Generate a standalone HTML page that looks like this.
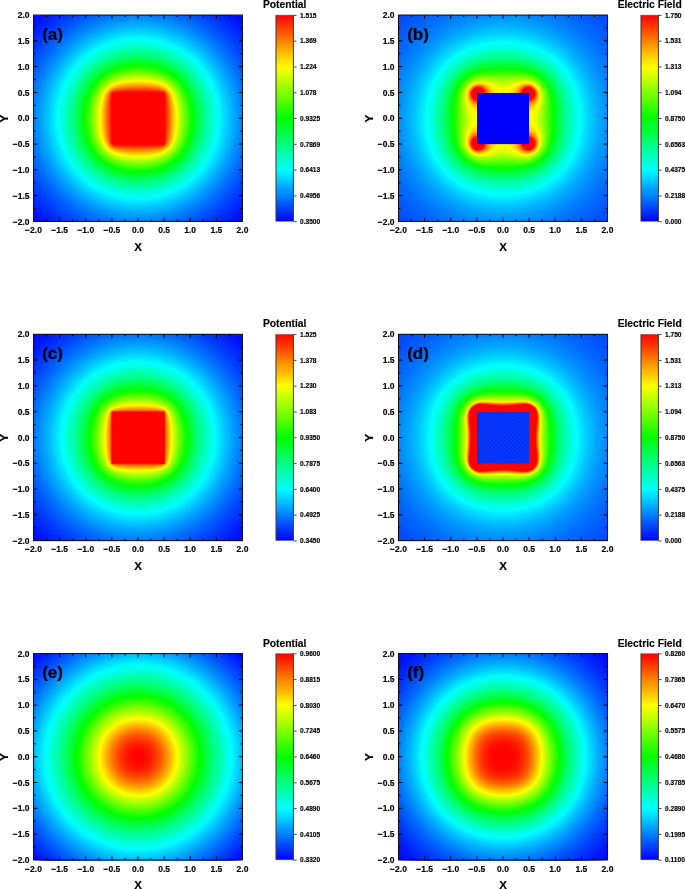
<!DOCTYPE html>
<html><head><meta charset="utf-8"><title>Potential and electric field of a charged cube</title>
<style>
html,body{margin:0;padding:0;background:#fff}
svg{display:block}
text{font-family:"Liberation Sans",sans-serif;font-weight:bold;fill:#000}
.tk text{font-size:8.5px;stroke:#000;stroke-width:.15px}
.cl text{font-size:6.6px;stroke:#000;stroke-width:.15px}
.ax{font-size:10.3px;stroke:#000;stroke-width:.15px}
.tag{font-size:17px;stroke:#000;stroke-width:.2px}
</style></head><body>
<svg width="685" height="889" viewBox="0 0 685 889">
<defs>
<linearGradient id="cb" x1="0" y1="1" x2="0" y2="0"><stop offset=".00" stop-color="#0005ff"/><stop offset=".01" stop-color="#0005ff"/><stop offset=".01" stop-color="#000fff"/><stop offset=".02" stop-color="#000fff"/><stop offset=".02" stop-color="#001aff"/><stop offset=".03" stop-color="#001aff"/><stop offset=".03" stop-color="#0024ff"/><stop offset=".04" stop-color="#0024ff"/><stop offset=".04" stop-color="#002eff"/><stop offset=".05" stop-color="#002eff"/><stop offset=".05" stop-color="#0038ff"/><stop offset=".06" stop-color="#0038ff"/><stop offset=".06" stop-color="#0042ff"/><stop offset=".07" stop-color="#0042ff"/><stop offset=".07" stop-color="#004cff"/><stop offset=".08" stop-color="#004cff"/><stop offset=".08" stop-color="#0057ff"/><stop offset=".09" stop-color="#0057ff"/><stop offset=".09" stop-color="#0061ff"/><stop offset=".10" stop-color="#0061ff"/><stop offset=".10" stop-color="#006bff"/><stop offset=".11" stop-color="#006bff"/><stop offset=".11" stop-color="#0075ff"/><stop offset=".12" stop-color="#0075ff"/><stop offset=".12" stop-color="#0080ff"/><stop offset=".13" stop-color="#0080ff"/><stop offset=".13" stop-color="#008aff"/><stop offset=".14" stop-color="#008aff"/><stop offset=".14" stop-color="#0094ff"/><stop offset=".15" stop-color="#0094ff"/><stop offset=".15" stop-color="#009eff"/><stop offset=".16" stop-color="#009eff"/><stop offset=".16" stop-color="#00a8ff"/><stop offset=".17" stop-color="#00a8ff"/><stop offset=".17" stop-color="#00b2ff"/><stop offset=".18" stop-color="#00b2ff"/><stop offset=".18" stop-color="#00bdff"/><stop offset=".19" stop-color="#00bdff"/><stop offset=".19" stop-color="#00c7ff"/><stop offset=".20" stop-color="#00c7ff"/><stop offset=".20" stop-color="#00d1ff"/><stop offset=".21" stop-color="#00d1ff"/><stop offset=".21" stop-color="#00dbff"/><stop offset=".22" stop-color="#00dbff"/><stop offset=".22" stop-color="#00e6ff"/><stop offset=".23" stop-color="#00e6ff"/><stop offset=".23" stop-color="#00f0ff"/><stop offset=".24" stop-color="#00f0ff"/><stop offset=".24" stop-color="#00faff"/><stop offset=".25" stop-color="#00faff"/><stop offset=".25" stop-color="#00fffa"/><stop offset=".26" stop-color="#00fffa"/><stop offset=".26" stop-color="#00fff0"/><stop offset=".27" stop-color="#00fff0"/><stop offset=".27" stop-color="#00ffe5"/><stop offset=".28" stop-color="#00ffe5"/><stop offset=".28" stop-color="#00ffdb"/><stop offset=".29" stop-color="#00ffdb"/><stop offset=".29" stop-color="#00ffd1"/><stop offset=".30" stop-color="#00ffd1"/><stop offset=".30" stop-color="#00ffc7"/><stop offset=".31" stop-color="#00ffc7"/><stop offset=".31" stop-color="#00ffbd"/><stop offset=".32" stop-color="#00ffbd"/><stop offset=".32" stop-color="#00ffb2"/><stop offset=".33" stop-color="#00ffb2"/><stop offset=".33" stop-color="#00ffa8"/><stop offset=".34" stop-color="#00ffa8"/><stop offset=".34" stop-color="#00ff9e"/><stop offset=".35" stop-color="#00ff9e"/><stop offset=".35" stop-color="#00ff94"/><stop offset=".36" stop-color="#00ff94"/><stop offset=".36" stop-color="#00ff8a"/><stop offset=".37" stop-color="#00ff8a"/><stop offset=".37" stop-color="#00ff80"/><stop offset=".38" stop-color="#00ff80"/><stop offset=".38" stop-color="#00ff75"/><stop offset=".39" stop-color="#00ff75"/><stop offset=".39" stop-color="#00ff6b"/><stop offset=".40" stop-color="#00ff6b"/><stop offset=".40" stop-color="#00ff61"/><stop offset=".41" stop-color="#00ff61"/><stop offset=".41" stop-color="#00ff57"/><stop offset=".42" stop-color="#00ff57"/><stop offset=".42" stop-color="#00ff4c"/><stop offset=".43" stop-color="#00ff4c"/><stop offset=".43" stop-color="#00ff42"/><stop offset=".44" stop-color="#00ff42"/><stop offset=".44" stop-color="#00ff38"/><stop offset=".45" stop-color="#00ff38"/><stop offset=".45" stop-color="#00ff2e"/><stop offset=".46" stop-color="#00ff2e"/><stop offset=".46" stop-color="#00ff24"/><stop offset=".47" stop-color="#00ff24"/><stop offset=".47" stop-color="#00ff1a"/><stop offset=".48" stop-color="#00ff1a"/><stop offset=".48" stop-color="#00ff0f"/><stop offset=".49" stop-color="#00ff0f"/><stop offset=".49" stop-color="#00ff05"/><stop offset=".50" stop-color="#00ff05"/><stop offset=".50" stop-color="#05ff00"/><stop offset=".51" stop-color="#05ff00"/><stop offset=".51" stop-color="#0fff00"/><stop offset=".52" stop-color="#0fff00"/><stop offset=".52" stop-color="#1aff00"/><stop offset=".53" stop-color="#1aff00"/><stop offset=".53" stop-color="#24ff00"/><stop offset=".54" stop-color="#24ff00"/><stop offset=".54" stop-color="#2eff00"/><stop offset=".55" stop-color="#2eff00"/><stop offset=".55" stop-color="#38ff00"/><stop offset=".56" stop-color="#38ff00"/><stop offset=".56" stop-color="#42ff00"/><stop offset=".57" stop-color="#42ff00"/><stop offset=".57" stop-color="#4cff00"/><stop offset=".58" stop-color="#4cff00"/><stop offset=".58" stop-color="#57ff00"/><stop offset=".59" stop-color="#57ff00"/><stop offset=".59" stop-color="#61ff00"/><stop offset=".60" stop-color="#61ff00"/><stop offset=".60" stop-color="#6bff00"/><stop offset=".61" stop-color="#6bff00"/><stop offset=".61" stop-color="#75ff00"/><stop offset=".62" stop-color="#75ff00"/><stop offset=".62" stop-color="#80ff00"/><stop offset=".63" stop-color="#80ff00"/><stop offset=".63" stop-color="#8aff00"/><stop offset=".64" stop-color="#8aff00"/><stop offset=".64" stop-color="#94ff00"/><stop offset=".65" stop-color="#94ff00"/><stop offset=".65" stop-color="#9eff00"/><stop offset=".66" stop-color="#9eff00"/><stop offset=".66" stop-color="#a8ff00"/><stop offset=".67" stop-color="#a8ff00"/><stop offset=".67" stop-color="#b3ff00"/><stop offset=".68" stop-color="#b3ff00"/><stop offset=".68" stop-color="#bdff00"/><stop offset=".69" stop-color="#bdff00"/><stop offset=".69" stop-color="#c7ff00"/><stop offset=".70" stop-color="#c7ff00"/><stop offset=".70" stop-color="#d1ff00"/><stop offset=".71" stop-color="#d1ff00"/><stop offset=".71" stop-color="#dbff00"/><stop offset=".72" stop-color="#dbff00"/><stop offset=".72" stop-color="#e5ff00"/><stop offset=".73" stop-color="#e5ff00"/><stop offset=".73" stop-color="#f0ff00"/><stop offset=".74" stop-color="#f0ff00"/><stop offset=".74" stop-color="#faff00"/><stop offset=".75" stop-color="#faff00"/><stop offset=".75" stop-color="#fffa00"/><stop offset=".76" stop-color="#fffa00"/><stop offset=".76" stop-color="#fff000"/><stop offset=".77" stop-color="#fff000"/><stop offset=".77" stop-color="#ffe500"/><stop offset=".78" stop-color="#ffe500"/><stop offset=".78" stop-color="#ffdb00"/><stop offset=".79" stop-color="#ffdb00"/><stop offset=".79" stop-color="#ffd100"/><stop offset=".80" stop-color="#ffd100"/><stop offset=".80" stop-color="#ffc700"/><stop offset=".81" stop-color="#ffc700"/><stop offset=".81" stop-color="#ffbd00"/><stop offset=".82" stop-color="#ffbd00"/><stop offset=".82" stop-color="#ffb300"/><stop offset=".83" stop-color="#ffb300"/><stop offset=".83" stop-color="#ffa800"/><stop offset=".84" stop-color="#ffa800"/><stop offset=".84" stop-color="#ff9e00"/><stop offset=".85" stop-color="#ff9e00"/><stop offset=".85" stop-color="#ff9400"/><stop offset=".86" stop-color="#ff9400"/><stop offset=".86" stop-color="#ff8a00"/><stop offset=".87" stop-color="#ff8a00"/><stop offset=".87" stop-color="#ff8000"/><stop offset=".88" stop-color="#ff8000"/><stop offset=".88" stop-color="#ff7500"/><stop offset=".89" stop-color="#ff7500"/><stop offset=".89" stop-color="#ff6b00"/><stop offset=".90" stop-color="#ff6b00"/><stop offset=".90" stop-color="#ff6100"/><stop offset=".91" stop-color="#ff6100"/><stop offset=".91" stop-color="#ff5700"/><stop offset=".92" stop-color="#ff5700"/><stop offset=".92" stop-color="#ff4c00"/><stop offset=".93" stop-color="#ff4c00"/><stop offset=".93" stop-color="#ff4200"/><stop offset=".94" stop-color="#ff4200"/><stop offset=".94" stop-color="#ff3800"/><stop offset=".95" stop-color="#ff3800"/><stop offset=".95" stop-color="#ff2e00"/><stop offset=".96" stop-color="#ff2e00"/><stop offset=".96" stop-color="#ff2400"/><stop offset=".97" stop-color="#ff2400"/><stop offset=".97" stop-color="#ff1a00"/><stop offset=".98" stop-color="#ff1a00"/><stop offset=".98" stop-color="#ff0f00"/><stop offset=".99" stop-color="#ff0f00"/><stop offset=".99" stop-color="#ff0500"/><stop offset="1.00" stop-color="#ff0500"/></linearGradient>
<pattern id="chk" width="4.2" height="4.2" patternUnits="userSpaceOnUse" x="476.25" y="412.58">
<rect width="4.2" height="4.2" fill="#053ef8"/>
<circle cx="1.05" cy="1.05" r="1" fill="#0022f7"/><circle cx="3.15" cy="3.15" r="1" fill="#0022f7"/>
</pattern>
</defs>
<rect width="685" height="889" fill="#fff"/>

<g id="pa">
<g transform="translate(0.15 0.3)">
<rect x="33.5" y="15.1" width="209" height="206.3" fill="#0002ff"/>
<path fill="#000aff" d="M34.7 220.4l1.1 1 204.4 0 0.3-0.2 2-2 0-201.9 -2.3-2.2 -204.4 0 -0.3 0.2 -2 2 0 201.9z"/>
<path fill="#0012ff" d="M39.6 220.4l1.1 1 194.6 0 5.2-5 2-2.1 0-192.2 -3-3.1 -4.2-3.9 -194.6 0 -5.2 4.9 -2 2.1 0 192.2z"/>
<path fill="#0018ff" d="M44.6 220.4l1.2 1 184.4 0 4.4-4 5-4.9 2.9-3.2 0-182.1 -3.9-4.2 -4.1-4.1 -4.3-3.8 -184.4 0 -4.4 3.9 -5 5 -2.9 3.2 0 182.1 5 5.3z"/>
<path fill="#001cff" d="M47.2 220.4l1.2 1 179.2 0 3.4-3 3.2-3 5.8-5.9 2.5-2.8 0-177 -5.3-5.7 -5.8-5.6 -3.8-3.3 -179.2 0 -3.4 2.9 -3.2 3 -5.8 6 -2.5 2.7 0 177 3 3.4 3.3 3.4 3.7 3.6z"/>
<path fill="#0020ff" d="M49.8 220.4l1.2 1 174 0 3.5-3 4-3.5 3.4-3.4 3.7-4 2.9-3.3 0-171.9 -2.9-3.4 -3.1-3.3 -3.6-3.6 -3.5-3.2 -4.4-3.7 -174 0 -3.5 2.9 -4 3.6 -3.4 3.4 -3.7 3.9 -2.9 3.4 0 171.9 3.8 4.3 3.8 4 4.1 3.9z"/>
<path fill="#0024ff" d="M52.4 220.4l1.3 1 168.6 0 4.8-4 4.3-3.9 4.1-4 4.5-5 2.5-3 0-166.6 -4-4.7 -4-4.2 -4.1-4 -4-3.6 -4.1-3.3 -168.6 0 -4.8 3.9 -4.3 4 -4.1 4 -4.5 4.9 -2.5 3 0 166.6 4.3 5 4.7 5 5.1 4.8z"/>
<path fill="#0029ff" d="M55.1 220.4l1.3 1 163.2 0 5.8-4.7 5-4.6 5.1-5.1 4.8-5.4 2.2-2.8 0-161.1 -4-4.9 -5-5.4 -5.1-4.9 -5-4.4 -3.8-3 -163.2 0 -5.8 4.7 -5 4.6 -5.1 5.1 -4.8 5.4 -2.2 2.8 0 161.1 4.8 5.7 5.2 5.6 5.7 5.3z"/>
<path fill="#002dff" d="M57.9 220.4l1.3 1 157.6 0 6.3-5 5.5-4.9 5.9-5.9 5.2-6 2.8-3.6 0-155.6 -4.5-5.5 -5.4-6 -5.2-5 -6-5.3 -4.6-3.5 -157.6 0 -6.3 4.9 -5.5 5 -5.9 5.9 -5.2 6 -2.8 3.5 0 155.6 5.3 6.6 5.8 6.1 6 5.8 3.5 2.9z"/>
<path fill="#0032ff" d="M60.7 220.4l1.4 1 151.8 0 6.5-5 3.6-2.9 3.4-3.2 3-3 3.6-3.8 2.7-2.9 3.2-4 2.6-3.4 0-150 -5-6.4 -3-3.4 -3.2-3.5 -3-2.9 -3.2-3 -3.5-3 -3.2-2.6 -4.5-3.3 -151.8 0 -6.5 4.9 -3.6 3 -3.4 3.2 -3 2.9 -3.6 3.8 -2.7 3 -3.2 4 -2.6 3.3 0 150 2.6 3.4 3.2 4 3.2 3.6 3.2 3.3 3.9 3.7 3.6 3.3 3.6 2.9z"/>
<path fill="#0037ff" d="M63.5 220.4l1.5 1 146 0 4.4-3.1 4-3.2 4-3.4 3.5-3.2 3.5-3.6 3.2-3.3 3.4-4 3.1-4 2.4-3.3 0-144.2 -3-4.1 -3-3.8 -3-3.4 -3.6-3.9 -3.5-3.4 -3.9-3.5 -3.5-3 -3.6-2.8 -4.4-3.1 -146 0 -4.4 3.1 -4 3.1 -4 3.4 -3.5 3.2 -3.5 3.6 -3.2 3.4 -3.4 4 -3.1 3.9 -2.4 3.3 0 144.2 3.2 4.3 3.1 4 3.5 4 3.8 3.9 3.5 3.4 4 3.6 4 3.2z"/>
<path fill="#003cff" d="M66.5 220.4l1.5 1 140 0 4.4-3 5-3.8 4-3.4 4.1-3.7 3.9-4 3.7-3.9 3.4-4.1 3.7-4.9 2.3-3.3 0-138.2 -3.1-4.3 -3.8-4.9 -3.4-4 -3.7-4 -4.1-3.9 -4-3.6 -4-3.3 -4-3 -4.4-3 -140 0 -4.4 3 -5 3.8 -4 3.3 -4.1 3.7 -3.9 4 -3.7 4 -3.4 4 -3.7 4.9 -2.3 3.3 0 138.2 3.1 4.3 3.8 5 4.2 4.8 3.9 4.1 4.2 4 4.6 4 4.3 3.4z"/>
<path fill="#0041ff" d="M69.6 220.4l1.5 1 133.8 0 5.4-3.7 5.1-3.7 5-4.2 4-3.6 4-4.1 4.1-4.5 4.1-5 3.6-4.9 2.3-3.5 0-132 -3.7-5.4 -3.3-4.4 -3.8-4.5 -4.3-4.6 -4.4-4.4 -4.5-3.9 -4.1-3.3 -5.1-3.7 -4.4-2.9 -133.8 0 -5.4 3.6 -5.1 3.7 -5 4.2 -4 3.7 -4 4 -4.1 4.6 -4.1 4.9 -3.6 5 -2.3 3.4 0 132 3.7 5.5 3.8 4.9 4.2 5 4.4 4.6 5 4.8 5 4.2 5 3.8z"/>
<path fill="#0046ff" d="M72.7 220.4l1.7 1 127.2 0 5.7-3.6 5.1-3.6 5-4 5.2-4.7 4.8-4.8 4.6-5.1 4-5 4.2-5.9 2.3-3.6 0-125.7 -3.7-5.6 -3.6-5 -4-4.9 -4.8-5.2 -4.8-4.8 -4.5-3.9 -5.1-4 -5.7-4 -4.7-2.9 -127.2 0 -5.7 3.6 -5.1 3.5 -5 4 -5.2 4.7 -4.8 4.8 -4.6 5.1 -4 5 -4.2 6 -2.3 3.6 0 125.7 3.7 5.6 4.3 5.9 4.2 5 4.9 5.2 5 4.8 5.8 4.9 5.3 3.9z"/>
<path fill="#004bff" d="M76 220.4l1.7 1 120.6 0 6-3.7 6-4.1 6.1-4.8 5-4.4 5-5.1 5.1-5.7 4.6-5.9 4-6 2.4-4 0-119 -3.7-6 -4.2-5.9 -4.2-5.2 -5-5.5 -5-5 -5-4.3 -6.1-4.7 -6-4 -5-3 -120.6 0 -6 3.6 -6 4.2 -6.1 4.7 -5 4.5 -5 5 -5.1 5.7 -4.6 6 -4 5.9 -2.4 4 0 119 2.4 4 2 3 4.3 5.9 4.9 6 4.6 5 5.9 5.5 6 5 6.1 4.3z"/>
<path fill="#0051ff" d="M79.4 220.4l1.8 1 113.6 0 6.5-3.7 3.5-2.3 3.5-2.4 6.1-4.7 3.2-2.8 3.3-2.9 5.5-5.7 2.9-3.3 2.4-3 4.4-5.9 2-3 2.4-4 2-3.4 0-112.1 -3.8-6.5 -2.2-3.4 -2.5-3.5 -4.7-6 -5.4-5.9 -5.5-5.3 -6-5.1 -6.2-4.5 -3.9-2.6 -3-1.8 -4.5-2.5 -113.6 0 -6.5 3.7 -3.5 2.2 -3.5 2.5 -6.1 4.6 -3.2 2.8 -3.3 3 -5.5 5.7 -2.9 3.2 -2.4 3 -4.4 6 -2 2.9 -2.4 4 -2 3.5 0 112.1 3.8 6.4 2.2 3.4 2.5 3.6 2.6 3.2 3 3.7 2.7 3 2.8 3 3.1 2.9 3.3 3 6.2 5 3 2.2 4 2.7z"/>
<path fill="#0057ff" d="M83 220.4l1.9 1 106.2 0 4.2-2.2 4-2.3 3-1.9 3.8-2.5 3.2-2.4 3.4-2.6 3.5-3 3.2-2.9 3.1-3 2.9-3.2 3-3.4 2.7-3.3 2.4-3.2 2.5-3.8 1.9-3 2.4-3.9 2.2-4.2 0-104.8 -1.7-3.1 -2.3-4 -2.5-4 -2-2.9 -2.6-3.5 -2.7-3.5 -5.3-5.9 -3-3.1 -3.1-2.9 -3.4-3 -3.6-2.8 -3-2.3 -4-2.7 -3.3-2.1 -3.7-2.2 -5.2-2.7 -106.2 0 -4.2 2.1 -4 2.4 -3 1.8 -3.8 2.6 -3.2 2.3 -3.4 2.6 -3.5 3 -3.2 2.9 -3.1 3.1 -2.9 3.1 -3 3.5 -2.7 3.3 -2.4 3.2 -2.5 3.7 -1.9 3 -2.4 4 -2.2 4.1 0 104.8 2.2 4.2 2.4 3.9 2.4 3.9 2.2 3.1 2.9 3.8 2.5 3.1 3.5 3.9 2.9 3.1 3.1 3 3.3 2.9 3.7 3 3.1 2.4 3 2.1 4 2.7 4 2.4z"/>
<path fill="#005cff" d="M86.7 220.4l2.1 1 98.4 0 4.1-2 4-2.1 4-2.4 4-2.5 4-2.9 3.9-3 3.6-3 3.3-2.9 3.3-3.3 3.4-3.7 2.6-3.1 3.1-3.8 2.8-4 2.7-4 2.3-3.9 2.2-4 2-4 0-97.1 -2-4.1 -2.2-3.9 -2.3-4 -2.7-4 -2.8-3.9 -2.3-3 -2.8-3.3 -3.4-3.6 -2.9-3 -3.7-3.5 -3-2.6 -4.1-3.1 -4-2.9 -4-2.7 -4-2.4 -4-2.2 -5.1-2.4 -98.4 0 -4.1 1.9 -4 2.2 -4 2.3 -4 2.6 -4 2.8 -3.9 3 -3.6 3 -3.3 3 -3.3 3.3 -3.4 3.6 -2.6 3.1 -3.1 3.9 -2.8 3.9 -2.7 4 -2.3 4 -2.2 3.9 -2 4.1 0 97.1 2.5 5 2.2 4 2.5 3.9 2.7 4 2.9 4 3.2 3.9 3.1 3.5 3 3.2 3.4 3.3 3.6 3.2 4.1 3.2 3.3 2.5 3.7 2.5 4 2.5 4 2.3z"/>
<path fill="#0062ff" d="M90.7 220.4l2.3 1 90 0 4.2-1.9 5.1-2.5 5-2.8 4-2.5 4-2.8 4-3 4.1-3.3 3.2-3 3.8-3.7 3-3.3 3.4-3.9 3-4 2.8-4 3.2-4.9 2.2-4 2.6-5 1.9-4.2 0-88.8 -1.9-4.2 -2.6-4.9 -2.2-4 -2.5-4 -2.7-4 -3.2-4.1 -3.1-3.8 -3.6-4 -3.3-3.2 -4-3.7 -4.1-3.3 -4-3.1 -4-2.7 -4-2.5 -5-2.9 -4.1-2 -5.2-2.3 -90 0 -4.2 1.8 -5.1 2.5 -5 2.9 -4 2.5 -4 2.7 -4 3.1 -4.1 3.3 -3.2 3 -3.8 3.7 -3 3.2 -3.4 4 -3 4 -2.8 3.9 -3.2 5 -2.2 4 -2.6 4.9 -1.9 4.2 0 88.8 1.9 4.2 2.6 5 2.8 5 2.6 3.9 2.8 4 3.4 4.4 3 3.5 4 4.3 4 3.9 4 3.5 4.1 3.1 4 2.9 4 2.7 5 2.9 4.1 2.1z"/>
<path fill="#0069ff" d="M95.1 220.4l2.5 1 80.8 0 1.8-0.7 5-2.1 5.1-2.5 4-2.1 5-3.1 5-3.4 4-3 4.1-3.3 3.9-3.6 3.9-4 3.2-3.6 3.6-4.3 2.9-4 2.7-4 2.9-4.9 2.7-5 2.3-4.9 2-4.8 0-79.7 -0.3-0.8 -2.1-5 -2.4-5 -2.7-4.9 -2.4-4 -3.2-4.6 -3.2-4.3 -3.3-4 -3.6-4 -3.9-3.8 -4-3.6 -4.1-3.2 -4-3 -4-2.7 -5-3 -5.1-2.7 -5-2.4 -5.8-2.3 -80.8 0 -0.8 0.3 -5 2 -5 2.4 -5.1 2.7 -4 2.4 -4.7 3 -4.3 3.3 -4.1 3.2 -4 3.6 -3.9 3.8 -3.6 4 -3.5 4.3 -3.5 4.6 -2.7 4 -2.9 5 -2.7 4.9 -2.3 5 -2 4.8 0 79.7 0.7 1.8 2.2 5 2.4 4.9 2.8 5 3.1 4.9 3.6 5 3.1 4 3.5 3.9 3.7 3.9 4 3.8 4.1 3.4 4 3.1 5 3.5 4 2.5 5 2.8 5.1 2.5z"/>
<path fill="#006fff" d="M99.9 220.4l2.9 1 70.4 0 6-2.1 5-2.1 5-2.5 4.1-2.1 5-3 4-2.7 4-3 4.2-3.3 3.9-3.5 4-4 3.1-3.4 3.3-4 3-4 3.4-4.9 2.4-4 2.7-5 2.4-4.9 2-5 1.8-4.9 0-69.5 -1.8-5 -1.6-3.9 -2.3-5 -2.7-4.9 -2.9-5 -2.7-4 -2.9-3.9 -3.2-4 -3.6-4 -3.9-3.9 -3.5-3.2 -4.6-3.8 -4.5-3.3 -4-2.7 -4-2.5 -5.1-2.7 -5-2.4 -5-2.1 -6-2.1 -70.4 0 -5 1.7 -4 1.6 -5 2.3 -5.1 2.6 -5 2.9 -4 2.7 -5 3.6 -4 3.3 -4.1 3.6 -3.4 3.4 -3.7 4 -3.3 4 -3 3.9 -3.4 5 -2.4 4 -2.7 4.9 -2.4 5 -2 4.9 -1.8 5 0 69.5 2.2 5.9 2.1 5 2.4 4.9 2.8 5 3.1 4.9 2.8 4 3.1 4 3.6 4.2 3.5 3.7 4.2 4 4.4 3.7 4 3.1 4.4 3.1 4.6 2.9 4 2.3 5.1 2.5 5 2.3z"/>
<path fill="#0076ff" d="M105.2 220.4l3.4 1 58.8 0 5.8-1.7 5-1.8 5-2.1 5-2.4 5.1-2.7 4-2.5 5-3.4 4-3 4-3.3 4.1-3.8 3-3.1 3.6-3.9 3.2-4 3-4 2.6-3.9 3-5 2.1-4 2.3-4.9 2.1-5 1.8-4.9 1.4-4.8 0-58 -1.4-4.7 -1.8-5 -2.1-4.9 -2.3-5 -2.7-4.9 -2.4-4 -3.4-5 -3-3.9 -3.3-4 -3.6-4 -3.1-3.1 -4.1-3.6 -4-3.2 -4-3 -4-2.7 -5-3 -5.1-2.6 -4-1.9 -5-2.1 -5-1.8 -5.8-1.7 -58.8 0 -4.8 1.4 -5 1.7 -5 2 -5 2.4 -5.1 2.6 -4 2.4 -5 3.3 -4 3 -4 3.2 -4.1 3.6 -4 4.1 -3 3.3 -3.8 4.6 -3 4 -2.6 4 -3 4.9 -2.1 4 -2.3 5 -2.1 4.9 -1.8 5 -1.4 4.7 0 58 1.8 5.7 1.8 5 2.1 5 2.4 4.9 2.8 5 2.4 4 3.5 4.9 3 4 3.4 4 3.8 3.9 3.1 3 4.1 3.6 4.2 3.3 4.8 3.4 5 3.2 4.1 2.2 5 2.6 5 2.2 5 1.9z"/>
<path fill="#007cff" d="M111.6 220.4l4.4 1 44 0 4.1-0.9 4-1.1 4.1-1.2 4-1.4 4-1.6 4-1.8 4-1.9 4.1-2.2 4-2.4 4-2.7 4-3 4.5-3.6 3.6-3.3 3.6-3.7 3.6-3.9 3.2-4 3-4 3.2-4.9 2.9-5 2.1-3.9 1.8-4 2-5 1.8-4.9 1.5-5 1.4-6.1 0-43.4 -0.9-4.1 -1.1-3.9 -1.2-4 -1.5-4 -1.6-3.9 -1.8-4 -1.4-3 -2.2-4 -3-4.9 -2.7-4 -3-4 -3.4-3.9 -3.3-3.7 -3.4-3.3 -3.7-3.3 -4-3.3 -4-2.9 -4-2.7 -4-2.4 -5.1-2.7 -5-2.4 -5-2.1 -5-1.7 -5.1-1.6 -7.1-1.6 -44 0 -4.1 0.9 -4 1 -4.1 1.3 -4 1.4 -4 1.5 -4 1.8 -3 1.5 -4.1 2.1 -5 3 -4 2.7 -4 2.9 -4 3.3 -4.1 3.6 -3.6 3.7 -3.6 4 -3.2 3.9 -3 4 -3.2 5 -2.9 4.9 -2.1 4 -1.8 4 -2 4.9 -1.8 5 -1.5 4.9 -1.4 6.1 0 43.4 0.9 4.1 1.1 4 1.2 4 1.5 3.9 1.6 4 1.8 4 2 3.9 2.2 4 3.1 5 2.8 3.9 3 4 3.4 4 3.8 3.9 3.8 3.6 4 3.4 4 3.1 4 2.9 5 3.1 4.1 2.2 5 2.5 5 2.2 5 1.9 5.1 1.6z"/>
<path fill="#0083ff" d="M120 220.4l7.6 1 20.8 0 6.7-0.8 6-1.2 5-1.2 5.1-1.5 5-1.7 4-1.6 5-2.3 4-2.1 5.1-2.9 4-2.6 4-2.9 4-3.2 4-3.5 3.4-3.3 3.7-3.9 3-3.6 3.3-4.4 2.7-3.9 2.4-4 2.8-5 2.3-4.9 1.7-4 1.5-4 1.6-4.9 1.3-5 1.1-4.9 0.9-5 0.5-4.6 0-20.6 -0.7-5.5 -0.9-5 -1.1-5 -1.4-4.9 -1.7-5 -1.9-4.9 -1.8-4 -2.5-5 -2.9-4.9 -2.5-4 -2.9-4 -3.1-3.9 -3.5-4 -3.2-3.3 -4.1-3.8 -4-3.3 -4-3.1 -4-2.7 -4-2.5 -5.1-2.7 -4-2 -5-2.2 -5-1.8 -5.1-1.6 -5-1.3 -5-1.1 -5-0.8 -4.7-0.5 -20.8 0 -5.7 0.6 -5 0.9 -5 1.1 -5 1.4 -5.1 1.6 -5 2 -4 1.7 -5 2.5 -5.1 2.8 -4 2.6 -4 2.8 -4 3.1 -4 3.4 -3.4 3.2 -3.8 4 -3.4 3.9 -3.1 4 -2.7 4 -2.5 4 -2.8 4.9 -2 4 -2.2 4.9 -1.9 5 -1.6 5 -1.3 4.9 -1.1 5 -0.9 4.9 -0.5 4.6 0 20.6 0.7 5.6 1.1 6 1.2 4.9 1.4 5 1.7 4.9 2 5 2.3 5 2.1 3.9 3 5 2.6 3.9 2.9 4 3.3 4 3.6 4 4 3.9 4.3 3.8 3.9 3.2 4.1 2.9 4 2.6 5.1 2.9 4 2.1 4 1.8 5 2.1 5 1.7 5.1 1.5 5 1.2z"/>
<path fill="#008aff" d="M124.8 219.4l5.2 0.5 5 0.3 5 0 5-0.2 5.1-0.5 5-0.6 5-1 5-1.1 5.1-1.5 5-1.7 4-1.6 5-2.3 5-2.6 4.1-2.3 4-2.6 3.6-2.6 3.8-3 3.6-3.1 4-3.8 3.1-3.3 3.1-3.7 3.1-4 2.8-3.9 2.5-4 2.2-4 2.5-4.9 2.2-5 1.5-4 1.6-4.9 1.4-5 1.1-4.9 0.8-5 0.6-5 0.4-4.9 0.1-6 -0.2-4.9 -0.4-5 -0.6-4.9 -0.9-5 -1.1-5 -1.5-4.9 -1.6-5 -2-4.9 -1.8-4 -2.6-5 -2.3-3.9 -2.6-4 -2.8-4 -3.2-4 -3.3-3.8 -3.1-3.1 -4-3.7 -4-3.4 -4-3 -4-2.8 -4-2.4 -4.1-2.3 -5-2.4 -5-2.2 -4-1.5 -5.1-1.6 -5-1.3 -5-1.1 -5-0.8 -5.1-0.6 -5-0.4 -6-0.1 -5 0.2 -5.1 0.4 -5 0.6 -5 0.9 -5 1.1 -5 1.4 -5.1 1.7 -5 2 -4 1.7 -5 2.6 -4.1 2.3 -4 2.5 -4 2.8 -4 3.1 -3.9 3.3 -3.2 3 -3.7 4 -3.4 3.9 -3.1 4 -2.8 4 -2.5 3.9 -2.2 4 -2.5 5 -2.2 4.9 -1.5 4 -1.6 5 -1.4 4.9 -1.1 5 -0.8 4.9 -0.6 5 -0.4 5 -0.1 5.9 0.2 5 0.4 4.9 0.6 5 0.9 5 1.1 4.9 1.5 5 1.6 4.9 2 5 1.8 4 2.6 4.9 2.3 4 2.6 4 3.3 4.6 3.5 4.3 3.5 3.9 3.1 3 4 3.6 4 3.3 4 3 4 2.7 4.1 2.4 4 2.1 5 2.4 5 2.1 5 1.8 5.1 1.5 5 1.2 5 1z"/>
<path fill="#0091ff" d="M127.7 218.4l4.3 0.4 5 0.1 5 0 5-0.4 5.1-0.5 5-0.8 5-1 5-1.3 5.1-1.6 4-1.5 5-2.1 4-1.9 5-2.7 4.1-2.5 4-2.7 4-3 3.9-3.3 3.3-3 2.9-2.9 3.6-4 3.2-4 2.9-3.9 2.7-4 2.3-4 2.1-3.9 2.4-5 1.6-4 1.8-4.9 1.4-5 1.2-4.9 1-5 0.7-5 0.5-4.9 0.2-5 0-5 -0.3-4.9 -0.5-5 -0.8-4.9 -1-5 -1.2-5 -1.6-4.9 -1.8-5 -2.1-4.9 -2-4 -2.2-4 -2.4-3.9 -2.6-4 -3.1-4.1 -3.2-3.8 -3.7-4 -3.2-3.1 -4-3.5 -4-3.2 -4-2.9 -4-2.5 -4.1-2.4 -4-2 -5-2.3 -4-1.7 -5-1.7 -5.1-1.5 -5-1.2 -5-0.9 -5-0.7 -5.1-0.4 -5-0.3 -5 0.1 -5 0.2 -5.1 0.5 -5 0.8 -5 1 -5 1.2 -5.1 1.5 -5 1.8 -5 2.1 -4 2 -4 2.1 -4.1 2.4 -4 2.6 -4.1 3.1 -3.9 3.1 -4 3.7 -3.1 3.1 -3.6 3.9 -3.2 4 -2.9 4 -2.7 4 -2.3 3.9 -2.1 4 -2.4 5 -1.6 3.9 -1.8 5 -1.4 4.9 -1.2 5 -1 5 -0.7 4.9 -0.5 5 -0.2 4.9 0 5 0.3 5 0.5 4.9 0.8 5 1 4.9 1.2 5 1.6 5 1.8 4.9 2.1 5 2 4 2.7 4.9 2.5 4 2.8 3.9 3 4 3.3 3.9 3 3.2 4.1 3.8 3.4 3 3.8 3 4.2 3 4.6 2.9 4.1 2.3 4 2 5 2.2 5 1.9 5.1 1.7 5 1.3 5 1.1 5 0.9z"/>
<path fill="#09f" d="M129.3 216.4l4.7 0.3 5 0.1 5-0.2 5.1-0.4 5-0.6 5-0.9 4-1 5-1.3 4.1-1.4 5-1.9 5-2.2 4-2 4-2.3 4.1-2.5 4-2.8 4-3.1 4-3.5 3-2.9 3.1-3.1 3.4-4 3-3.9 2.8-4 2.5-4 2.2-3.9 2.5-5 1.7-4 1.5-3.9 1.6-5 1.4-5 0.9-3.9 0.8-5 0.7-5 0.3-4.9 0.1-5 -0.1-4.9 -0.3-5 -0.7-5 -0.8-4.9 -0.9-4 -1.4-4.9 -1.6-5 -1.5-4 -1.7-3.9 -2.5-5 -2.8-5 -2.6-3.9 -2.8-4 -2.7-3.4 -3.1-3.5 -3.8-4 -3.2-3 -4-3.3 -4-3.1 -4-2.7 -4.1-2.5 -4-2.2 -5-2.4 -4-1.7 -4-1.5 -5.1-1.6 -5-1.3 -4-0.9 -5-0.9 -5.1-0.6 -5-0.3 -5-0.2 -5 0.2 -5 0.3 -5.1 0.6 -5 0.9 -4 0.9 -5 1.3 -5.1 1.6 -4 1.5 -4 1.7 -5 2.4 -5 2.8 -4.1 2.5 -4 2.8 -3.5 2.7 -3.5 3 -4 3.8 -3.1 3.2 -3.4 3.9 -3 4 -2.8 4 -2.5 3.9 -2.2 4 -2.5 5 -1.7 3.9 -1.5 4 -1.6 5 -1.4 4.9 -0.9 4 -0.8 4.9 -0.7 5 -0.3 5 -0.1 4.9 0.1 5 0.3 4.9 0.7 5 0.8 5 0.9 3.9 1.4 5 1.6 5 1.9 4.9 2.3 5 2 3.9 2.3 4 2.6 4 2.8 3.9 3.2 4 3.5 4 2.9 3 3.2 2.9 4 3.4 4 3 4 2.8 4.1 2.4 5 2.7 4 1.9 5 2.1 5 1.8 4.1 1.2 5 1.3 5 1 5 0.8z"/>
<path fill="#00a1ff" d="M133 215.4l4 0.2 5-0.1 5-0.3 5.1-0.6 5-0.8 5-1.1 4-1 5.1-1.6 5-1.9 4-1.7 5-2.5 4-2.2 4.1-2.5 4-2.8 3.8-2.9 3.2-2.7 3.4-3.2 3.7-3.8 3-3.4 2.9-3.7 2.8-4 2.5-4 2.3-3.9 2-4 1.8-4 2-4.9 1.3-4 1.5-5 1.1-4.9 0.7-4 0.7-5 0.4-4.9 0.2-5 0-4 -0.3-4.9 -0.5-5 -0.8-4.9 -1.1-5 -1-4 -1.5-4.9 -1.5-4 -2-4.9 -1.9-4 -2.8-5 -2.4-3.9 -2.8-4 -2.6-3.5 -3-3.6 -3.1-3.2 -3.6-3.6 -3.4-3 -4-3.1 -4-2.9 -4.1-2.6 -5-2.8 -4-2 -4-1.8 -5-1.9 -4.1-1.3 -5-1.4 -5-1.1 -4-0.8 -5-0.6 -5.1-0.4 -5-0.2 -4 0 -5 0.3 -5.1 0.5 -5 0.8 -5 1 -4 1 -5.1 1.5 -4 1.4 -5 2.1 -4 1.9 -5 2.7 -4.1 2.4 -4 2.7 -3.5 2.6 -3.6 3 -3.3 3 -3.6 3.6 -3.1 3.4 -3.2 3.9 -2.8 4 -2.6 3.9 -2.9 5 -2 4 -1.8 3.9 -2 5 -1.3 4 -1.5 4.9 -1.1 5 -0.7 4 -0.7 4.9 -0.4 5 -0.2 4.9 0.1 5 0.3 5 0.6 4.9 0.8 5 1.1 4.9 1.1 4 1.6 5 1.8 4.9 1.8 4 2.5 5 2.3 3.9 2.5 4 2.8 4 2.9 3.7 2.8 3.2 3.3 3.4 3.7 3.5 3.5 3 3.8 2.9 4 2.8 4.1 2.5 4 2.2 4 2 4 1.8 5 1.9 5.1 1.7 5 1.3 5 1.1 5 0.8 4.1 0.5z"/>
<path fill="#00a9ff" d="M124.2 212.5l4.8 0.5 5 0.3 5 0.1 4-0.1 5-0.4 4.1-0.5 4-0.6 5-1.1 4-1 5.1-1.5 5-1.9 4-1.7 4-1.9 4-2.2 4.1-2.4 4-2.8 3.6-2.7 3.5-2.9 3.3-3 3.6-3.7 3.1-3.5 3-3.7 2.1-3 2.6-4 2.4-3.9 2-4 2.3-5 1.6-3.9 1.4-4 1.4-5 1-3.9 0.9-5 0.7-5 0.4-3.9 0.2-5 0-5 -0.3-4.9 -0.4-4 -0.8-4.9 -1-5 -1-4 -1.5-4.9 -1.4-4 -2.1-5 -1.9-3.9 -2.1-4 -2.4-4 -2.7-3.9 -3-4 -2.5-3 -3.6-3.9 -3.4-3.3 -3-2.7 -4-3.2 -4-2.9 -4.1-2.6 -4-2.3 -4-2 -5-2.3 -4-1.5 -4.1-1.4 -5-1.4 -4-0.9 -5-1 -5-0.7 -4.1-0.3 -5-0.2 -5 0 -5 0.3 -4.1 0.4 -5 0.7 -5 1 -4 1 -5 1.5 -4.1 1.4 -5 2 -4 1.9 -4 2.1 -4 2.4 -4.1 2.6 -4 3 -3 2.4 -4 3.6 -3.3 3.3 -2.8 3 -3.2 4 -2.9 4 -2.6 3.9 -2.4 4 -2 4 -2.3 4.9 -1.6 4 -1.4 4 -1.4 4.9 -1 4 -0.9 5 -0.7 4.9 -0.4 4 -0.2 4.9 0 5 0.3 5 0.4 3.9 0.8 5 1 5 1 3.9 1.5 5 1.4 3.9 2.1 5 2.4 5 2.2 3.9 2.4 4 2.8 4 2.7 3.5 3.1 3.6 3.6 3.8 3.4 3.2 3.2 2.7 3.8 3 4 2.8 4.1 2.5 4 2.2 4 2 4 1.8 5 1.9 5.1 1.6 5 1.3 5 1.1z"/>
<path fill="#00b2ff" d="M125.8 211.5l4.2 0.4 5 0.3 5 0 5-0.2 4.1-0.4 5-0.7 5-0.9 4-1 4-1.1 5.1-1.7 4-1.6 4-1.8 4-2 4-2.3 4.1-2.5 4-2.9 4-3.2 3-2.6 3-2.9 3-3.2 3-3.5 2.3-2.9 2.8-4 2.5-4 2.3-3.9 2-4 1.7-4 1.9-4.9 1.3-4 1.4-5 0.8-3.9 0.9-5 0.6-4.9 0.3-4 0.1-5 -0.1-4.9 -0.4-5 -0.7-5 -0.9-4.9 -0.9-4 -1.4-4.9 -1.3-4 -1.6-4 -1.7-3.9 -2-4 -2.3-4 -2.5-4 -2.8-3.9 -3.1-4 -2.6-3 -3.6-3.6 -3-2.8 -3-2.6 -4-3.1 -4-2.8 -4.1-2.5 -4-2.2 -4-1.9 -4-1.8 -5-1.9 -4.1-1.2 -5-1.4 -4-0.8 -5-0.9 -5.1-0.6 -4-0.2 -5-0.2 -5 0.2 -5 0.3 -5.1 0.7 -5 0.9 -4 0.9 -5 1.4 -4.1 1.3 -4 1.5 -4 1.8 -4 1.9 -4 2.2 -4.1 2.5 -4 2.8 -4 3.1 -3 2.6 -3 2.8 -3.6 3.6 -2.6 3 -3.1 4 -2.8 3.9 -2.5 4 -2.3 4 -2 4 -1.7 3.9 -1.9 5 -1.3 3.9 -1.4 5 -0.8 4 -0.9 4.9 -0.6 5 -0.3 4 -0.1 4.9 0.1 5 0.4 4.9 0.7 5 0.9 5 0.9 3.9 1.4 5 1.3 4 1.6 3.9 2.2 5 2.1 4 2.3 3.9 2.5 4 2.9 4 3.3 3.9 2.7 3 2.9 3 3.7 3.4 3.1 2.5 3.9 3 4.1 2.7 4 2.4 4 2.1 4 1.9 5 2.1 4.1 1.4 5 1.6 4 1 5 1z"/>
<path fill="#00baff" d="M128 209.5l4 0.3 5 0.2 5-0.1 4-0.2 5.1-0.6 4-0.6 4-0.8 5-1.2 5-1.6 4.1-1.4 4-1.7 4-1.9 4-2.2 4-2.4 4.1-2.7 3-2.2 3.3-2.7 3.7-3.4 3-3.1 3-3.3 2.6-3.1 2.9-4 1.9-3 2.4-3.9 2.1-4 1.9-4 1.6-3.9 1.4-4 1.6-5 0.9-3.9 1-5 0.6-4 0.5-4.9 0.2-4 0-5 -0.2-4.9 -0.5-5 -0.6-3.9 -0.7-4 -1.2-5 -1.6-4.9 -1.4-4 -1.6-4 -1.9-3.9 -2.1-4 -2.4-4 -2.3-3.5 -2.5-3.4 -3.3-4 -2.7-3 -3-2.9 -3.6-3.3 -3.4-2.7 -3.6-2.7 -4.1-2.6 -4-2.4 -4-2 -4-1.9 -4-1.6 -4.1-1.4 -5-1.5 -4-1 -5-0.9 -4-0.6 -5.1-0.5 -4-0.2 -5 0 -5 0.2 -5.1 0.5 -4 0.6 -4 0.7 -5 1.2 -5 1.5 -4.1 1.4 -4 1.6 -4 1.9 -4 2 -4 2.4 -3.6 2.3 -3.5 2.5 -4 3.2 -3 2.7 -3 3 -3.3 3.5 -2.8 3.3 -2.7 3.7 -2.6 3.9 -2.4 4 -2.1 4 -1.9 3.9 -1.6 4 -1.4 4 -1.6 4.9 -0.9 4 -1 5 -0.6 3.9 -0.5 5 -0.2 3.9 0 5 0.2 5 0.5 4.9 0.6 4 0.7 4 1.2 4.9 1.6 5 1.4 4 1.6 3.9 1.9 4 2.1 4 2.4 3.9 2.6 4 3 4 2.8 3.2 3.4 3.7 3.1 3 3.5 3.1 3 2.3 4 2.9 4.1 2.6 4 2.2 4 2.1 4 1.8 4 1.5 5.1 1.7 4 1.1 5 1.1 5 0.9z"/>
<path fill="#00c4ff" d="M129.8 208.5l4.2 0.3 5 0 4-0.1 5-0.4 4.1-0.5 5-0.8 4-0.9 4-1.1 5.1-1.6 4-1.6 4-1.7 4-2 4-2.3 3-1.8 4.1-2.8 3.3-2.5 3.5-3 3.2-3 2.9-3 2.6-2.9 2.6-3.3 2.7-3.7 2.5-4 2.3-3.9 2-4 1.8-4 1.5-3.9 1.7-5 1.1-4 0.9-3.9 0.9-5 0.5-4 0.4-4.9 0.1-4 -0.1-4.9 -0.2-4 -0.6-5 -0.6-3.9 -1.1-5 -1-4 -1.3-3.9 -1.8-5 -1.7-4 -2-3.9 -2.2-4 -2.5-4 -2.3-3.4 -2.8-3.5 -3.3-3.8 -3-3.1 -3-2.9 -3-2.6 -3.3-2.5 -3.8-2.7 -4-2.5 -4-2.2 -4-2 -4-1.8 -4-1.5 -5.1-1.6 -4-1.1 -4-0.9 -5-0.9 -4.1-0.5 -5-0.4 -4-0.1 -5 0.1 -4 0.2 -5.1 0.6 -4 0.6 -5 1 -4 1.1 -4 1.2 -5.1 1.8 -4 1.7 -4 1.9 -4 2.2 -4 2.5 -3.5 2.3 -3.6 2.7 -3.8 3.3 -3.2 2.9 -2.9 3 -2.6 3 -2.6 3.2 -2.7 3.7 -2.5 4 -2.3 4 -2 3.9 -1.8 4 -1.5 4 -1.7 4.9 -1.1 4 -0.9 4 -0.9 4.9 -0.5 4 -0.4 5 -0.1 4.9 0.1 4 0.3 5 0.5 3.9 0.8 5 1.1 4.9 1.1 4 1.7 5 1.5 3.9 1.8 4 2 4 2.3 3.9 1.9 3 2.8 4 2.6 3.3 3 3.4 3 3.2 3.2 3 3.8 3.2 3.6 2.7 3.5 2.4 4 2.4 4 2.2 4 1.9 4 1.7 5.1 1.8 4 1.3 4 1 5 1 4 0.7z"/>
<path fill="#00cdff" d="M134.5 206.5l4.5 0.1 4-0.1 5-0.4 4.1-0.6 4-0.6 5-1.2 4-1.1 4-1.3 4.1-1.5 4-1.7 4-2 4-2.3 3.5-2.2 3.6-2.4 4-3.2 3-2.6 3-2.9 3-3.2 3-3.5 2.3-3 2.1-3 2.5-3.9 2.2-4 1.9-4 1.7-3.9 1.5-4 1.3-4 1.3-4.9 0.8-4 0.8-5 0.5-3.9 0.2-4 0.1-4 -0.1-4.9 -0.4-5 -0.6-4 -0.7-3.9 -1.1-5 -1.1-4 -1.3-3.9 -1.6-4 -1.7-4 -2-3.9 -2.3-4 -2.2-3.5 -2.5-3.4 -2.6-3.2 -3-3.5 -3-3.1 -3-2.8 -3-2.5 -4-3.1 -3.1-2 -4-2.5 -4-2.1 -4-2 -4-1.7 -4.1-1.4 -4-1.3 -5-1.3 -4-0.8 -5-0.8 -4.1-0.4 -4-0.3 -4 0 -5 0.1 -5 0.4 -4.1 0.5 -4 0.7 -5 1.1 -4 1.1 -4 1.3 -4.1 1.5 -4 1.8 -4 2 -4 2.2 -3.5 2.2 -3.6 2.5 -3.2 2.5 -3.5 2.9 -3.1 3 -2.8 3 -2.6 3 -3.1 3.9 -2.1 3 -2.5 4 -2.2 4 -1.9 3.9 -1.7 4 -1.5 4 -1.3 3.9 -1.3 5 -0.8 4 -0.8 4.9 -0.5 4 -0.2 4 -0.1 3.9 0.1 5 0.4 4.9 0.6 4 0.7 4 1.1 4.9 1.1 4 1.3 4 1.6 3.9 1.7 4 2 4 2.3 4 2.2 3.4 2.5 3.5 3.2 4 2.7 2.9 2.9 3 3.2 3 3.6 3 3 2.2 3.1 2.1 4 2.4 4 2.2 4 1.9 4 1.7 4.1 1.5 4 1.2 5 1.3 4 0.8 5 0.8 4.1 0.4z"/>
<path fill="#00d7ff" d="M124.5 204.5l4.5 0.6 4 0.3 4 0.1 5-0.1 4-0.2 4.1-0.5 5-0.7 4-0.9 4-1 4-1.2 4.1-1.4 4-1.7 4-1.9 4-2.1 3.6-2.2 3.4-2.3 3.1-2.2 3-2.5 3.3-2.9 3-3 2.7-2.9 2.4-3 2.6-3.5 2.4-3.5 1.8-2.9 2.2-4 1.9-4 1.7-3.9 1.4-4 1.3-4 1-3.9 1-5 0.8-5 0.3-3.9 0.3-4 0-5 -0.3-4.9 -0.3-4 -0.6-4 -0.8-3.9 -1.2-5 -1.2-4 -1.3-3.9 -1.7-4 -1.8-4 -2.1-3.9 -2.4-4 -2-3 -3-3.9 -2.4-3 -2.7-3 -3-3 -3.3-2.9 -3-2.4 -3.5-2.6 -3.6-2.3 -3-1.8 -4-2.2 -4-1.9 -4-1.6 -4.1-1.4 -4-1.2 -4-1.1 -5-1 -5-0.7 -4.1-0.4 -4-0.2 -5 0 -5 0.2 -4.1 0.4 -4 0.5 -4 0.8 -5 1.2 -4 1.1 -4.1 1.4 -4 1.6 -4 1.8 -4 2.1 -4 2.4 -3 1.9 -4.1 3 -2.9 2.4 -3.1 2.7 -3 3 -3 3.2 -2.4 3 -2.6 3.4 -2.4 3.5 -1.8 3 -2.2 4 -1.9 3.9 -1.7 4 -1.4 4 -1.3 3.9 -1 4 -1 5 -0.8 4.9 -0.3 4 -0.3 3.9 0 5 0.3 5 0.3 3.9 0.8 5 0.8 4 1.2 4.9 1.3 4 1.4 4 1.7 3.9 1.9 4 2.2 4 2.1 3.5 2.4 3.4 2.7 3.5 2.9 3.5 3.1 3.2 3 2.9 3.3 2.8 3.7 2.9 3.1 2.1 4 2.5 3 1.7 4 2 4 1.8 4.1 1.5 5 1.6 4 1.1 4 0.9z"/>
<path fill="#00e1ff" d="M127.2 202.6l4.8 0.4 4 0.2 4 0 4-0.2 4-0.4 5.1-0.7 4-0.7 4-1 4-1.1 4-1.4 4.1-1.5 3-1.4 4-2 3-1.7 3.9-2.4 3.1-2.2 3.1-2.3 3-2.6 3-2.9 2.9-2.9 2.6-3 2.3-3 2.2-3.1 2.5-3.8 1.7-3 2.1-4 1.7-3.9 1.6-4 1.3-4 1.1-3.9 0.9-4 0.9-5 0.5-3.9 0.3-4 0.1-4 0-4.9 -0.3-4 -0.6-5 -0.7-3.9 -0.8-4 -1.1-4 -1.3-3.9 -1.4-4 -1.8-4 -1.9-3.9 -2.3-4 -1.9-3 -2.6-3.7 -2.5-3.2 -2.6-3 -2.9-3 -3-2.9 -3-2.5 -3.1-2.3 -3.1-2.2 -3.9-2.5 -3-1.7 -4-2 -4-1.7 -4.1-1.5 -4-1.3 -4-1.1 -4-0.9 -5-0.9 -4.1-0.5 -4-0.3 -4-0.1 -5 0.1 -4 0.2 -5.1 0.6 -4 0.7 -4 0.8 -4 1.1 -4 1.2 -4.1 1.5 -4 1.7 -4 1.9 -4 2.2 -3 1.9 -3.8 2.6 -3.3 2.5 -3 2.5 -3 2.9 -2.9 3 -2.6 3 -2.3 2.9 -2.2 3.1 -2.5 3.9 -1.7 3 -2.1 3.9 -1.7 4 -1.6 4 -1.3 3.9 -1.1 4 -0.9 4 -0.9 4.9 -0.5 4 -0.3 4 -0.1 3.9 0 5 0.3 4 0.6 4.9 0.7 4 0.8 4 1.1 3.9 1.3 4 1.4 4 1.8 3.9 1.9 4 2.3 4 2.5 3.8 2.2 3.1 2.8 3.5 3 3.4 3 3 3 2.8 3 2.5 4.1 2.9 3 2 4 2.4 4 2 4 1.9 4.1 1.5 4 1.4 4 1.1 4 1 4 0.7z"/>
<path fill="#00e6ff" d="M127.6 201.6l4.4 0.4 4 0.1 4 0 4-0.1 5.1-0.5 4-0.6 4-0.8 4-0.9 4-1.2 4-1.4 4.1-1.6 3-1.3 3-1.5 4-2.3 3.6-2.2 3.4-2.5 3.1-2.3 3-2.7 3-2.9 3-3.2 2.8-3.3 2.2-3 2.7-3.9 1.8-3 2.1-4 1.5-3 1.6-3.9 1.5-4 1.2-4 1-3.9 0.9-4 0.6-4 0.4-3.9 0.3-4 0.1-5 -0.1-3.9 -0.3-4 -0.5-4 -0.7-3.9 -0.9-4 -1.1-4 -1.3-3.9 -1.5-4 -1.7-4 -2-3.9 -1.7-3 -2.5-4 -2.1-3 -2.3-2.9 -3-3.5 -2.4-2.5 -3.2-3 -3.4-2.9 -3.1-2.3 -3-2.1 -4-2.5 -3-1.6 -4-2 -4-1.7 -4.1-1.5 -4-1.3 -4-1 -4-0.9 -4-0.7 -4.1-0.5 -4-0.3 -4-0.1 -5 0.1 -4 0.3 -5.1 0.5 -4 0.7 -4 0.9 -4 1 -4 1.3 -4.1 1.5 -4 1.7 -4 2 -3 1.6 -4 2.5 -3 2.1 -3.1 2.3 -3.4 2.9 -2.6 2.4 -3 3.1 -3 3.5 -2.3 2.9 -2.1 3 -2.5 4 -1.7 3 -2 3.9 -1.7 4 -1.5 4 -1.3 3.9 -1.1 4 -1.1 5 -0.6 3.9 -0.4 4 -0.3 4 -0.1 4.9 0.1 4 0.3 4 0.7 4.9 0.7 4 0.9 4 1.2 3.9 1.3 4 1.6 4 1.8 3.9 1.5 3 2.3 4 2.3 3.5 2.4 3.4 2.4 3 2.7 3 2.9 2.9 3.3 3 3.3 2.8 3.1 2.2 4 2.6 3 1.8 4 2.1 4 1.8 4.1 1.6 4 1.4 4 1.2 4 0.9 4 0.8z"/>
<path fill="#0ef" d="M125.4 200.6l4.6 0.5 4 0.3 4 0 4 0 5-0.4 4.1-0.5 4-0.7 4-0.8 4-1.1 3-0.9 4.1-1.5 4-1.7 4-1.9 3-1.6 4-2.4 3-2.1 3.1-2.2 3.4-2.9 2.6-2.3 3-3.1 2.2-2.5 2.8-3.4 2.6-3.6 1.9-2.9 1.8-3 2.1-4 1.3-3 1.7-3.9 1.4-4 1.2-4 0.9-3.9 0.8-4 0.6-4 0.4-3.9 0.2-4 0.1-5 -0.3-4.9 -0.4-4 -0.6-4 -0.8-3.9 -0.9-4 -1.2-4 -1.4-3.9 -1.7-4 -1.8-4 -1.6-2.9 -2.3-3.8 -2.1-3.2 -2.2-3 -2.7-3.2 -2.4-2.7 -3-3 -2.6-2.3 -3.2-2.7 -3.9-2.8 -3-2 -3-1.7 -4-2.2 -4-1.8 -4.1-1.7 -4-1.3 -4-1.2 -4-1 -4-0.7 -4-0.6 -4.1-0.4 -4-0.2 -5-0.1 -5 0.3 -4.1 0.4 -4 0.6 -4 0.7 -4 1 -4 1.2 -4 1.3 -4.1 1.7 -4 1.8 -3 1.6 -3.8 2.2 -3.2 2.1 -3 2.2 -3.3 2.6 -2.8 2.5 -3 2.9 -2.4 2.6 -2.6 3.1 -2.9 3.8 -2 3 -1.8 3 -2.2 3.9 -1.8 4 -1.7 4 -1.4 3.9 -1.2 4 -0.9 4 -0.8 3.9 -0.6 4 -0.4 4 -0.2 3.9 -0.1 5 0.3 5 0.4 3.9 0.6 4 0.8 4 0.9 3.9 1.2 4 1.4 4 1.7 3.9 1.8 4 2.2 4 2.5 4 2 2.9 2.3 3 2.9 3.4 3 3.2 3 2.8 3 2.6 3.1 2.3 3 2.1 4 2.5 3 1.7 4 2 4 1.7 4.1 1.5 4 1.3 4 1.1 4 0.8z"/>
<path fill="#00f7ff" d="M132.7 199.6l4.3 0.1 4 0 4-0.2 4.1-0.4 4-0.6 4-0.8 4-1 4-1.2 4-1.4 3.1-1.2 4-1.9 3-1.5 4-2.4 3-1.9 3-2.2 3.1-2.4 3-2.7 3-2.9 2.9-3.2 2.1-2.6 2.5-3.4 2-2.9 1.8-3 2.1-4 1.5-3 1.6-3.9 1.5-4 1.2-4 1-3.9 0.8-4 0.6-4 0.4-3.9 0.2-4 0.1-4 -0.3-4.9 -0.3-4 -0.6-4 -0.7-3.9 -1-4 -1.1-4 -1.4-3.9 -1.6-4 -1.9-4 -1.5-2.9 -2.4-4 -2-3 -2.2-3 -2.3-2.8 -2.8-3.1 -3-3 -3.2-2.8 -2.7-2.2 -3.4-2.4 -3-2 -3-1.8 -4-2.1 -3-1.4 -4.1-1.6 -4-1.4 -4-1.2 -4-1 -4-0.8 -4-0.6 -4.1-0.4 -4-0.2 -4-0.1 -5 0.2 -4 0.4 -4.1 0.5 -4 0.8 -4 0.9 -4 1.1 -4 1.4 -4.1 1.6 -4 1.8 -3 1.6 -4 2.3 -3 2 -3 2.1 -2.9 2.3 -3.2 2.8 -3 3 -2.9 3.2 -2.1 2.6 -2.5 3.3 -2 3 -1.8 3 -2.1 3.9 -1.5 3 -1.6 4 -1.5 3.9 -1.2 4 -1 4 -0.8 3.9 -0.6 4 -0.4 4 -0.2 3.9 -0.1 4 0.3 5 0.3 3.9 0.6 4 0.7 4 1 4 1.1 3.9 1.4 4 1.6 4 1.9 3.9 1.5 3 2.4 4 2 2.9 2.2 3 2.4 3 2.7 3 3 2.9 3.2 2.9 3.1 2.4 3 2.2 4 2.6 3 1.7 4 2 3 1.4 4.1 1.6 4 1.3 4 1.2 4 0.9 4 0.7 4.1 0.6z"/>
<path fill="#00fcff" d="M131.9 198.6l4.1 0.2 4 0 4-0.2 4-0.4 4.1-0.5 4-0.8 4-0.9 4-1.2 4-1.3 3.1-1.2 3-1.3 4-2 3-1.7 4-2.6 3-2.1 3.1-2.4 3-2.6 2.9-2.8 2.8-3 2.3-2.8 2.4-3.2 2-2.9 1.8-3 2.2-4 1.4-3 1.7-3.9 1.1-3 1.3-4 1.1-3.9 0.8-4 0.7-4 0.4-3.9 0.3-4 0.1-4 -0.1-3.9 -0.4-5 -0.5-4 -0.7-3.9 -0.9-4 -1.1-4 -1.3-3.9 -1.6-4 -1.3-3 -2-4 -1.8-2.9 -1.9-3 -2-3 -2.7-3.4 -2.2-2.5 -2.9-3 -2.9-2.8 -3.1-2.5 -3-2.3 -3-2.1 -3-1.8 -4-2.2 -3-1.5 -4-1.7 -4.1-1.5 -4-1.3 -4-1 -4-0.9 -4-0.6 -4.1-0.5 -4-0.3 -4 0 -4 0 -5 0.4 -4.1 0.5 -4 0.7 -4 0.9 -4 1.1 -4 1.3 -4.1 1.6 -3 1.3 -4 2 -3 1.7 -3 1.8 -3 2.1 -3.5 2.6 -2.6 2.2 -3 2.9 -2.8 2.9 -2.5 2.9 -2.4 3 -2 3 -1.9 3 -2.3 3.9 -1.5 3 -1.7 4 -1.5 3.9 -1.3 4 -1.1 4 -0.8 4 -0.7 3.9 -0.4 4 -0.3 4 -0.1 3.9 0.1 4 0.4 5 0.5 3.9 0.7 4 0.9 4 1.1 3.9 1.3 4 1.6 4 1.3 2.9 2 4 1.8 3 2.5 4 2.2 2.9 2.4 3 2.7 3 2.8 2.9 3 2.7 2.9 2.3 3.2 2.4 3 2 3 1.8 4 2.1 4 1.9 4.1 1.6 4 1.3 4 1.2 4 0.9 4 0.8 4.1 0.5z"/>
<path fill="#00fff9" d="M129.4 197.6l3.6 0.3 4 0.1 4 0 4-0.3 4.1-0.4 4-0.6 4-0.8 4-1 4-1.2 4-1.4 3.1-1.3 4-1.9 4-2.1 3-1.9 3-2 3-2.2 3.1-2.5 2.8-2.6 2.9-3 2.3-2.6 2.7-3.4 2.1-2.9 1.9-3 1.8-3 2-4 1.4-2.9 1.5-4 1.1-3 1.1-3.9 0.8-3 0.8-4 0.6-4 0.4-3.9 0.3-4 0-5 -0.2-3.9 -0.4-4 -0.5-4 -0.8-3.9 -1-4 -1.1-4 -1.4-3.9 -1.7-4 -1.4-3 -1.5-3 -2.4-3.9 -2-3 -2.1-2.9 -2.5-3.1 -2.5-2.7 -3-3 -2.5-2.2 -2.6-2.1 -3-2.3 -3-2 -4-2.4 -3-1.6 -4-1.9 -4.1-1.6 -4-1.4 -4-1.1 -3-0.8 -4-0.8 -4-0.6 -4.1-0.4 -4-0.2 -5 0 -4 0.1 -4 0.4 -4.1 0.6 -4 0.7 -4 1 -4 1.1 -4 1.4 -4.1 1.6 -3 1.4 -3 1.6 -4 2.3 -3 1.9 -2.9 2.1 -3.2 2.5 -2.8 2.5 -3 3 -2.2 2.4 -2.1 2.5 -2.3 3 -2.1 3 -2.4 4 -1.6 2.9 -1.9 4 -1.7 4 -1.4 3.9 -1.1 4 -0.8 3 -0.8 3.9 -0.6 4 -0.4 4 -0.3 3.9 0 5 0.2 4 0.4 3.9 0.5 4 0.8 4 1 4 1.1 3.9 1.4 4 1.7 4 1.9 3.9 2.2 4 1.8 3 2.1 2.9 2.3 3 2.5 3 2.8 3 2.8 2.7 3.1 2.6 3 2.3 3 2.1 3 1.9 4 2.2 3 1.5 4 1.8 4.1 1.5 4 1.2 4 1.1 4 0.8 4 0.7z"/>
<path fill="#00fff0" d="M127.1 195.6l3.9 0.4 4 0.2 4 0.1 4-0.2 4-0.3 4.1-0.5 3-0.5 4-0.9 4-1 4-1.3 4.1-1.6 3-1.3 3-1.5 4-2.2 3-1.9 3-2.1 3-2.3 2.4-1.9 2.7-2.6 2.3-2.4 2.7-3 2.3-3 2.1-2.9 2-3 2.2-4 1.5-3 1.3-2.9 1.6-4 1.3-4 1.1-3.9 0.8-4 0.6-3 0.5-3.9 0.3-4 0.2-4 -0.1-4 -0.2-3.9 -0.3-3 -0.6-4 -0.8-3.9 -0.9-4 -1.2-4 -1.1-2.9 -1.6-4 -1.4-3 -2.1-4 -1.8-2.9 -1.9-3 -2.2-3 -2.5-3 -2.7-2.9 -2.4-2.4 -3.1-2.7 -3-2.4 -3-2.2 -3-2 -3-1.7 -4-2.1 -4-1.8 -3.1-1.2 -3-1 -4-1.2 -4-0.9 -4-0.8 -4.1-0.6 -4-0.3 -4-0.2 -4 0 -4 0.2 -4 0.3 -4.1 0.6 -4 0.8 -4 0.9 -4 1.2 -3 1 -4.1 1.6 -3 1.4 -4 2.1 -3 1.7 -3 2 -3 2.2 -3 2.4 -3.1 2.7 -2.4 2.4 -2.7 2.9 -2.5 3 -2.2 3 -1.9 3 -1.8 2.9 -2.1 4 -1.8 4 -1.2 3 -1.4 3.9 -1.1 4 -0.9 4 -0.8 3.9 -0.5 4 -0.3 4 -0.2 3.9 0.1 4 0.2 4 0.4 3.9 0.7 4 0.8 4 1 3.9 1.3 4 1.5 4 1.2 3 2 3.9 1.7 3 2.5 4 2.1 2.9 2.3 3 2.7 3 2.3 2.4 3 2.8 3.1 2.5 3 2.3 3 2 3.1 1.9 2.9 1.5 4 2 4.1 1.6 4 1.4 3 0.9 4 1.1 4 0.8z"/>
<path fill="#00ffea" d="M126.1 194.6l3.9 0.5 4 0.2 4 0.1 4-0.1 4-0.2 3.1-0.4 4-0.6 4-0.8 4-1 3-1 4-1.4 3.1-1.2 3-1.4 4-2.1 3-1.8 3-2 3-2.2 3-2.4 2.3-2 2.8-2.8 2-2.2 2.5-3 2.2-2.9 2-3 1.8-3 1.7-3 1.4-2.9 1.7-4 1.1-3 1.3-4 1-3.9 0.9-4 0.6-4 0.4-3.9 0.3-4 0-4 -0.1-3.9 -0.4-4 -0.5-4 -0.7-3.9 -0.7-3 -1.1-4 -1.3-4 -1.6-3.9 -1.8-4 -1.6-3 -1.7-2.9 -2-3 -2.1-3 -2.4-3 -2.7-2.9 -2.2-2.3 -3.1-2.7 -3-2.5 -3-2.2 -3-2 -3-1.8 -3-1.6 -3-1.4 -4.1-1.7 -3-1.1 -4-1.2 -4-1 -4-0.9 -4-0.6 -4.1-0.4 -4-0.2 -4-0.1 -4 0.2 -4 0.3 -4.1 0.5 -4 0.7 -3 0.7 -4 1.1 -4 1.3 -4.1 1.5 -4 1.8 -3 1.6 -3 1.7 -3 1.9 -3 2.1 -3 2.4 -3.1 2.7 -2.2 2.2 -2.8 2.9 -2.5 3 -2.2 3 -2 3 -1.8 2.9 -1.7 3 -1.4 3 -1.7 4 -1.1 2.9 -1.3 4 -1 4 -0.9 3.9 -0.6 4 -0.4 4 -0.3 3.9 0 4 0.1 4 0.4 4 0.5 3.9 0.7 4 0.7 3 1.1 3.9 1.3 4 1.6 4 1.8 3.9 1.6 3 2.4 4 2 3 2.2 2.9 2.5 3 2.8 3 2.2 2.2 3.1 2.6 3 2.4 3 2.1 3 1.9 4 2.3 3 1.5 4.1 1.7 4 1.5 3 1 4 1.1 4 0.8z"/>
<path fill="#00ffe0" d="M125.4 193.6l3.6 0.5 4 0.3 4 0.2 4-0.1 4-0.2 4.1-0.5 4-0.6 3-0.6 3-0.7 4-1.1 4-1.4 3.1-1.2 4-1.9 3-1.5 3-1.8 3-1.9 3-2.2 2.8-2.1 2.3-2.1 3-2.9 2-2.1 2.4-2.9 2.3-2.9 2-3 1.8-3 1.7-3 1.5-2.9 1.7-4 1.1-3 1.3-4 0.8-2.9 0.9-4 0.5-3 0.5-3.9 0.4-4 0.1-4 0-4 -0.3-3.9 -0.4-4 -0.6-4 -0.9-3.9 -1-4 -1.3-4 -1.1-2.9 -1.7-4 -1.5-3 -1.7-3 -1.8-2.9 -2-3 -2.3-3 -2.5-3 -2.9-2.9 -2.1-2 -3-2.6 -3-2.3 -3-2.1 -3-1.9 -3-1.7 -4-1.9 -3.1-1.3 -4-1.5 -3-1 -4-1.1 -4-0.9 -3-0.5 -4.1-0.5 -4-0.4 -4-0.1 -4 0 -4 0.3 -4.1 0.4 -4 0.6 -4 0.9 -4 1 -4 1.3 -3 1.1 -4.1 1.7 -3 1.4 -3 1.6 -3 1.8 -3 2.1 -3 2.2 -3 2.5 -3.1 2.8 -2 2.1 -2.6 2.9 -2.3 3 -2.2 3 -1.9 3 -1.7 2.9 -2 4 -1.3 3 -1.5 3.9 -1 3 -1.1 4 -0.9 4 -0.7 3.9 -0.4 4 -0.3 4 -0.1 3.9 0.1 4 0.3 4 0.4 3.9 0.7 4 0.9 4 1.1 3.9 1 3 1.5 4 1.3 3 2 3.9 2.4 4 1.9 3 2.2 2.9 2.2 2.7 2.1 2.3 2.9 3 3.1 2.7 3 2.4 3 2.2 3 1.9 4 2.3 3 1.5 3 1.4 4.1 1.5 4 1.4 4 1.1 4 0.8z"/>
<path fill="#00ffd7" d="M132.2 192.6l3.8 0.2 4 0 3-0.1 4-0.4 4.1-0.5 4-0.7 4-1 3-0.8 4-1.4 3-1.1 3.1-1.4 3-1.5 3-1.6 3-1.9 3-2.1 3-2.3 2.6-2.2 2.5-2.3 2.5-2.7 2.5-3 2.3-2.9 2-3 1.8-3 1.7-3 1.4-2.9 1.7-4 1.4-4 1-2.9 1-4 0.6-3 0.6-4 0.4-2.9 0.3-4 0.1-4 -0.1-3 -0.2-3.9 -0.5-4 -0.6-4 -0.6-2.9 -1-4 -1-3 -1.4-3.9 -1.7-4 -1.4-3 -1.7-3 -1.8-2.9 -2-3 -2.3-3 -2.5-3 -2.5-2.6 -2.5-2.3 -2.6-2.2 -3-2.4 -3-2.1 -3-1.8 -3-1.7 -3-1.5 -4.1-1.7 -3-1.1 -4-1.3 -3-0.8 -4-0.9 -4-0.7 -4.1-0.5 -4-0.3 -4-0.1 -3 0.1 -4 0.2 -4.1 0.4 -4 0.7 -3 0.6 -4 1 -3 0.9 -4 1.4 -4.1 1.7 -3 1.4 -3 1.6 -3 1.8 -3 2 -3.1 2.3 -2.9 2.5 -2.7 2.5 -2.4 2.4 -2.2 2.5 -2.4 3 -2.1 3 -1.9 2.9 -1.7 3 -1.5 3 -1.7 4 -1.2 2.9 -1.3 4 -0.8 3 -0.9 4 -0.7 3.9 -0.5 4 -0.3 4 -0.1 3.9 0.1 4 0.3 4 0.5 3.9 0.7 4 0.9 4 0.8 2.9 1.3 4 1.2 3 1.7 4 1.5 2.9 1.7 3 1.9 3 2.1 3 2.4 2.9 2.2 2.6 2.4 2.4 2.7 2.5 3 2.5 3 2.2 3 2 3 1.8 4 2.1 3 1.4 4.1 1.6 3 1.1 4 1.1 4 1 4 0.7 4.1 0.5z"/>
<path fill="#00ffd0" d="M129.5 191.6l3.5 0.3 4 0.2 4-0.1 3-0.1 4-0.4 4.1-0.6 4-0.8 3-0.7 4-1.2 3-1.1 4.1-1.6 3-1.4 3-1.5 3-1.8 3-2 2.9-2 2.4-2 2.7-2.4 2.6-2.6 2.5-2.7 2-2.4 2.1-2.8 2-3 1.8-3 1.5-3 1.5-2.9 1.6-4 1-3 1-2.9 1-4 0.8-4 0.5-3 0.4-3.9 0.2-3 0.1-4 -0.1-3.9 -0.3-4 -0.5-4 -0.7-3.9 -0.7-3 -0.7-3 -1.3-4 -1.5-3.9 -1.3-3 -1.5-3 -1.9-3.4 -2-3.2 -2-2.8 -2-2.6 -2.5-2.9 -2.5-2.6 -2.6-2.3 -2.5-2.1 -3-2.3 -3-2 -3-1.8 -3-1.7 -3-1.4 -3.1-1.3 -4-1.5 -4-1.2 -3-0.8 -4-0.8 -4-0.7 -4.1-0.4 -3-0.2 -4-0.1 -4 0.1 -4 0.3 -4.1 0.5 -4 0.6 -3 0.7 -3 0.8 -4 1.2 -4 1.5 -3.1 1.3 -3 1.4 -3.5 1.9 -3.2 2 -2.8 2 -2.6 2 -2.9 2.5 -2.7 2.4 -2.4 2.6 -2.1 2.4 -2.3 3 -2 3 -1.9 2.9 -1.6 3 -1.5 3 -1.3 3 -1.5 3.9 -1.3 4 -0.7 3 -0.9 3.9 -0.7 4 -0.4 4 -0.2 3.9 -0.1 4 0.2 4 0.3 4 0.5 3.9 0.8 4 0.7 3 1.1 3.9 1 3 1.6 4 1.4 3 2 3.9 1.8 3 2 3 2.1 2.8 2.6 3.1 2.4 2.6 2.5 2.4 2.6 2.2 3 2.4 3 2.1 3 1.9 3 1.7 4 2 3.1 1.3 3 1.1 4 1.3 4 1.1 3 0.6 4 0.7z"/>
<path fill="#00ffc5" d="M129.4 190.6l3.6 0.3 4 0.2 4-0.1 3-0.1 4-0.4 4.1-0.6 4-0.8 3-0.7 4-1.2 3-1.1 3-1.2 3.1-1.4 3-1.5 3-1.7 3-1.9 3-2.2 3-2.4 2.3-2 2.8-2.7 2-2.2 2-2.5 1.9-2.5 2-3 1.8-3 1.7-3 1.4-2.9 1.7-4 1-3 0.9-2.9 1.1-4 0.8-4 0.5-3 0.4-3.9 0.2-3 0.1-4 -0.1-3.9 -0.3-4 -0.5-4 -0.7-3.9 -0.7-3 -0.8-3 -1.2-4 -1.5-3.9 -1.4-3 -1.5-3 -1.6-3 -1.9-2.9 -2.1-3 -2.2-2.8 -2-2.3 -2.8-2.9 -2.3-2.1 -3-2.5 -3-2.2 -3-2 -3-1.8 -3-1.6 -3-1.4 -4.1-1.7 -3-1 -3-0.9 -4-1 -4-0.8 -3-0.5 -4.1-0.4 -3-0.2 -4-0.1 -4 0.1 -4 0.2 -4.1 0.5 -4 0.7 -3 0.7 -3 0.8 -4 1.2 -4 1.5 -3.1 1.3 -3 1.5 -3 1.7 -3 1.8 -3 2.1 -2.9 2.2 -2.3 2 -2.9 2.7 -2.1 2.2 -2.6 3 -2.2 3 -2 3 -1.8 2.9 -1.7 3 -1.4 3 -1.7 3.9 -1 3 -0.9 3 -1.1 4 -0.8 3.9 -0.5 3 -0.4 4 -0.2 3 -0.1 3.9 0.1 4 0.3 4 0.5 3.9 0.7 4 0.7 3 0.8 3 1.2 3.9 1.5 4 1.4 3 2 3.9 1.7 3 2 3 2.2 3 2.4 2.9 2 2.3 2.8 2.7 2.3 2 3 2.4 3 2.2 3 1.9 3 1.7 3 1.5 4.1 1.8 3 1.2 4 1.3 4 1.1 3 0.6 4 0.7z"/>
<path fill="#0fb" d="M127.5 188.7l3.5 0.3 4 0.3 4 0 3-0.1 4-0.3 3.1-0.3 3-0.5 4-0.8 4-1 3-1 3-1 3-1.3 3.1-1.4 3-1.5 3-1.8 3-2 3-2.2 2-1.7 2.9-2.6 2.2-2.2 2-2.2 2-2.5 2.2-3 1.8-2.7 1.9-3.3 1.5-2.9 1.4-3 1.2-3 1.9-5.9 0.8-3 0.8-4 0.5-3 0.4-3.9 0.3-4 0-4 -0.1-3.9 -0.4-4 -0.5-4 -0.6-2.9 -0.7-3 -1.1-4 -1-3 -1.5-3.9 -1.4-3 -1.5-3 -1.7-3 -2-2.9 -2.2-3 -1.6-2 -2.4-2.8 -2.2-2.2 -2.1-1.9 -2.8-2.3 -3-2.3 -3-1.9 -3-1.8 -3-1.6 -3.1-1.4 -3-1.2 -3-1.1 -4-1.2 -3-0.8 -4-0.8 -3-0.4 -4.1-0.5 -4-0.2 -4-0.1 -4 0.2 -4 0.3 -4.1 0.6 -3 0.5 -3 0.7 -4 1.1 -3 1 -4 1.5 -3.1 1.3 -3 1.5 -3 1.7 -3 2 -3 2.1 -2 1.6 -2.9 2.4 -2.1 2.2 -2.1 2.1 -2.3 2.7 -2.2 3 -2 2.9 -1.8 3 -1.6 3 -1.4 3 -1.3 2.9 -1.1 3 -1.2 4 -0.8 3 -0.8 3.9 -0.5 3 -0.4 4 -0.3 3.9 0 4 0.1 4 0.4 4 0.5 3.9 0.6 3 0.7 3 1.1 3.9 1 3 1.5 4 1.4 3 2.1 3.9 1.8 3 2 3 2.2 3 2.3 2.7 2.2 2.2 2.9 2.7 2.6 2.3 2.4 1.8 3 2.1 3 1.8 3 1.6 3 1.5 4.1 1.7 3 1 3 1 4 1 4 0.8z"/>
<path fill="#00ffb3" d="M135.1 188.7l3.9 0 4-0.1 4-0.4 3.1-0.4 4-0.7 3-0.7 4-1.1 3-1 3-1.1 3.1-1.3 3-1.4 3-1.7 3-1.9 3-2.1 2.6-2 2.4-2 2.1-2 2.8-3 2.2-2.5 1.8-2.4 2-3 1.8-3 1.6-2.9 1.5-3 1.6-4 1.1-3 1.6-5.9 0.7-3 0.6-4 0.4-2.9 0.3-4 0.1-4 -0.1-3 -0.2-3.9 -0.3-3 -0.6-4 -0.6-2.9 -0.8-3 -1.1-4 -1.1-3 -1.6-3.9 -1.5-3 -1.6-3 -1.8-3 -2-2.9 -1.8-2.4 -2.2-2.6 -2.8-3 -2.1-1.9 -2.4-2 -2.6-2.1 -3-2.1 -3-1.8 -3-1.7 -3-1.5 -3.1-1.3 -3-1.1 -3-1 -4-1.1 -3-0.7 -4-0.7 -4.1-0.5 -4-0.3 -4-0.1 -3 0.1 -4 0.2 -3 0.4 -4.1 0.6 -3 0.6 -3 0.7 -4 1.1 -3 1.1 -4 1.6 -3.1 1.4 -3 1.6 -3 1.8 -3 2 -2.4 1.8 -2.6 2.1 -3 2.8 -2 2 -2.1 2.4 -2 2.6 -2.2 3 -1.8 2.9 -1.7 3 -1.5 3 -1.3 3 -1.2 2.9 -1 3 -1.1 4 -0.7 3 -0.7 3.9 -0.5 4 -0.3 4 -0.1 3.9 0.1 4 0.3 4 0.4 2.9 0.6 4 0.7 3 0.7 3 1.3 3.9 1.5 4 1.3 3 1.5 2.9 1.7 3 1.8 3 2.2 3 2 2.6 2 2.3 2.1 2 3 2.8 2.6 2.2 2.4 1.8 3 2 3 1.8 3 1.6 3.1 1.4 4 1.6 3 1 4 1.2 3 0.7 3 0.6 4.1 0.6 4 0.4z"/>
<path fill="#00ffa7" d="M125.9 186.7l3.1 0.4 4 0.3 3 0.2 4 0 4-0.2 3-0.3 6.1-0.9 4-0.9 3-0.8 6-2.1 3-1.2 3.1-1.5 3-1.6 3-1.8 3-2.1 2-1.5 2.3-1.9 2.7-2.5 2-2.1 2.2-2.3 1.9-2.4 2-2.8 1.8-2.8 1.7-3 1.5-2.9 1.3-3 1.2-3 1-3 0.9-2.9 0.9-4 0.6-3 0.6-3.9 0.2-3 0.2-4 0-4 -0.2-3.9 -0.2-3 -0.6-4 -0.6-2.9 -0.9-4 -0.9-3 -1.4-4 -1.2-2.9 -1.4-3 -1.6-3 -1.7-3 -3.5-4.9 -2.5-3 -2.3-2.4 -2.6-2.6 -2.2-1.9 -2.6-2 -2.6-1.9 -3-1.9 -3-1.7 -3-1.5 -3.1-1.3 -3-1.1 -3-1 -3-0.9 -4-0.9 -3-0.6 -4.1-0.5 -3-0.3 -4-0.2 -4 0 -4 0.2 -3 0.3 -4.1 0.5 -3 0.6 -4 0.9 -3 0.9 -4 1.3 -3 1.2 -3.1 1.4 -3 1.6 -3 1.7 -5 3.5 -3 2.4 -2.5 2.2 -2.5 2.6 -2.1 2.3 -2 2.5 -1.8 2.6 -2 2.9 -1.7 3 -1.5 3 -1.3 3 -1.2 2.9 -1 3 -0.9 3 -0.9 4 -0.6 2.9 -0.6 4 -0.3 4 -0.2 3.9 0.1 4 0.2 4 0.4 2.9 0.6 4 0.8 4 0.8 3 1.3 3.9 1.1 3 1.2 3 1.5 3 1.6 2.9 1.9 3 2.1 3 1.5 2 2.6 2.9 2.4 2.5 2.7 2.5 2.4 2 2.9 2.1 3 2 3 1.8 3 1.5 4.1 1.8 3 1.2 3 1 4 1.1 4 0.9z"/>
<path fill="#00ff9c" d="M133 185.7l3 0.1 4 0 4-0.2 3-0.3 3.1-0.4 4-0.7 6-1.5 3-1 3-1.1 3-1.3 3.1-1.5 3-1.6 3-1.9 3-2.2 2-1.6 4.1-3.7 1.9-2 2.6-2.9 1.6-2 2-3 1.9-3 1.6-2.9 1.4-3 1.3-3 1-3 1.3-3.9 1.3-6 0.5-3 0.5-3.9 0.2-4 0.1-3 -0.1-3 -0.2-3.9 -0.5-4 -0.5-3 -0.6-2.9 -1-4 -1-3 -1.4-4 -1.3-2.9 -1.5-3 -1.7-3 -1.9-3 -3.5-4.6 -2.1-2.3 -2-2.1 -2-1.9 -3-2.5 -2-1.5 -3-2.1 -3-1.8 -3-1.6 -3.1-1.4 -3-1.2 -3-1.1 -4-1.2 -6-1.3 -3-0.5 -4.1-0.5 -4-0.2 -3-0.1 -3 0.1 -4 0.2 -4.1 0.5 -3 0.5 -3 0.6 -4 1 -3 0.9 -4 1.5 -3 1.3 -3.1 1.4 -3 1.7 -3 1.9 -4.7 3.4 -2.3 2 -2.1 2 -1.9 2 -2.6 3 -1.6 2 -2 2.9 -1.9 3 -1.6 3 -1.4 3 -1.3 2.9 -1 3 -1.3 4 -1.3 5.9 -0.5 3 -0.5 4 -0.2 3.9 -0.1 3 0.1 3 0.2 4 0.5 3.9 0.5 3 0.6 3 1 4 1 2.9 1.4 4 1.3 3 1.5 3 1.7 2.9 1.9 3 2.2 3 1.6 2 2.7 2.9 2 2 2.2 2 2.9 2.3 2.3 1.7 2.7 1.8 3 1.7 3 1.5 3.1 1.4 3 1.1 3 1.1 4 1.1 3 0.7 4 0.7 3.1 0.4z"/>
<path fill="#00ff94" d="M127.8 184.7l3.2 0.3 4 0.3 4 0.1 3-0.1 3-0.3 4.1-0.4 6-1.1 6-1.6 3-1.1 3-1.1 3.1-1.4 3-1.5 5-3.1 2.7-1.9 2.3-1.9 2.4-2.1 2.1-2 1.8-1.9 2.5-3 1.5-2 2-3 2.8-4.9 1.5-3 1.2-3 1.1-3 1-2.9 0.8-3 0.8-4 0.5-3 0.5-3.9 0.2-3 0.1-4 -0.1-3.9 -0.2-3 -0.5-4 -0.5-3 -0.8-3.9 -0.8-3 -1-3 -1.1-3 -1.2-2.9 -1.5-3 -1.6-3 -1.8-3 -2.1-2.9 -1.6-2 -2-2.3 -2-2.1 -2.7-2.6 -2.3-1.9 -2-1.5 -3-2.1 -3-1.8 -3-1.7 -3.1-1.4 -3-1.2 -3-1.1 -3-0.9 -3-0.8 -4-0.9 -3-0.4 -4.1-0.5 -3-0.2 -4-0.1 -4 0.1 -3 0.2 -4.1 0.5 -3 0.4 -4 0.9 -3 0.8 -3 0.9 -3 1.1 -3 1.2 -3.1 1.4 -3 1.7 -3 1.8 -3 2.1 -2 1.5 -2.3 1.9 -2.7 2.6 -2 2.1 -2 2.3 -1.6 2 -2.1 2.9 -1.8 3 -1.6 3 -1.5 3 -1.2 2.9 -1.1 3 -1 3 -0.8 3 -0.8 3.9 -0.5 3 -0.5 4 -0.2 3.9 -0.1 4 0.2 4 0.2 3 0.5 3.9 0.6 3 0.6 3 1.1 4 1 2.9 1.2 3 1.3 3 1.5 3 1.7 2.9 1.9 3 1.9 2.7 2.1 2.4 2 2.2 2.6 2.6 2.4 2.1 3 2.4 5 3.3 3 1.7 3.1 1.5 3 1.3 4 1.4 3 1 4 1 3 0.6z"/>
<path fill="#00ff85" d="M130.3 183.7l3.7 0.3 3 0.1 4-0.1 3-0.1 4-0.5 3.1-0.4 6-1.3 3-0.8 3-1 3-1.2 3-1.3 3.1-1.5 3-1.7 3-2 2-1.4 2.5-2 2.2-2 3.9-3.9 1.6-2 2.3-3 3.2-5 2.5-4.9 1.3-3 1.1-3 0.9-2.9 0.9-3 0.6-3 0.7-4 0.5-3.9 0.2-3 0.1-3 -0.1-4 -0.1-2.9 -0.4-4 -1.1-5.9 -1-4 -0.9-3 -1-3 -1.2-2.9 -1.4-3 -1.6-3 -3.2-5 -2.3-2.9 -1.6-2 -2.6-2.7 -2-1.9 -2-1.7 -3-2.4 -2-1.4 -3-1.8 -3-1.7 -3.1-1.4 -3-1.3 -3-1.1 -6-1.7 -3-0.7 -4-0.7 -4.1-0.4 -3-0.2 -3-0.1 -4 0 -3 0.2 -4 0.4 -6.1 1 -4 1 -3 0.9 -3 1 -3 1.2 -3.1 1.4 -3 1.6 -5 3.1 -3 2.3 -2 1.6 -2.7 2.5 -2 2 -1.7 2 -2.4 3 -1.4 1.9 -1.9 3 -1.6 3 -1.5 3 -1.3 2.9 -1.1 3 -0.9 3 -0.9 3 -0.6 2.9 -0.7 4 -0.5 4 -0.2 3 -0.1 2.9 0.1 4 0.1 3 0.4 3.9 0.5 3 0.8 4 1.1 4 0.9 2.9 1.1 3 1.3 3 1.5 3 1.6 2.9 1.9 3 2.1 3 2.1 2.4 2 2.2 2.3 2.3 2.2 2 2.5 2 2.8 2 2.2 1.4 3 1.7 3.1 1.5 3 1.3 4 1.5 3 1 4 1 3 0.6z"/>
<path fill="#00ff74" d="M128.4 181.7l3.6 0.4 3 0.2 4 0 3-0.1 3-0.2 4.1-0.5 6-1.1 6-1.7 3-1 3-1.3 5.1-2.4 3-1.8 2-1.3 4-3.1 2.3-2 2-1.9 1.9-2 1.8-2.2 2.1-2.7 1.3-2.1 2.9-4.9 1.5-3 1.2-3 1.1-3 0.9-2.9 1.4-6 0.9-5.9 0.2-3 0.2-4 0-4 -0.2-2.9 -0.5-4 -0.4-3 -0.8-3.9 -0.8-3 -0.9-3 -1.1-3 -1.2-2.9 -1.5-3 -2.9-5 -2-3 -1.5-1.9 -1.9-2.2 -2-2.1 -2-1.9 -3-2.6 -4.4-3.1 -2.6-1.6 -3-1.7 -5.1-2.2 -3-1.1 -3-1 -3-0.8 -4-0.9 -6.1-0.8 -3-0.3 -4-0.2 -4 0.1 -3 0.2 -4 0.4 -3.1 0.4 -4 0.9 -3 0.7 -3 0.9 -3 1.1 -3 1.2 -3.1 1.4 -5 2.9 -3 2 -2 1.5 -2.2 1.8 -2.1 2 -2 2 -2.6 3 -3.2 4.3 -1.6 2.6 -1.6 3 -2.3 4.9 -1.1 3 -1 3 -0.8 3 -0.9 3.9 -0.5 3 -0.5 4 -0.2 3 -0.1 3.9 0.1 4 0.2 3 0.5 3.9 0.5 3 0.9 4 0.8 3 1 2.9 1.1 3 1.3 3 1.5 3 1.7 2.9 2 3 2.1 2.8 1.8 2.2 2.2 2.3 2 1.9 2 1.7 3 2.3 2.4 1.7 2.6 1.6 3 1.6 3.1 1.4 3 1.3 3 1 3 0.9 4 1 3 0.6z"/>
<path fill="#00ff61" d="M126.9 179.7l6.1 0.7 3 0.1 4 0 6-0.4 6.1-0.9 6-1.4 3-0.9 3-1.1 5-2.2 5.1-2.8 2-1.3 3-2.2 3.9-3.4 3.8-4 1.6-2 1.7-2.4 1.7-2.6 1.7-2.9 2.3-5 1.9-4.9 0.8-3 0.8-3 1-6 0.4-2.9 0.3-4 0-4 -0.1-2.9 -0.6-6 -0.6-4 -0.7-2.9 -0.7-3 -1-3 -1.1-3 -1.3-2.9 -2.5-5 -1.9-3 -1.4-1.9 -3.2-4 -1.9-2 -2-2 -2.4-2 -2.5-1.9 -2-1.4 -3-1.9 -5.1-2.5 -3-1.3 -3-1 -3-1 -3-0.7 -3-0.7 -4.1-0.6 -6-0.6 -3-0.1 -4 0.1 -4 0.2 -3 0.4 -4.1 0.6 -3 0.7 -3 0.7 -3 1 -3 1 -3 1.3 -5.1 2.5 -3 1.9 -2 1.4 -2.5 1.9 -2.4 2 -2.1 2.1 -2 2.1 -2 2.5 -1.7 2.2 -2 3 -1.1 2 -2.5 4.9 -1.2 3 -1.1 3 -0.8 3 -0.8 3 -0.6 2.9 -0.6 4 -0.3 3 -0.2 3.9 0 4 0.2 3 0.2 3 0.6 3.9 0.5 3 1 4 0.8 3 1.1 2.9 1.2 3 1.4 3 2.8 4.9 1.4 2 2.2 3 2.5 2.8 2 2.1 2.3 2 2.7 2.3 2.5 1.7 2.5 1.6 5.1 2.7 3 1.3 3 1.2 3 0.9 3 0.9 4 0.8z"/>
<path fill="#00ff4d" d="M137.1 178.7l3.9 0 3-0.2 6.1-0.7 6-1.3 3-0.8 3-1 3-1.2 3-1.3 5.1-2.8 4-2.7 2.3-1.8 2.2-2 2-2 1.8-2 1.7-2.2 2-2.8 1.3-1.9 1.6-3 2.3-5 1.2-3 0.9-2.9 1.5-6 0.9-5.9 0.4-6 0-4 -0.2-2.9 -0.6-6 -1.2-5.9 -0.8-3 -0.9-3 -1.2-3 -1.3-2.9 -2.6-5 -2-3 -1.3-1.8 -1.7-2.1 -1.8-2 -2-2 -2.2-2 -4.3-3.3 -2-1.3 -3-1.7 -5.1-2.4 -3-1.2 -3-1 -3-0.8 -3-0.7 -6.1-1 -3-0.3 -4-0.2 -4 0 -3 0.2 -6.1 0.6 -6 1.2 -3 0.7 -3 1 -3 1.1 -3 1.3 -5.1 2.6 -3 1.9 -1.8 1.3 -2.2 1.7 -2 1.8 -2 2 -2 2.2 -3.3 4.2 -1.4 2 -1.7 3 -2.4 4.9 -1.2 3 -1 3 -0.9 3 -0.7 2.9 -1 6 -0.3 3 -0.2 3.9 0 4 0.2 3 0.6 5.9 1.2 6 0.8 3 0.9 2.9 1.2 3 1.3 3 2.6 5 2 2.9 1.4 2 1.9 2.3 2 2.2 2 1.9 2 1.8 2.2 1.7 2.8 2 2 1.2 3.1 1.7 5 2.3 3 1.1 3 0.9 6 1.4 6.1 0.9 4 0.3z"/>
<path fill="#00ff39" d="M132.6 176.8l6.4 0.1 6-0.3 5.1-0.6 6-1.3 3-0.8 3-1 5-2.1 3.1-1.6 2-1.1 4-2.8 2-1.6 2.1-1.8 2-2 1.8-2 3.1-4 2.5-3.9 2.4-5 1.9-4.9 1-3 0.7-3 1.1-6 0.4-2.9 0.2-4 0-6 -0.2-3.9 -0.4-3 -1.1-5.9 -0.7-3 -1-3 -1.9-5 -2.4-4.9 -1.9-3 -1.3-2 -3.3-4 -2-2.1 -2-1.8 -4-3.2 -2-1.4 -3-1.8 -5.1-2.4 -5-1.9 -3-0.9 -3-0.8 -6.1-1 -3-0.4 -4-0.2 -6 0 -4 0.2 -3 0.4 -6.1 1 -3 0.8 -3 0.9 -5 1.9 -5.1 2.4 -3 1.8 -2 1.4 -4 3.2 -2.1 2 -1.9 2 -3.3 3.9 -1.3 2 -1.9 3 -2.4 4.9 -1.9 5 -1 3 -0.7 3 -1.1 5.9 -0.4 3 -0.2 3.9 0 6 0.2 4 0.4 2.9 1.1 6 0.7 3 1 3 1 2.9 1.3 3 2.6 5 1.9 2.8 1.5 2.1 1.6 2 1.9 2.1 2 2 2.1 1.9 2.6 1.9 2.3 1.6 2 1.3 3.1 1.6 3 1.4 3 1.2 3 1 3 0.8 6 1.3 3.1 0.4z"/>
<path fill="#00ff23" d="M129.2 174.8l5.8 0.4 6 0 6-0.5 5.1-0.7 3-0.7 3-0.8 5-1.7 5-2.3 4.1-2.3 4-2.8 2-1.7 1.9-1.8 3.1-3.4 2.7-3.6 2.5-3.9 2.4-5 1.8-4.9 1.4-5 1.1-6 0.6-5.9 0.1-3 -0.1-4 -0.5-5.9 -1-6 -0.7-2.9 -0.9-3 -1.8-5 -2.4-4.9 -1.8-3 -1.4-2 -1.5-2 -1.7-2 -1.8-1.9 -2-1.9 -4-3.1 -4-2.6 -2.1-1.1 -3-1.4 -5-1.9 -3-0.9 -3-0.8 -6.1-1.1 -6-0.5 -3-0.1 -4 0 -6 0.5 -6.1 1 -3 0.7 -3 0.9 -5 1.8 -5 2.4 -3.1 1.7 -2 1.4 -2 1.5 -2 1.6 -1.9 1.9 -1.9 1.9 -3.2 4 -2.6 4 -1.1 2 -1.5 2.9 -1.9 5 -0.9 3 -0.8 3 -1.1 5.9 -0.5 4 -0.1 2.9 -0.1 4 0.1 3 0.2 3 0.5 3.9 1.2 6 0.8 3 1 2.9 1.2 3 1.4 3 1.6 3 1.2 2 1.4 2 2 2.5 2 2.3 2 2 2 1.8 2 1.5 2.5 1.7 2.5 1.6 2.1 1.1 3 1.4 3 1.3 3 1 3 0.8 3 0.7 3 0.6z"/>
<path fill="#00ff0e" d="M129.2 172.8l5.8 0.4 6 0 6-0.4 5.1-0.8 5-1.2 5-1.7 5-2.2 4.1-2.2 4-2.9 3.3-2.9 2.8-3 1.6-2 1.5-1.9 2.4-4 1.9-4 1.9-4.9 1.4-5 0.6-3 0.5-3 0.6-5.9 0.1-6 -0.4-5.9 -1-6 -0.6-2.9 -0.9-3 -1.7-5 -1.4-3 -1-1.9 -2.4-4 -1.5-2 -1.7-2.1 -1.7-1.9 -2-1.9 -3.7-3 -2.6-1.8 -2.1-1.2 -3-1.6 -2-0.9 -5-1.8 -5-1.4 -6.1-1.1 -6-0.5 -6-0.1 -6 0.4 -6.1 0.9 -3 0.6 -3 0.9 -5 1.7 -3 1.3 -2 1.1 -4.1 2.3 -2 1.5 -2.1 1.7 -1.9 1.6 -2 2.1 -3 3.6 -1.8 2.6 -1.2 2 -1.6 2.9 -0.9 2 -1.9 5 -1.4 5 -0.6 2.9 -0.5 3 -0.4 4 -0.2 2.9 -0.1 4 0.1 3 0.6 5.9 0.5 3 0.6 3 0.8 3 0.9 3 1.1 2.9 1.4 3 1 2 1.8 3 2.8 3.9 2 2.3 2 2 2 1.8 2 1.6 2 1.4 3.1 1.8 3 1.6 2 0.9 5 1.9 3 0.8 3 0.8 3 0.5z"/>
<path fill="#00ff01" d="M133.5 171.8l5.5 0.1 6-0.3 5.1-0.6 5-1.1 5-1.4 5-2 4-2.1 4.1-2.6 3.5-2.9 3-3 1.6-2 1.5-1.9 2.5-4 2-4 1.9-4.9 1.4-5 1.1-6 0.6-5.9 0.1-6 -0.4-5.9 -1-6 -0.6-2.9 -0.9-3 -1.8-5 -1.3-3 -1.1-1.9 -2.5-4 -1.5-2 -1.6-2 -3.5-3.4 -2-1.7 -2-1.4 -4.1-2.5 -4-2 -5-1.8 -5-1.4 -6.1-1.1 -6-0.6 -6-0.1 -6 0.4 -6.1 1 -3 0.6 -3 0.8 -5 1.8 -3 1.4 -2 1 -4.1 2.5 -2 1.4 -2 1.7 -3.5 3.4 -1.6 2 -1.5 2 -2.5 4 -2 3.9 -1.9 5 -1.4 5 -1.1 5.9 -0.4 3 -0.2 3.9 0 6 0.2 4 0.4 2.9 1.1 6 0.8 3 0.9 3 2 4.9 1.6 3 1.2 2 2.8 3.9 1.6 2 1.9 2 3.6 3.1 4 2.8 2.1 1.1 3 1.6 5 2 3 0.9 3 0.8 6.1 1.1z"/>
<path fill="#0fff00" d="M128.2 170.8l5.8 0.5 5 0.1 6-0.3 5.1-0.6 5-1.1 4-1.1 5-1.9 4-2 4.1-2.5 3-2.3 3-2.8 1.8-1.9 1.6-2 2.6-3.9 2.1-4 1.7-4 1.6-4.9 0.7-3 0.6-3 0.8-5.9 0.2-6 -0.2-5.9 -0.8-6 -0.6-3 -0.7-2.9 -1.6-5 -1.2-3 -0.9-2 -2.3-3.9 -2.8-4 -1.7-2 -1.9-1.9 -3-2.6 -4-2.8 -4.1-2.2 -2-1 -3-1.2 -5-1.5 -3-0.8 -3-0.5 -6.1-0.8 -6-0.2 -6 0.2 -6.1 0.8 -3 0.5 -3 0.8 -5 1.5 -3 1.2 -2 1 -4.1 2.2 -4 2.8 -2 1.7 -1.9 1.8 -2.7 3 -2.8 4 -2.3 3.9 -0.9 2 -1.2 3 -1.6 5 -0.7 2.9 -0.6 3 -0.6 4 -0.2 3 -0.2 2.9 0 4 0.4 6 0.9 5.9 0.7 3 0.9 3 1 2.9 1.2 3 1.5 3 1.1 2 2.6 3.9 1.6 2 1.9 2 1.9 1.9 2 1.7 4 2.8 2.1 1.1 3 1.6 5 2 3 0.9 3 0.8 3 0.6z"/>
<path fill="#23ff00" d="M127.3 168.8l5.7 0.6 5 0.2 5-0.2 5-0.5 5.1-0.9 5-1.3 4-1.4 4-1.7 4.1-2.3 3-2.2 3-2.6 2.4-2.6 2.3-2.9 2.5-4 1.9-4 1.5-3.9 1.4-5 0.7-3 0.4-3 0.6-5.9 0.1-6 -0.4-5.9 -0.9-6 -1.3-4.9 -1.7-5 -1.8-4 -1.1-1.9 -1.6-2.6 -2.6-3.4 -1.9-2 -1.5-1.5 -3.1-2.4 -4-2.6 -4-2.1 -5-1.9 -5-1.4 -3-0.6 -3.1-0.5 -6-0.5 -6-0.1 -6 0.4 -6.1 0.9 -5 1.2 -5 1.7 -4 1.8 -2 1.1 -2.6 1.6 -3.5 2.6 -2 1.8 -1.5 1.5 -2.5 3 -2.6 4 -2.1 3.9 -1.9 5 -0.9 3 -0.8 2.9 -1 6 -0.5 5.9 0 4 0.1 3 0.3 4 0.4 2.9 0.5 3 0.7 3 0.9 3 1 2.9 1.2 3 1 2 1.1 2 1.6 2.5 1.8 2.4 1.2 1.5 2 2.1 2 1.8 2 1.6 2 1.4 2.1 1.2 3 1.5 3 1.3 2 0.8 5 1.5 3 0.7z"/>
<path fill="#31ff00" d="M127.4 167.8l4.6 0.5 5 0.3 5-0.1 5-0.5 5.1-0.8 5-1.2 4-1.3 4-1.7 4-2.2 3.1-2.1 3.2-2.8 2.8-2.9 2.3-3 1.8-3 2-4 1.5-3.9 1.4-5 0.6-3 0.5-3 0.5-4.9 0.2-6 -0.3-5.9 -0.9-6 -1.1-4.9 -1.6-5 -1.7-4 -2.3-3.9 -1.3-2 -1.6-2 -3-3.2 -3.3-2.7 -3.8-2.6 -4-2 -2-0.9 -3-1.1 -5-1.4 -3-0.6 -3.1-0.5 -5-0.5 -6-0.1 -6 0.3 -6.1 0.8 -5 1.1 -5 1.6 -4 1.7 -4 2.2 -2.1 1.4 -2 1.5 -3.2 3 -2.8 3.2 -2.5 3.8 -2.1 3.9 -0.9 2 -1.1 3 -0.9 3 -0.7 2.9 -1.1 6 -0.3 3 -0.2 3.9 0 4 0.2 3 0.6 5.9 0.5 3 0.7 3 0.9 3 1 2.9 1.3 3 0.9 2 2.4 4 1.5 2 1.8 2.1 2 2.1 2 1.7 2 1.6 2.1 1.3 4 2.2 3 1.3 2 0.8 5 1.5 3 0.6z"/>
<path fill="#3eff00" d="M126.6 166.8l4.4 0.6 5 0.3 5-0.1 5-0.3 5.1-0.7 5-1.2 4-1.2 4-1.6 4-2.1 3.1-2 3-2.5 2.1-2.1 2.5-2.9 2-3 2.1-4 1.7-3.9 1.5-5 1-5 0.8-5.9 0.2-6 -0.2-5.9 -0.8-6 -1-4.9 -1.5-5 -1.7-4 -2.1-3.9 -1.3-2 -1.5-2 -2.8-3.1 -3.3-2.9 -1.7-1.3 -2.1-1.2 -4-2.1 -4-1.7 -5-1.5 -5-1 -6.1-0.7 -6-0.2 -6 0.2 -6.1 0.7 -5 1 -5 1.5 -4 1.7 -4 2.1 -2.1 1.2 -1.7 1.3 -3.3 2.9 -2.8 3.1 -1.5 2 -1.3 2 -2.1 3.9 -1.7 4 -0.9 3 -0.8 3 -0.7 2.9 -0.4 3 -0.6 6 -0.1 2.9 0.1 4 0.2 4 0.4 2.9 0.4 3 0.7 3 0.8 3 0.9 3 1.2 2.9 1 2 2.2 4 1.4 2 1.6 1.9 3 3.1 2 1.7 2 1.5 4.1 2.4 2 1 3 1.2 3 1.1 3 0.8z"/>
<path fill="#4dff00" d="M126.4 165.8l4.6 0.6 5 0.3 5 0 5-0.4 5.1-0.7 5-1.1 4-1.3 4-1.6 3-1.5 3.4-2.2 2.7-2.1 2.8-2.9 2.4-2.9 2-3 1.5-3 1.7-3.9 1.5-5 1.1-5 0.7-5.9 0.2-6 -0.2-5.9 -0.7-6 -1.1-4.9 -1.5-5 -1.7-4 -2.1-3.9 -2.1-3 -2.6-3 -3.3-3 -3.7-2.5 -4-2.2 -4-1.6 -5-1.5 -5-1 -6.1-0.7 -6-0.3 -6 0.3 -6.1 0.7 -5 1 -5 1.5 -4 1.6 -4 2.2 -3.1 2 -3 2.6 -3 3.2 -2.6 3.7 -2.1 3.9 -1.7 4 -1 3 -0.8 3 -0.6 2.9 -0.5 3 -0.5 6 -0.1 2.9 0 4 0.5 6 1 5.9 0.7 3 1 3 1.1 2.9 0.9 2 2.1 4 1.4 2 1.5 2 2.8 2.9 1.9 1.7 2 1.6 2.1 1.3 2 1.1 2 1 3 1.3 5 1.6 3 0.7z"/>
<path fill="#59ff00" d="M126.1 164.9l4.9 0.6 5 0.3 5-0.1 5-0.3 5.1-0.7 4-0.9 4-1.2 4-1.5 3-1.5 3-1.8 3.1-2.2 2.7-2.7 1.7-1.9 2.2-3 1.7-3 1.8-4 1.3-3.9 1.2-5 0.8-4.9 0.5-6 0-6 -0.4-4.9 -0.9-6 -1.2-4.9 -1.3-4 -1.8-4 -1.1-1.9 -1.3-2 -2.3-3 -2.6-2.7 -3-2.5 -2.1-1.3 -2-1.2 -4-1.9 -5-1.7 -5-1.2 -5.1-0.8 -6-0.5 -6 0 -5 0.4 -6.1 0.9 -5 1.2 -5 1.7 -4 1.9 -2 1.2 -2.1 1.3 -2.7 2.2 -2.9 3 -2.3 3 -1.3 2 -1.1 1.9 -1.8 4 -1 3 -0.9 3 -0.6 2.9 -0.6 3 -0.6 6 -0.1 2.9 0 4 0.2 4 0.3 3 1 5.9 0.7 3 0.9 3 1.1 2.9 0.9 2 2.2 4 1.4 2 1.6 2 2.9 2.9 1.7 1.5 2.1 1.4 2 1.3 2 1.1 2 0.9 3 1.2 5 1.5z"/>
<path fill="#68ff00" d="M130.4 164.9l4.6 0.3 5 0 4-0.2 5.1-0.6 5-0.9 4-1.1 4-1.4 3-1.4 3-1.7 3.1-2.1 3-2.8 1.8-2 2.2-3 1.7-3 1.4-3 1.5-3.9 1.3-5 0.8-5 0.6-5.9 0.1-6 -0.4-5.9 -0.7-5 -1.2-4.9 -1.6-5 -1.8-4 -1.7-2.9 -2.2-3 -2.8-3.1 -3-2.5 -2.1-1.3 -2-1.2 -4-1.9 -4-1.5 -5-1.3 -5.1-0.8 -6-0.6 -6 0 -6 0.3 -5.1 0.7 -5 1.2 -5 1.6 -4 1.7 -3 1.8 -3.1 2.1 -3.1 2.8 -2.5 3 -1.4 2 -1.2 1.9 -1.9 4 -1.5 4 -0.8 3 -0.7 2.9 -0.5 3 -0.4 3 -0.4 5.9 0 4 0.2 3 0.6 5.9 0.5 3 0.7 3 0.8 3 1.1 2.9 1.3 3 1 2 1.2 2 1.4 2 2.6 3 2 1.9 2 1.6 2.1 1.4 2 1.2 4 1.9 2 0.8 3 0.9 3 0.8 3 0.6z"/>
<path fill="#7cff00" d="M125.9 162.9l4.1 0.5 5 0.3 5 0.1 5-0.3 4.1-0.5 4-0.7 4-1 4-1.3 3-1.3 3-1.6 3.1-2.1 2.3-2.1 1.9-1.9 2.3-3 1.8-3 1.4-3 1.5-3.9 1.3-5 0.8-5 0.6-5.9 0-6 -0.2-4.9 -0.8-6 -1.2-4.9 -1.2-4 -1.7-4 -1.1-2 -1.2-1.9 -2.3-3 -2.2-2.3 -3.1-2.5 -3-1.9 -4-1.9 -4-1.5 -5-1.3 -5.1-0.8 -6-0.6 -6 0 -5 0.2 -6.1 0.8 -5 1.1 -4 1.3 -4 1.7 -2 1 -2 1.2 -3.1 2.3 -2.3 2.2 -2.5 3 -1.9 2.9 -2 4 -0.8 2 -1 3 -0.7 3 -0.7 2.9 -0.8 6 -0.2 3 -0.1 3.9 0.1 4 0.2 3 0.8 5.9 0.7 3 0.7 3 1 3 0.8 1.9 2 4 1.2 2 1.5 2 2.7 2.9 1.3 1.3 2.1 1.5 2 1.4 2 1.1 4 1.8 5 1.6 3 0.7z"/>
<path fill="#8cff00" d="M125.7 161.9l4.3 0.5 5 0.4 5 0 4-0.2 5.1-0.5 4-0.7 4-1 3-1 3-1.2 3-1.5 2.7-1.8 2.4-1.8 2.1-2.1 1.9-2.3 1.7-2.7 1.6-3 1.6-3.9 1.4-5 0.9-5 0.6-4.9 0.2-5 -0.2-5.9 -0.6-6 -0.9-4.9 -1.1-4 -1.5-4 -2-4 -1.9-2.9 -2.6-3 -2.3-2 -3-2.1 -2-1.2 -2-1 -4-1.5 -5-1.4 -5-0.9 -5.1-0.6 -5-0.2 -6 0.2 -6.1 0.6 -5 0.9 -4 1.1 -4 1.4 -4 2 -3 1.9 -3.1 2.6 -2 2.2 -2.1 3 -1.2 1.9 -1 2 -1.2 3 -0.7 2 -0.8 3 -0.7 2.9 -0.9 6 -0.2 3 -0.2 3.9 0.1 4 0.1 3 0.5 3.9 0.4 3 0.6 3 0.8 3 1 3 0.8 1.9 2 4 1.2 2 1.5 2 1 1.1 1.9 1.8 3.2 2.5 2 1.3 2 1 4 1.7 5 1.5z"/>
<path fill="#9eff00" d="M125.4 160.9l4.6 0.6 4 0.3 5 0.1 5-0.2 5.1-0.6 4-0.7 4-0.9 3-1 3-1.2 2-1 3-1.9 2.1-1.5 2-1.9 2-2.3 1.8-2.7 1.6-3 1.5-3.9 1.4-5 1-5 0.5-4.9 0.2-5 -0.1-5.9 -0.6-6 -1-4.9 -1-4 -1.5-4 -0.9-2 -1.1-2 -1.8-2.6 -2-2.4 -3.1-2.7 -3-2 -3-1.5 -4-1.6 -5-1.4 -5-0.9 -5.1-0.5 -5-0.2 -6 0.1 -6.1 0.6 -5 0.9 -4 1.1 -4 1.4 -2 0.9 -2 1.1 -2.7 1.8 -2.4 2 -2.7 3 -2.1 2.9 -1.6 3 -0.8 2 -1.1 3 -0.8 3 -0.7 2.9 -0.8 6 -0.3 3 -0.1 3.9 0.1 4 0.1 3 0.7 5.9 0.5 3 0.8 3 0.5 2 1.1 2.9 1.8 4 1.2 2 1.5 2 2.7 3 3.1 2.4 2 1.3 2 1.1 4 1.7 4 1.2z"/>
<path fill="#b1ff00" d="M125.8 159.9l4.2 0.5 4 0.3 5 0.1 4-0.2 5-0.4 4.1-0.6 4-0.9 3-0.9 3-1.1 3-1.5 3-1.9 1.8-1.3 2-2 1.7-2 1.3-2 1.6-3 1.6-3.9 1.1-4 1-5 0.6-4.9 0.3-5 -0.1-5.9 -0.5-6 -0.8-5 -1-3.9 -1.3-4 -0.9-2 -1-2 -1.9-2.9 -2.4-2.8 -2.1-1.8 -3-2.1 -3-1.6 -4-1.6 -4-1.1 -5-1 -5.1-0.5 -5-0.3 -6 0.1 -6 0.5 -5.1 0.8 -4 0.9 -4 1.4 -2 0.8 -2 1 -3 1.9 -2.9 2.4 -1.8 2 -2.1 2.9 -1.6 3 -0.9 2 -1 3 -1.3 4.9 -0.9 6 -0.3 3 -0.2 3.9 0 4 0.1 3 0.4 4 0.4 2.9 0.5 3 0.7 3 0.9 3 0.7 1.9 0.9 2 1 2 1.9 3 1.4 1.7 1.2 1.3 2.9 2.3 2 1.4 2 1.1 4 1.7 3 0.9 2 0.5z"/>
<path fill="#c6ff00" d="M126.1 158.9l3.9 0.5 5 0.3 5 0 4-0.2 4-0.4 4.1-0.5 4-0.9 3-0.9 3-1.1 3-1.5 2-1.2 2-1.5 1.6-1.5 1.8-2 1.4-2 1.6-3 1.6-3.9 1.1-4 1-5 0.6-4.9 0.2-5 -0.1-5.9 -0.5-6 -0.7-5 -1-3.9 -1.3-4 -1.4-3 -1.8-2.9 -2-2.6 -2.1-1.9 -3-2.2 -3-1.6 -4-1.6 -4-1.1 -5-0.9 -5.1-0.6 -5-0.3 -6 0.1 -6 0.5 -5.1 0.8 -4 0.9 -4 1.4 -3 1.3 -3 1.8 -2.6 2 -2 2 -2.2 2.9 -1.6 3 -0.9 2 -1 3 -1.3 4.9 -0.9 6 -0.2 3 -0.2 3.9 0.1 7 0.3 4 0.4 2.9 0.5 3 0.7 3 0.9 3 0.7 1.9 0.9 2 1 2 2 3 2.3 2.5 1.7 1.5 1.4 1 3 1.8 4 1.7 3 0.9 2 0.5z"/>
<path fill="#daff00" d="M127.6 157.9l4.4 0.4 4 0.2 4 0 4-0.2 4-0.3 4.1-0.6 4-0.9 3-0.8 3-1.1 2-1 2-1.1 2.1-1.5 2.2-2 1.6-2 1.3-2 1.1-2 1.2-2.9 1.2-4 1-5 0.6-4.9 0.4-5 0-6 -0.5-5.9 -0.6-5 -0.9-3.9 -1.2-4 -1.2-3 -1.7-3 -1.5-1.9 -0.8-1 -2.2-2 -2.1-1.5 -3-1.7 -3-1.2 -4-1.2 -5-1 -5.1-0.6 -5-0.3 -6 0 -6 0.4 -5.1 0.7 -4 0.8 -4 1.2 -3 1.2 -3 1.7 -2 1.4 -1 0.9 -2.1 2.1 -1.5 2 -1.7 3 -1.2 3 -0.7 2 -1.2 4.9 -0.8 6 -0.3 3 -0.2 3.9 0.1 7 0.4 4 0.3 2.9 0.5 3 0.7 3 0.9 3 0.7 1.9 0.8 2 1.1 2 2.1 3 2.1 2.2 1 0.8 2 1.5 2 1.1 2 1 4 1.4 5 1.2z"/>
<path fill="#edff00" d="M126.9 156.9l4.1 0.4 4 0.2 4 0.1 4-0.2 4-0.3 4.1-0.4 4-0.8 3-0.8 3-1 2-0.8 2-1.1 2-1.3 2-1.7 2-2.2 1.3-2 1.1-2 1.2-2.9 1.2-4 1-5 0.6-4.9 0.3-5 0-6 -0.3-4.9 -0.6-5 -0.7-3.9 -1.1-4 -1.1-3 -1.6-3 -1.3-1.9 -2-2.2 -2.1-1.8 -2.9-1.8 -3-1.4 -4-1.3 -5-1 -5.1-0.7 -5-0.3 -6-0.1 -6 0.3 -5.1 0.6 -4 0.7 -4 1.1 -3 1.1 -3 1.5 -1.9 1.3 -1.1 0.9 -2.1 1.9 -1.6 2.1 -1.7 3 -0.9 2 -1 3 -1.2 4.9 -0.8 6 -0.4 6.9 0.1 7 0.3 4 0.3 2.9 0.5 3 0.7 3 0.8 3 0.7 1.9 1.4 3 1.9 3 2 2.2 1 0.9 2 1.5 3 1.7 2 0.8 2 0.7 2 0.6 3 0.7z"/>
<path fill="#fffa00" d="M128 155.9l4 0.3 4 0.2 4 0 4-0.2 4-0.3 4.1-0.5 3-0.6 3-0.7 3-1 2-0.9 2-1 2-1.4 1-0.9 1.9-1.9 1.4-2 1.1-2 1.2-2.9 1.2-4 0.9-5 0.6-4.9 0.2-5 0-6 -0.3-5.9 -0.7-5 -0.7-3.9 -0.9-3 -1.1-3 -1.5-3 -1.4-1.9 -1.9-2 -2-1.6 -3-1.7 -3-1.2 -4-1.2 -5-0.9 -5.1-0.6 -5-0.2 -6 0 -6 0.3 -5.1 0.7 -4 0.7 -3 0.9 -3 1.1 -3 1.5 -2 1.4 -2 1.8 -1.6 1.9 -1.8 3 -0.8 2 -1 3 -1.2 4.9 -0.8 6 -0.4 6.9 0.1 7 0.7 6.9 0.4 3 0.6 3 0.9 3 0.7 1.9 1.4 3 1.2 2 0.7 1 1.9 2 1.2 1 1.8 1.2 3 1.5 4 1.4 5 1.1z"/>
<path fill="#ffe300" d="M129.1 154.9l3.9 0.3 4 0.1 4 0 4-0.2 4.1-0.4 3-0.4 3-0.5 3-0.7 2-0.6 2-0.8 2-0.9 2-1.3 1.8-1.5 1.2-1.3 1.3-1.7 1.1-2 1.2-2.9 1.1-4 0.8-4 0.6-4.9 0.3-5 0-6 -0.3-5.9 -0.5-5 -0.7-3.9 -0.7-3 -1-3 -1.3-3 -1.3-2 -1.8-1.9 -1.8-1.6 -1-0.6 -2-1.1 -3-1.2 -4-1.1 -4-0.8 -5.1-0.6 -5-0.3 -6 0 -6 0.3 -5.1 0.5 -4 0.7 -3 0.7 -3 0.9 -3 1.4 -2 1.2 -2 1.8 -1.6 1.7 -0.7 1 -1.1 2 -0.8 2 -0.7 2 -0.8 3 -0.6 2.9 -0.8 6 -0.3 6.9 0.1 7 0.6 6.9 0.4 3 0.6 3 0.8 3 0.7 1.9 1.3 3 1.3 2 0.8 1 2.1 2 2.7 1.8 3 1.3 4 1.2 5 1z"/>
<path fill="#ffca00" d="M132.9 153.9l8.1 0.1 7-0.4 4.1-0.4 3-0.5 2-0.5 3-0.8 2-0.7 2-1 1-0.6 1.5-1.1 1.5-1.5 1-1.3 0.8-1.2 1-2 1-2.9 1-4 0.7-5 0.5-4.9 0.2-5 -0.1-5.9 -0.4-6 -0.6-5 -0.8-3.9 -0.8-3 -1.2-3 -1.1-2 -1.6-1.9 -1.6-1.4 -2-1.4 -2-0.9 -3-1.1 -4-0.9 -5-0.8 -5.1-0.4 -5-0.2 -6 0.1 -6 0.3 -5.1 0.6 -4 0.8 -3 0.8 -3 1.2 -2 1.1 -2 1.6 -1.5 1.5 -1.3 2 -1 2 -0.7 2 -0.8 3 -1 4.9 -0.3 3 -0.4 4 -0.2 7.9 0.3 7 0.4 3.9 0.4 3 0.5 3 0.8 3 0.6 1.9 0.9 2 1.3 2.2 1 1.3 1 1 2 1.6 1 0.6 2 1 2 0.7 2 0.6 4 0.8 5 0.7z"/>
<path fill="#ffb300" d="M123.5 152l3.4 0.3 4.1 0.3 8 0.2 8-0.3 4.1-0.4 3-0.4 5-1 2-0.7 2-0.8 2-1.1 1-0.8 1.4-1.3 0.8-1 1.1-2 1.2-2.9 1-4 0.6-4 0.5-4.9 0.3-5 0-6 -0.1-4.9 -0.4-5 -0.6-3.9 -0.5-3 -0.8-3 -1.2-3 -1.1-2 -0.8-1 -1-0.9 -1.4-1.1 -2-1.2 -3-1.1 -4-1 -4-0.7 -5.1-0.5 -5-0.2 -6-0.1 -5 0.2 -5.1 0.4 -4 0.5 -3 0.6 -3 0.8 -3 1.1 -2 1.2 -1.4 1.1 -1 0.9 -0.8 1 -0.6 1 -1 2 -0.7 2 -0.5 2 -1 4.9 -0.7 7 -0.2 6.9 0.1 8 0.7 6.9 0.4 3 0.7 3 0.9 2.9 1.3 3 1.4 2 1 1 1.2 1 2.2 1.2 3 1.2 4 1z"/>
<path fill="#ff9e00" d="M123.1 151l6.9 0.6 8 0.2 8-0.2 7.1-0.7 5-0.8 2-0.5 2-0.7 2-1 1-0.6 1.5-1.3 0.8-1 1.2-2 1.1-2.9 0.8-3 0.6-4 0.5-5 0.3-4.9 0.1-6 -0.1-4.9 -0.3-5 -0.5-4 -0.6-3.9 -0.8-3 -0.7-2 -0.9-2 -0.7-1 -0.8-1 -1.5-1.2 -2-1.2 -3-1.1 -3-0.7 -4-0.7 -5.1-0.5 -5-0.3 -6 0 -5 0.1 -5.1 0.3 -4 0.4 -4 0.7 -3 0.7 -2 0.7 -2 0.9 -1 0.7 -1 0.8 -1.3 1.4 -0.7 1 -0.9 2 -0.7 2 -0.6 2 -0.8 4.9 -0.7 7 -0.2 7.9 0.2 8 0.7 6.9 0.8 5 0.9 2.9 0.8 2 0.5 1 0.7 1 0.8 1 1.5 1.3 2 1.1 3 1.2 3 0.7z"/>
<path fill="#ff8c00" d="M121.7 150l6.3 0.6 8 0.3 8-0.1 8.1-0.6 3-0.3 3-0.6 2-0.4 2-0.7 2-0.9 1-0.7 1.6-1.6 1.2-2 0.8-2 0.8-2.9 0.7-4 0.5-5 0.3-4.9 0.1-5 -0.1-5.9 -0.2-5 -0.4-4 -0.5-3.9 -0.6-3 -0.9-3 -1-2 -1.3-1.6 -1-0.9 -2-1.2 -2-0.8 -3-0.8 -4-0.7 -5-0.5 -5.1-0.2 -5-0.2 -6 0.1 -5 0.3 -4.1 0.3 -4 0.5 -3 0.6 -3 0.9 -2 1 -1.7 1.2 -0.9 1 -0.7 1 -1 2 -0.6 2 -0.5 2 -0.8 4.9 -0.5 6 -0.3 7.9 0.2 8 0.5 6.9 0.4 3 0.5 3 0.8 2.9 0.8 2 1.2 2 1.6 1.6 2 1.2 2 0.8 3 0.7z"/>
<path fill="#ff7a00" d="M133.4 150l7.6 0 7-0.3 6.1-0.5 5-0.8 3-0.8 2-0.9 1-0.8 1-0.9 0.7-1 0.5-1 0.8-2 0.7-2.9 0.6-4 0.5-5 0.2-5.9 0.1-6 -0.1-5.9 -0.3-5 -0.4-3.9 -0.4-3 -0.7-3 -0.6-2 -0.9-2 -0.7-1 -1.1-1 -0.9-0.6 -1-0.5 -2-0.8 -3-0.7 -4-0.6 -5-0.4 -6.1-0.3 -6-0.1 -6 0.2 -5.1 0.2 -4 0.4 -3 0.4 -3 0.7 -2 0.6 -2 0.9 -1 0.7 -1 1 -0.7 0.9 -0.5 1 -0.8 2 -0.5 2 -0.8 5 -0.6 6.9 -0.2 8.9 0.2 9 0.6 6.9 0.8 5 0.5 1.9 0.8 2 0.5 1 0.7 0.9 1 1 1 0.8 1 0.5 2 0.7 3 0.7 5 0.7 5.1 0.4z"/>
<path fill="#ff6800" d="M127.9 149l7.1 0.2 8 0 7.1-0.3 6-0.6 4-0.7 3-1 1-0.5 1-0.7 1.1-1.4 1-2 0.5-1.9 0.8-4 0.4-4 0.3-4.9 0.2-6 0-6 -0.2-4.9 -0.5-7.9 -0.4-3 -0.6-3 -0.5-2 -1-2 -0.7-1 -1.4-1.1 -2-0.9 -2-0.5 -4-0.7 -4-0.5 -5.1-0.3 -6-0.2 -6 0 -5 0.2 -8.1 0.5 -3 0.4 -3 0.6 -2 0.5 -2 0.9 -1 0.8 -1.1 1.3 -0.6 1 -0.7 2 -0.8 4 -0.7 5.9 -0.3 8 -0.1 8.9 0.4 7.9 0.5 6 0.5 3 0.5 1.9 0.7 2 0.6 1 0.7 1 1.4 1.1 1 0.5 3 1 3 0.6 4 0.4z"/>
<path fill="#f50" d="M123.8 148l7.2 0.3 8 0.1 8-0.1 7.1-0.5 5-0.6 3-0.7 2-0.9 1-0.8 0.7-0.8 0.9-2 0.5-1.9 0.5-3 0.4-4 0.3-5 0.1-4.9 0.1-6 -0.1-5.9 -0.5-8.9 -0.3-3 -0.5-3 -0.5-2 -0.9-2 -0.9-1 -0.8-0.6 -2-0.9 -2-0.5 -3-0.5 -4-0.4 -5.1-0.3 -5-0.1 -6-0.1 -6 0.1 -9.1 0.5 -3 0.3 -3 0.5 -2 0.5 -2 0.9 -1 0.9 -0.7 0.7 -0.5 1 -0.6 2 -0.8 4 -0.5 5.9 -0.3 7 -0.1 8.9 0.3 7.9 0.5 7 0.4 3 0.5 1.9 0.6 2 0.5 1 0.9 1 0.8 0.6 1 0.5 2 0.7 2 0.4 3 0.4z"/>
<path fill="#ff4000" d="M121.9 147l7.1 0.3 9 0.2 9-0.2 7.1-0.3 5-0.5 3-0.6 1-0.3 1-0.5 1.1-1.1 0.5-1 0.6-2 0.5-2.9 0.3-4 0.5-9.9 0-11.9 -0.4-9 -0.3-3.9 -0.4-3 -0.5-2 -0.3-1 -0.5-1 -1.1-1 -1-0.5 -2-0.6 -3-0.5 -4-0.3 -10.1-0.5 -12 0 -9.1 0.4 -4 0.3 -3 0.4 -2 0.4 -1 0.4 -1 0.5 -1.1 1 -0.5 1 -0.3 1 -0.5 2 -0.3 2 -0.5 5.9 -0.2 7 -0.1 8.9 0.2 8.9 0.4 7 0.7 4.9 0.6 2 0.5 1 1.1 1.1 1 0.5 1 0.3 2 0.4z"/>
<path fill="#ff2b00" d="M119.2 146l6.7 0.3 8.1 0.2 10 0 8.1-0.2 5-0.3 4-0.4 1-0.2 2-0.7 0.8-0.7 0.6-2 0.2-1 0.3-2.9 0.3-4 0.3-9.9 0-11.9 -0.2-9 -0.6-6.9 -0.3-2 -0.6-2 -0.8-0.7 -2-0.6 -1-0.2 -3-0.4 -4-0.2 -10.1-0.3 -12 0 -9.1 0.2 -7 0.6 -2 0.3 -2 0.6 -0.8 0.7 -0.6 2 -0.5 4 -0.4 5.9 -0.2 7 -0.1 8.9 0.2 8.9 0.3 7 0.5 4.9 0.2 1 0.6 2 0.8 0.7 2 0.7 1 0.2z"/>
<path fill="#ff1b00" d="M115.3 145l5.6 0.3 8.1 0.2 11 0.1 10.1-0.1 6-0.2 5-0.3 3-0.5 0.5-0.5 0.5-3 0.4-6.9 0.2-9.9 0-11.9 -0.2-9 -0.3-6.9 -0.2-2 -0.4-2 -0.5-0.4 -3-0.5 -7-0.4 -10.1-0.2 -12 0 -9.1 0.2 -7 0.3 -2 0.2 -2 0.4 -0.5 0.4 -0.5 3 -0.2 2 -0.2 5.9 -0.1 7 0 17.8 0.2 7 0.2 5 0.2 1.9 0.4 2 0.5 0.5z"/>
<path fill="#ff0e00" d="M126.2 145l15.8 0.1 13.1-0.2 7-0.3 2-0.3 0.3-0.3 0.4-3 0.2-6.9 0.2-9.9 0-11.9 -0.1-9 -0.3-6.9 -0.4-4 -0.3-0.3 -3-0.3 -7-0.3 -10.1-0.1 -12 0 -9.1 0.1 -7 0.2 -4 0.4 -0.3 0.3 -0.4 3 -0.2 5 -0.2 17.8 0.2 17.9 0.2 4.9 0.4 3 0.3 0.3 3 0.4z"/>
<path fill="#ff0300" d="M111.8 144l4.1 0.2 16.1 0.1 22.1-0.1 10-0.1 0.2-4 0.1-15.9 -0.1-21.8 -0.1-10 -4.1-0.1 -16.1-0.1 -22.1 0 -10 0.2 -0.2 4 -0.1 15.9 0.1 21.8z"/>
</g>
<path d="M46.56 221.40v-2.0M46.56 15.05v2.0M33.50 208.50h2.0M242.50 208.50h-2.0M59.62 221.40v-3.8M59.62 15.05v3.8M33.50 195.61h3.8M242.50 195.61h-3.8M72.69 221.40v-2.0M72.69 15.05v2.0M33.50 182.71h2.0M242.50 182.71h-2.0M85.75 221.40v-3.8M85.75 15.05v3.8M33.50 169.81h3.8M242.50 169.81h-3.8M98.81 221.40v-2.0M98.81 15.05v2.0M33.50 156.92h2.0M242.50 156.92h-2.0M111.88 221.40v-3.8M111.88 15.05v3.8M33.50 144.02h3.8M242.50 144.02h-3.8M124.94 221.40v-2.0M124.94 15.05v2.0M33.50 131.12h2.0M242.50 131.12h-2.0M138.00 221.40v-3.8M138.00 15.05v3.8M33.50 118.23h3.8M242.50 118.23h-3.8M151.06 221.40v-2.0M151.06 15.05v2.0M33.50 105.33h2.0M242.50 105.33h-2.0M164.12 221.40v-3.8M164.12 15.05v3.8M33.50 92.43h3.8M242.50 92.43h-3.8M177.19 221.40v-2.0M177.19 15.05v2.0M33.50 79.53h2.0M242.50 79.53h-2.0M190.25 221.40v-3.8M190.25 15.05v3.8M33.50 66.64h3.8M242.50 66.64h-3.8M203.31 221.40v-2.0M203.31 15.05v2.0M33.50 53.74h2.0M242.50 53.74h-2.0M216.38 221.40v-3.8M216.38 15.05v3.8M33.50 40.84h3.8M242.50 40.84h-3.8M229.44 221.40v-2.0M229.44 15.05v2.0M33.50 27.95h2.0M242.50 27.95h-2.0" stroke="#000" stroke-width="1" fill="none"/><rect x="33.50" y="15.05" width="209.00" height="206.35" fill="none" stroke="#111" stroke-width="1.05"/>
<g class="tk" text-anchor="middle">
<text x="33.5" y="233.2">−2.0</text>
<text x="59.6" y="233.2">−1.5</text>
<text x="85.8" y="233.2">−1.0</text>
<text x="111.9" y="233.2">−0.5</text>
<text x="138.0" y="233.2">0.0</text>
<text x="164.1" y="233.2">0.5</text>
<text x="190.2" y="233.2">1.0</text>
<text x="216.4" y="233.2">1.5</text>
<text x="242.5" y="233.2">2.0</text>
</g><g class="tk" text-anchor="end">
<text x="29.6" y="224.5">−2.0</text>
<text x="29.6" y="198.7">−1.5</text>
<text x="29.6" y="172.9">−1.0</text>
<text x="29.6" y="147.1">−0.5</text>
<text x="29.6" y="121.3">0.0</text>
<text x="29.6" y="95.5">0.5</text>
<text x="29.6" y="69.7">1.0</text>
<text x="29.6" y="43.9">1.5</text>
<text x="29.6" y="18.2">2.0</text>
</g>
<text class="ax" text-anchor="middle" transform="translate(138.0 250.7) scale(1.12 1)">X</text>
<text class="ax" text-anchor="middle" transform="translate(7.6 118.6) rotate(-90) scale(1.15 1)">Y</text>
<text class="tag" x="42.2" y="39.5">(a)</text>
<rect x="276.00" y="15.05" width="17.40" height="206.35" fill="url(#cb)" stroke="#777" stroke-width="0.4"/>
<path d="M276.00 15.05v206.35M293.40 15.05v206.35" stroke="#2b2622" stroke-width="0.8" fill="none"/>
<path d="M293.40 15.35h3.2M293.40 41.14h3.2M293.40 66.94h3.2M293.40 92.73h3.2M293.40 118.52h3.2M293.40 144.32h3.2M293.40 170.11h3.2M293.40 195.91h3.2M293.40 221.70h3.2" stroke="#333" stroke-width="0.9" fill="none"/>
<g class="cl">
<text x="300.0" y="17.5">1.515</text>
<text x="300.0" y="43.3">1.369</text>
<text x="300.0" y="69.1">1.224</text>
<text x="300.0" y="94.9">1.078</text>
<text x="300.0" y="120.7">0.9325</text>
<text x="300.0" y="146.5">0.7869</text>
<text x="300.0" y="172.3">0.6413</text>
<text x="300.0" y="198.1">0.4956</text>
<text x="300.0" y="223.8">0.3500</text>
</g>
<text class="ax" text-anchor="middle" x="284.7" y="8.2">Potential</text>
</g>
<g id="pb">
<g transform="translate(0.15 0.3)">
<rect x="398.5" y="15.1" width="209" height="206.3" fill="#000cff"/>
<path fill="#0025ff" d="M398.5 221.4l209 0 0-206.3 -209 0z"/>
<path fill="#003eff" d="M398.5 221.4l209 0 0-206.3 -209 0z"/>
<path fill="#004dff" d="M399.8 220.4l1 1 204.4 0 1-1 1.3-1.3 0-201.8 -2.3-2.2 -204.4 0 -1 0.9 -1.3 1.3 0 201.8z"/>
<path fill="#0052ff" d="M407.1 220.4l1 1 189.8 0 3.6-3.4 3.6-3.5 2.4-2.6 0-187.3 -6-6.2 -3.6-3.3 -189.8 0 -3.6 3.3 -3.6 3.6 -2.4 2.6 0 187.3 4 4.2z"/>
<path fill="#0056ff" d="M412.2 220.4l1.2 1 179.2 0 3.4-3 3.2-3 5.8-5.9 2.5-2.8 0-176.9 -5.3-5.8 -5.8-5.6 -3.8-3.3 -179.2 0 -3.4 2.9 -3.2 3 -5.8 6 -2.5 2.8 0 176.9 3 3.4 3.3 3.4 3.7 3.6z"/>
<path fill="#005bff" d="M417.4 220.4l1.3 1 168.6 0 4.8-4 4.3-3.9 4.1-4.1 4.4-4.9 2.6-3 0-166.5 -4-4.7 -4-4.3 -4.1-4 -4-3.6 -4.1-3.3 -168.6 0 -4.8 3.9 -4.3 4 -4.1 4 -4.4 4.9 -2.6 3.1 0 166.5 4.3 5 4.7 5 5.1 4.7z"/>
<path fill="#0060ff" d="M423 220.4l1.3 1 157.4 0 6.3-5 5.6-4.9 5.9-6 5.2-5.9 2.8-3.7 0-155.4 -4.5-5.6 -5.4-6 -5.2-5 -6-5.2 -4.7-3.6 -157.4 0 -6.3 4.9 -5.6 5 -5.9 5.9 -5.2 6 -2.8 3.6 0 155.4 2.8 3.7 2.6 3 5.7 6.1 3 2.9 3.1 2.9 3.5 2.9z"/>
<path fill="#0065ff" d="M428.6 220.4l1.5 1 145.8 0 4.2-3 3.9-3 3.5-2.9 3.9-3.6 3.5-3.4 3.7-3.9 3.3-4 3.1-4 2.5-3.4 0-144 -3-4.1 -3-3.8 -3-3.5 -3.6-3.9 -3.5-3.4 -3.9-3.5 -3.5-3 -3.6-2.8 -4.5-3.1 -145.8 0 -4.2 2.9 -3.9 3 -3.5 3 -3.9 3.5 -3.5 3.4 -3.7 4 -3.3 4 -3.1 3.9 -2.5 3.4 0 144 3.2 4.4 3.2 4 3.4 4 3.8 3.9 3.5 3.4 4 3.6 4 3.2z"/>
<path fill="#006aff" d="M434.7 220.4l1.6 1 133.4 0 5.6-3.7 4.4-3.2 4.7-3.8 4.6-4.2 4.4-4.4 4.1-4.5 3.2-4 3.8-5 3-4.5 0-131.7 -3.1-4.6 -3.7-5 -4.1-4.9 -3.6-4 -4-4 -4.6-4.1 -4-3.3 -5.1-3.7 -5.6-3.7 -133.4 0 -5.6 3.7 -4.4 3.2 -4.7 3.8 -4.6 4.1 -4.4 4.5 -4.1 4.4 -3.2 4 -3.8 5.1 -3 4.5 0 131.7 3.8 5.6 3.7 4.9 4.2 5 4.4 4.6 5 4.7 5 4.3 5 3.8z"/>
<path fill="#0071ff" d="M441.2 220.4l1.8 1 120 0 6.3-3.7 6-4.2 6.1-4.7 5-4.5 5-5 5-5.7 4.6-5.9 4-6 2.5-4.2 0-118.5 -3.8-6.3 -3.4-4.9 -4.7-6 -4.4-4.9 -5-5 -5.7-4.9 -5.2-4.1 -6-4.1 -6.3-3.7 -120 0 -6.3 3.7 -6 4.1 -6.1 4.7 -5 4.5 -5 5 -5 5.7 -4.6 6 -4 5.9 -2.5 4.3 0 118.5 1.9 3.2 2.6 4 4.2 5.9 4.9 6 4.6 5 2.9 2.7 3 2.8 6 4.9 6.1 4.3z"/>
<path fill="#07f" d="M448.3 220.4l2 1 105.4 0 3.6-1.8 4-2.2 4-2.5 3-1.9 3.5-2.5 3.6-2.7 3-2.5 3-2.7 3.1-3 2.9-3.1 3-3.4 2.9-3.4 2.2-3 2.8-4 1.9-3 2.4-3.9 2.9-5.5 0-104.1 -1.8-3.5 -2.3-4 -2.4-4 -2-2.9 -2.6-3.5 -2.7-3.5 -2.6-3 -2.7-2.9 -2.9-3 -3.1-2.9 -3-2.7 -3-2.4 -3.1-2.3 -4-2.8 -3-1.9 -4-2.4 -6.6-3.4 -105.4 0 -3.6 1.7 -4 2.3 -4 2.4 -3 2 -3.5 2.5 -3.6 2.7 -3 2.5 -3 2.7 -3.1 3 -2.9 3 -3 3.4 -2.9 3.5 -2.2 3 -2.8 3.9 -1.9 3 -2.4 4 -2.9 5.5 0 104.1 2.4 4.5 2.3 3.9 1.8 3 2.7 4 2.9 3.7 2.5 3.2 3.5 3.9 2.9 3.1 3.1 3 3 2.7 3 2.5 4.1 3 4 2.8 4 2.6 4 2.3z"/>
<path fill="#007fff" d="M456.2 220.4l2.4 1 88.8 0 4.8-2.1 4.1-1.9 5-2.8 4-2.4 4-2.6 4.2-3.1 3.9-3.1 4-3.6 3.3-3.2 3.7-4 3.3-3.9 3.1-4 2.8-4 2.5-3.9 2.8-5 2-4 2.6-5.8 0-87.6 -2.1-4.8 -2-4 -2.7-4.9 -2.5-4 -2.7-4 -3-3.9 -3.1-3.8 -3-3.4 -3.7-3.7 -3.3-3.1 -4.1-3.4 -4-3.1 -4-2.8 -4-2.5 -4-2.3 -5.1-2.6 -6.8-3 -88.8 0 -4.8 2 -4.1 2 -5 2.7 -4 2.4 -4 2.7 -4.2 3 -3.9 3.2 -4 3.5 -3.3 3.3 -3.7 3.9 -3.3 4 -3.1 4 -2.8 3.9 -2.5 4 -2.8 5 -2 3.9 -2.6 5.8 0 87.6 2.1 4.8 2.5 5 2.8 5 2.5 3.9 2.8 4 3.4 4.4 3 3.5 4 4.3 4 3.8 4 3.5 4.1 3.2 4 2.8 4 2.7 5 2.9 5.1 2.6z"/>
<path fill="#0085ff" d="M465.8 220.4l3 1 68.4 0 6-2 6-2.5 4-1.8 5.1-2.7 4-2.3 5-3.3 4-2.9 4-3.3 4.1-3.6 3.4-3.4 3.7-3.9 3.3-4 2.9-4 2.7-4 2.5-3.9 2.7-5 2.4-4.9 2.1-5 2.4-6.9 0-67.5 -1.7-5 -2-4.9 -1.7-4 -2.6-5 -2.8-4.9 -2.6-4 -3.6-4.9 -3.1-3.9 -3.6-4.1 -3.4-3.4 -4-3.7 -4.1-3.4 -4-3 -4-2.7 -4-2.5 -5.1-2.7 -5-2.4 -5-2.1 -4-1.5 -4-1.3 -68.4 0 -5 1.6 -5 2 -5 2.2 -5.1 2.6 -5 2.9 -4 2.5 -4 2.9 -4 3.2 -4.1 3.5 -4 3.9 -3.2 3.4 -3.8 4.5 -3.3 4.4 -2.7 4 -2.5 4 -2.7 4.9 -2.4 5 -2.1 5 -2.4 6.9 0 67.5 2.1 5.9 2.4 6 2.4 4.9 2.7 5 3.1 4.9 2.8 4 3 4 3.6 4.2 3.5 3.7 4.2 4 4.4 3.7 4 3.1 4 2.8 5 3.1 5.1 2.8 5 2.4 5 2.1z"/>
<path fill="#0089ff" d="M471.4 220.4l3.7 1 55.8 0 5.3-1.4 6-2.1 5-1.9 6-2.8 4.1-2.1 5-3 4-2.6 4-2.9 4-3.3 4.1-3.6 4-4 3-3.4 3-3.6 3-4 2.7-3.9 3-5 2.1-4 2.4-4.9 2-5 1.8-5 2.1-7.1 0-55.1 -1.5-5.2 -1.6-5 -2-4.9 -2.2-5 -2.6-5 -2.3-3.9 -3.2-5 -2.9-4 -3.2-3.9 -3.6-4 -3-3.1 -4.1-3.7 -4-3.3 -4-3 -5-3.4 -4-2.4 -4.1-2.1 -5-2.4 -5-2.1 -5-1.8 -4-1.3 -4.3-1.1 -55.8 0 -5.3 1.4 -5 1.6 -5 2 -5 2.2 -5.1 2.5 -4 2.3 -5 3.2 -4 2.8 -4 3.2 -4.1 3.5 -4 3.9 -3 3.3 -3.2 3.8 -3.8 4.9 -2.7 4 -3 5 -2.1 3.9 -2.4 5 -2 4.9 -1.8 5 -2.1 7.2 0 55.1 1.5 5.2 2 5.9 2 5 2.8 5.9 2.1 4 3 5 3.4 4.9 3.1 4 3.4 4 3.8 4 4 3.9 4.1 3.4 4 3.1 5 3.4 4 2.5 5.1 2.7 5 2.4 5 2.1 5 1.8z"/>
<path fill="#008dff" d="M478.5 220.4l5 1 39 0 4.6-0.9 5-1.2 5.1-1.5 5-1.7 5-2 4-1.8 4-2.1 4.1-2.2 4-2.5 4.2-2.9 3.8-3 4-3.4 3.8-3.6 3.3-3.4 3-3.5 3.1-4 2.8-4 2.6-3.9 2.3-4 2.5-4.9 2.3-5 1.9-5 1.3-3.9 1.4-5 1-4 0.9-4.5 0-38.5 -0.9-4.6 -1-4 -1.4-4.9 -1.3-4 -1.9-4.9 -1.8-4 -2-4 -2.1-3.9 -2.4-4 -2.7-4 -3-4 -3.6-4.3 -3.4-3.6 -3.6-3.6 -4.1-3.5 -4-3.2 -4-2.8 -4-2.6 -4-2.3 -5.1-2.6 -4-1.8 -5-2.1 -5-1.7 -5.1-1.4 -5-1.3 -4.6-0.8 -39 0 -4.6 0.8 -4 1 -5.1 1.4 -4 1.3 -5 1.9 -4 1.7 -4 2 -4.1 2.1 -4 2.4 -4 2.7 -4 2.9 -4.4 3.6 -3.7 3.3 -3.6 3.6 -3.6 4 -3.2 3.9 -2.9 4 -3.2 5 -2.3 3.9 -2.5 5 -2.3 5 -1.9 4.9 -1.3 4 -1.4 4.9 -1 4 -0.9 4.6 0 38.5 0.9 4.5 1.2 5 1.5 5 1.8 4.9 2 5 1.8 3.9 2.1 4 2.3 4 3.2 4.9 2.9 4 3.2 4 3.2 3.6 3.3 3.3 3.8 3.4 4 3.4 4.2 3.1 3.8 2.6 5 3 4.1 2.2 5 2.4 5 2 5 1.8 5.1 1.5z"/>
<path fill="#0092ff" d="M488.3 220.4l5.7 0.6 5 0.3 5 0.1 5-0.2 5.1-0.4 5-0.6 5-0.8 5-1.1 5-1.3 5.1-1.6 4-1.5 5-2.1 4-1.9 5.1-2.7 4-2.4 4-2.7 4-3 3-2.5 4.1-3.7 3.2-3.2 3.6-4 3.2-3.9 2.9-4.1 2.6-3.9 2.4-4 2.6-4.9 2.2-5 1.6-4 1.7-4.9 1.5-5 1.2-5 0.9-4.9 0.7-5 0.5-4.9 0.2-5 0-6 -0.2-4.9 -0.5-5 -0.7-4.9 -1.2-6 -1.2-4.9 -1.5-5 -1.4-4 -2-4.9 -1.8-4 -2.6-5 -2.4-3.9 -3.3-5 -2.9-4 -3.3-3.9 -3.7-4 -3.4-3.2 -4-3.6 -4-3.1 -4-2.9 -4-2.6 -4.1-2.3 -5-2.5 -5-2.3 -4-1.5 -5-1.7 -5.1-1.5 -5-1.1 -5-1 -5-0.7 -5.1-0.4 -5-0.3 -6 0 -5 0.3 -5.1 0.4 -5 0.7 -6 1.2 -5 1.2 -5.1 1.5 -4 1.4 -5 2 -4 1.8 -5 2.5 -4.1 2.3 -5 3.3 -4 2.9 -4 3.3 -4.1 3.6 -3.2 3.3 -3.6 4 -3.2 3.9 -2.9 4 -2.6 4 -2.4 3.9 -2.6 5 -2.2 5 -1.6 3.9 -1.7 5 -1.5 4.9 -1.2 5 -0.9 5 -0.7 4.9 -0.5 5 -0.2 4.9 0 6 0.2 5 0.5 4.9 0.7 5 1.2 5.9 1.2 5 1.5 5 1.8 4.9 2.1 5 2.3 4.9 2.2 4 3 5 2.8 3.9 3 4 3.4 4 3.8 3.9 3.4 3.2 4 3.5 4 3 4 2.8 5 3.1 5.1 2.7 4 1.9 5 2.1 5 1.8 5.1 1.6 5 1.2 5 1.1z"/>
<path fill="#0097ff" d="M496 219.4l5 0.2 5 0 5-0.3 5.1-0.4 5-0.7 5-1 5-1.2 5.1-1.4 5-1.7 4-1.6 5-2.3 4-2.1 5.1-2.9 3.7-2.4 4.2-3 3.7-3 3.4-3.1 3.9-3.8 3.2-3.5 2.9-3.5 2.9-4 2.7-3.9 3-5 2-3.9 1.9-4 2-5 1.5-3.9 1.5-5 1.3-5 1-4.9 0.7-5 0.5-4.9 0.3-5 0.1-5 -0.2-4.9 -0.4-6 -0.7-4.9 -0.9-5 -1.2-5 -1.4-4.9 -1.7-5 -2-4.9 -2.3-5 -2-4 -2.4-3.9 -2.6-4 -2.9-4 -3.2-3.9 -3.4-3.9 -3.1-3.1 -4-3.6 -4-3.2 -4-2.9 -4-2.7 -4.1-2.3 -4-2.2 -5-2.3 -5-2 -4-1.4 -5.1-1.5 -5-1.3 -5-0.9 -5-0.8 -5.1-0.5 -5-0.3 -5-0.1 -5 0.2 -6.1 0.5 -5 0.6 -5 0.9 -5 1.2 -5.1 1.4 -5 1.6 -5 2 -5 2.3 -4 2 -4.1 2.3 -4 2.6 -4 2.8 -4 3.2 -3.9 3.4 -3.2 3.1 -3.6 3.9 -3.3 3.9 -2.9 4 -2.7 4 -2.4 3.9 -2.1 4 -2.4 5 -2 4.9 -1.5 4 -1.5 5 -1.3 4.9 -1 5 -0.7 4.9 -0.5 5 -0.3 5 -0.1 4.9 0.2 5 0.4 5.9 0.7 5 0.9 5 1.2 4.9 1.4 5 1.7 4.9 2 5 2.3 5 2 3.9 3 5 2.5 3.7 3 4.1 3 3.6 3.2 3.5 3.9 3.8 3.4 3.1 3.6 2.9 4 2.9 4 2.6 5.1 2.9 4 2.1 4 1.8 5 2.1 5 1.7 5.1 1.4 5 1.2 5 1 6 0.8z"/>
<path fill="#009cff" d="M492.7 217.4l4.3 0.4 5 0.1 5-0.1 5-0.3 5.1-0.5 5-0.7 5-1 5-1.3 4.1-1.2 5-1.8 5-2 4-1.9 4-2.1 5.1-3 4-2.7 3.7-2.7 3.3-2.8 3.6-3.2 3.5-3.5 3.1-3.4 3.2-4 2.9-3.9 2.5-4 2.4-4 2.5-4.9 1.8-4 2-5 1.3-3.9 1.4-5 1.2-4.9 0.9-5 0.6-4 0.5-4.9 0.2-5 0-6 -0.2-4.9 -0.5-5 -0.7-4.9 -1-5 -1.2-5 -1.5-4.9 -1.8-5 -2.1-4.9 -1.9-4 -2.1-4 -2.4-3.9 -2.6-4 -3-4 -3.3-3.9 -2.7-3 -3-3 -3.6-3.2 -4-3.3 -4-2.9 -4-2.6 -4.1-2.4 -4-2.1 -5-2.3 -4-1.6 -5-1.7 -5.1-1.5 -5-1.2 -5-1 -5-0.7 -5.1-0.5 -5-0.2 -6 0 -5 0.2 -5.1 0.5 -5 0.7 -5 1 -5 1.2 -5.1 1.5 -5 1.7 -5 2.1 -4 1.8 -4 2.1 -4.1 2.4 -4 2.6 -4 2.9 -4 3.3 -3 2.7 -3.1 3 -3.2 3.5 -3.3 3.9 -3 4 -2.6 4 -2.4 3.9 -2.1 4 -2.4 5 -1.6 3.9 -1.8 5 -1.5 4.9 -1.2 5 -1 5 -0.7 4.9 -0.5 5 -0.2 4.9 0 6 0.2 5 0.5 4.9 0.7 5 1 4.9 1.2 5 1.5 5 1.8 4.9 2.1 5 1.9 4 2.1 3.9 3 5 2.7 3.9 2.8 3.7 3 3.6 3.5 3.7 3.6 3.4 4 3.4 4 3.1 4 2.8 4 2.5 4.1 2.2 4 2 5 2.2 5 1.8 5.1 1.6 5 1.3 5 1.1 5 0.8z"/>
<path fill="#00a1ff" d="M490.4 215.4l4.6 0.5 5 0.2 5 0.1 5-0.2 5.1-0.5 5-0.7 5-0.9 4-0.9 4-1.1 5.1-1.6 4-1.5 5-2.1 4-2 4.1-2.2 4-2.5 4-2.8 3.4-2.6 3.6-3 4-3.8 3-3.1 3.1-3.5 2.6-3.5 2.8-3.9 2.5-4 2.3-4 2-3.9 2.2-5 1.5-4 1.6-4.9 1.1-4 1.1-4.9 0.9-5 0.6-5 0.4-4.9 0.2-5 -0.1-4.9 -0.3-5 -0.5-5 -0.8-4.9 -1-5 -1.3-4.9 -1.6-5 -1.8-5 -1.8-3.9 -1.9-4 -2.2-4 -2.4-3.9 -2.7-4 -3.1-4 -2.5-3 -3.7-3.9 -3.2-3 -3.3-3 -3.7-2.9 -4-2.8 -4-2.5 -4.1-2.3 -5-2.5 -5-2.2 -4-1.5 -5.1-1.6 -4-1.1 -5-1.1 -5-0.8 -5-0.7 -5.1-0.4 -5-0.1 -5 0 -5 0.3 -5.1 0.6 -5 0.8 -5 1 -5 1.2 -5.1 1.6 -5 1.8 -4 1.7 -4 1.9 -4 2.2 -4.1 2.4 -4 2.7 -4 3 -3 2.5 -4 3.7 -3.1 3.1 -3 3.3 -2.9 3.6 -2.9 4 -2.5 3.9 -2.3 4 -2.6 5 -2.2 4.9 -1.5 4 -1.6 5 -1.1 3.9 -1.1 5 -0.9 5 -0.6 4.9 -0.4 5 -0.2 4.9 0.1 6 0.4 4.9 0.5 5 0.9 5 1.1 4.9 1.3 5 1.3 4 1.8 4.9 1.8 4 2.4 4.9 2.3 4 2.5 4 2.8 3.9 2.6 3.5 3.1 3.5 3.8 4 3.2 2.9 4 3.4 4 3 4 2.6 4.1 2.5 4 2.1 5 2.4 4 1.6 5 1.8 5.1 1.5 5 1.2 5 1z"/>
<path fill="#00a7ff" d="M488.4 213.5l4.6 0.5 5 0.3 5 0.2 5-0.2 5-0.3 5.1-0.6 4-0.6 5-1.1 4-1 5.1-1.5 4-1.4 5-2.1 4-1.9 4-2.1 4.1-2.4 4-2.7 3-2.2 4-3.3 3.8-3.4 2.9-3 2.7-3 3.2-4 2.5-3.3 2.3-3.6 2.4-4 2.1-3.9 1.9-4 2-5 1.7-4.9 1.1-4 1-4 1-4.9 0.8-5 0.5-4.9 0.2-5 0-5 -0.2-4.9 -0.4-5 -0.7-4.9 -0.7-4 -1.2-5 -1.1-3.9 -1.3-4 -1.9-5 -2.2-4.9 -2.1-4 -2.2-4 -2.6-3.9 -2.9-4 -2.5-3.2 -3.1-3.4 -3.2-3.3 -3.2-3 -3.6-3 -4-3 -4-2.6 -4.1-2.4 -4-2.2 -5-2.3 -4-1.6 -4-1.4 -5.1-1.6 -5-1.2 -5-1 -5-0.7 -5.1-0.5 -5-0.3 -5 0 -5 0.2 -5.1 0.5 -5 0.6 -4 0.8 -5 1.1 -4 1.1 -4.1 1.3 -5 1.9 -5 2.2 -4 2 -4 2.2 -4.1 2.6 -4 2.8 -3.2 2.5 -3.5 3 -3.3 3.2 -3.1 3.2 -3 3.5 -3 4 -2.7 4 -2.4 3.9 -2.2 4 -2.4 5 -1.6 3.9 -1.4 4 -1.6 4.9 -1.2 5 -1 5 -0.8 4.9 -0.5 5 -0.2 4.9 0 5 0.2 5 0.4 4.9 0.7 5 0.9 5 1.3 4.9 1.1 4 1.7 4.9 2 5 2.4 5 2.2 3.9 2.4 4 2.7 4 2.2 2.9 3.4 4 3.5 3.7 3.3 3.3 3.7 3.1 4 3.1 4 2.8 4.1 2.4 4 2.2 4 2 4 1.7 5 1.9 5.1 1.5 5 1.3 5 1.1z"/>
<path fill="#00adff" d="M495.6 212.5l4.4 0.2 5 0 5-0.2 5.1-0.4 5-0.7 4-0.8 4-0.9 5-1.3 4.1-1.3 5-1.9 4-1.8 4-2 4-2.2 4.1-2.6 4-2.8 3-2.3 3.3-2.8 3.1-3 2.9-3 3.4-4 3-3.9 2.1-3 2.5-4 2.2-3.9 1.9-4 2.2-5 1.4-3.9 1.3-4 1.3-5 0.9-3.9 0.8-5 0.6-5 0.4-4.9 0.1-5 -0.1-3.9 -0.3-5 -0.5-5 -0.8-4.9 -1.1-5 -1-4 -1.2-3.9 -1.8-5 -2.2-4.9 -1.9-4 -2.2-4 -2.5-3.9 -2.1-3 -3-4 -3.4-4 -2.9-2.9 -3.4-3.2 -3.2-2.8 -3.8-2.9 -4-2.7 -4.1-2.5 -4-2.2 -4-1.9 -5-2.1 -4-1.4 -4.1-1.3 -5-1.3 -4-0.9 -5-0.8 -5.1-0.6 -5-0.4 -5-0.1 -4 0.1 -5 0.3 -5.1 0.5 -5 0.8 -5 1.1 -4 1 -4.1 1.2 -5 1.8 -5 2.1 -4 1.9 -4 2.2 -4.1 2.5 -3 2 -4 3 -4 3.4 -3 2.8 -3.3 3.3 -2.8 3.2 -2.9 3.8 -2.8 4 -2.5 3.9 -2.2 4 -1.9 4 -2.2 4.9 -1.4 4 -1.3 4 -1.3 4.9 -0.9 4 -0.8 4.9 -0.6 5 -0.4 5 -0.1 4.9 0.1 5 0.4 4.9 0.6 5 0.8 5 0.9 3.9 1.3 5 1.3 4 1.4 3.9 2.2 5 1.9 4 2.2 3.9 2.5 4 2.8 4 3.1 3.9 2.9 3.3 3 3.1 3 2.8 4 3.4 4 3 4 2.6 4.1 2.4 4 2.1 4 1.9 5 2 5.1 1.8 4 1.1 5 1.2 5 1 5 0.7z"/>
<path fill="#00b3ff" d="M492.6 210.5l4.4 0.3 5 0.2 5-0.1 4-0.2 5.1-0.5 5-0.8 4-0.7 5-1.3 4-1.1 4.1-1.4 5-2 4-1.9 4-2.1 4-2.3 4.1-2.7 3-2.2 3.7-3 3.3-3 3-3 2.7-3 2.4-2.9 3-4 2.6-4 1.8-3 2.1-3.9 1.9-4 1.6-4 1.4-3.9 1.3-4 1.3-5 0.8-3.9 0.8-5 0.6-4.9 0.2-4 0.2-5 -0.2-4.9 -0.3-5 -0.6-5 -0.9-4.9 -0.9-4 -1.3-4.9 -1.3-4 -1.5-4 -2.2-4.9 -2-4 -2.2-4 -2.5-3.9 -2.2-3 -2.5-3.3 -3.1-3.5 -3-3.1 -3.1-3 -3.6-3 -3.3-2.6 -4-2.7 -4.1-2.4 -4-2.2 -4-1.9 -4-1.7 -5-1.8 -4.1-1.2 -5-1.3 -4-0.8 -5-0.8 -5.1-0.6 -4-0.2 -5-0.2 -5 0.2 -5 0.3 -5.1 0.6 -5 0.9 -4 0.8 -5 1.4 -4.1 1.3 -4 1.4 -5 2.2 -4 1.9 -4 2.3 -4.1 2.5 -3 2 -3.3 2.6 -3.6 3 -3.1 3 -3 3.1 -3.1 3.5 -2.5 3.3 -2.8 3.9 -2.5 4 -2.2 4 -1.9 4 -1.7 3.9 -1.8 5 -1.3 3.9 -1.3 5 -0.8 4 -0.8 4.9 -0.6 5 -0.3 5 -0.1 4.9 0.2 5 0.4 4.9 0.7 5 0.9 5 0.9 3.9 1.1 4 1.7 5 1.9 4.9 1.8 4 2.1 4 2.3 3.9 2.6 4 3 4 3.1 3.6 3 3.3 3.1 3 3.9 3.4 3.2 2.5 3.8 2.7 4.1 2.5 4 2.2 4 2 4 1.7 4 1.6 5.1 1.6 4 1.1 5 1.1 5 0.8z"/>
<path fill="#00baff" d="M490.5 208.5l4.5 0.4 5 0.3 5 0 4-0.1 4-0.3 5.1-0.6 5-0.9 4-0.9 5-1.3 4.1-1.3 4-1.5 4-1.7 4-2 4-2.2 4.1-2.5 3-2.1 3-2.3 3.4-2.8 3.2-3 2.9-3 2.6-3 3.2-3.9 2.1-3 2.5-4 2.2-3.9 2-4 1.7-4 1.5-3.9 1.4-4 1.1-4 0.9-3.9 0.9-5 0.7-5 0.4-3.9 0.2-5 0-5 -0.3-4.9 -0.4-4 -0.6-3.9 -0.9-5 -1.2-5 -1.1-3.9 -1.4-4 -1.6-4 -1.8-3.9 -2-4 -2.3-4 -2.6-3.9 -2.6-3.6 -2.8-3.4 -3.3-3.5 -3-3 -3-2.7 -4-3.1 -3-2.2 -4.1-2.6 -4-2.2 -4-2.1 -4-1.7 -4-1.6 -5.1-1.6 -4-1.1 -4-0.9 -5-1 -5-0.6 -4.1-0.4 -5-0.2 -5 0 -5 0.3 -4.1 0.4 -4 0.5 -5 1 -5 1.1 -4 1.2 -4.1 1.3 -4 1.6 -4 1.7 -4 2.1 -4 2.2 -4.1 2.6 -3.6 2.6 -3.4 2.7 -3.6 3.3 -3 2.9 -2.7 3 -3.2 4 -2.2 3 -2.6 3.9 -2.3 4 -2 4 -1.8 3.9 -1.6 4 -1.7 5 -1.1 3.9 -0.9 4 -0.9 5 -0.7 4.9 -0.4 4 -0.2 4.9 0 5 0.3 5 0.5 4.9 0.6 4 1 5 1 3.9 1.5 5 1.4 3.9 2 5 2 4 2.1 3.9 2.5 4 2.7 4 3.2 3.9 2.6 3 2.9 3 3.2 3 3.4 2.8 3 2.3 4.1 2.8 4 2.4 4 2.1 4 1.9 5 2.1 4.1 1.3 5 1.5 4 1 5 0.9z"/>
<path fill="#00c1ff" d="M488.9 206.5l4.1 0.5 5 0.4 4 0.1 5-0.1 5-0.3 4.1-0.4 4-0.6 5-1 4-1 4-1.2 4.1-1.3 4-1.6 4-1.8 4-2.1 4-2.3 3.1-1.9 4-2.9 3-2.5 3-2.7 3-2.9 2.9-3.2 2.4-2.9 2.3-3 2.7-4 2.3-3.9 1.6-3 1.9-4 1.6-4 1.5-3.9 1.2-4 1-4 1.1-4.9 0.8-5 0.4-3.9 0.3-4 0.1-5 -0.1-4.9 -0.3-4 -0.4-4 -0.8-4.9 -1.1-5 -1-4 -1.2-3.9 -1.5-4 -1.6-4 -1.9-3.9 -2.1-4 -2.5-4 -2.5-3.7 -2.6-3.2 -2.5-3 -3-3.1 -3-2.9 -3-2.6 -3-2.4 -4.1-2.8 -4-2.5 -4-2.2 -4-1.9 -4-1.7 -4-1.4 -5.1-1.6 -4-1 -4-0.9 -4-0.6 -5.1-0.7 -4-0.3 -5-0.1 -5 0 -5 0.4 -4.1 0.4 -5 0.8 -5 1 -4 1 -4 1.2 -4.1 1.4 -4 1.7 -4 1.8 -4 2.2 -4 2.4 -3.8 2.5 -3.3 2.5 -3 2.5 -3.2 2.9 -2.9 3 -3.4 4 -2.6 3.2 -2.5 3.7 -2.5 4 -2.1 4 -1.9 3.9 -1.6 4 -1.5 4 -1.2 3.9 -1 4 -1.1 5 -0.8 4.9 -0.4 4 -0.3 5 -0.1 4.9 0.2 5 0.4 4.9 0.7 5 0.7 4 1.1 4.9 1.2 4 1.3 4 2 4.9 1.8 4 2.1 4 2.3 3.9 2 3 3 4 2.4 2.9 2.9 3.2 3 2.9 3.2 2.9 3.8 3 3 2.2 4.1 2.5 4 2.3 4 2 4 1.7 5 1.9 5.1 1.5 4 1.1 5 1z"/>
<path fill="#00c9ff" d="M496.5 205.5l4.5 0.2 4 0 4-0.1 5.1-0.5 5-0.6 4-0.8 4-0.9 4-1 4.1-1.3 4-1.5 4-1.7 4-2 4-2.3 3-1.8 3.7-2.5 3.4-2.7 3-2.6 3-2.9 3-3.2 3-3.5 2.2-3 2.7-4 1.8-2.9 2.1-4 1.9-4 1.6-3.9 1.4-4 1.2-4 1-3.9 0.8-4 0.8-5 0.4-3.9 0.4-5 0-4 0-3.9 -0.4-5 -0.4-4 -0.8-4.9 -1-5 -1.1-4 -1.3-3.9 -1.4-4 -1.7-4 -1.9-3.9 -1.6-3 -2.5-4 -2.7-3.9 -2.5-3.2 -3-3.5 -3-3.1 -3-2.7 -3-2.6 -3-2.2 -4.1-2.8 -4-2.4 -3-1.6 -4-1.9 -4-1.6 -4.1-1.5 -4-1.2 -4-1 -5-1.1 -5-0.8 -4.1-0.4 -5-0.3 -4-0.1 -4 0.1 -5 0.3 -4.1 0.4 -5 0.8 -5 1.1 -4 1 -4 1.2 -4.1 1.5 -4 1.6 -4 1.9 -3 1.6 -4 2.4 -4.1 2.8 -3.1 2.4 -3.6 2.9 -3.1 3 -2.8 3 -2.6 3 -2.3 3 -2.7 3.9 -2.5 4 -1.6 3 -1.9 3.9 -1.7 4 -1.4 4 -1.3 3.9 -1.1 4 -1 5 -0.8 4.9 -0.4 4 -0.4 5 0 3.9 0 4 0.4 5 0.4 3.9 0.8 5 1 4.9 1.1 4 1.3 4 1.8 4.9 1.8 4 1.9 4 2.3 3.9 1.9 3 2.6 3.6 2.6 3.4 2.7 2.9 2.9 3 3.3 3 3.5 2.9 3 2.2 4.1 2.6 4 2.4 4 2 4 1.8 4 1.5 5.1 1.7 4 1 5 1.1 4 0.7 4 0.5z"/>
<path fill="#00d1ff" d="M493.5 203.5l4.5 0.4 4 0.1 5-0.1 4-0.2 4.1-0.4 4-0.6 4-0.7 5-1.2 4-1.1 4.1-1.4 3-1.2 4-1.7 4-2 3-1.7 4-2.6 3.1-2.1 3-2.3 3-2.7 2.4-2.3 2.9-2.9 2.5-3 2.3-3 2.1-3 2.5-3.9 1.6-3 2-4 1.7-4 1.5-3.9 1.3-4 1-4 0.9-3.9 0.9-5 0.5-4 0.3-4.9 0.2-4 -0.1-4.9 -0.3-4 -0.5-5 -0.8-4.9 -0.8-4 -1-4 -1.2-3.9 -1.5-4 -1.6-4 -1.9-3.9 -2.2-4 -2.5-4 -2.1-3 -2.3-2.9 -2.8-3.3 -3-3.1 -2.8-2.6 -3.2-2.7 -3-2.3 -3.1-2.1 -4-2.4 -3-1.7 -4-1.9 -4-1.7 -4.1-1.5 -4-1.2 -4-1.1 -4-0.8 -5-0.9 -4.1-0.4 -5-0.4 -4-0.1 -5 0 -4 0.3 -5.1 0.5 -5 0.8 -4 0.8 -4 1 -4 1.2 -4.1 1.4 -4 1.7 -4 1.8 -4 2.2 -4 2.4 -3.1 2.1 -3 2.3 -3.2 2.7 -2.8 2.6 -3 3.1 -2.8 3.3 -2.3 2.9 -2.1 3 -2.5 4 -1.6 3 -2 3.9 -1.7 4 -1.5 4 -1.3 3.9 -1 4 -0.9 4 -0.9 4.9 -0.5 4 -0.3 5 -0.2 4.9 0.2 5 0.3 4.9 0.5 4 0.9 5 0.9 3.9 1 4 1.3 4 1.5 3.9 1.7 4 2 4 2.2 4 2.6 3.9 2.1 3 2.4 3 3 3.3 3 3 3 2.7 3 2.5 4.1 2.8 3 2 4 2.3 4 2 4 1.7 4 1.6 4.1 1.3 4 1.1 5 1.1 5 0.8z"/>
<path fill="#00d9ff" d="M491.5 201.6l4.5 0.4 4 0.2 5 0 4-0.2 4-0.3 5.1-0.6 4-0.7 4-0.9 4-1.1 4-1.2 3.1-1.1 4-1.7 3-1.4 4-2.1 4-2.5 3-2 3.1-2.3 3-2.5 3-2.9 2.9-2.9 2.5-3 2.3-3 2.1-3 1.9-2.9 1.7-3 2-4 1.3-3 1.6-3.9 1.3-4 1.2-4 0.9-3.9 0.8-4 0.5-4 0.5-4.9 0.2-4 0.1-5 -0.2-3.9 -0.3-4 -0.7-5 -0.7-3.9 -1.1-5 -1.2-4 -1.3-3.9 -1.6-4 -1.3-3 -2-3.9 -1.7-3 -2.6-4 -2.1-3 -2.4-2.9 -2.7-3 -2.9-3 -3-2.7 -3-2.4 -3.1-2.2 -4-2.6 -3-1.8 -4-2 -4-1.8 -4-1.6 -4.1-1.3 -4-1.1 -4-0.9 -4-0.8 -4-0.5 -5.1-0.5 -4-0.2 -5-0.1 -4 0.2 -4 0.3 -5.1 0.7 -4 0.7 -5 1.1 -4 1.1 -4.1 1.3 -4 1.6 -3 1.3 -4 2 -3 1.7 -4 2.5 -3.1 2.1 -3 2.4 -3 2.6 -3 2.9 -2.7 3 -2.5 3 -2.2 2.9 -2.7 4 -1.7 3 -2.1 3.9 -1.8 4 -1.6 4 -1.3 3.9 -1.2 4 -0.9 4 -0.8 4 -0.5 3.9 -0.5 5 -0.3 4.9 0.1 5 0.2 5 0.5 3.9 0.5 4 1 5 1 3.9 1.2 4 1.4 4 1.6 3.9 1.9 4 2.1 4 2.5 3.9 2.1 3 2.3 3 2.5 3 2.9 3 3.2 2.9 3.6 3 3.3 2.4 3 2 4 2.3 4 2.1 4 1.8 4 1.5 4.1 1.3 4 1.2 4 0.9 4 0.7z"/>
<path fill="#00e2ff" d="M489.8 199.6l4.2 0.4 4 0.3 4 0.1 5 0 4-0.3 4.1-0.4 4-0.6 4-0.7 4-0.9 4-1.2 4.1-1.3 3-1.2 4-1.7 3-1.5 4-2.3 3-1.9 3-2.1 3.1-2.4 2.5-2.2 2.5-2.3 2.5-2.6 2.5-3 2.3-3 2.1-3 1.9-2.9 2.2-4 1.9-4 1.3-2.9 1.5-4 1.2-4 1.1-3.9 0.6-3 0.7-4 0.6-4 0.3-3.9 0.3-5 -0.1-5 -0.2-3.9 -0.3-4 -0.6-4 -0.7-3.9 -0.9-4 -1.1-4 -1.3-3.9 -1.5-4 -1.8-4 -2.1-3.9 -1.7-3 -1.9-3 -2.8-3.7 -2.6-3.2 -2.4-2.6 -3-2.9 -2.8-2.5 -3.3-2.5 -3-2.2 -3-1.9 -4-2.2 -3-1.5 -4-1.8 -3-1.1 -4.1-1.4 -4-1.1 -4-0.9 -4-0.8 -5-0.7 -4.1-0.4 -4-0.2 -5 0 -4 0.2 -4 0.3 -5.1 0.6 -4 0.8 -4 0.8 -4 1.1 -4 1.3 -4.1 1.5 -4 1.8 -4 2 -3 1.7 -3 1.9 -3.8 2.7 -3.3 2.7 -2.6 2.3 -3 3 -2.4 2.7 -2.6 3.2 -2.2 3 -1.9 3 -2.3 4 -1.5 2.9 -1.8 4 -1.5 4 -1.3 3.9 -1.1 4 -0.9 4 -0.7 3.9 -0.7 5 -0.3 4 -0.2 4.9 0.1 5 0.2 4 0.5 3.9 0.7 5 1 5 1.1 3.9 1.2 4 1.5 4 1.7 3.9 2 4 2.3 4 1.9 2.9 2.8 3.8 2.6 3.2 2.8 3 2.6 2.5 3 2.6 3.1 2.4 3 2.1 4 2.5 4 2.2 3 1.4 4 1.7 4.1 1.5 4 1.2 4 1.1 5 1z"/>
<path fill="#00ebff" d="M496.7 198.6l4.3 0.2 4 0 4-0.2 4-0.3 4.1-0.5 4-0.7 4-0.8 4-1.1 4-1.2 3.1-1.1 4-1.7 3-1.4 3-1.6 4-2.4 3-2 3.1-2.3 3-2.5 3-2.9 2.2-2.3 2.6-3 2.3-3 2.1-2.9 1.8-3 1.7-3 1.9-4 1.3-2.9 1.5-4 1.3-4 1-3.9 0.9-4 0.7-4 0.5-4 0.4-4.9 0.1-4 -0.1-4 -0.2-3.9 -0.4-5 -0.6-3.9 -0.8-4 -1-4 -1.1-4 -1.4-3.9 -1.2-3 -1.8-4 -2.1-3.9 -1.8-3 -2-3 -2.2-3 -2.5-2.9 -2.7-3 -2.4-2.3 -3-2.7 -3.1-2.3 -3-2.1 -3-1.9 -4-2.2 -4-2 -3-1.2 -4.1-1.5 -4-1.3 -4-1 -4-0.9 -4-0.6 -4.1-0.5 -5-0.4 -4-0.1 -4 0 -4 0.2 -5.1 0.5 -4 0.6 -4 0.7 -4 1 -4 1.1 -4.1 1.4 -3 1.2 -4 1.8 -4 2 -3 1.8 -3 2 -3 2.1 -3.1 2.5 -3 2.7 -2.3 2.4 -2.7 3 -2.4 2.9 -2.1 3 -1.9 3 -2.3 4 -1.9 3.9 -1.3 3 -1.5 4 -1.3 3.9 -1 4 -0.9 4 -0.7 3.9 -0.5 4 -0.4 5 -0.1 3.9 0.1 4 0.2 4 0.4 4.9 0.6 4 0.8 4 1 3.9 1.1 4 1.4 4 1.2 2.9 1.8 4 2.1 4 1.8 3 2.7 3.9 2.3 3 2.6 3 2.8 3 2.4 2.2 3.3 2.7 3.8 2.8 3 2 3 1.7 4 2.1 4 1.8 4.1 1.5 4 1.3 4 1.1 4 0.9 4 0.7 4 0.6z"/>
<path fill="#00f4ff" d="M495.6 196.6l4.4 0.2 4 0.1 4-0.1 4-0.3 4.1-0.5 4-0.6 3-0.6 4-1 4-1.1 4.1-1.4 3-1.2 4-1.8 3-1.6 3-1.8 3-1.9 3-2.2 3.1-2.5 2.8-2.5 2.2-2.2 2.5-2.8 2.3-3 2.2-2.9 1.9-3 1.7-3 2-4 1.3-2.9 1.5-4 1-3 1.1-4 0.8-2.9 0.7-4 0.6-4 0.4-3.9 0.3-5 0.1-4 -0.2-3.9 -0.4-5 -0.5-4 -0.6-3.9 -0.9-4 -1.1-4 -1.3-3.9 -1.1-3 -1.7-4 -2-3.9 -1.7-3 -1.9-3 -2-2.8 -2.5-3.2 -2.5-2.7 -2.2-2.2 -2.8-2.6 -3.1-2.4 -3-2.2 -3-2 -3-1.7 -3-1.6 -4-1.8 -3-1.2 -4.1-1.4 -4-1.2 -4-0.9 -4-0.8 -4-0.6 -4.1-0.4 -5-0.3 -4 0 -4 0.1 -5 0.4 -4.1 0.5 -4 0.6 -4 0.9 -4 1.1 -4 1.2 -3.1 1.1 -4 1.7 -4 2 -3 1.7 -3 1.9 -2.8 1.9 -3.3 2.6 -2.7 2.4 -2.3 2.2 -2.6 2.8 -2.5 2.9 -2.2 3 -2 3 -1.7 3 -1.6 2.9 -1.9 4 -1.2 3 -1.4 3.9 -1.2 4 -1 4 -0.7 4 -0.6 3.9 -0.4 4 -0.3 4.9 -0.1 4 0.2 4 0.4 4.9 0.5 4 0.6 4 0.9 4 1.1 3.9 1.3 4 1.1 3 1.7 3.9 2 4 1.7 3 2.6 3.9 2.2 3 2.5 3 2.8 3 2.8 2.7 3.1 2.5 3 2.3 3 2 3 1.8 4 2.2 4 1.8 3 1.2 4.1 1.4 4 1.1 4 1 4 0.8 4 0.5z"/>
<path fill="#0ff" d="M490.4 194.6l3.6 0.4 4 0.3 4 0.1 4 0 4-0.2 4.1-0.4 7-1.1 3-0.6 4-1 3-0.9 4.1-1.4 4-1.7 3-1.4 3-1.6 3-1.8 3-2 3-2.2 2.8-2.3 2.2-2 2.1-2.2 2.5-2.8 3.8-4.9 2-3 1.7-3 1.6-3 1.8-3.9 1.2-3 1.3-4 0.9-3 1-3.9 0.8-4 0.7-5 0.3-3.9 0.2-4 0.1-5 -0.2-3.9 -0.3-4 -0.5-4 -0.7-3.9 -0.9-4 -0.8-3 -1.2-3.9 -1.5-4 -1.3-3 -2-4 -1.6-2.9 -1.9-3 -2.1-3 -2.4-3 -2.5-2.8 -2.1-2.1 -2.9-2.7 -3.1-2.4 -3-2.2 -3-1.9 -3-1.7 -3-1.6 -4-1.8 -3.1-1.1 -4-1.4 -3-0.8 -4-1 -4-0.8 -5-0.7 -4.1-0.3 -4-0.2 -5-0.1 -4 0.2 -4 0.3 -4.1 0.5 -4 0.7 -4 0.9 -3 0.8 -4 1.2 -4.1 1.4 -3 1.3 -4 1.9 -3 1.7 -3 1.9 -3 2.1 -3 2.3 -2.9 2.5 -2.2 2.1 -2.6 2.8 -2.5 3 -2.2 3 -2 3 -1.7 3 -1.6 2.9 -1.8 4 -1.2 3 -1.3 3.9 -0.9 3 -1 4 -0.8 4 -0.7 4.9 -0.3 4 -0.2 3.9 -0.1 5 0.2 4 0.3 3.9 0.7 5 0.7 4 0.9 3.9 1.2 4 1.3 4 1.2 3 1.8 3.9 2.2 4 1.8 3 2 2.9 2.3 3 2.5 3 2.8 2.9 3 2.7 2.9 2.3 3.2 2.3 3 1.9 4 2.3 3 1.5 4 1.7 4.1 1.5 4 1.2 4 1 4 0.8z"/>
<path fill="#00fff4" d="M491.7 192.6l3.3 0.4 4 0.2 4 0.1 4-0.1 4-0.2 4.1-0.5 3-0.4 4-0.7 4-0.9 3-0.9 4-1.3 3.1-1.1 3-1.3 3-1.5 3-1.6 3-1.9 5-3.6 3-2.5 2.1-2 2-2 2.5-3 1.6-2 2.1-2.9 1.9-3 1.7-3 1.4-3 1.4-2.9 1.1-3 1.3-4 0.9-3 0.9-3.9 0.7-4 0.6-4 0.4-3.9 0.2-4 0-5 -0.2-3.9 -0.3-4 -0.5-4 -0.7-3.9 -0.9-4 -0.8-3 -1.2-3.9 -1.5-4 -1.4-3 -1.4-3 -1.7-2.9 -1.9-3 -2.1-3 -2.1-2.6 -2.1-2.4 -2.9-2.9 -2.2-2 -2.9-2.3 -3-2.2 -3-1.9 -3-1.8 -3-1.5 -3-1.3 -3.1-1.2 -4-1.4 -3-0.9 -4-0.9 -4-0.8 -4-0.6 -4.1-0.4 -4-0.3 -5 0 -4 0.1 -4 0.3 -4.1 0.4 -4 0.7 -4 0.8 -3 0.7 -4 1.2 -3 1.1 -4.1 1.6 -4 1.9 -3 1.7 -3 1.8 -3 2.1 -2.7 2.1 -2.4 2 -3 2.9 -2 2.2 -2.3 2.8 -2.2 3 -2 3 -1.7 2.9 -1.6 3 -1.8 4 -1.1 3 -1.3 3.9 -0.9 3 -0.9 4 -0.7 3.9 -0.6 4 -0.4 4 -0.2 4.9 0 5 0.2 4 0.4 3.9 0.6 4 0.7 4 0.9 3.9 1.2 4 1.4 4 1.6 3.9 1.4 3 1.6 3 2.5 4 2.1 2.9 2.4 3 2.7 3 3 2.9 3.1 2.6 3 2.3 3 2 3 1.8 3 1.5 4 1.9 3.1 1.2 4 1.3 4 1.2 4 0.9 4 0.7z"/>
<path fill="#0fe" d="M493.8 191.6l7.2 0.5 4 0 4-0.2 4-0.3 4.1-0.5 4-0.7 3-0.7 3-0.7 4-1.2 6.1-2.3 3-1.3 3-1.6 3-1.7 3-2 2.9-2.1 2.4-2 2.2-2 2.6-2.6 2.1-2.4 2.3-2.9 3.3-5 1.8-3 1.5-3 1.3-2.9 1.2-3 1.9-6 1-3.9 0.6-3 0.6-4 0.5-3.9 0.3-4 0.1-4 -0.1-4 -0.2-3.9 -0.3-4 -0.6-4 -0.7-3.9 -1-4 -1.1-4 -1-2.9 -1.6-4 -1.4-3 -1.6-3 -1.8-2.9 -2-3 -2.2-3 -1.9-2.2 -2.6-2.7 -2.5-2.4 -3-2.5 -2-1.5 -3-2.1 -3-1.8 -3-1.6 -3-1.4 -3-1.3 -4.1-1.4 -4-1.2 -4-1 -3-0.6 -4-0.7 -4.1-0.4 -4-0.3 -4-0.1 -4 0 -4 0.2 -4.1 0.4 -4 0.5 -4 0.8 -4 0.9 -4 1.1 -3 1.1 -4.1 1.5 -3 1.4 -3 1.5 -3 1.8 -3 2 -3 2.2 -2.3 1.9 -2.8 2.5 -2.3 2.4 -2.6 3 -1.5 2 -2.1 3 -1.8 3 -1.7 2.9 -1.4 3 -1.3 3 -1.5 3.9 -1.2 4 -1 4 -0.6 3 -0.6 3.9 -0.5 4 -0.3 4 -0.1 4.9 0.1 5 0.3 4 0.5 3.9 0.6 4 0.9 4 1 3.9 1.3 4 1.5 4 1.8 3.9 1.6 3 1.8 3 2 3 2.2 2.9 2.6 3 2.3 2.4 2.8 2.6 3.3 2.6 3 2.2 3 1.9 3 1.6 4 2 3 1.2 3.1 1.1 4 1.3 4 1 4 0.9 4 0.6z"/>
<path fill="#00ffe6" d="M490.3 190.6l3.7 0.5 4 0.2 7 0.2 4-0.2 4-0.3 7.1-1 4-0.9 3-0.7 4-1.2 3-1.1 3.1-1.2 3-1.4 3-1.5 3-1.8 3-2 2-1.5 2.5-1.9 2.6-2.4 2-2 2.3-2.6 2.4-2.9 1.4-2 3.2-5 1.5-3 1.4-2.9 1.3-3 1-3 1-3 1-3.9 0.9-4 0.6-4 0.5-3.9 0.3-4 0.1-4 -0.1-4 -0.2-3.9 -0.3-4 -0.6-4 -0.7-3.9 -0.7-3 -1.1-4 -1.4-3.9 -1.1-3 -1.4-3 -1.5-3 -1.7-2.9 -2-3 -2.1-3 -2-2.4 -2.4-2.6 -2.7-2.5 -2-1.8 -3-2.3 -3-2.1 -3-1.8 -3-1.7 -3-1.4 -3-1.3 -3.1-1.1 -4-1.3 -3-0.8 -4-0.8 -4-0.7 -4.1-0.5 -4-0.3 -4-0.2 -4 0 -4 0.2 -4 0.3 -4.1 0.5 -4 0.7 -3 0.6 -4 1 -3 1 -4.1 1.4 -4 1.7 -3 1.5 -3 1.7 -3 2 -3 2.1 -2.5 2 -2.6 2.3 -2.6 2.6 -1.7 2 -2.4 3 -2.1 3 -1.9 3 -1.6 2.9 -1.5 3 -1.7 4 -1 2.9 -1 3 -1 4 -0.9 4 -0.6 3.9 -0.5 4 -0.3 5 -0.1 4.9 0.1 4 0.3 4 0.5 3.9 0.6 4 0.9 4 1 3.9 1.3 4 1.5 4 1.4 2.9 2 4 1.8 3 2.1 3 2.2 2.9 2.2 2.6 2.4 2.4 2.7 2.5 3 2.4 3 2.2 3 1.9 3 1.7 4 2 4.1 1.6 3 1.1 3 0.9 4 1 4 0.9z"/>
<path fill="#00ffdc" d="M489.1 188.7l6.9 0.7 4 0.2 4 0 7-0.3 7.1-0.8 3-0.5 4-0.9 6-1.8 3-1 3.1-1.3 3-1.4 3-1.6 3-1.8 2-1.4 2.8-2 2.2-1.9 2.3-2.1 2-2 1.8-2 2-2.5 1.8-2.4 1.9-3 2.7-5 1.4-2.9 1.2-3 1.9-6 0.8-2.9 0.8-4 0.7-4 0.4-3.9 0.3-4 0.1-4 0-4 -0.2-3.9 -0.4-4 -0.5-4 -0.6-2.9 -0.9-4 -1.1-4 -1-2.9 -1.5-4 -1.4-3 -1.6-3 -1.7-2.9 -1.3-2 -2.2-3 -2.5-3 -2.1-2.2 -2.1-2 -3-2.5 -2-1.6 -3-2 -3-1.9 -3-1.6 -3-1.4 -3.1-1.2 -3-1.1 -4-1.2 -3-0.8 -4-0.8 -4-0.6 -4.1-0.5 -4-0.3 -4-0.1 -4 0.1 -4 0.2 -4.1 0.3 -4 0.6 -3 0.5 -4 0.9 -4 1.1 -3 1 -4.1 1.5 -3 1.4 -3 1.5 -3 1.7 -2 1.3 -3 2.2 -3 2.4 -2.3 2.1 -2 2 -2.6 3 -1.5 2 -2.1 3 -1.9 2.9 -1.6 3 -1.4 3 -1.3 3 -1.1 2.9 -1.2 4 -1 4 -0.8 4 -0.6 3.9 -0.4 4 -0.3 4 0 4.9 0.1 5 0.4 3.9 0.5 4 0.7 4 0.9 4 1.1 3.9 1 3 1.5 4 1.4 2.9 2.1 4 1.9 3 2.1 3 2.3 2.9 2 2.2 2.8 2.8 2.3 2 3 2.3 3 2.1 3 1.8 4 2.1 3 1.3 4.1 1.6 3 1 4 1.1 4 0.9z"/>
<path fill="#00ffd6" d="M499.5 188.7l3.5 0 4-0.1 4-0.2 4.1-0.4 4-0.6 3-0.6 3-0.6 4-1.1 3-1 3.1-1.2 3-1.3 3-1.5 3-1.7 3-1.9 2.4-1.7 2.5-2 2.1-1.9 2.1-2.1 2-2.1 2.3-2.8 1.7-2.4 1.7-2.6 1.7-3 1.5-3 1.3-2.9 1.2-3 1-3 1.1-3.9 0.9-4 0.5-3 0.9-6.9 0.2-4 0.1-4 -0.1-3.9 -0.2-4 -0.4-4 -0.6-3.9 -0.6-3 -1-4 -1.8-5.9 -1.6-4 -1.4-3 -1.5-3 -1.8-2.9 -1.4-2 -2.2-3 -2.5-3 -2-2 -2.1-1.9 -3-2.6 -3-2.2 -2-1.3 -3-1.7 -3-1.6 -3-1.4 -4.1-1.5 -6-1.8 -4-1 -3-0.6 -4-0.5 -4.1-0.5 -4-0.2 -4-0.1 -4 0.1 -4 0.2 -4.1 0.5 -4 0.5 -3 0.6 -4 1 -6 1.8 -4.1 1.5 -3 1.4 -3 1.6 -3 1.7 -2 1.3 -3 2.2 -3 2.6 -2 1.9 -2.1 2 -2.5 3 -2.2 3 -1.4 2 -1.8 2.9 -1.5 3 -1.4 3 -1.6 4 -1.8 5.9 -1 4 -0.6 3 -0.6 3.9 -0.4 4 -0.2 4 -0.1 3.9 0.1 5 0.3 4 0.5 3.9 0.6 4 0.9 4 0.7 2.9 1.3 4 1.1 3 1.2 3 2 3.9 1.7 3 2 3 1.7 2.3 2 2.5 2 2.2 3.1 2.9 2.3 2 2.7 2 3 2 3 1.8 3 1.5 3 1.4 4.1 1.6 3 1 4 1.1 3 0.6 4 0.8 4 0.5 4.1 0.4z"/>
<path fill="#00ffcb" d="M498 187.7l7 0.1 7-0.4 7.1-0.9 3-0.6 4-0.9 6-1.9 3.1-1.1 3-1.3 3-1.5 3-1.8 2.6-1.6 2.4-1.8 2.7-2.2 2.2-2 3.8-4 1.6-1.9 2.2-3 3-5 1.5-3 1.4-2.9 1.1-3 1-3 1.2-3.9 0.7-3 0.5-3 0.6-4 0.4-3.9 0.3-4 0.1-4 -0.1-3.9 -0.3-4 -0.4-4 -0.6-3.9 -0.5-3 -0.7-3 -1.2-4 -1-2.9 -1.1-3 -1.4-3 -1.5-3 -1.7-2.9 -2-3 -2.3-3 -1.7-2 -1.9-2 -2.9-2.7 -2-1.7 -3-2.2 -3-2 -2-1.2 -3-1.5 -3-1.4 -4.1-1.6 -3-1 -4-1.1 -3-0.7 -3-0.5 -4-0.6 -4.1-0.4 -4-0.3 -4 0 -4 0 -4 0.3 -4.1 0.4 -4 0.6 -3 0.5 -3 0.7 -4 1.1 -3 1 -3.1 1.2 -3 1.3 -3 1.5 -3 1.7 -3 2 -3 2.2 -2 1.7 -2.9 2.7 -1.9 2 -1.7 2 -2.3 3 -2 3 -1.2 1.9 -1.6 3 -1.3 3 -1.6 4 -1 2.9 -1.2 4 -0.7 3 -0.5 3 -0.6 3.9 -0.4 4 -0.3 4.9 -0.1 4 0.2 4 0.2 4 0.5 3.9 0.6 4 0.9 4 1.1 3.9 0.9 3 1.1 3 1.3 3 1.5 2.9 1.6 3 1.9 3 2.4 3.2 2.3 2.7 2.8 2.9 2.3 2.1 2.7 2.2 3 2.2 3 1.8 3 1.7 3 1.4 3.1 1.3 3 1.1 3 0.9 4 1.1 4 0.8 4 0.6 4.1 0.5z"/>
<path fill="#00ffc1" d="M496 185.7l4 0.2 4 0 7-0.3 7.1-0.8 6-1.2 6-1.7 3-1 3.1-1.2 5-2.5 3-1.8 2-1.3 4.3-3.3 2.2-2 2-2 1.8-1.9 1.8-2.2 1.3-1.8 2-3 2.7-5 1.4-2.9 1.1-3 1.1-3 0.8-3 1.4-5.9 1-7 0.3-3.9 0.2-4 0-4 -0.2-3.9 -0.7-7 -0.6-3.9 -0.6-3 -0.8-3 -1.2-4 -1-2.9 -1.3-3 -1.4-3 -1.6-3 -1.3-1.9 -2-3 -2.4-3 -1.8-2 -2-2 -2.5-2.2 -2.2-1.7 -2.8-2 -3-1.9 -3-1.6 -3-1.4 -3.1-1.2 -3-1.1 -3-0.9 -3-0.8 -4-0.8 -7.1-1 -4-0.3 -4-0.2 -4 0 -4 0.2 -7.1 0.7 -4 0.6 -3 0.6 -3 0.7 -4 1.2 -3 1.1 -3.1 1.2 -3 1.4 -3 1.6 -2 1.2 -3 2.1 -3 2.3 -2 1.8 -2 2 -2.3 2.4 -1.8 2.2 -2 2.8 -1.9 2.9 -1.6 3 -1.4 3 -1.3 3 -1 2.9 -0.9 3 -0.8 3 -0.9 4 -0.6 3.9 -0.5 4 -0.2 4 -0.2 3.9 0.1 5 0.3 4 0.4 3.9 0.6 4 0.7 4 1.1 3.9 0.9 3 1.4 4 1.3 3 1.5 2.9 1.7 3 2 3 2.3 3 2.1 2.3 2.5 2.6 2.2 2 2.5 2 2.8 2 3 1.8 3 1.7 3 1.4 3.1 1.2 4 1.4 3 0.8 4 1 4 0.7 4 0.5z"/>
<path fill="#00ffba" d="M491.4 184.7l6.6 0.5 7 0.1 7-0.3 7.1-0.9 6-1.3 6-1.8 3-1.1 3.1-1.3 5-2.6 3-1.8 1.9-1.4 4.1-3.3 3.7-3.7 3.4-4 1.3-1.9 2-3 2.6-4.9 1.3-3 1.1-3 1.6-5 0.7-2.9 0.8-4 0.9-6.9 0.3-4 0.1-4 0-4 -0.2-3.9 -0.8-7 -0.5-2.9 -0.8-4 -1.1-4 -1-3 -1.1-2.9 -1.3-3 -1.5-3 -1.8-3 -1.9-2.9 -1.5-2 -2.3-2.6 -2-2.1 -4-3.6 -3-2.3 -2-1.4 -2-1.2 -3-1.6 -3-1.4 -3.1-1.3 -3-1 -3-0.9 -3-0.8 -4-0.8 -3-0.5 -4.1-0.5 -4-0.3 -4-0.2 -4 0 -4 0.2 -4 0.3 -4.1 0.5 -3 0.5 -4 0.8 -4 1.1 -3 0.9 -3 1.1 -3.1 1.3 -3 1.5 -3 1.7 -3 2 -2 1.5 -2.7 2.1 -2.1 2 -3.6 4 -2.4 3 -1.3 2 -1.8 2.9 -1.6 3 -1.4 3 -1.2 3 -1 2.9 -0.9 3 -0.9 4 -0.7 3.9 -0.6 4 -0.4 4 -0.2 3.9 0 5 0.2 4 0.3 3.9 0.5 4 0.7 4 0.6 3 1.1 3.9 1 3 1.5 4 1.4 2.9 2.1 4 2 3 2.1 3 2.3 2.6 2.2 2.3 2.1 2 2.7 2.2 3 2.2 3 1.8 3 1.7 3 1.4 3.1 1.2 3 1.1 3 0.9 4 1 4 0.8z"/>
<path fill="#00ffac" d="M494.4 183.7l6.6 0.3 7-0.1 7.1-0.5 6-1 6-1.4 3-0.9 3-1.1 5.1-2.2 3-1.6 2-1.1 3-2.1 2-1.5 4-3.6 2-2 1.7-2 3-4 1.9-3 1.1-2 2.3-4.9 1.8-5 1.6-5.9 0.6-3 0.6-4 0.5-3.9 0.3-4 0.1-4 -0.1-4 -0.4-6.9 -0.5-4 -0.5-2.9 -0.6-3 -1-4 -0.9-3 -1.1-2.9 -1.3-3 -1.4-3 -1.1-2 -1.9-2.9 -2.2-3 -1.6-2 -1.9-2.1 -2-1.9 -2.1-2 -2.9-2.2 -2-1.4 -3-1.8 -3-1.6 -3-1.4 -3.1-1.1 -3-1.1 -6-1.5 -3-0.6 -4-0.7 -4.1-0.4 -4-0.3 -4-0.1 -4 0 -7 0.5 -4.1 0.5 -3 0.5 -3 0.6 -4 1 -3 0.9 -3 1 -3.1 1.3 -3 1.4 -2 1.1 -3 1.8 -3 2.2 -2 1.6 -2.1 1.8 -2 2 -1.9 2.2 -2.3 2.8 -1.4 2 -1.9 2.9 -1.6 3 -1.4 3 -1.2 3 -1 2.9 -1.6 6 -0.8 4 -0.6 3.9 -0.4 5 -0.2 3.9 -0.1 5 0.2 4 0.3 3.9 0.5 4 0.7 4 0.9 4 1.1 3.9 1 3 1.2 3 1.4 2.9 1.6 3 1.9 3 2.2 3 1.6 2 2.8 2.9 2.1 2 2.4 2 2.6 1.9 3 2 3 1.6 3 1.5 3.1 1.2 3 1.1 4 1.2 4 0.9 3 0.6 4 0.6z"/>
<path fill="#00ff9a" d="M493.4 181.7l6.6 0.4 7 0 7.1-0.5 6-0.9 6-1.3 5-1.5 5.1-2 3-1.5 2-1.1 4-2.6 4-3.3 3.6-3.5 3.3-4 2.6-4 1.2-2 1.5-2.9 2-5 1.6-5 0.7-2.9 0.8-4 0.4-3 0.5-3.9 0.2-4 0.1-4 0-4 -0.2-3.9 -0.7-7 -0.7-3.9 -0.6-3 -0.8-3 -0.9-3 -1.1-2.9 -1.3-3 -1.5-3 -1.2-2 -1.9-2.9 -1.4-2 -2.2-2.6 -2-2.1 -2-1.9 -2-1.7 -2.2-1.7 -2.8-1.8 -3-1.7 -2-1 -5.1-2.2 -3-1 -3-0.9 -3-0.7 -4-0.7 -7.1-0.9 -4-0.3 -4-0.1 -4 0 -4 0.2 -7.1 0.7 -4 0.7 -3 0.7 -3 0.7 -3 0.9 -3 1.1 -3.1 1.3 -3 1.5 -2 1.1 -3 1.9 -2 1.4 -2.6 2.1 -2.1 2 -1.9 2 -1.8 2 -1.7 2.2 -1.8 2.7 -1.8 3 -1 2 -2.1 5 -1.1 2.9 -0.9 3 -0.9 4 -0.7 3.9 -0.6 4 -0.3 4 -0.2 3.9 0 5 0.1 4 0.3 3.9 0.5 4 0.7 4 0.9 4 0.8 2.9 1.4 4 1.2 3 1.4 2.9 1.7 3 1.9 3 1.6 2.1 2 2.4 2.3 2.4 2.1 2 2.6 2.1 3 2.1 3 1.8 3 1.6 3.1 1.3 4 1.5 3 0.9 4 1 3 0.6 4 0.6z"/>
<path fill="#00ff89" d="M492.7 179.7l6.3 0.4 7 0.1 7-0.4 6.1-0.8 5-1 3-0.8 3-0.9 5.1-1.9 4-2 4-2.4 4-3.1 3.3-3 1.8-2 1.7-2 2.7-4 2.2-3.9 2.2-5 1.7-5 1-3.9 0.6-3 0.5-3 0.4-4 0.5-6.9 0-4 -0.1-3.9 -0.6-7 -0.4-3 -0.7-3.9 -1.5-6 -1-3 -1.2-2.9 -1.4-3 -1-2 -1.8-3 -1.4-1.9 -1.5-2 -2-2.3 -2-2 -1.9-1.7 -2.1-1.7 -2-1.4 -2-1.3 -3-1.7 -5.1-2.3 -5-1.7 -6-1.5 -4-0.7 -3-0.4 -4.1-0.4 -4-0.2 -4-0.1 -4 0.1 -4 0.2 -4.1 0.4 -3 0.4 -4 0.7 -6 1.5 -3 1 -3 1.1 -3.1 1.4 -2 1 -3 1.8 -2 1.4 -2 1.5 -2.3 1.9 -2 2 -1.8 2 -3.1 3.9 -1.3 2 -1.7 3 -2.3 5 -1.1 2.9 -1 3 -1 4 -0.8 4 -0.5 3.9 -0.4 4 -0.2 4 -0.1 4.9 0.1 4 0.3 4 0.4 3.9 0.6 4 0.6 3 1 3.9 1.3 4 1.2 3 1.4 3 1.6 2.9 1.9 3 1.4 2 1.8 2.1 2 2.2 2 1.9 3 2.4 2 1.5 3 1.9 3 1.6 3.1 1.3 3 1.2 3 1 4 1 3 0.6 4 0.7z"/>
<path fill="#00ff80" d="M488.9 177.7l6.1 0.7 6 0.2 7-0.1 6.1-0.4 6-0.8 5-1 5-1.5 5.1-1.9 4-2.1 4-2.5 2-1.5 2-1.7 3-2.9 2.8-3.3 2.7-4 2.2-3.9 2.1-5 1-3 0.8-2.9 1.2-6 0.8-6.9 0.3-4 0.1-4 -0.2-6.9 -0.6-7 -0.6-3.9 -0.6-3 -0.7-3 -0.9-3 -1.8-4.9 -0.9-2 -1.6-3 -2.6-4 -1.5-1.9 -2-2.3 -2-2.1 -1.8-1.6 -2.2-1.7 -2-1.5 -2-1.2 -3-1.7 -5.1-2.1 -3-1.1 -3-0.9 -6-1.2 -7.1-1 -4-0.2 -4-0.2 -8 0.2 -7.1 0.6 -4 0.6 -3 0.5 -3 0.7 -3 0.9 -5 1.9 -2.1 0.9 -3 1.5 -3 1.8 -2 1.5 -2 1.5 -2 1.8 -2 2.1 -2 2.3 -2.9 3.9 -1.7 3 -1.1 2 -2.1 4.9 -1 3 -1 4 -0.8 4 -0.6 3.9 -0.4 4 -0.3 4 -0.1 3.9 0.1 5 0.2 4 0.4 3.9 0.5 4 0.8 4 0.7 2.9 1.2 4 1.1 3 1.3 3 1.1 1.9 1.7 3 2.1 3 1.8 2.2 2 2.1 2 1.9 2 1.7 3 2.2 2 1.3 3 1.6 3.1 1.4 3 1.2 3 0.9 4 1.1 3 0.6z"/>
<path fill="#00ff73" d="M492.2 177.7l5.8 0.5 7 0 6-0.2 6.1-0.6 6-1.1 5-1.2 5-1.8 4.1-1.8 4-2.2 4-2.9 3-2.6 3-3.2 2.8-3.7 2.5-4 1.9-3.9 1.9-5 0.8-3 0.8-2.9 1-6 0.7-6.9 0.2-4 0-4 -0.1-3.9 -0.3-4 -0.8-6.9 -1.2-6 -0.8-3 -1-3 -2.1-4.9 -1.6-3 -1.2-2 -2.9-3.9 -1.7-2 -1.9-1.9 -2-1.8 -2-1.6 -4-2.7 -2-1.2 -3-1.4 -5.1-2 -3-0.9 -3-0.8 -4-0.8 -3-0.4 -7.1-0.7 -8-0.2 -4 0.1 -4 0.2 -7.1 0.9 -6 1.2 -3 0.8 -3 1 -5.1 2 -3 1.6 -2 1.2 -4 2.9 -2 1.7 -2 1.9 -1.8 1.9 -1.6 2 -1.6 2.3 -1.7 2.6 -1.1 2 -1.4 3 -1.9 4.9 -0.8 3 -1 4 -0.7 3.9 -0.5 4 -0.3 4 -0.2 4.9 0 5 0.2 4 0.3 3.9 0.5 4 0.7 4 0.7 3 0.8 2.9 1.4 4 1.2 3 1.5 2.9 1.8 3 1.4 2 2.1 2.7 2.1 2.3 2.1 2 2.8 2.3 2.3 1.6 2.7 1.7 3 1.5 3.1 1.3 3 1.1 3 1 3 0.7 4 0.8z"/>
<path fill="#00ff63" d="M492 175.8l6 0.4 7 0 6-0.2 6.1-0.6 5-0.8 5-1.1 4-1.3 4.1-1.6 4-2.1 3.9-2.7 3.1-2.5 3-3 2.7-3.4 2.6-4 2-3.9 1.5-4 0.9-3 0.8-2.9 1.1-6 0.7-6.9 0.3-8 -0.3-7.9 -0.7-7 -1.1-5.9 -0.8-3 -0.9-3 -1.1-2.9 -0.9-2 -2.1-4 -2.7-4 -1.6-1.9 -1.9-2 -3.5-3.2 -2-1.5 -3-1.9 -4-2.1 -2.1-0.9 -3-1.1 -3-0.9 -3-0.8 -6-1 -7.1-0.8 -8-0.2 -8 0.2 -7.1 0.8 -6 1 -3 0.8 -3 0.9 -3 1.1 -2.1 0.9 -4 2.1 -4 2.6 -2 1.6 -2 1.9 -3.2 3.5 -1.5 1.9 -2 3 -2.1 4 -0.9 2 -1.1 2.9 -0.9 3 -1 4 -0.8 4 -0.5 3.9 -0.3 4 -0.2 4.9 -0.1 5 0.2 4 0.2 3.9 0.5 4 0.4 3 0.8 4 1 3.9 1 3 1.2 3 1.5 3 1.1 1.9 2 3 1.7 2.2 2 2.3 2 1.9 2 1.7 2 1.5 3 2 2 1.1 3.1 1.4 3 1.2 3 1 4 1 3 0.6 3 0.5z"/>
<path fill="#00ff58" d="M491.5 174.8l6.5 0.4 6 0.1 6-0.2 6.1-0.5 5-0.7 4-0.8 5-1.5 4-1.5 4.1-2 4-2.6 3-2.4 3-2.9 2.7-3.3 2-3 2.2-3.9 1.6-4 1-3 0.9-2.9 1.1-6 0.8-6.9 0.3-7 -0.1-7.9 -0.3-4 -0.4-4 -1-5.9 -0.7-3 -0.9-3 -0.7-2 -1.2-2.9 -2-4 -2.6-4 -1.5-1.9 -1.8-2 -3.4-3.1 -2-1.6 -2-1.4 -4-2.2 -2.1-0.9 -3-1.2 -3-1 -3-0.8 -6-1.2 -7.1-0.7 -7-0.3 -8 0.1 -4 0.2 -4.1 0.5 -6 0.9 -3 0.7 -3 0.9 -5 1.9 -4.1 1.9 -4 2.6 -2 1.6 -2 1.7 -3.2 3.4 -1.5 1.9 -1.4 2 -2.3 4 -0.9 2 -1.2 2.9 -1 3 -1.1 4 -0.8 4 -0.4 2.9 -0.4 4 -0.3 5 -0.1 4.9 0.1 5 0.3 4.9 0.4 4 0.4 3 0.8 4 0.8 2.9 0.9 3 1.1 3 1.4 3 1.7 2.9 1.3 2 1.4 2 2 2.3 2 2 2 1.8 2.4 1.8 2.6 1.7 2 1.1 3.1 1.5 3 1.2 3 1 3 0.8 3 0.6 4 0.7z"/>
<path fill="#00ff45" d="M492 173.8l6 0.3 6 0.1 6-0.1 6.1-0.5 5-0.7 5-1.1 4-1.1 4-1.6 4.1-2 3-1.9 3-2.3 3.1-3 2.5-3 2.1-3 2.2-3.9 1.6-4 1.6-5 0.7-2.9 0.5-3 0.5-3 0.3-4 0.4-6.9 -0.1-7.9 -0.2-4 -0.3-4 -0.9-5.9 -0.7-3 -0.8-3 -1.7-4.9 -2-4 -2.4-4 -1.6-2 -1.7-1.9 -3.1-3 -2-1.6 -2-1.4 -4-2.3 -2.1-0.9 -3-1.3 -5-1.5 -3-0.7 -3-0.5 -7.1-0.8 -7-0.3 -8 0 -4 0.2 -4.1 0.4 -6 0.8 -3 0.7 -3 0.8 -5 1.7 -4.1 1.9 -4 2.5 -2 1.5 -2 1.7 -3 3.1 -1.6 1.9 -1.4 2 -2.4 4 -0.9 2 -1.2 2.9 -1 3 -1.1 4 -0.7 4 -0.5 2.9 -0.3 4 -0.3 5 -0.1 4.9 0.1 5 0.3 4.9 0.3 4 0.5 3 0.7 4 0.8 2.9 0.9 3 1.1 3 1.4 3 1.7 2.9 1.3 2 1.6 2 1.8 2.1 2 2 2 1.7 2 1.5 3 1.9 2 1.1 3.1 1.3 3 1.2 3 0.9 3 0.7 3 0.6 3 0.4z"/>
<path fill="#00ff2b" d="M492.9 171.8l6.1 0.3 6 0 6-0.2 6.1-0.4 4-0.6 4-0.8 4-1 4-1.5 4.1-1.9 3-1.9 3-2.3 2.7-2.6 2.5-3 2.1-3 1.6-2.9 1.7-4 1.5-5 0.7-2.9 0.5-3 0.7-6 0.4-7.9 -0.1-7.9 -0.5-8 -0.5-3.9 -0.5-3 -1.2-5 -1-3 -0.8-1.9 -2-4 -1.2-2 -1.4-2 -2.5-2.9 -3.2-3 -3.5-2.6 -4-2.2 -4.1-1.7 -5-1.6 -3-0.6 -3-0.5 -6-0.7 -8.1-0.3 -8 0 -8.1 0.5 -4 0.5 -3 0.5 -5 1.2 -3 1 -2 0.7 -4.1 2 -2 1.2 -2 1.4 -3 2.5 -3 3.1 -2.6 3.5 -2.3 4 -1.7 3.9 -1 3 -1 4 -0.7 4 -0.4 2.9 -0.4 4 -0.2 5 -0.1 4.9 0.1 5 0.5 7.9 0.5 4 0.5 3 0.7 2.9 0.8 3 1.1 3 1.3 3 1.6 2.9 1.3 2 1.5 2 1.8 2 1.7 1.7 2 1.7 2.1 1.6 2.9 1.8 3.1 1.5 2 0.8 3 1.1 3 0.8 3 0.7 3 0.5z"/>
<path fill="#00ff14" d="M495.5 169.8l6.5 0.1 6 0 5-0.2 5.1-0.4 4-0.5 4-0.8 3-0.9 4-1.4 3.1-1.5 3-1.8 3-2.3 2.3-2.2 2.5-3 2-2.9 1.6-3 1.3-3 0.7-2 0.8-3 0.9-4.9 0.7-6 0.3-6.9 0-8.9 -0.3-8 -0.7-5.9 -0.5-3 -0.7-3 -1.2-4 -1.8-3.9 -1.1-2 -1.2-2 -2.6-3.2 -3-3 -3-2.3 -2-1.2 -2-1.1 -4.1-1.7 -2-0.7 -3-0.8 -5-1 -6-0.6 -7.1-0.3 -9-0.1 -8.1 0.4 -6 0.6 -3 0.5 -3 0.7 -4 1.3 -4.1 1.7 -2 1.1 -2 1.2 -3.2 2.6 -3 2.9 -2.4 3 -1.2 2 -1.1 2 -1.8 3.9 -1 3 -0.7 3 -0.7 4 -0.5 3.9 -0.3 4 -0.2 5 0 10.9 0.5 7.9 0.5 4 0.5 3 0.7 2.9 0.9 3 1.1 3 1 2 1.1 2 1.2 1.9 1.6 2.1 2 2.2 2 1.9 2 1.6 2 1.4 3 1.7 2.1 0.9 3 1.1 3 0.9 3 0.7 6 0.9z"/>
<path fill="#00ff05" d="M486 167.8l4.9 0.5 6.1 0.2 8 0.1 7-0.2 5.1-0.3 4-0.4 4-0.7 3-0.7 3-1 3-1.2 3.1-1.6 3-2.1 2.9-2.5 1.8-2 2.3-3 1.7-2.9 1.8-4 1.2-4 1.1-4.9 0.6-6 0.4-8.9 -0.1-10.9 -0.4-7 -0.7-5.9 -1.1-5 -1.4-3.9 -0.9-2 -1-2 -1.9-3 -2.5-3 -2.8-2.7 -3-2.2 -3-1.7 -4.1-1.8 -4-1.2 -5-1 -6-0.7 -9.1-0.3 -11 0.1 -7.1 0.3 -6 0.8 -5 1.1 -4 1.3 -2 0.9 -2.1 1 -3 1.9 -3 2.4 -2.7 2.8 -2.3 3 -1.7 3 -1 2 -1.1 2.9 -0.7 2 -0.7 3 -0.6 3 -0.4 3 -0.3 3.9 -0.2 4 -0.1 11.9 0.2 5 0.3 4.9 0.4 4 0.5 3 0.7 2.9 0.9 3 1.1 3 1 2 1.1 2 1.3 1.9 1.6 2 1.7 1.9 2 1.8 1.6 1.3 2.4 1.6 2 1.1 4.1 1.7 3 1 2 0.5 3 0.6z"/>
<path fill="#09ff00" d="M484.5 166.8l4.4 0.5 6.1 0.3 8 0.1 8-0.1 5.1-0.2 4-0.4 4-0.6 3-0.6 4-1.2 3-1.3 3.1-1.6 2-1.4 2.9-2.4 1.9-2 1.7-2 1.9-2.9 1-2 0.9-2 1.4-4 1.1-4.9 0.6-5 0.4-7.9 0.1-11.9 -0.3-8 -0.6-5.9 -0.8-4 -1.1-4 -1.7-3.9 -1.6-3 -2.1-3 -2.7-2.9 -3-2.5 -3-1.9 -2.1-1 -2-0.9 -4-1.4 -5-1.1 -5-0.6 -8.1-0.4 -12 0 -8.1 0.3 -6 0.6 -4 0.7 -4 1.2 -4 1.6 -3.1 1.6 -3 2.1 -2.9 2.6 -2.6 3 -1.9 3 -1 2 -1.3 2.9 -0.7 2 -0.8 3 -0.6 3 -0.4 3 -0.5 5.9 -0.2 6 0 6.9 0.1 6 0.2 4.9 0.4 4 0.4 3 0.6 2.9 0.8 3 1.1 3 0.9 2 1 2 1.2 1.9 1.5 2 1.7 1.9 3 2.8 2 1.4 2 1.3 2.1 1 2 0.9 3 1 2 0.6 3 0.6z"/>
<path fill="#1aff00" d="M485 165.8l4.9 0.5 5.1 0.1 10 0.1 8-0.1 4.1-0.2 4-0.4 3-0.4 3-0.6 3-0.9 3-1.1 3.1-1.6 2.1-1.3 2.5-2 2.1-2 1.7-2 2-2.9 1-2 0.9-2 1.4-4 0.9-3.9 0.6-5 0.3-4 0.1-3.9 0-13.9 -0.2-7 -0.5-5.9 -0.7-4 -1.1-4 -0.8-1.9 -0.9-2 -1.6-3 -1.8-2.4 -2.3-2.6 -2.7-2.3 -3-2 -2.1-1 -2-0.9 -4-1.4 -4-0.9 -5-0.6 -4-0.3 -4.1-0.1 -14 0 -7.1 0.2 -6 0.5 -4 0.7 -4 1.1 -2 0.8 -2 0.9 -3.1 1.6 -2.4 1.8 -2.6 2.2 -2.4 2.7 -2 3 -1 2 -0.9 2 -1.1 2.9 -0.5 2 -1 5 -0.5 5.9 -0.2 5 -0.1 7.9 0.1 8 0.2 4.9 0.3 4 0.3 3 0.6 2.9 0.8 3 1.1 3 0.9 2 1 2 1.3 1.9 1.5 2 1.6 1.7 3 2.7 2 1.3 2 1.2 2.1 1 2 0.8 2 0.6 3 0.8z"/>
<path fill="#2bff00" d="M485.2 164.9l3.7 0.2 5.1 0.2 20.1-0.1 4-0.1 3-0.3 3-0.4 3-0.6 3-0.8 3-1.2 3.1-1.5 2-1.3 2-1.6 2-2 2-2.4 1.4-2 1.5-3 0.9-2 0.6-2 1-3.9 0.7-5 0.3-7 0.1-17.8 -0.2-6 -0.4-4.9 -0.7-4 -0.8-3 -0.6-2 -0.9-1.9 -1.5-3 -2.1-3 -1.8-2 -2.5-2.3 -3-2 -3.1-1.6 -2-0.8 -2-0.6 -4-1 -5-0.7 -7.1-0.3 -18 0 -6.1 0.1 -5 0.4 -4 0.7 -3 0.8 -2 0.6 -2 0.8 -3.1 1.6 -3 2 -2 1.8 -2.3 2.5 -2.1 3 -1.1 2 -0.9 2 -1.3 3.9 -0.7 3 -0.3 2 -0.6 5.9 -0.2 9 0 12.9 0.2 5.9 0.3 4 0.4 3 0.4 1.9 0.8 3 0.6 2 0.9 2 0.9 2 1.2 2 1.5 1.9 1.3 1.5 1.5 1.5 1.5 1.3 2 1.4 2 1.2 2.1 1 2 0.8 2 0.7 3 0.8 3 0.5z"/>
<path fill="#3dff00" d="M486.4 163.9l5.5 0.1 24.2 0 6-0.4 3-0.4 2-0.4 3-0.8 3-1.2 3.1-1.6 1.9-1.3 2.1-1.7 2-2 1.7-2.2 1.2-2 1.5-3 1.3-4 0.8-3.9 0.5-4 0.2-6 0-21.8 -0.1-4.9 -0.4-4 -0.7-4 -0.9-3 -1.2-2.9 -1.6-3 -2.1-3 -1.9-2 -2.3-1.9 -3-2 -3.1-1.4 -4-1.3 -4-0.8 -4-0.5 -6-0.2 -22.2 0 -5 0.2 -4 0.3 -4 0.7 -3 0.9 -3 1.1 -3.1 1.6 -3 2.1 -2 1.9 -2 2.3 -1.9 3 -1 2 -0.9 1.9 -1.2 4 -0.4 2 -0.4 3 -0.3 4.9 -0.1 23.8 0.1 5 0.2 3 0.4 3 0.5 2.9 0.9 3 0.7 2 0.9 2 1.2 2 1.3 1.9 1 1.3 1.7 1.7 1.3 1.2 2 1.5 2 1.2 2.1 1 2 0.8 2 0.7 3 0.7 2 0.4z"/>
<path fill="#4cff00" d="M488.8 162.9l14.2-0.2 15.1 0.2 5-0.4 3-0.4 2-0.5 3-0.9 3-1.3 2.1-1.1 2-1.4 2-1.8 1.9-2.2 1.5-1.9 1.1-2 1.3-3 1-3 0.7-3.9 0.4-4 0.1-5 -0.2-12.9 0.2-12.9 -0.1-3.9 -0.4-3 -0.5-3 -0.8-3 -1.2-2.9 -1.6-3 -2.3-3 -2-2 -2.1-1.6 -3.1-1.9 -3-1.3 -3-0.9 -4-0.8 -4-0.3 -5-0.1 -13.1 0.1 -13.1-0.1 -4 0.1 -3 0.3 -3 0.6 -3 0.8 -3 1.2 -3.1 1.6 -3 2.2 -2 2 -1.7 2.1 -1.8 3 -1.3 2.9 -0.7 2 -0.5 2 -0.7 4 -0.3 4.9 0.2 13.9 -0.2 12.9 0.1 5 0.2 3 0.5 2.9 0.7 3 0.7 2 0.8 2 1 2 1.3 2 1.6 1.9 1.1 1.2 2 1.8 3 2 2.1 1 2 0.8 2 0.7 2 0.5 2 0.4 3 0.3z"/>
<path fill="#59ff00" d="M482.8 161.9l5.1 0.3 15.1-0.3 15.1 0.3 4-0.2 4-0.5 3-0.7 2-0.7 3-1.3 2.1-1.2 2-1.4 2-1.8 1.3-1.5 1.4-1.9 1.7-3 1.2-3 1-4 0.5-3.9 0.2-5 -0.3-12.9 0.3-13.9 -0.2-5.9 -0.3-3 -0.6-3 -1-3 -1.3-2.9 -1.9-3 -1.6-2 -2.1-2 -2.3-1.7 -3.1-1.6 -3-1.2 -4-1 -4-0.5 -5-0.2 -13.1 0.3 -14.1-0.3 -6 0.2 -3 0.3 -3 0.6 -3 0.9 -3 1.3 -3.1 1.9 -2 1.6 -2 2.1 -1.7 2.3 -1.7 3 -0.8 1.9 -0.7 2 -0.9 4 -0.4 4 -0.1 4.9 0.3 12.9 -0.3 11.9 0 4 0.4 5 0.7 3.9 0.6 2 0.8 2 1.5 3 1.3 2 1 1.3 1.6 1.6 1.4 1.3 3 2.1 2.1 1 2 0.8 2 0.7 2 0.5z"/>
<path fill="#68ff00" d="M480.7 160.9l3.2 0.3 3 0.1 16.1-0.5 16.1 0.5 4-0.2 3-0.3 2-0.5 3-0.9 2-0.8 2.1-1.1 2-1.3 2-1.7 1.5-1.6 1.5-1.9 1.7-3 1.2-3 0.8-3 0.6-3.9 0.1-3 0-3 -0.4-13.9 0.4-13.9 0-2.9 -0.1-3 -0.4-3 -0.7-3 -1.1-2.9 -0.9-2 -1.2-2 -2-2.5 -2-2 -2-1.5 -3.1-1.7 -3-1.1 -3-0.8 -4-0.6 -3-0.2 -3 0 -14.1 0.5 -14.1-0.5 -3 0 -3 0.2 -3 0.4 -3 0.7 -3 1 -2 0.9 -2.1 1.2 -2.5 2 -2 2 -1.5 2 -1.7 3 -1.2 2.9 -0.6 2 -0.4 2 -0.4 4 -0.1 4.9 0.4 13.9 -0.5 15.9 0.2 4 0.6 3.9 0.5 2 0.7 2 1.3 3 1.9 3 1.3 1.5 1.5 1.4 2.5 2 3.1 1.7 2 0.8 2 0.7z"/>
<path fill="#78ff00" d="M478.9 159.9l3 0.4 4 0.2 4-0.1 8.1-0.4 4-0.2 5 0.1 12.1 0.6 3 0 3-0.3 3-0.5 2-0.6 2-0.7 2-1 2.1-1.2 2-1.5 1.7-1.8 1.6-1.9 1.7-3 1.2-3 0.8-3 0.5-3.9 0.1-5 -0.5-9.9 -0.2-5 0.2-4.9 0.5-10 -0.1-4.9 -0.3-3 -0.7-3 -1-2.9 -1-2 -1.2-2 -1.6-2 -1.7-1.7 -1.6-1.3 -1.4-0.9 -2.1-1.1 -3-1.2 -3-0.7 -4-0.6 -5-0.1 -10.1 0.6 -5 0.1 -5-0.1 -10.1-0.6 -5 0.1 -3 0.4 -3 0.6 -3 1.1 -2 0.9 -2.1 1.2 -2 1.6 -1.7 1.7 -1.6 2 -1.7 3 -1.2 2.9 -0.8 3 -0.5 4 -0.1 4.9 0.5 10 0.2 4.9 -0.1 4 -0.5 8.9 -0.1 4 0.2 4 0.4 2.9 0.5 2 0.6 2 1.4 3 2 3 1.8 1.9 2.3 2 2.5 1.5 3 1.4 2 0.6z"/>
<path fill="#90ff00" d="M478.1 158.9l3.8 0.6 4 0.1 4-0.2 9.1-0.8 5-0.1 4 0.2 11.1 0.8 3 0.1 3-0.2 3-0.5 2-0.6 2-0.7 2-1 2.1-1.2 1.7-1.5 1.3-1.2 1.4-1.7 1.8-3 1.2-3 0.8-3 0.4-2.9 0.1-2 -0.1-3 -0.8-10.9 -0.2-5 0.2-4.9 0.8-10 0-4.9 -0.3-3 -0.3-2 -0.6-2 -1.2-2.9 -1.1-2 -1.5-2 -1.6-1.8 -2-1.6 -3.1-1.8 -3-1.2 -3-0.7 -3-0.4 -2-0.1 -3 0 -11.1 0.9 -5 0.1 -5-0.1 -10.1-0.8 -5-0.1 -3 0.3 -2 0.4 -2 0.5 -3 1.2 -2.1 1.1 -2 1.5 -1.7 1.6 -1.7 2 -1.8 3 -1.2 2.9 -0.8 3 -0.4 4 0 4.9 0.8 10 0.2 3.9 -0.1 5 -0.8 8.9 -0.2 4 0.1 4 0.4 2.9 0.8 3 1.2 3 1.8 3 1.7 1.9 2.2 2 2.6 1.7 3 1.4z"/>
<path fill="#a6ff00" d="M479.1 157.9l2.8 0.3 4 0 3-0.3 9.1-1.2 5-0.3 5 0.3 9.1 1.2 3 0.3 3 0 3-0.2 2-0.3 2-0.5 2-0.7 2-1.1 2.1-1.3 1-0.8 2.1-2.3 1.4-2 1.4-3 0.9-3 0.4-2.9 0.1-3 -0.1-3 -1.4-10.9 -0.3-5 0.3-4.9 1.4-10.9 0.1-3 0-2 -0.3-3 -0.4-2 -0.7-2 -0.9-1.9 -1.1-2 -0.9-1.2 -1.7-1.8 -1.3-1.2 -2.1-1.3 -3-1.4 -3-0.9 -3-0.4 -3-0.1 -3 0.2 -11.1 1.4 -5 0.2 -5-0.2 -11.1-1.4 -3-0.2 -2 0 -3 0.4 -2 0.4 -2 0.6 -2 0.9 -2.1 1.1 -1.2 0.9 -1.8 1.6 -1.1 1.4 -1.4 2 -0.5 1 -1.3 2.9 -0.7 3 -0.3 3 0 2 0.1 3 1.4 10.9 0.3 4.9 -0.3 5 -1.2 8.9 -0.2 3 -0.1 4 0.3 2.9 0.7 3 1.3 3 0.5 1 1.4 2 1.8 1.9 2.3 1.9 1.1 0.6 2 1.1 3 1z"/>
<path fill="#b7ff00" d="M477.2 156.9l1.7 0.3 2 0.3 4-0.1 4-0.4 9.1-1.5 3-0.3 2-0.1 2 0.1 3 0.3 8.7 1.4 3.4 0.5 3 0.1 3-0.1 2-0.3 2-0.5 3-1.2 2.1-1.2 1-0.8 1-0.9 1.4-1.5 1.4-2 0.6-1 0.9-2 0.8-3 0.4-2.9 0.1-2 -0.2-3 -0.4-3.4 -1.5-8.5 -0.2-3 -0.1-2 0.1-2 0.2-2.9 1.8-10.9 0.3-3 0-2 -0.1-2 -0.4-2 -0.5-2 -0.7-1.9 -1.1-2 -0.8-1.3 -1.4-1.7 -1.6-1.5 -2.1-1.3 -1-0.6 -2-0.9 -3-0.8 -3-0.4 -2-0.1 -3 0.2 -3.4 0.4 -8.7 1.5 -3 0.2 -2 0.1 -2-0.1 -3-0.2 -11.1-1.8 -3-0.2 -2-0.1 -2 0.2 -2 0.3 -2 0.5 -2 0.7 -2 1.1 -1.4 0.8 -1.7 1.4 -1.4 1.6 -1.4 2 -0.6 1 -0.9 1.9 -0.8 3 -0.4 3 -0.1 2 0.2 3 0.4 3.3 1.5 8.6 0.2 2.9 0.1 2 -0.1 2 -0.2 3 -1.5 8.5 -0.4 3.4 -0.2 4 0.3 2.9 0.7 3 1.2 3 1.2 2 1.6 2 2.3 1.9 2.4 1.5 2 0.8z"/>
<path fill="#caff00" d="M476 155.9l1.9 0.5 2 0.3 2 0 2 0 4-0.5 10.1-2.2 3-0.3 2-0.1 2 0.1 3 0.3 8.9 1.9 3.2 0.6 3 0.2 3 0 2-0.3 2-0.5 1-0.3 2-0.9 1-0.6 1.7-1.2 2.1-1.9 1.4-2 0.6-1 0.9-2 0.6-2 0.5-3 0.1-2.9 -0.3-3 -0.5-3.2 -1.9-8.7 -0.4-3 -0.1-2 0.1-2 0.4-2.9 1.9-8.8 0.5-3.1 0.3-3 0-2 -0.2-2 -0.4-2 -1-2.9 -1.1-2 -0.6-1 -1.5-1.8 -1-0.9 -2.1-1.4 -1-0.6 -2-0.9 -2-0.6 -3-0.5 -3-0.1 -3 0.3 -3.2 0.5 -8.9 1.9 -3 0.4 -2 0.1 -2-0.1 -3-0.4 -8.9-1.9 -3.2-0.5 -3-0.3 -2 0 -2 0.2 -2 0.4 -3 1 -2 1.1 -1.1 0.6 -1.7 1.5 -1 1 -1.4 2 -0.6 1 -0.9 1.9 -0.6 2 -0.5 3 -0.1 3 0.3 3 0.5 3.1 1.9 8.8 0.4 2.9 0.1 2 -0.1 2 -0.4 3 -1.9 8.7 -0.5 3.2 -0.3 3 0.1 2.9 0.5 3 0.6 2 0.9 2 0.6 1 1.1 1.6 2 2 2.1 1.5 2 1.1z"/>
<path fill="#e1ff00" d="M479.4 155.9l1.5 0.1 2 0 3-0.4 3.1-0.7 9-2.5 3-0.4 2-0.1 2 0.1 3 0.4 9 2.5 3.1 0.7 2 0.3 2 0.1 3-0.1 3-0.6 2-0.8 1-0.5 1.8-1.1 1.2-0.9 1.8-2 1.3-2 0.6-1 0.7-2 0.6-3 0.2-2.9 -0.3-3 -0.6-3 -2.2-7.9 -0.7-3 -0.4-3 0-2 0.2-2 0.4-1.9 2.2-8 0.8-2.9 0.4-3 0.2-3 -0.2-2 -0.3-2 -1-2.9 -1.1-2 -0.8-1 -1.7-1.9 -1-0.9 -2.1-1.3 -1-0.5 -2-0.7 -3-0.6 -3-0.2 -3 0.3 -3 0.6 -8.1 2.2 -3 0.7 -3 0.4 -2 0 -2-0.2 -2-0.4 -8.1-2.2 -3-0.8 -3-0.4 -3-0.2 -2 0.2 -2 0.3 -3 1 -2 1.1 -1.1 0.7 -1 0.9 -1.7 1.9 -1.3 2 -1 1.9 -0.6 2 -0.4 3 0 3 0.3 3 0.7 3 2.5 8.9 0.5 2.9 0.1 2 -0.1 2 -0.5 3 -2.5 8.8 -0.8 4.1 -0.2 2 -0.1 2 0.3 2.9 0.5 2 0.7 2 0.6 1 1.3 2 1.7 1.9 2.1 1.5 2 1.1 3 1z"/>
<path fill="#f4ff00" d="M478.7 154.9l2.2 0.1 2-0.1 2-0.3 2-0.5 3.3-1.2 7.8-3.3 2-0.7 2-0.4 2 0 1 0.2 2 0.5 8.8 3.7 3.3 1.2 3 0.7 3 0.2 2 0 2-0.4 1-0.2 2-0.8 1.3-0.7 1.5-0.9 1.1-1 0.9-1 1.4-2 0.6-1 0.7-2 0.6-3 0.1-1.9 -0.2-2 -0.5-3 -1-3 -4.2-9.9 -0.6-2 -0.1-1 0-2 0.4-2 0.7-1.9 3.4-7.7 1-2.8 0.8-3.4 0.2-2 0.1-2 -0.4-3 -0.3-1 -0.7-1.9 -0.7-1.3 -1-1.4 -1-1.2 -1-0.9 -2.1-1.4 -1-0.5 -2-0.7 -3-0.6 -2-0.1 -2 0.1 -3 0.6 -3 0.9 -10.1 4.2 -2 0.6 -1 0.2 -2 0 -2-0.5 -2-0.6 -7.8-3.4 -2.8-1 -3.5-0.8 -2-0.2 -2-0.1 -3 0.4 -1 0.3 -2 0.7 -1.3 0.7 -1.5 1 -1.1 1 -0.9 1 -1.4 2 -0.6 1 -0.7 1.9 -0.6 3 -0.1 2 0.2 2 0.5 3 1 2.9 4.2 10 0.6 1.9 0.1 1 0 2 -0.4 2 -0.7 2 -3.4 7.6 -0.8 2.3 -0.6 2 -0.4 2 -0.2 2 -0.1 1.9 0.2 2 0.5 2 0.7 2 1.2 2 1.7 2 1.9 1.5 2 1.1 2 0.8z"/>
<path fill="#fdff00" d="M475.7 153.9l2.2 0.5 3 0.2 3-0.3 3-0.8 3-1.2 2.7-1.3 3.4-2 5-3.2 1-0.5 1-0.2 1 0.2 1 0.5 6.7 4.2 3.7 2 3.7 1.5 2 0.5 2 0.4 2 0.2 2 0 2-0.3 2-0.6 2-1 1-0.6 1.1-0.8 1.3-1.3 0.8-1 1.2-2 0.4-1 0.6-2 0.4-3 -0.1-1.9 -0.3-2 -0.8-3 -1.5-3.6 -2-3.7 -4.2-6.6 -0.5-1 -0.3-1 0.3-1 0.5-1 4.2-6.5 2-3.7 1.5-3.6 0.6-2 0.4-2 0.2-2 -0.1-2 -0.3-2 -0.6-2 -1-1.9 -0.6-1 -0.8-1 -1.3-1.3 -1.1-0.8 -2-1.2 -1-0.4 -2-0.6 -3-0.4 -2 0.1 -2 0.3 -3 0.8 -3.7 1.5 -3.7 2 -6.7 4.1 -1 0.5 -1 0.3 -1-0.3 -1-0.5 -6.7-4.1 -3.7-2 -3.7-1.5 -2-0.6 -2-0.4 -2-0.2 -2 0.1 -2 0.3 -2 0.6 -2 0.9 -1 0.7 -1.1 0.8 -1.3 1.3 -0.8 1 -1.2 2 -0.4 0.9 -0.6 2 -0.4 3 0.1 2 0.3 2 0.8 3 1.5 3.6 2 3.7 4.2 6.5 0.5 1 0.3 1 -0.3 1 -0.5 1 -4.2 6.6 -2 3.7 -1 2.2 -0.8 2.4 -0.5 2 -0.4 3 0.1 1.9 0.3 2 0.6 2 1 2 1.4 2 1.3 1.3 2.1 1.4 1 0.5z"/>
<path fill="#fffa00" d="M476.3 153.9l2.6 0.5 3 0 3-0.6 2.7-0.9 2.3-0.9 1.9-1 3.2-2 2.6-2 1-1 0.8-1 0-22.8 -0.4-0.4 -23.1 0 -1 0.7 -1 1.1 -2 2.6 -2.1 3.1 -1 1.9 -1 2.2 -0.6 1.7 -0.5 2 -0.3 2 -0.1 1.9 0.2 2 0.4 2 0.8 2 1.1 1.9 0.9 1.1 1.1 1.1 2.1 1.5 2 0.9zM521.6 153.9l2.5 0.5 2 0.1 2-0.2 2-0.5 2-0.7 2-1.2 1.1-0.8 1-1 0.9-1.1 1.2-2 0.8-2 0.4-2 0.2-2 -0.1-1.9 -0.4-2.5 -0.8-2.5 -0.8-2 -1.4-2.8 -2.1-3.1 -2-2.6 -1-1.1 -1-0.7 -23.1 0 -0.4 0.4 0 22.8 0.8 1 1 1 1.2 1 2.9 2 1.7 1 2.9 1.4 2 0.8zM475.4 114.3l0.5 0.3 23.1 0 0.4-0.3 0-22.9 -0.8-1 -1-0.9 -1.2-1 -2.9-2 -3.6-2 -2.3-1 -1.7-0.6 -2-0.5 -2-0.3 -2-0.1 -2 0.2 -3 0.7 -2 1 -1 0.6 -1.1 0.8 -1.1 1.2 -0.9 1 -1.1 2 -0.4 0.9 -0.6 2 -0.2 1 -0.2 2 0.1 2 0.3 2 0.5 2 0.6 1.6 1 2.3 1 1.9 1 1.6 2.1 2.9 1 1.2 1 1zM506.6 114.3l0.4 0.3 23.1 0 1-0.7 1-1 2-2.6 1.1-1.5 1.4-2.5 1-2 0.8-1.9 0.7-2 0.4-2 0.2-2 -0.1-2 -0.1-1 -0.4-2 -0.4-1 -0.9-1.9 -1.6-2.2 -1-1 -1.1-0.8 -1-0.6 -2-1 -3-0.7 -2-0.2 -2 0.1 -2 0.3 -2 0.5 -1.7 0.6 -2.3 1 -3.6 2 -2.9 2 -1.2 1 -1 0.9 -0.8 1z"/>
<path fill="#fff300" d="M477.4 153.9l2.5 0.3 2-0.1 2-0.4 3-0.9 3-1.4 2.3-1.4 2.5-2 1-1 0.8-1 0.5-1 0-20.8 -21.1 0 -1 0.4 -1 0.8 -2 2.1 -1.1 1.4 -1 1.5 -1.4 2.7 -0.8 2 -0.6 2 -0.3 2 -0.1 1.9 0.1 2 0.5 2 0.3 1 1 2 1.3 1.8 1 1 1.5 1.2 1.6 0.8 2 0.8zM523.2 153.9l1.9 0.3 2-0.1 2-0.2 2-0.6 2-1 1.9-1.3 1.2-1.2 1.3-1.8 1-2 0.3-1 0.5-2 0.1-2 -0.1-1.9 -0.3-2 -0.8-2.6 -1-2.3 -1-1.8 -1-1.5 -2.1-2.5 -1-1 -1-0.8 -1-0.4 -21.1 0 0 20.8 0.5 1 0.8 1 1 1 2.5 2 1.6 1 1.8 1 2.3 0.9 1.6 0.6zM475.8 112.3l21.2 0 0-20.9 -0.5-1 -0.8-0.9 -2.1-2 -3-2 -1.8-1 -2.3-1 -2.6-0.8 -3-0.4 -3 0.1 -2 0.4 -1 0.4 -2 1 -1 0.6 -1.9 1.7 -1.5 2 -1 1.9 -0.3 1 -0.5 2 -0.1 3 0.4 3 0.8 2.5 1 2.3 1 1.8 2.1 2.9 2 2.1 1 0.8zM509 112.3l21.1 0 1-0.5 1-0.8 2-2.1 1.1-1.3 1.4-2.3 0.6-1.1 1-2.3 0.5-1.5 0.5-2 0.2-2 0-2 -0.6-3 -0.3-1 -1-1.9 -1.5-2 -1.9-1.7 -1-0.6 -2-1 -1-0.4 -2-0.4 -3-0.1 -3 0.4 -2 0.6 -2 0.8 -2.7 1.4 -1.6 1 -2.5 2 -1 1 -0.8 0.9 -0.5 1z"/>
<path fill="#ffec00" d="M478.7 153.9l2.2 0.1 2-0.3 2.8-0.8 2.4-0.9 1.8-1 1.6-1 1.2-1 2-2 0.7-1 0.4-1 0-18.8 -0.8-0.9 -19.1 0 -1 0.4 -1 0.7 -1 0.9 -2.1 2.3 -1.5 2.5 -1.5 3.2 -0.5 1.8 -0.4 2 -0.1 1.9 0.1 2 0.4 2 0.4 1 1 2 0.6 1 0.9 1 1.7 1.5 1 0.6 2 1 2 0.6zM524.9 153.9l2.2 0.1 2-0.3 1-0.3 2-0.7 2-1.2 1.1-0.9 1-1 1.1-1.6 0.6-1 0.8-2 0.4-2 0.1-2 -0.1-1.9 -0.4-2 -0.6-2 -0.9-2.2 -1-1.8 -1-1.5 -1.1-1.3 -2-1.9 -1-0.7 -1-0.4 -19.1 0 -0.8 0.9 0 18.8 0.4 1 0.7 1 2 2 1.2 1 2.6 1.5 2 1 2 0.7 2 0.5zM474.2 110.3l0.7 0.4 1 0.4 19.1 0 0.8-0.8 0-18.9 -0.4-1 -0.7-0.9 -2-2 -1.2-1 -1.6-1 -1.8-1 -3.2-1.3 -3-0.6 -3-0.1 -2 0.3 -1 0.2 -2 0.8 -1 0.5 -1.7 1.2 -1 1 -0.9 1 -1.2 2 -0.8 1.9 -0.2 1 -0.3 3 0.3 3 0.8 3 0.9 2.1 1 1.8 1 1.5 1.1 1.3 1 1.1zM510.2 110.3l0.8 0.8 19.1 0 1-0.4 1-0.6 1-0.9 2.1-2.4 1-1.5 1-1.8 1.2-3.1 0.7-3 0.1-3 -0.3-2 -0.2-1 -0.8-1.9 -0.6-1 -1.5-2 -1-1 -1.4-1 -2.3-1.1 -1-0.4 -2-0.4 -3-0.1 -2 0.2 -2 0.5 -3.2 1.3 -1.8 1 -1.6 1 -2.3 2 -0.9 1 -0.7 0.9 -0.4 1z"/>
<path fill="#ffe300" d="M475.1 152.9l1.8 0.6 1 0.1 2 0.2 2-0.2 3-0.7 3-1.3 2.7-1.6 1.2-1 1-1 0.9-1 0.6-1 0.3-1 0-17.8 -0.6-0.7 -18.1 0 -1 0.4 -1 0.6 -1 0.8 -1 1 -1.1 1.2 -1 1.5 -1 1.8 -0.6 1.3 -0.6 2 -0.4 2 -0.2 1.9 0.1 2 0.2 1 0.2 1 0.8 2 0.6 1 0.9 1.3 1 1.1 1.1 0.8 2 1.3zM521.2 152.9l1.9 0.5 2 0.3 2 0 2-0.2 1-0.3 2-0.7 2-1.3 1.5-1.2 0.8-1 1.3-2 0.8-2 0.2-1 0.3-2 0-1.9 -0.3-2 -0.6-2 -1.3-3 -1.6-2.6 -2.1-2.2 -1-0.8 -1-0.6 -1-0.4 -18.1 0 -0.6 0.7 0 17.8 0.3 1 0.6 1 0.9 1 2.2 2 1.5 1 1.8 1zM474.4 109.3l0.5 0.3 1 0.3 18.1 0 0.6-0.6 0-17.9 -0.3-1 -0.6-0.9 -0.9-1 -2.2-2 -1.5-1 -2.2-1.2 -3-1.1 -3-0.5 -3 0.1 -2 0.4 -1 0.4 -2 1 -1 0.6 -1.5 1.3 -1.5 2 -1 1.9 -0.4 1 -0.4 2 -0.1 3 0.6 3 0.6 2 0.6 1.3 1.6 2.6 1.5 1.9 1 1 1 0.8zM511.4 109.3l0.6 0.6 18.1 0 1-0.3 1-0.6 1-0.8 2.1-2.2 1-1.5 1-1.8 1-2.5 0.6-2.8 0.2-3 -0.3-2 -0.2-1 -0.8-1.9 -0.6-1 -1.5-2 -1.5-1.3 -1-0.6 -2-1 -1-0.4 -2-0.4 -3-0.1 -3 0.5 -3 1.1 -2.2 1.2 -1.5 1 -1.2 1 -1 1 -0.9 1 -0.6 0.9 -0.3 1z"/>
<path fill="#ffd900" d="M475.8 152.9l2.1 0.5 2 0.1 2-0.2 3-0.8 2-0.9 2.7-1.6 1.2-1 0.9-1 0.8-1 0.5-1 0.4-1 0-16.9 -0.4-0.4 -17.1 0 -1 0.4 -1 0.5 -1 0.7 -1 1 -1.1 1.2 -1 1.4 -1 1.9 -0.5 1.3 -0.8 3 -0.2 1.9 0 1 0.3 2 0.2 1 0.3 1 1.1 2 1.6 2 1.1 0.9 1 0.7 2 1zM522.5 152.9l1.6 0.4 2 0.2 2-0.1 1-0.2 2-0.6 1-0.4 2-1.3 1.1-0.9 1-1.1 1.2-1.9 0.5-1 0.5-2 0.3-2 0-1.9 -0.4-2 -0.6-2 -0.5-1.3 -1-1.9 -1-1.4 -1.1-1.2 -1-1 -1-0.7 -1-0.5 -1-0.4 -17.1 0 -0.4 0.4 0 16.9 0.4 1 0.5 1 0.8 1 0.9 1 1.2 1 1.5 1 1.8 1zM474.7 108.3l1.2 0.4 17.1 0 0.4-0.4 0-16.9 -0.4-1 -0.5-0.9 -0.8-1 -0.9-1 -1.2-1 -1.5-1 -2.2-1.2 -3-1 -3-0.3 -2 0.1 -1 0.1 -2 0.6 -2 1 -1 0.7 -1.1 1 -1.6 2 -1.1 1.9 -0.5 2 -0.2 1 -0.1 1 0 2 0.6 3 1.3 3 0.6 1.1 1 1.5 1.1 1.2 1 0.9 1 0.8zM512.6 108.3l0.4 0.4 17.1 0 1-0.3 1-0.5 1-0.8 1-0.9 1.1-1.2 1-1.5 1.1-2.1 1-3 0.4-2 0-1 -0.1-2 -0.2-1 -0.5-2 -1.1-1.9 -1.6-2 -1.1-1 -1-0.7 -2-1 -2-0.6 -1-0.1 -2-0.1 -3 0.3 -3 1 -2.2 1.2 -1.5 1 -1.2 1 -0.9 1 -0.8 1 -0.5 0.9 -0.4 1z"/>
<path fill="#ffcd00" d="M476.9 152.9l2 0.3 2-0.1 2-0.3 2-0.7 2.3-1.1 1.4-1 1.2-1 0.9-1 0.7-1 0.5-1 0.3-1 0-15.9 -0.3-0.2 -16 0 -1 0.3 -1 0.4 -1 0.8 -1.8 1.7 -1.3 1.8 -0.6 1.2 -0.9 2 -0.3 1 -0.3 2 -0.1 1.9 0.1 1 0.4 2 0.3 1 1 2 0.8 1 1.7 1.6 1 0.8 2 1zM524 152.9l1.1 0.2 2 0.1 1-0.1 2-0.4 1-0.3 2-1 1-0.8 1.7-1.6 0.8-1 1-2 0.3-1 0.4-2 0.1-1 -0.1-1.9 -0.3-2 -0.7-2 -1.1-2.2 -1-1.5 -1.1-1.1 -1-0.9 -1-0.8 -1-0.4 -1-0.3 -16 0 -0.3 0.2 0 15.9 0.3 1 0.5 1 0.7 1 0.9 1 1.2 1 1.4 1 1.3 0.6 2 0.9zM475 107.3l0.9 0.2 16 0 0.3-0.2 0-15.9 -0.3-1 -0.5-0.9 -0.7-1 -0.9-1 -1.9-1.5 -2-1.2 -2-0.8 -1-0.3 -2-0.4 -2 0 -1 0 -2 0.4 -2 0.8 -2 1.3 -1.7 1.7 -1.3 2 -0.8 1.9 -0.4 2 -0.1 1 0.1 2 0.3 2 0.3 1 0.9 2 0.6 1.2 1 1.4 1.1 1.2 1 0.9 1 0.7zM513.8 107.3l0.3 0.2 16 0 1-0.2 1-0.5 1-0.7 1-0.9 1.1-1.2 1-1.4 1-1.9 0.8-2.3 0.4-3 -0.1-2 -0.4-2 -0.3-1 -1-1.9 -1.4-1.8 -1.1-0.9 -1-0.7 -2-1 -1-0.4 -2-0.4 -2 0 -3 0.4 -2.3 0.8 -2 1 -1.4 1 -1.2 1 -0.9 1 -0.7 1 -0.5 0.9 -0.3 1z"/>
<path fill="#ffbc00" d="M474.8 152l1.1 0.4 1 0.2 2 0.2 2-0.1 2-0.4 2-0.8 2-1.2 1.7-1.3 0.9-1 0.7-1 0.5-1 0.3-1 -0.1-14.9 -15 0 -1 0.3 -1 0.5 -1 0.7 -1 0.8 -1.4 1.7 -1.2 2 -0.8 2 -0.3 1 -0.1 1 -0.1 1.9 0.2 2 0.2 1 0.8 2 1.6 2.3 1.1 0.9 1 0.7 1 0.7zM522.2 152l1.9 0.5 1 0.2 2 0.1 2-0.2 2-0.6 1-0.4 1-0.7 1-0.7 1.1-0.9 1.6-2.3 0.4-1 0.6-2 0.2-2 -0.1-1.9 -0.1-1 -0.7-2 -0.4-1 -1.2-2 -1.4-1.7 -1-0.8 -1-0.7 -1-0.5 -1-0.3 -15.1 0 0 14.9 0.3 1 0.5 1 0.7 1 1.6 1.6 2 1.4zM475.8 106.3l15.2 0 0-14.9 -0.3-1 -0.5-0.9 -0.7-1 -0.9-1 -1.2-1 -2.5-1.6 -2-0.7 -2-0.4 -2-0.1 -1 0 -2 0.4 -2 0.8 -2 1.3 -1.3 1.3 -1.4 2 -0.8 1.9 -0.4 2 0 1 0.1 2 0.4 2 0.8 2 1.2 2 1.4 1.6 1 0.9 1 0.7zM515 106.3l15.1 0.1 1-0.4 1-0.4 1-0.7 1-0.9 1.4-1.6 1.2-2 0.8-2 0.3-1 0.2-2 0-2 -0.4-2 -0.8-1.9 -1.6-2.3 -1.1-1 -1-0.7 -1-0.6 -1-0.4 -2-0.7 -1-0.1 -2 0 -2 0.2 -1 0.3 -2 0.7 -2 1.2 -1.7 1.4 -0.9 1 -0.7 1 -0.5 0.9 -0.3 1z"/>
<path fill="#ffa900" d="M475.8 152l1.1 0.2 2 0.2 2-0.1 2-0.5 1.9-0.8 1.6-1 1.1-1 0.9-1 0.7-1 0.4-1 0.3-1 0-12.9 -0.9-0.8 -13 0 -1 0.2 -1 0.5 -1 0.6 -1 0.9 -1.4 1.6 -1.1 2 -0.4 1 -0.5 2 -0.1 1.9 0 1 0.4 2 0.8 2 0.6 1 0.8 1 1.9 1.6 1 0.6zM523.7 152l1.4 0.3 2 0.1 2-0.2 2-0.6 2-1 1.9-1.6 0.8-1 1-2 0.6-2 0.2-2 -0.1-1.9 -0.5-2 -0.9-2 -0.9-1.4 -1.1-1.2 -1-0.9 -1-0.6 -1-0.5 -1-0.2 -13 0 -0.9 0.8 0 12.9 0.3 1 0.4 1 0.7 1 0.9 1 1.1 1 1.6 1zM473.7 104.3l1.2 0.6 1 0.3 13 0 0.9-0.9 0-12.9 -0.3-1 -0.4-0.9 -0.7-1 -0.9-1 -1.1-1 -1.5-0.9 -1-0.5 -2-0.7 -2-0.3 -2 0 -2 0.4 -2 0.8 -1 0.6 -1 0.8 -1.7 1.8 -1 1.9 -0.6 2 -0.2 2 0.1 2 0.5 2 0.4 1 1.1 2 1.4 1.5 1 0.9zM516.2 104.3l0.9 0.9 13 0 1-0.3 1-0.4 1-0.7 1-0.9 1.4-1.5 1.1-2 0.7-2 0.3-2 0-2 -0.4-2 -0.8-1.9 -0.6-1 -0.8-1 -1.9-1.6 -2-1.1 -2-0.6 -2-0.2 -2 0.2 -2 0.5 -1 0.4 -2 1.1 -1.6 1.3 -0.9 1 -0.7 1 -0.4 0.9 -0.3 1z"/>
<path fill="#ff9000" d="M474.4 151l1.5 0.5 2 0.4 2 0 1-0.2 2-0.6 2-1 1.4-1.1 0.9-1 0.7-1 0.4-1 0.3-1 0-11.9 -0.7-0.6 -12 0 -1 0.2 -1 0.5 -1 0.6 -1 0.9 -1.1 1.2 -1.1 2.2 -0.6 2 -0.3 1.9 0.2 2 0.6 2 0.5 1 0.6 1 0.9 1 1.1 1zM522.7 151l1.4 0.5 2 0.4 2 0 2-0.4 2-0.8 1.2-0.7 1.1-1 0.9-1 0.6-1 0.9-2 0.3-2 0-2 -0.4-1.9 -0.5-1.4 -1-1.8 -1.1-1.2 -1-0.9 -1-0.6 -1-0.5 -1-0.2 -12 0 -0.7 0.6 0 11.9 0.3 1 0.4 1 0.7 1 0.9 1 1.2 1zM474 103.3l0.9 0.4 1 0.3 12 0 0.7-0.7 0-11.9 -0.3-1 -0.4-0.9 -0.7-1 -0.9-1 -1.4-1.1 -2-1.1 -2-0.6 -2-0.2 -2 0.2 -2 0.6 -1 0.4 -1 0.7 -1.3 1.1 -0.9 1 -0.6 1 -0.9 1.9 -0.3 2 0 2 0.4 2 0.5 1.4 1 1.7 1.1 1.2 0.6 0.7zM517.4 103.3l0.7 0.7 12 0 1-0.3 1-0.4 1-0.7 1-0.9 1.2-1.3 1-2 0.6-2 0.3-2 -0.2-2 -0.6-2 -0.5-0.9 -0.6-1 -0.9-1 -1.3-1.1 -1-0.7 -1-0.4 -2-0.6 -2-0.2 -2 0.2 -2 0.6 -2 1.1 -1.4 1.1 -0.9 1 -0.7 1 -0.4 0.9 -0.3 1z"/>
<path fill="#ff7b00" d="M475.6 151l1.3 0.3 2 0.1 1-0.1 2-0.5 1.8-0.8 1.2-0.9 1.1-1.1 0.6-1 0.5-1 0.3-1 0-10.9 -0.5-0.4 -11 0 -1 0.2 -1 0.5 -1 0.6 -1 1 -1.1 1.3 -0.8 1.8 -0.5 1.9 -0.1 2 0.4 2 0.3 1 0.5 1 1.3 1.6 1 0.9 1 0.7zM524.5 151l1.6 0.3 2 0.1 1-0.1 2-0.6 1.4-0.7 1.3-1 0.9-1 0.7-1 0.5-1 0.6-2 0.1-1 -0.1-2 -0.5-1.9 -0.8-1.8 -1.1-1.3 -1-1 -1-0.6 -1-0.5 -1-0.2 -11 0 -0.5 0.4 0 10.9 0.3 1 0.5 1 0.6 1 1 1 1.3 1 0.8 0.4zM474.5 102.4l1.4 0.4 11 0 0.5-0.4 0-11 -0.3-1 -0.5-0.9 -0.6-1 -1.1-1.1 -1-0.8 -1-0.6 -1.4-0.5 -1.6-0.4 -2-0.1 -2 0.4 -1 0.4 -1 0.5 -1 0.6 -1 0.9 -1.3 1.7 -0.5 0.9 -0.6 2 -0.1 2 0.3 2 0.7 2 0.6 1 0.8 1 1.1 1 1 0.7zM518.6 102.4l0.5 0.4 11 0 1-0.3 1-0.4 1-0.7 1-0.9 1.1-1.3 0.8-1.8 0.5-2 0.1-1 -0.1-2 -0.6-2 -0.7-1.3 -1.1-1.3 -1-0.9 -1-0.6 -1-0.5 -2-0.6 -1-0.2 -2 0.1 -2 0.5 -1.8 0.9 -1.3 1 -1 1 -0.6 1 -0.5 0.9 -0.3 1z"/>
<path fill="#ff6b00" d="M476.7 151l1.2 0.1 1 0 2-0.3 1-0.3 1-0.5 1.5-1 0.9-1 0.7-1 0.5-1 0.2-1 0-9.9 -0.8-0.8 -10 0 -1 0.2 -1 0.5 -1 0.7 -1 0.9 -1.1 1.5 -0.8 2 -0.3 1.9 0.1 2 0.6 2 0.5 1 0.7 1 1.3 1.2 1 0.7 1 0.5zM525.8 151l1.3 0.1 1 0 2-0.3 1-0.4 1-0.5 1-0.7 1-1 1-1.2 0.5-1 0.6-2 0.1-2 -0.3-1.9 -0.8-2 -1.1-1.5 -1-0.9 -1-0.7 -1-0.5 -1-0.2 -10 0 -0.8 0.8 0 9.9 0.2 1 0.5 1 0.7 1 0.9 1 1.5 1 1 0.5zM473.7 101.4l1.2 0.5 1 0.3 10 0 0.8-0.8 0-10 -0.2-1 -0.5-0.9 -0.7-1 -1.4-1.4 -1-0.6 -2-0.9 -2-0.3 -1 0 -2 0.4 -1 0.3 -1 0.6 -1 0.6 -1.3 1.3 -0.7 1 -0.5 0.9 -0.4 1 -0.3 2 0.1 2 0.5 2 0.5 1 1.1 1.4 1 1zM519.3 101.4l0.8 0.8 10 0 1-0.3 1-0.4 1-0.7 1-1 1.1-1.4 0.8-2 0.3-2 0-1 -0.3-2 -0.4-1 -0.5-0.9 -0.7-1 -1.3-1.3 -1-0.6 -1-0.6 -1-0.3 -2-0.4 -1 0 -2 0.3 -2 0.9 -1.5 1 -0.9 1 -0.7 1 -0.5 0.9 -0.2 1z"/>
<path fill="#ff5900" d="M474.5 150l1.4 0.5 1 0.3 2 0 1-0.1 2-0.6 1-0.5 0.8-0.6 1.1-1 0.7-1 0.4-1 0.3-1 0-9.9 -0.3-0.3 -10 0 -1 0.3 -1 0.4 -1 0.7 -1 1.1 -1.1 1.5 -0.5 1.3 -0.3 1.9 0.1 2 0.2 1 0.4 1 0.5 1 0.7 0.9 1.1 1.1zM523.8 150l1.3 0.5 2 0.3 2 0 1-0.3 2-0.9 0.9-0.6 1.1-1 0.7-1 0.9-2 0.2-1 0.1-2 -0.1-1 -0.6-1.9 -0.6-1 -0.6-0.8 -1-1.1 -1-0.7 -1-0.4 -1-0.3 -10 0 -0.3 0.3 0 9.9 0.3 1 0.4 1 0.7 1 1.1 1zM474.9 101.4l1 0.2 10 0 0.3-0.2 0-10 -0.3-1 -0.4-0.9 -0.7-1 -1.1-1 -1.8-1.1 -1-0.4 -2-0.4 -2 0.1 -1 0.2 -2 0.9 -1 0.8 -1 1 -0.7 0.9 -0.5 0.9 -0.4 1 -0.4 2 0.2 2 0.2 1 0.5 1.3 1.2 1.7 0.9 0.8 1 0.7zM519.8 101.4l0.3 0.2 10 0 1-0.2 1-0.5 1-0.7 1-1 1.1-1.5 0.5-1.3 0.3-2 -0.1-2 -0.2-1 -0.9-1.9 -0.7-1 -1.1-1 -0.9-0.7 -1-0.5 -1-0.4 -2-0.3 -2 0.1 -1 0.3 -1.3 0.5 -1.7 1.1 -0.9 0.9 -0.7 1 -0.4 0.9 -0.3 1z"/>
<path fill="#f40" d="M475.3 150l1.6 0.4 1 0.1 2-0.2 1-0.2 1-0.5 1-0.6 1.1-1 0.8-1 0.5-1 0.2-1 0-8.9 -0.6-0.6 -9 0 -1 0.2 -1 0.5 -1 0.8 -1.1 1.1 -0.6 1 -0.7 1.9 -0.2 2 0.3 2 0.4 1 0.6 1 0.8 1 1.5 1.3zM524.9 150l1.2 0.3 2 0.2 1-0.1 2-0.6 1-0.5 1-0.8 1.3-1.5 0.6-1 0.6-2 0.1-1 -0.2-2 -0.3-0.9 -0.4-1 -0.6-1 -0.9-1 -1.2-0.9 -1-0.5 -1-0.2 -9 0 -0.6 0.6 0 8.9 0.2 1 0.5 1 0.9 1.1 1 0.9 1 0.6zM474.2 100.4l0.7 0.3 1 0.3 9 0 0.6-0.6 0-9 -0.2-1 -0.5-0.9 -0.8-1 -1.1-1 -1-0.7 -2-0.7 -1-0.1 -2 0 -2 0.6 -1 0.6 -1.5 1.3 -0.8 1 -0.6 0.9 -0.6 2 -0.1 2 0.2 1 0.7 2 0.7 1 1 1.1zM520.5 100.4l0.6 0.6 9 0 1-0.3 1-0.5 1-0.7 1-1.1 0.7-1 0.7-2 0.2-1 -0.1-2 -0.2-1 -0.4-1 -0.6-0.9 -0.8-1 -1.5-1.3 -1-0.6 -2-0.6 -1-0.1 -2 0.2 -1.2 0.4 -0.8 0.3 -1 0.7 -1 0.8 -0.9 1.2 -0.5 0.9 -0.2 1z"/>
<path fill="#ff3100" d="M476.4 150l1.5 0.2 1-0.1 2-0.5 1-0.5 1-0.7 0.5-0.4 0.7-1 0.6-1 0.3-1 -0.1-9 -9 0 -1 0.3 -1 0.5 -1 0.8 -1.2 1.5 -0.5 1 -0.5 1.9 -0.1 1 0.1 1 0.6 2 0.6 1 0.9 1 1.1 0.9 1 0.6zM526.2 150l1.9 0.2 2-0.3 1-0.4 1-0.6 1.1-0.9 0.9-1 0.6-1 0.6-2 0.1-1 -0.1-1 -0.5-1.9 -0.7-1.3 -1-1.2 -1-0.8 -1-0.5 -1-0.3 -9 0 -0.1 9 0.3 1 0.6 1 0.7 1 0.5 0.4 1 0.7 1 0.5zM475.7 100.4l9.3 0 0-9 -0.3-1 -0.6-0.9 -0.7-1 -1.2-1 -1.3-0.7 -2-0.5 -1 0 -2 0.3 -1 0.4 -1 0.5 -1.1 1 -0.9 1.1 -0.6 0.8 -0.3 1 -0.4 2 0.1 1 0.5 2 0.5 1 1.2 1.4 1 0.8 1 0.5zM521 100.4l9.1 0 1-0.3 1-0.5 1-0.8 1-1.1 0.7-1.3 0.5-2 0.1-1 -0.4-2 -0.3-1 -0.6-0.9 -0.9-1 -1.1-1 -1-0.5 -1-0.4 -2-0.3 -1 0 -2 0.5 -1.3 0.7 -1.2 1 -0.7 1 -0.6 0.9 -0.3 1z"/>
<path fill="#ff2100" d="M474.4 149l1.5 0.6 1 0.3 2 0 1-0.2 1-0.4 1-0.5 1-0.8 0.8-1 0.5-1 0.3-1 0-7.9 -0.6-0.6 -8 0 -1 0.3 -1 0.5 -1 0.8 -0.9 1 -0.5 1 -0.4 0.9 -0.2 1 0.1 2 0.2 1 0.4 1 0.6 1 0.9 1zM524.4 149l1.7 0.7 1 0.2 2 0 1-0.3 1-0.4 1-0.6 0.8-0.6 0.9-1 0.6-1 0.4-1 0.2-1 0.1-2 -0.2-1 -0.8-1.6 -1-1.3 -1-0.8 -1-0.5 -1-0.3 -8 0 -0.6 0.6 0 7.9 0.3 1 0.5 1 0.8 1zM474.3 99.4l0.6 0.3 1 0.3 8 0 0.6-0.6 0-8 -0.3-1 -0.5-0.9 -0.8-1 -1-0.8 -1-0.6 -1-0.4 -1-0.1 -2 0 -1 0.2 -1 0.4 -1 0.6 -1 0.9 -0.7 0.8 -0.6 0.9 -0.4 1 -0.2 1 -0.1 2 0.2 1 0.4 1 0.5 1 0.9 1 1 0.8zM521.5 99.4l0.6 0.6 8 0 1-0.3 1-0.5 1-0.8 0.9-1 0.5-1 0.4-1 0.2-1 0-1 -0.1-1 -0.2-1 -0.4-1 -0.6-0.9 -0.7-0.8 -1-0.9 -1-0.6 -1-0.4 -1-0.2 -1-0.1 -2 0.2 -1 0.4 -1 0.6 -1 0.8 -0.8 1 -0.5 0.9 -0.3 1z"/>
<path fill="#ff1200" d="M474.8 149l1.1 0.4 1 0.3 1 0 1 0 1-0.2 1-0.4 1-0.7 0.6-0.4 0.8-1 0.5-1 0.3-1 0-7.9 -0.2-0.2 -8 0 -1 0.2 -1 0.6 -1 0.8 -0.5 0.6 -0.6 1 -0.4 0.9 -0.3 1 0 1 0.1 1 0.2 1 0.4 1 1.1 1.5 1 0.9zM525 149l1.1 0.5 1 0.2 1 0 1 0 1-0.3 1-0.4 1-0.6 1.5-1.4 0.6-1 0.4-1 0.2-1 0.1-1 0-1 -0.3-1 -0.5-1.1 -1-1.4 -1-0.8 -1-0.6 -1-0.2 -8 0 -0.2 0.2 0 7.9 0.3 1 0.5 1 0.8 1zM475.2 99.4l0.7 0.2 8 0 0.2-0.2 0-8 -0.3-1 -0.5-0.9 -0.8-1 -1.6-1.1 -1-0.4 -1-0.2 -1-0.1 -1 0.1 -1 0.2 -1 0.4 -1.5 1.1 -1 1 -0.6 0.9 -0.4 1 -0.2 1 -0.1 1 0 1 0.3 1 0.5 1.1 1 1.5 1 0.8zM521.9 99.4l0.2 0.2 8 0 1-0.3 1-0.5 1-0.8 1-1.5 0.5-1.1 0.3-1 0-1 -0.1-1 -0.2-1 -0.4-1 -1.1-1.4 -1-1 -1-0.6 -1-0.4 -1-0.2 -1-0.1 -1 0.1 -1 0.2 -1.1 0.5 -1.5 1 -0.8 1 -0.5 0.9 -0.3 1z"/>
<path fill="#ff0700" d="M475.3 149l1.6 0.5 1 0 1 0 1-0.3 1-0.4 1-0.7 1-1.1 0.6-1 0.3-1 0-6.9 -0.9-0.9 -7 0 -1 0.3 -1 0.5 -1 0.9 -0.8 1.2 -0.5 0.9 -0.2 1 -0.1 1 0.1 1 0.2 1 0.4 1 0.9 1.2 1 1zM525.6 149l1.5 0.5 1 0 1 0 1-0.3 1-0.4 1.3-0.8 0.9-1 0.7-1 0.4-1 0.2-1 0.1-1 -0.1-1 -0.2-1 -0.5-0.9 -0.8-1.2 -1-0.9 -1-0.5 -1-0.3 -7 0 -0.9 0.9 0 6.9 0.3 1 0.6 1 0.9 1zM473.8 98.4l1.1 0.6 1 0.2 7 0 0.9-0.8 0-7 -0.3-1 -0.6-0.9 -0.9-1 -1.1-0.8 -1-0.5 -1-0.2 -1-0.1 -1 0.1 -1 0.2 -1 0.5 -1 0.6 -1.2 1.2 -0.7 0.9 -0.4 1 -0.2 1 -0.1 1 0.1 1 0.2 1 0.5 1 0.8 1.1zM522.2 98.4l0.9 0.8 7 0 1-0.2 1-0.6 1-0.9 0.8-1.1 0.5-1 0.2-1 0.1-1 -0.1-1 -0.2-1 -0.4-1 -0.7-0.9 -1.2-1.2 -1-0.6 -1-0.5 -1-0.2 -1-0.1 -1 0.1 -1 0.2 -1 0.5 -1 0.6 -1 1.2 -0.6 0.9 -0.3 1z"/>
<path fill="#ff0300" d="M475.5 149l1.4 0.4 1 0.1 1-0.1 1-0.3 1-0.4 1-0.7 0.9-1 0.6-1 0.3-1 0-6.9 -0.8-0.8 -7 0 -1 0.3 -1 0.5 -1 0.9 -0.8 1.1 -0.4 0.9 -0.3 1 0 1 0 1 0.3 1 0.4 1 0.8 1.1 1 1 1 0.6zM525.7 149l1.4 0.4 1 0.1 1-0.1 1-0.3 1-0.4 1.2-0.7 0.9-1 0.7-1 0.4-1 0.3-1 0-1 0-1 -0.3-1 -0.4-0.9 -0.8-1.1 -1-0.9 -1-0.5 -1-0.3 -7 0 -0.8 0.8 0 6.9 0.3 1 0.6 1 0.9 1 1 0.7zM474 98.4l0.9 0.5 1 0.2 7 0 0.8-0.7 0-7 -0.3-1 -0.6-0.9 -0.9-1.1 -1-0.6 -1-0.5 -1-0.2 -1-0.1 -1 0.1 -1 0.2 -1 0.4 -1 0.7 -1.1 1.1 -0.7 0.9 -0.4 1 -0.3 1 0 1 0 1 0.3 1 0.4 1 0.8 1zM522.3 98.4l0.8 0.7 7 0 1-0.2 1-0.6 1-0.9 0.8-1 0.4-1 0.3-1 0-1 0-1 -0.3-1 -0.4-1 -0.7-0.9 -1.1-1.1 -1-0.7 -1-0.4 -1-0.2 -1-0.1 -1 0.1 -1 0.2 -1 0.5 -1 0.7 -0.9 1 -0.6 0.9 -0.3 1z"/>
</g>
<rect x="477.02" y="92.93" width="52.05" height="51.19" fill="#00f"/>
<path d="M411.56 221.40v-2.0M411.56 15.05v2.0M398.50 208.50h2.0M607.50 208.50h-2.0M424.62 221.40v-3.8M424.62 15.05v3.8M398.50 195.61h3.8M607.50 195.61h-3.8M437.69 221.40v-2.0M437.69 15.05v2.0M398.50 182.71h2.0M607.50 182.71h-2.0M450.75 221.40v-3.8M450.75 15.05v3.8M398.50 169.81h3.8M607.50 169.81h-3.8M463.81 221.40v-2.0M463.81 15.05v2.0M398.50 156.92h2.0M607.50 156.92h-2.0M476.88 221.40v-3.8M476.88 15.05v3.8M398.50 144.02h3.8M607.50 144.02h-3.8M489.94 221.40v-2.0M489.94 15.05v2.0M398.50 131.12h2.0M607.50 131.12h-2.0M503.00 221.40v-3.8M503.00 15.05v3.8M398.50 118.23h3.8M607.50 118.23h-3.8M516.06 221.40v-2.0M516.06 15.05v2.0M398.50 105.33h2.0M607.50 105.33h-2.0M529.12 221.40v-3.8M529.12 15.05v3.8M398.50 92.43h3.8M607.50 92.43h-3.8M542.19 221.40v-2.0M542.19 15.05v2.0M398.50 79.53h2.0M607.50 79.53h-2.0M555.25 221.40v-3.8M555.25 15.05v3.8M398.50 66.64h3.8M607.50 66.64h-3.8M568.31 221.40v-2.0M568.31 15.05v2.0M398.50 53.74h2.0M607.50 53.74h-2.0M581.38 221.40v-3.8M581.38 15.05v3.8M398.50 40.84h3.8M607.50 40.84h-3.8M594.44 221.40v-2.0M594.44 15.05v2.0M398.50 27.95h2.0M607.50 27.95h-2.0" stroke="#000" stroke-width="1" fill="none"/><rect x="398.50" y="15.05" width="209.00" height="206.35" fill="none" stroke="#111" stroke-width="1.05"/>
<g class="tk" text-anchor="middle">
<text x="398.5" y="233.2">−2.0</text>
<text x="424.6" y="233.2">−1.5</text>
<text x="450.8" y="233.2">−1.0</text>
<text x="476.9" y="233.2">−0.5</text>
<text x="503.0" y="233.2">0.0</text>
<text x="529.1" y="233.2">0.5</text>
<text x="555.2" y="233.2">1.0</text>
<text x="581.4" y="233.2">1.5</text>
<text x="607.5" y="233.2">2.0</text>
</g><g class="tk" text-anchor="end">
<text x="394.6" y="224.5">−2.0</text>
<text x="394.6" y="198.7">−1.5</text>
<text x="394.6" y="172.9">−1.0</text>
<text x="394.6" y="147.1">−0.5</text>
<text x="394.6" y="121.3">0.0</text>
<text x="394.6" y="95.5">0.5</text>
<text x="394.6" y="69.7">1.0</text>
<text x="394.6" y="43.9">1.5</text>
<text x="394.6" y="18.2">2.0</text>
</g>
<text class="ax" text-anchor="middle" transform="translate(503.0 250.7) scale(1.12 1)">X</text>
<text class="ax" text-anchor="middle" transform="translate(372.6 118.6) rotate(-90) scale(1.15 1)">Y</text>
<text class="tag" x="407.2" y="39.5">(b)</text>
<rect x="641.00" y="15.05" width="17.40" height="206.35" fill="url(#cb)" stroke="#777" stroke-width="0.4"/>
<path d="M641.00 15.05v206.35M658.40 15.05v206.35" stroke="#2b2622" stroke-width="0.8" fill="none"/>
<path d="M658.40 15.35h3.2M658.40 41.14h3.2M658.40 66.94h3.2M658.40 92.73h3.2M658.40 118.52h3.2M658.40 144.32h3.2M658.40 170.11h3.2M658.40 195.91h3.2M658.40 221.70h3.2" stroke="#333" stroke-width="0.9" fill="none"/>
<g class="cl">
<text x="665.0" y="17.5">1.750</text>
<text x="665.0" y="43.3">1.531</text>
<text x="665.0" y="69.1">1.313</text>
<text x="665.0" y="94.9">1.094</text>
<text x="665.0" y="120.7">0.8750</text>
<text x="665.0" y="146.5">0.6563</text>
<text x="665.0" y="172.3">0.4375</text>
<text x="665.0" y="198.1">0.2188</text>
<text x="665.0" y="223.8">0.000</text>
</g>
<text class="ax" text-anchor="middle" x="649.7" y="8.2">Electric Field</text>
</g>
<g id="pc">
<g transform="translate(0.15 0.3)">
<rect x="33.5" y="334.3" width="209" height="206.3" fill="#0001ff"/>
<path fill="#0009ff" d="M34.7 539.7l1 0.9 204.6 0 0.2-0.2 2-1.9 0-202 -2.2-2.2 -204.6 0 -0.2 0.2 -2 2 0 202z"/>
<path fill="#01f" d="M39.6 539.7l1.1 0.9 194.6 0 5.2-4.9 2-2.1 0-192.2 -3-3.1 -4.2-4 -194.6 0 -5.2 5 -2 2.1 0 192.2z"/>
<path fill="#0018ff" d="M44.6 539.7l1.1 0.9 184.6 0 4.3-3.9 5-5 2.9-3.1 0-182.2 -3.8-4.2 -4.2-4.1 -4.2-3.8 -184.6 0 -4.3 4 -5 4.9 -2.9 3.2 0 182.2 5 5.3z"/>
<path fill="#001eff" d="M49.8 539.7l1.2 0.9 174 0 4.4-3.7 3.4-3.2 4-4 3.6-3.9 2.1-2.4 0-171.8 -3-3.5 -3.7-3.9 -3.3-3.3 -4-3.6 -3.5-3 -174 0 -4.4 3.8 -3.4 3.1 -4 4 -3.6 4 -2.1 2.4 0 171.8 3.8 4.4 3.8 3.9 4.5 4.2z"/>
<path fill="#02f" d="M52.4 539.7l1.3 0.9 168.6 0 4.8-3.9 4.3-4 4.1-4 4.4-4.9 2.6-3.1 0-166.5 -4-4.7 -4-4.3 -4.1-3.9 -4-3.6 -4.1-3.4 -168.6 0 -4.8 4 -4.3 4 -4.1 4 -4.4 4.9 -2.6 3 0 166.5 4.3 5.1 4.7 4.9 5.1 4.8z"/>
<path fill="#0026ff" d="M55.1 539.7l1.3 0.9 163.2 0 5.8-4.7 5-4.6 5.1-5.1 4.8-5.4 2.2-2.8 0-161.1 -4-4.8 -5-5.5 -5.1-4.9 -5-4.4 -3.8-3 -163.2 0 -5.8 4.7 -5 4.6 -5.1 5.1 -4.8 5.4 -2.2 2.8 0 161.1 4.8 5.8 5.2 5.6 5.7 5.3z"/>
<path fill="#002aff" d="M57.9 539.7l1.3 0.9 157.6 0 6.6-5.2 6-5.5 3.1-3 2.9-3.1 5.1-6 2-2.5 0-155.6 -5-6.2 -5-5.5 -6-5.8 -5.8-4.9 -3.9-3 -157.6 0 -6.6 5.2 -6 5.5 -3.1 3 -2.9 3.2 -5.1 5.9 -2 2.6 0 155.6 5.3 6.5 5.8 6.2 6 5.7 3.5 3z"/>
<path fill="#002fff" d="M60.7 539.7l1.4 0.9 151.8 0 6.5-4.9 3.5-3 3.5-3.2 3-2.9 3.6-3.8 2.7-3 3.2-4 2.6-3.4 0-149.9 -5-6.4 -3-3.5 -3.3-3.4 -2.9-3 -3.2-3 -3.5-2.9 -3.2-2.7 -4.5-3.3 -151.8 0 -6.5 5 -3.5 2.9 -3.5 3.2 -3 3 -3.6 3.8 -2.7 2.9 -3.2 4 -2.6 3.4 0 149.9 2.6 3.4 3.2 4 3.2 3.6 3.2 3.4 3.9 3.7 3.6 3.2 3.6 3z"/>
<path fill="#03f" d="M63.6 539.7l1.4 0.9 146 0 4.4-3.1 4-3.1 4-3.5 3.5-3.1 3.5-3.6 3.2-3.4 3.4-4 3.1-3.9 2.4-3.3 0-144.2 -3-4.1 -3-3.8 -3-3.5 -3.6-3.8 -3.5-3.4 -3.9-3.6 -3.5-2.9 -3.6-2.9 -4.4-3.1 -146 0 -4.4 3.1 -4 3.2 -4 3.4 -3.5 3.2 -3.5 3.6 -3.2 3.3 -3.4 4 -3.1 4 -2.4 3.3 0 144.2 3.2 4.3 3.2 3.9 3.4 4 3.8 4 3.5 3.3 4 3.6 4 3.3z"/>
<path fill="#0038ff" d="M66.5 539.7l1.5 0.9 140 0.1 4.4-3.1 5-3.8 4-3.3 4.1-3.7 3.9-4 3.7-4 3.4-4 3.7-4.9 2.3-3.3 0-138.2 -3-4.3 -3.9-5 -3.4-4 -3.7-3.9 -4.1-4 -4-3.6 -4-3.3 -4-3 -4.4-3 -140 0 -4.4 3 -5 3.8 -4 3.4 -4.1 3.7 -3.9 4 -3.7 3.9 -3.4 4.1 -3.7 4.9 -2.3 3.3 0 138.2 3 4.3 3.9 4.9 4.2 4.8 3.9 4.2 4.2 3.9 4.5 4 4.4 3.5z"/>
<path fill="#003cff" d="M69.6 539.7l1.6 0.9 133.6 0 5.5-3.6 5.1-3.8 5-4.1 4-3.7 4-4 4.1-4.6 4.1-4.9 3.6-5 2.3-3.4 0-132 -3.7-5.5 -3.3-4.3 -3.8-4.6 -4.3-4.6 -4.4-4.3 -4.5-4 -4.1-3.3 -5.1-3.6 -4.5-3 -133.6 0 -5.5 3.7 -5.1 3.7 -5 4.2 -4 3.7 -4 4 -4.1 4.5 -4.1 5 -3.6 4.9 -2.3 3.5 0 132 3.7 5.4 3.8 5 4.2 4.9 4.4 4.6 5 4.8 5 4.2 5 3.9z"/>
<path fill="#0041ff" d="M72.7 539.7l1.7 0.9 127.2 0 5.7-3.6 5.1-3.5 5-4 5.2-4.7 4.8-4.8 4.6-5.1 4-5 4.2-6 2.3-3.6 0-125.7 -3.7-5.6 -3.6-4.9 -4-5 -4.8-5.2 -4.8-4.7 -4.6-4 -5-4 -5.7-4 -4.7-2.9 -127.2 0 -5.7 3.6 -5.1 3.6 -5 4 -5.2 4.7 -4.8 4.8 -4.6 5.1 -4 5 -4.2 5.9 -2.3 3.6 0 125.7 3.7 5.6 4.3 5.9 4.2 5 4.9 5.3 5 4.7 5.8 4.9 5.3 4z"/>
<path fill="#0046ff" d="M76 539.7l1.7 1 120.6-0.1 6-3.6 6.2-4.3 5.9-4.6 5.9-5.3 5.1-5.3 4.9-5.6 4.5-6 3.9-5.9 1.8-3 0-119 -3.7-6 -4.2-6 -4.8-5.9 -4.6-5 -5.1-4.9 -5.7-5 -6.1-4.5 -6-4 -4-2.4 -120.6 0 -6 3.7 -6.2 4.2 -5.9 4.7 -5.9 5.3 -5.1 5.3 -4.9 5.6 -4.5 5.9 -3.9 6 -1.8 3 0 119 2.4 4 2 2.9 4.3 6 4.9 5.9 4.6 5 5.9 5.6 6 4.9 6.1 4.4z"/>
<path fill="#004bff" d="M79.4 539.7l1.8 1 113.6-0.1 6.5-3.7 3.4-2.2 3.6-2.5 6.1-4.6 3.2-2.8 3.3-3 5.5-5.7 2.8-3.2 2.5-3 4.4-6 2-2.9 2.4-4 2-3.5 0-112.1 -3.8-6.4 -2.2-3.4 -2.5-3.6 -4.8-5.9 -5.3-6 -5.5-5.2 -6-5.1 -6.2-4.6 -3.9-2.5 -3-1.9 -4.5-2.5 -113.6 0 -6.5 3.7 -3.4 2.3 -3.6 2.4 -6.1 4.7 -3.2 2.8 -3.3 2.9 -5.5 5.8 -2.8 3.2 -2.5 3 -4.4 5.9 -2 3 -2.4 4 -2 3.4 0 112.1 2 3.5 2.4 4 4.6 6.6 2.6 3.3 2.5 3 2.7 2.9 2.8 3 3.1 3 3.3 3 6.2 4.9 3 2.2 4 2.7z"/>
<path fill="#0050ff" d="M82.9 539.7l2 0.9 106.2 0 4.2-2.1 4-2.3 3-1.9 3.8-2.6 3.2-2.3 3.4-2.6 3.5-3 3.2-2.9 3.1-3.1 2.9-3.1 3-3.5 2.7-3.3 2.4-3.2 2.6-3.7 1.9-3 2.3-4 2.2-4.1 0-104.9 -1.7-3.1 -2.2-3.9 -2.5-4 -2.1-3 -2.6-3.5 -2.7-3.4 -2.5-3 -2.8-3 -3-3.1 -3.1-2.8 -3.4-3 -3.6-2.9 -3-2.2 -4-2.8 -3.2-2 -3.8-2.3 -5.2-2.7 -106.2 0 -4.2 2.2 -4 2.3 -3 1.9 -3.8 2.5 -3.2 2.4 -3.4 2.6 -3.5 3 -3.2 2.9 -3.1 3 -2.9 3.1 -3 3.5 -2.7 3.3 -2.4 3.2 -2.6 3.8 -1.9 3 -2.3 3.9 -2.2 4.1 0 104.9 2.2 4.1 2.3 4 2.5 3.9 2.2 3 2.9 3.9 2.5 3.1 3.5 3.9 2.9 3 3.1 3 3.3 3 3.6 3 3.2 2.3 3.6 2.6 3.4 2.2 4 2.4z"/>
<path fill="#0056ff" d="M86.7 539.7l2.1 0.9 98.4 0 4.1-1.9 4-2.2 4-2.3 4-2.6 4-2.8 3.9-3 3.6-3 3.2-3 3.4-3.3 3.4-3.6 2.6-3.1 3.1-3.9 2.8-3.9 2.7-4 2.3-4 2.2-3.9 2-4.1 0-97.1 -2-4 -2.2-4 -2.3-3.9 -2.7-4 -2.8-4 -2.4-3 -2.7-3.2 -3.4-3.7 -2.9-3 -3.7-3.4 -3-2.6 -4.1-3.2 -4-2.9 -4-2.6 -4-2.4 -4-2.2 -5.1-2.5 -98.4 0 -4.1 2 -4 2.1 -4 2.4 -4 2.5 -4 2.9 -3.9 3 -3.6 3 -3.2 2.9 -3.4 3.3 -3.4 3.7 -2.6 3.1 -3.1 3.8 -2.8 4 -2.7 4 -2.3 3.9 -2.2 4 -2 4 0 97.1 2.5 5 2.2 4 2.5 4 2.7 4 2.9 3.9 3.2 4 3.1 3.5 3 3.1 3.4 3.3 3.6 3.2 4.1 3.3 3.3 2.4 3.7 2.6 4 2.5 4 2.3z"/>
<path fill="#005bff" d="M90.7 539.7l2.3 0.9 90 0 4.2-1.8 5.1-2.5 5-2.9 4-2.5 4-2.7 4-3.1 4.1-3.3 3.2-3 3.8-3.7 3-3.2 3.4-4 3.1-4 2.7-3.9 3.2-5 2.3-4 2.5-4.9 1.9-4.2 0-88.9 -1.9-4.1 -2.5-5 -2.3-4 -2.5-3.9 -2.7-4 -3.2-4.2 -3.1-3.7 -3.6-4 -3.3-3.3 -4-3.6 -4.1-3.4 -4-3 -4-2.8 -4-2.5 -5-2.8 -4.1-2 -5.2-2.4 -90 0 -4.2 1.9 -5.1 2.5 -5 2.8 -4 2.5 -4 2.8 -4 3 -4.1 3.3 -3.2 3 -3.8 3.7 -3 3.3 -3.4 3.9 -3.1 4 -2.7 4 -3.2 4.9 -2.3 4 -2.5 5 -1.9 4.1 0 88.9 1.9 4.2 2.5 4.9 2.9 5 2.6 4 2.7 3.9 3.5 4.5 3 3.5 4 4.3 4 3.8 4 3.5 4.1 3.2 4 2.9 4 2.6 5 3 4.1 2.1z"/>
<path fill="#0061ff" d="M95 539.7l2.6 0.9 80.8 0 1.8-0.6 5-2.2 5-2.4 4.1-2.2 5-3 5-3.4 4-3 4.1-3.4 3.9-3.6 3.9-3.9 3.2-3.6 3.6-4.4 2.9-3.9 2.7-4 3-5 2.6-4.9 2.3-5 2-4.7 0-79.8 -2-4.8 -2.3-4.9 -2.6-5 -3-4.9 -3.2-4.7 -3.2-4.3 -3.3-3.9 -3.5-3.9 -4-3.9 -3.5-3.2 -4.6-3.7 -4-3 -4-2.7 -5-3 -5.1-2.7 -5-2.3 -5.8-2.4 -80.8 0 -4.8 1.9 -5 2.3 -5.1 2.7 -5 2.9 -4.7 3.1 -4.3 3.2 -4.1 3.3 -4 3.6 -3.9 3.8 -3.6 4 -3.5 4.2 -3.5 4.7 -2.7 4 -3 4.9 -2.6 5 -2.3 4.9 -2 4.8 0 79.8 0.7 1.7 2.2 5 2.4 5 2.8 4.9 3.1 5 3.6 4.9 3.1 4 3.5 4 3.7 3.9 4 3.7 4.1 3.5 4 3.1 5 3.5 4 2.5 5 2.8 5.1 2.5z"/>
<path fill="#0067ff" d="M99.8 539.7l2.8 0.9 70.8 0 5.8-2 5-2.2 5-2.4 4.1-2.1 5-3 4-2.7 4-3 4.2-3.4 3.9-3.5 4-4 4-4.4 3-3.7 3.1-4.2 2.7-4 2.4-4 2.7-4.9 2.4-5 2.1-4.9 1.7-4.8 0-69.8 -1.7-4.8 -1.7-4 -2.3-4.9 -2.6-5 -2.8-4.6 -2.9-4.3 -2.9-4 -3.2-4 -3.6-3.9 -3.9-4 -3.5-3.2 -4.5-3.7 -4.6-3.4 -4-2.7 -4-2.4 -5.1-2.8 -5-2.4 -5-2.1 -5.8-2.1 -70.8 0 -4.8 1.7 -4 1.6 -5 2.3 -5.1 2.6 -4.6 2.7 -4.4 2.9 -5 3.6 -4 3.3 -4.1 3.6 -3.5 3.5 -3.6 3.9 -3.3 4 -3 4 -3.4 4.9 -2.4 4 -2.7 5 -2.4 4.9 -2.1 5 -1.7 4.8 0 69.8 2.1 5.7 2.2 5 2.4 5 2.8 4.9 2.6 4.2 3 4.3 3.4 4.4 3.4 4 3.7 4 3.5 3.4 4.1 3.5 4 3.2 4 2.9 5 3.2 5 2.9 5.1 2.5 5 2.2z"/>
<path fill="#006dff" d="M105.1 539.7l3.4 0.9 59 0 5.7-1.7 5-1.8 5-2.1 5-2.4 5.1-2.7 4-2.4 5-3.4 4-3 4-3.4 4.1-3.7 3-3.1 3.6-4 3.2-3.9 3-4 2.6-4 3-4.9 2.1-4 2.4-5 2-4.9 1.8-5 1.4-4.6 0-58.2 -1.4-4.7 -1.8-4.9 -2-5 -2.4-4.9 -2.7-5 -2.4-4 -3.3-4.9 -3-4 -3.4-4 -3.6-3.9 -3.1-3.1 -4.1-3.6 -4-3.3 -4-3 -4.4-2.9 -4.6-2.7 -5.1-2.7 -4-1.9 -5-2.1 -5-1.8 -5.7-1.7 -59 0 -4.7 1.4 -5 1.7 -5 2.1 -5 2.3 -5.1 2.7 -4 2.3 -5 3.3 -4 3 -4 3.3 -4.1 3.6 -4 4 -3 3.3 -3.8 4.7 -3 4 -2.6 3.9 -3 5 -2.1 4 -2.4 4.9 -2 5 -1.8 4.9 -1.4 4.7 0 58.2 1.7 5.6 1.9 5 2.1 4.9 2.4 5 2.8 4.9 2.4 4 3.5 5 3 3.9 3.4 4 3.8 4 3.1 3 4.1 3.5 4.2 3.4 4.8 3.4 5 3.1 4.1 2.3 5 2.5 4 1.8 5 2z"/>
<path fill="#0073ff" d="M111.5 539.7l4.3 0.9 44.4 0 3.9-0.8 4-1.1 4.1-1.2 4-1.4 4-1.6 4-1.8 4-2 4.1-2.2 4-2.4 4-2.7 4-2.9 4.5-3.7 3.6-3.2 3.6-3.7 3.6-4 3.2-3.9 3-4 3.2-5 2.9-4.9 2.1-4 1.8-4 2.1-4.9 1.7-5 1.5-4.9 1.4-6 0-43.7 -0.9-3.9 -1.1-4 -1.2-4 -1.4-3.9 -1.6-4 -1.8-4 -1.5-2.9 -2.2-4 -3-5 -2.7-3.9 -3-4 -3.4-4 -3.3-3.6 -3.4-3.3 -3.7-3.4 -4-3.2 -4-3 -4-2.7 -4-2.4 -5.1-2.7 -5-2.4 -5-2 -5-1.8 -5.1-1.5 -6.9-1.7 -44.4 0 -3.9 0.9 -4 1.1 -4.1 1.2 -4 1.4 -4 1.6 -4 1.7 -3 1.5 -4.1 2.1 -5 3 -4 2.7 -4 3 -4 3.2 -4.1 3.7 -3.6 3.7 -3.6 3.9 -3.2 4 -3 4 -3.2 4.9 -2.9 5 -2.1 3.9 -1.8 4 -2.1 5 -1.7 4.9 -1.5 5 -1.4 5.9 0 43.7 0.9 4 1.1 3.9 1.2 4 1.4 4 1.6 3.9 1.8 4 2 4 2.3 3.9 2.8 4.6 3.1 4.4 3 3.9 3.4 4 3.8 4 3.8 3.5 4 3.5 4 3.1 4 2.8 5 3.2 4.1 2.2 5 2.5 5 2.2 5 1.9 5.1 1.6z"/>
<path fill="#0079ff" d="M119.7 539.7l7.3 0.9 22 0 6.1-0.7 6-1.2 5-1.2 5.1-1.5 5-1.7 4-1.6 5-2.3 4-2.1 5.1-2.9 4-2.6 4-2.9 4-3.2 4-3.5 3.4-3.3 3.7-4 3-3.5 3.3-4.4 2.7-4 2.5-3.9 2.7-5 2.4-5 1.7-3.9 1.4-4 1.7-5 1.3-4.9 1.1-5 0.8-4.9 0.5-4 0-21.8 -0.6-5 -0.9-5 -1.2-4.9 -1.3-5 -1.7-4.9 -2-5 -1.7-4 -2.6-4.9 -2.8-5 -2.6-4 -2.9-3.9 -3.1-4 -3.5-4 -3.2-3.3 -4.1-3.7 -4-3.4 -4-3 -4-2.8 -4.3-2.6 -4.8-2.6 -4-2 -5-2.1 -5-1.9 -5.1-1.6 -5-1.3 -5-1.1 -5-0.8 -4.1-0.5 -22 0 -5.1 0.6 -5 0.9 -5 1.1 -5 1.4 -5.1 1.6 -5 2 -4 1.7 -5 2.5 -5.1 2.8 -4 2.6 -4 2.8 -4 3.1 -4 3.5 -3.4 3.2 -3.8 3.9 -3.4 4 -3.1 4 -2.8 3.9 -2.6 4.3 -2.7 4.7 -2 3.9 -2.2 5 -1.8 5 -1.7 4.9 -1.3 5 -1.1 4.9 -0.8 5 -0.5 4 0 21.8 0.6 4.9 1.1 6 1.2 5 1.5 4.9 1.7 5 2 4.9 2.3 5 2.1 4 2.9 4.9 2.7 4 2.9 4 3.3 3.9 3.5 4 3.3 3.3 4.1 3.6 3.6 3 4.4 3.3 4 2.7 4 2.4 5.1 2.7 5 2.3 5 2.1 5 1.7 5.1 1.5 5 1.2z"/>
<path fill="#007fff" d="M124.5 538.7l5.5 0.5 5 0.3 5 0 5-0.2 5.1-0.5 5-0.6 5-1 5-1.2 5.1-1.4 5-1.7 4-1.6 5-2.3 5-2.6 4.1-2.4 4-2.6 3.6-2.6 3.8-3 3.6-3.1 4-3.8 3.1-3.2 3.1-3.7 3.1-4 2.8-4 2.5-3.9 2.3-4 2.5-5 2.1-4.9 1.5-4 1.7-5 1.3-4.9 1.1-5 0.9-4.9 0.6-5 0.3-5 0.2-5.9 -0.2-5 -0.4-4.9 -0.7-5 -0.9-5 -1.1-4.9 -1.4-5 -1.7-4.9 -2-5 -1.8-4 -2.6-4.9 -2.3-4 -2.6-4 -2.8-3.9 -3.2-4 -3.3-3.8 -3.1-3.1 -4-3.8 -4-3.3 -4-3.1 -4-2.7 -4-2.5 -4.1-2.2 -5-2.5 -5-2.1 -4-1.5 -5.1-1.7 -5-1.3 -5-1.1 -5-0.8 -5.1-0.6 -5-0.4 -6-0.1 -5 0.2 -5.1 0.4 -5 0.6 -5 0.9 -5 1.2 -5 1.4 -5.1 1.6 -5 2 -4 1.8 -5 2.5 -4.1 2.3 -4 2.5 -4 2.8 -4 3.2 -3.9 3.3 -3.2 3 -3.7 3.9 -3.4 4 -3.1 4 -2.8 3.9 -2.5 4 -2.3 4 -2.5 4.9 -2.1 5 -1.5 4 -1.7 4.9 -1.3 5 -1.1 4.9 -0.9 5 -0.6 5 -0.3 4.9 -0.2 6 0.2 4.9 0.4 5 0.7 4.9 0.9 5 1.1 5 1.4 4.9 1.7 5 2 4.9 1.8 4 2.6 5 2.3 3.9 2.6 4 3.3 4.6 3.5 4.3 3.5 3.9 3.1 3.1 4 3.6 4 3.3 4 2.9 4 2.7 4.1 2.4 4 2.2 5 2.4 5 2.1 5 1.8 5.1 1.5 5 1.2 5 1z"/>
<path fill="#0086ff" d="M127.8 537.7l5.2 0.4 5 0.1 5-0.1 5-0.4 5.1-0.6 5-0.8 5-1.1 4-1.1 5.1-1.6 5-1.9 5-2.1 4-2 4-2.2 4.1-2.5 4-2.7 4.3-3.3 3.7-3.1 4-3.7 3.1-3.1 3.4-3.9 3.1-4 2.9-4 2.5-3.9 2.3-4 2.1-4 2.2-4.9 2-5 1.3-4 1.5-4.9 1.1-5 0.9-5 0.7-4.9 0.4-5 0.2-4.9 -0.1-5 -0.3-5 -0.6-4.9 -0.8-5 -1-4.9 -1.3-5 -1.7-5 -1.4-3.9 -2.2-5 -1.9-4 -2.8-4.9 -2.5-4 -2.7-3.9 -3.1-4 -3.2-3.8 -3-3.2 -4.1-3.9 -3.5-3 -3.8-3 -4.2-3 -4.5-2.8 -4.1-2.3 -4-2 -5-2.3 -5-1.9 -4.1-1.3 -5-1.5 -4-0.9 -5-0.9 -5-0.7 -5.1-0.5 -5-0.2 -5 0 -5 0.3 -5.1 0.5 -5 0.7 -5 1 -5 1.3 -5.1 1.5 -5 1.8 -5 2.1 -4 2 -5 2.7 -4.1 2.4 -4 2.8 -4 3 -3.8 3.2 -3.3 3 -3.9 3.9 -3.1 3.5 -3 3.7 -3 4.2 -2.9 4.5 -2.3 4 -2.1 3.9 -2.2 5 -2 5 -1.3 3.9 -1.5 5 -1.1 4.9 -0.9 5 -0.7 5 -0.4 4.9 -0.2 5 0.1 4.9 0.3 5 0.6 5 0.8 4.9 1 5 1.3 4.9 1.7 5 1.8 5 2.2 4.9 2.1 4 2.2 4 2.5 4 2.7 3.9 3.3 4.2 3.2 3.7 3.8 4 3.1 3 4 3.4 4 3.1 4 2.8 4.2 2.6 4.9 2.7 4 2 5 2.1 4 1.6 5.1 1.6 5 1.4 5 1.1 5 0.8z"/>
<path fill="#008dff" d="M128.5 535.7l4.5 0.3 5 0.1 5-0.1 5-0.4 5.1-0.6 5-0.8 5-1.2 4-1 5.1-1.7 4-1.5 4-1.7 5-2.4 4-2.2 4.1-2.5 4-2.7 4-3 4-3.4 3.2-3 2.9-3 3.6-3.9 3.1-4 2.9-4 2.5-3.9 2.3-4 2.1-4 2.2-4.9 2-5 1.3-4 1.4-4.9 0.9-4 1-5 0.6-4.9 0.4-5 0.2-4.9 -0.1-5 -0.3-5 -0.6-4.9 -0.8-5 -1.1-4.9 -1-4 -1.3-4 -1.8-4.9 -2.1-5 -1.9-4 -2.8-4.9 -2.5-4 -2.7-4 -3.1-3.9 -3.4-4 -3.1-3.1 -3-2.9 -4-3.5 -4-3.1 -4-2.8 -4.1-2.6 -4-2.2 -4-2.1 -5-2.2 -5-1.9 -4.1-1.3 -5-1.4 -4-0.9 -5-0.9 -5-0.7 -5.1-0.4 -5-0.2 -5 0.1 -5 0.3 -5.1 0.6 -5 0.8 -5 1.1 -4 1 -4.1 1.2 -5 1.8 -5 2.1 -4 1.9 -5 2.8 -4.1 2.4 -4 2.7 -4 3.1 -4 3.4 -3.2 2.9 -2.9 3 -3.6 4 -3.1 4 -2.9 3.9 -2.5 4 -2.3 4 -2.1 3.9 -2.2 5 -2 4.9 -1.3 4 -1.4 5 -0.9 3.9 -1 5 -0.6 5 -0.4 4.9 -0.2 5 0.1 4.9 0.3 5 0.6 5 0.8 4.9 1.1 5 1 4 1.3 3.9 1.8 5 2.1 4.9 1.9 4 2.8 5 2.5 3.9 2.7 4 3.1 4 3.4 3.9 3.1 3.2 4 3.8 3.5 3 3.5 2.7 4 2.8 4.1 2.5 5 2.8 5 2.4 4 1.7 4 1.5 5.1 1.7 5 1.3 5 1.1 5 0.8z"/>
<path fill="#0094ff" d="M133 534.7l4 0.1 5-0.1 5-0.3 5.1-0.5 5-0.9 5-1 5-1.4 4.1-1.3 5-1.9 4-1.7 5-2.5 4-2.2 4.1-2.5 4-2.8 3.7-2.8 3.3-2.9 3.4-3.1 3.7-3.8 3-3.5 2.8-3.6 2.9-4 2.5-3.9 2.3-4 2-4 1.8-3.9 2-5 1.3-4 1.4-4.9 1-4 0.9-5 0.7-4.9 0.4-5 0.2-4.9 0-4 -0.3-5 -0.5-4.9 -0.8-5 -1.1-4.9 -1-4 -1.5-5 -1.5-3.9 -2.1-5 -1.9-4 -2.1-3.9 -2.4-4 -2.7-4 -3-3.9 -3.3-4 -3.1-3.3 -3.7-3.7 -3.4-2.9 -3.9-3.1 -4-2.9 -4.1-2.6 -5-2.8 -4-2 -4-1.8 -5-1.9 -4.1-1.4 -5-1.4 -4-0.9 -5-0.9 -5-0.7 -5.1-0.4 -5-0.2 -4 0.1 -5 0.2 -5.1 0.6 -5 0.7 -5 1.1 -4 1 -5.1 1.5 -4 1.4 -5 2.1 -4 1.9 -4 2.1 -4.1 2.4 -4 2.6 -4 2.9 -4 3.4 -3.3 2.9 -3.7 3.8 -3.1 3.3 -3.1 3.9 -2.9 3.9 -2.6 4 -2.9 4.9 -2 4 -1.8 4 -2 4.9 -1.3 4 -1.4 5 -1 3.9 -0.9 5 -0.7 5 -0.4 4.9 -0.2 5 0.1 4.9 0.3 5 0.6 5 0.8 4.9 1.1 5 1.4 4.9 1.3 4 1.9 5 1.7 3.9 2.5 5 2.3 4 2.5 3.9 2.9 4 2.8 3.6 2.9 3.4 3.2 3.3 3.8 3.6 3.5 3 3.7 2.8 4 2.8 4.1 2.5 4 2.2 4 2 4 1.8 5 2 5.1 1.6 5 1.4 5 1 5 0.9 4.1 0.4z"/>
<path fill="#009bff" d="M136.4 532.7l4.6 0 5-0.3 5.1-0.5 5-0.8 5-1.1 4-1 5.1-1.5 4-1.5 4-1.7 5-2.4 4-2.1 4.1-2.5 3.6-2.4 3.4-2.6 4-3.3 3-2.7 3.3-3.3 3.6-4 2.4-3 2.9-4 2.6-3.9 2.4-4 2.1-4 1.8-3.9 1.6-4 1.8-5 1.2-3.9 1.2-5 0.8-4 0.7-4.9 0.5-5 0.3-4.9 -0.1-5 -0.2-5 -0.5-3.9 -0.7-5 -1-5 -1-3.9 -1.2-4 -1.8-4.9 -2-5 -1.9-4 -2.2-3.9 -2.4-4 -2.7-4 -3-3.9 -3.3-4 -2.8-3 -3.4-3.3 -4-3.5 -3-2.4 -4-2.8 -4.1-2.6 -4-2.3 -4-2.1 -4-1.8 -4-1.6 -5.1-1.8 -4-1.1 -5-1.3 -4-0.7 -5-0.8 -5.1-0.4 -5-0.3 -5 0.1 -5 0.2 -4.1 0.4 -5 0.8 -5 1 -4 1 -4 1.1 -5.1 1.8 -5 2 -4 1.9 -4 2.1 -4 2.4 -4.1 2.6 -4 3 -4 3.3 -3 2.8 -3.3 3.3 -3.6 4 -2.4 2.9 -2.9 4 -2.6 4 -2.4 3.9 -2.1 4 -1.8 4 -1.6 4 -1.8 4.9 -1.2 4 -1.2 4.9 -0.8 4 -0.7 5 -0.5 4.9 -0.3 5 0.1 5 0.2 4.9 0.5 4 0.7 4.9 1 5 1 4 1.2 3.9 1.8 5 2 5 1.9 3.9 2.2 4 2.4 4 2.7 3.9 3 4 3.3 4 2.8 2.9 3.4 3.3 4 3.5 3 2.4 4 2.9 4.1 2.6 4 2.3 4 2 4 1.9 4 1.6 5.1 1.7 4 1.2 5 1.2 5 0.9 5 0.7 5.1 0.4z"/>
<path fill="#00a3ff" d="M125.9 530.7l4.1 0.4 5 0.3 5 0 5-0.2 4.1-0.4 5-0.6 5-1 4-1 4-1.1 5.1-1.7 4-1.6 4-1.8 4-2 4-2.3 4.1-2.5 4-2.9 4-3.2 3-2.7 3-2.9 3-3.2 3.1-3.5 2.9-3.8 2.7-3.9 1.9-3 2.2-4 2-4 1.8-3.9 1.9-5 1.3-3.9 1.3-5 0.9-4 0.9-4.9 0.6-5 0.3-4 0.1-4.9 -0.1-5 -0.4-4.9 -0.7-5 -0.9-5 -0.9-3.9 -1.4-5 -1.4-4 -1.5-3.9 -1.8-4 -2-4 -2.2-3.9 -2.5-4 -2.9-4 -3.1-3.9 -2.6-3 -3.5-3.6 -3-2.8 -3-2.6 -4-3.1 -4-2.8 -4.1-2.5 -4-2.2 -4-1.9 -4-1.8 -5-1.9 -4.1-1.3 -5-1.3 -4-0.9 -5-0.8 -5.1-0.6 -4-0.3 -5-0.1 -5 0.1 -5 0.4 -5.1 0.6 -5 0.9 -4 0.9 -5 1.4 -4.1 1.4 -4 1.5 -4 1.8 -4 1.9 -4 2.2 -4.1 2.5 -4 2.8 -4 3.1 -3 2.6 -3.6 3.4 -2.9 3 -2.6 3 -3.1 3.9 -2.9 4 -2.5 4 -2.2 3.9 -2 4 -1.8 4 -1.9 4.9 -1.3 4 -1.3 5 -0.9 3.9 -0.9 5 -0.6 4.9 -0.3 4 -0.1 5 0.1 4.9 0.4 5 0.7 5 0.9 4.9 0.9 4 1.4 4.9 1.4 4 1.5 4 2.3 4.9 2 4 2.3 4 2.6 3.9 2.9 4 3.3 4 2.6 3 3 2.9 3.6 3.3 3.2 2.7 3.8 2.9 4.1 2.7 4 2.4 4 2.1 4 1.9 4 1.7 5.1 1.9 5 1.5 4 1 5 1z"/>
<path fill="#00abff" d="M127.4 528.7l4.6 0.4 5 0.2 5-0.1 4-0.2 5.1-0.6 4-0.6 4-0.8 5-1.2 5-1.6 4.1-1.5 4-1.6 4-1.9 4-2.2 3.6-2.1 3.5-2.3 3.6-2.7 3.4-2.7 3-2.7 3-3 3.3-3.5 2.8-3.3 2.7-3.7 2.6-3.9 2.4-4 2.1-4 1.9-3.9 1.7-4 1.4-4 1.5-4.9 1-4 1-5 0.6-3.9 0.5-5 0.2-3.9 0-5 -0.2-5 -0.5-4.9 -0.6-4 -0.8-4 -1.2-4.9 -1.5-5 -1.4-4 -1.7-3.9 -1.9-4 -2.1-4 -2.4-3.9 -2.3-3.6 -2.5-3.4 -3.3-3.9 -2.7-3 -3-3 -3.6-3.2 -3.4-2.7 -3.6-2.7 -4.1-2.7 -4-2.3 -4-2.1 -4-1.9 -4-1.6 -4.1-1.4 -5-1.5 -4-1 -5-0.9 -4-0.6 -5.1-0.5 -4-0.2 -5 0 -5 0.2 -5.1 0.5 -4 0.6 -4 0.7 -5 1.2 -5 1.5 -4.1 1.4 -4 1.6 -4 1.9 -4 2.1 -4 2.3 -3.6 2.4 -3.5 2.5 -4 3.2 -3 2.7 -3 2.9 -3.3 3.6 -2.8 3.3 -2.7 3.6 -2.6 4 -2.4 3.9 -2.1 4 -1.9 4 -1.7 3.9 -1.4 4 -1.5 5 -1 3.9 -1 5 -0.6 4 -0.5 4.9 -0.2 4 0 5 0.2 4.9 0.5 5 0.6 3.9 0.8 4 1.2 5 1.5 4.9 1.4 4 1.7 4 1.9 3.9 2.1 4 2.4 4 2.6 3.9 2.7 3.7 2.8 3.3 3.3 3.5 3.5 3.4 3.4 3 3.1 2.5 4 2.9 4.1 2.5 4 2.3 4 2 4 1.8 4 1.6 5.1 1.7 4 1.1 5 1.1 4 0.8z"/>
<path fill="#00b3ff" d="M129.8 527.8l4.2 0.2 5 0.1 4-0.1 5-0.4 4.1-0.5 5-0.9 4-0.9 4-1.1 5.1-1.6 4-1.6 4-1.7 4-2 4-2.3 3-1.8 4.1-2.8 3.2-2.5 3.5-3 3.2-2.9 2.9-3 2.6-3 2.7-3.3 2.6-3.6 2.6-4 2.2-4 2.1-3.9 1.7-4 1.6-4 1.7-4.9 1.1-4 0.9-4 0.9-4.9 0.5-4 0.4-5 0.1-3.9 -0.1-5 -0.2-4 -0.6-4.9 -0.6-4 -1.1-5 -1.1-3.9 -1.2-4 -1.8-4.9 -1.8-4 -1.9-4 -2.3-4 -2.4-3.9 -2.8-4 -2.4-3 -3.2-3.7 -3-3.1 -3-2.8 -3-2.6 -3.4-2.6 -3.7-2.6 -4-2.6 -4-2.2 -4-2 -4-1.8 -4-1.5 -5.1-1.7 -4-1.1 -4-0.9 -5-0.8 -4.1-0.5 -5-0.4 -4-0.2 -5 0.1 -4 0.3 -5.1 0.5 -4 0.7 -5 1 -4 1 -4 1.3 -5.1 1.8 -4 1.7 -4 1.9 -4 2.2 -4 2.5 -4.1 2.8 -3 2.3 -3.7 3.1 -3.2 3 -2.9 3 -2.6 2.9 -2.7 3.4 -2.6 3.6 -2.6 4 -2.2 3.9 -2.1 4 -1.7 4 -1.6 3.9 -1.7 5 -1.1 4 -0.9 3.9 -0.9 5 -0.5 4 -0.4 4.9 -0.1 4 0.1 4.9 0.2 4 0.6 5 0.6 3.9 1.1 5 1.1 4 1.2 3.9 1.8 5 1.8 4 1.9 3.9 2.3 4 2.4 4 2.8 3.9 2.6 3.2 3 3.5 3.1 3.3 3.2 2.9 3.7 3.2 3 2.3 4.1 2.8 4 2.4 4 2.2 4 1.9 4 1.7 5.1 1.9 4 1.2 4 1 5 1.1 4 0.6z"/>
<path fill="#0bf" d="M132.5 525.8l4.5 0.1 4 0 5-0.3 4.1-0.4 5-0.8 4-0.8 4-1.1 4-1.2 4.1-1.4 4-1.6 4-1.9 4-2.1 4-2.4 4.1-2.7 3-2.3 3.6-3 3.2-2.9 2.9-3 2.7-3 2.6-3.2 2.7-3.7 2-3 2.4-4 2-3.9 1.9-4 1.6-4 1.3-3.9 1.5-5 0.9-4 0.8-3.9 0.5-4 0.5-5 0.2-4.9 -0.1-4 -0.3-5 -0.4-3.9 -0.8-5 -0.8-4 -1-3.9 -1.3-4 -1.4-4 -1.7-3.9 -1.9-4 -2.1-4 -1.8-2.9 -2.7-4 -3-4 -2.5-3 -2.7-2.9 -3-3 -3.4-3 -3.4-2.8 -3.1-2.1 -4-2.7 -4-2.3 -4-2 -4-1.8 -4-1.6 -4.1-1.4 -5-1.4 -4-0.9 -4-0.8 -4-0.5 -5.1-0.5 -5-0.2 -4 0.1 -5 0.3 -4.1 0.4 -5 0.8 -4 0.8 -4 1 -4 1.2 -4.1 1.4 -4 1.7 -4 1.8 -4 2.2 -3 1.7 -4 2.7 -4.1 2.9 -3 2.5 -3 2.7 -3 3 -3 3.3 -2.8 3.4 -2.3 3 -2.6 4 -2.4 3.9 -2 4 -1.9 4 -1.6 3.9 -1.3 4 -1.5 5 -0.9 3.9 -0.8 4 -0.5 4 -0.5 4.9 -0.2 5 0.1 4 0.3 4.9 0.4 4 0.8 4.9 0.8 4 1 4 1.3 3.9 1.4 4 1.7 4 1.9 3.9 2.1 4 2.4 4 2.8 4 2.3 2.9 3 3.6 3 3.2 3 2.9 3 2.6 4 3.2 3.5 2.4 3.6 2.2 4 2.3 4 2 4 1.7 4.1 1.5 4 1.4 4 1.1 5 1.1 4 0.7 4.1 0.5z"/>
<path fill="#00c4ff" d="M124.6 523.8l4.4 0.5 4 0.3 4 0.1 5 0 4-0.3 4.1-0.4 5-0.8 4-0.9 4-1 4-1.2 4.1-1.4 4-1.7 4-1.9 4-2.2 4-2.4 3-2 3.5-2.6 3.5-2.9 3.1-2.9 3-3 2.7-3.1 2.4-3 2.2-2.9 2.6-4 1.8-3 2.1-3.9 1.9-4 1.6-4 1.4-3.9 1.2-4 1-4 1-4.9 0.7-5 0.3-4 0.2-3.9 0-5 -0.3-5 -0.5-3.9 -0.6-4 -0.8-4 -1-3.9 -1.2-4 -1.4-4 -1.6-3.9 -1.9-4 -2.1-4 -2.4-3.9 -2-3 -2.3-3.1 -3-3.7 -2.9-3.1 -3-3 -3.1-2.8 -3-2.5 -3.1-2.2 -4-2.7 -4-2.4 -3-1.5 -4-1.9 -4-1.7 -4.1-1.4 -4-1.3 -4-1 -5-1 -5-0.8 -4.1-0.3 -4-0.3 -5 0 -5 0.3 -4.1 0.3 -4 0.6 -4 0.8 -5 1.2 -4 1.1 -4.1 1.4 -4 1.6 -4 1.9 -4 2 -4 2.4 -3 2 -3.2 2.2 -3.7 3 -3.2 2.9 -3 2.9 -2.9 3.1 -2.4 3 -2.3 3 -2.7 4 -2.4 3.9 -2.1 4 -1.9 4 -1.6 3.9 -1.4 4 -1.2 4 -1 3.9 -1 5 -0.7 5 -0.3 3.9 -0.2 4 0 5 0.3 4.9 0.5 4 0.6 3.9 0.8 4 1.3 5 1.2 3.9 1.5 4 1.7 4 1.9 3.9 2.2 4 2.4 4 2.1 3 2.6 3.3 3 3.6 2.8 3 3.2 3 3.4 2.9 3.6 2.8 3.1 2.2 4 2.5 4 2.2 4 1.9 4 1.8 4.1 1.5 4 1.2 4 1.1 4 0.9z"/>
<path fill="#00cdff" d="M126.7 521.8l4.3 0.4 4 0.3 4 0 4-0.1 4-0.3 5.1-0.7 4-0.7 4-0.9 4-1.1 4-1.3 4.1-1.6 4-1.7 4-2 3-1.7 3.9-2.5 3.1-2.2 3.1-2.3 3-2.6 3-2.8 2.9-3 2.6-3 2.3-2.9 2.2-3.1 2.5-3.9 1.7-3 2.1-3.9 1.8-4 1.5-4 1.4-3.9 1.1-4 0.9-4 0.9-4.9 0.5-4 0.3-4 0.1-3.9 -0.1-5 -0.2-4 -0.6-4.9 -0.7-4 -0.9-4 -1-3.9 -1.3-4 -1.5-4 -1.7-3.9 -2-4 -2.3-4 -1.9-2.9 -2.6-3.7 -2.5-3.3 -2.6-3 -2.9-2.9 -3-2.9 -3-2.5 -3.1-2.4 -3.1-2.2 -3.9-2.4 -3-1.7 -4-2 -4-1.8 -4.1-1.5 -4-1.3 -4-1.1 -4-1 -5-0.8 -4.1-0.5 -4-0.3 -4-0.1 -5 0 -4 0.3 -5.1 0.6 -4 0.7 -4 0.8 -4 1.1 -4 1.2 -4.1 1.5 -4 1.7 -4 2 -4 2.2 -3 1.9 -3.8 2.5 -3.3 2.6 -3 2.5 -3 2.9 -2.9 2.9 -2.6 3 -2.3 3 -2.2 3.1 -2.5 3.8 -1.7 3 -2.1 4 -1.8 3.9 -1.5 4 -1.4 4 -1.1 3.9 -0.9 4 -0.9 5 -0.5 3.9 -0.3 4 -0.1 4 0.1 4.9 0.2 4 0.6 5 0.7 3.9 0.9 4 1 4 1.3 3.9 1.5 4 1.7 4 2 3.9 2.3 4 2.5 3.9 2.2 3.1 2.3 2.9 2.6 3 2.9 3 3.2 3 3.5 2.9 3.4 2.5 3 2.1 4 2.4 4 2.2 4 1.9 4 1.6 4.1 1.5 4 1.2 4 1 4 0.8z"/>
<path fill="#00d6ff" d="M127.8 520.8l4.2 0.4 4 0.2 5-0.1 4-0.2 4.1-0.4 4-0.6 4-0.7 4-1 4-1.2 4-1.4 4.1-1.6 3-1.3 3-1.6 4-2.2 4-2.6 3-2.2 3.1-2.3 3.4-3 3-3 2.6-2.8 2.7-3.1 2.2-3 2.1-3.1 2.4-3.9 2.2-3.9 1.4-3 1.7-4 1.4-3.9 1.3-4 1-4 0.8-4 0.7-3.9 0.4-4 0.3-4 0.1-4.9 -0.1-4 -0.4-4 -0.6-4.9 -0.8-4 -0.9-4 -1.1-3.9 -1.4-4 -1.5-4 -1.9-3.9 -1.5-3 -2.3-4 -2.6-3.9 -2.2-3 -2.4-3 -3-3.4 -3-3 -2.8-2.5 -3.2-2.6 -3.1-2.3 -3.1-2.1 -3.9-2.3 -4-2.1 -3-1.4 -4-1.7 -4.1-1.4 -4-1.3 -4-1 -4-0.8 -4-0.6 -4.1-0.5 -4-0.3 -5 0 -4 0.1 -4 0.3 -5.1 0.7 -4 0.7 -4 0.9 -4 1.1 -4 1.3 -4.1 1.6 -4 1.8 -3 1.5 -4 2.3 -4 2.5 -3 2.2 -3.1 2.4 -3.4 3 -3 2.9 -2.6 2.8 -2.7 3.2 -2.2 3 -2.1 3.1 -2.4 3.8 -2.2 4 -1.4 3 -1.7 3.9 -1.4 4 -1.3 4 -1 3.9 -0.8 4 -0.7 4 -0.4 3.9 -0.3 4 -0.1 5 0.1 3.9 0.4 4 0.6 5 0.8 3.9 0.9 4 1.1 4 1.4 3.9 1.5 4 1.9 4 1.5 2.9 2.3 4 2.6 4 2.2 3 2.4 3 3 3.3 3 3 3 2.7 3.5 2.8 3.6 2.6 3 2 4 2.3 3 1.6 4 1.8 4.1 1.6 4 1.4 4 1.2 4 1 4 0.7z"/>
<path fill="#00e0ff" d="M131.2 518.8l3.8 0.2 4 0.1 4-0.2 4-0.3 4.1-0.5 4-0.7 4-0.9 4-1.1 4-1.3 4.1-1.5 3-1.3 4-2 4-2.3 3-1.9 3-2.1 3.1-2.3 3-2.6 3-2.9 2.1-2.2 2.9-3.3 2.8-3.6 2.1-3 1.9-3 2.2-3.9 1.5-3 1.7-4 1.5-3.9 1.3-4 1-4 0.9-4 0.6-3.9 0.5-4 0.3-4 0.1-3.9 -0.1-4 -0.4-5 -0.5-3.9 -0.7-4 -0.9-4 -1.1-3.9 -1.4-4 -1.5-4 -1.3-2.9 -2.1-4 -2.3-4 -1.9-3 -2.1-2.9 -2.4-3 -2.6-3 -2.9-3 -2.2-2.1 -3.4-2.8 -3.7-2.8 -3-2 -3-1.9 -4-2.2 -3-1.4 -4-1.8 -4.1-1.4 -4-1.3 -4-1 -4-0.9 -4-0.6 -4.1-0.5 -4-0.2 -4-0.1 -4 0.1 -5 0.3 -4.1 0.5 -4 0.7 -4 0.9 -4 1.1 -4 1.3 -4.1 1.6 -3 1.3 -4 1.9 -4 2.3 -3 1.9 -3 2.1 -3.1 2.4 -3 2.5 -3 2.9 -2.1 2.2 -2.9 3.3 -2.8 3.7 -2.1 2.9 -1.9 3 -2.2 4 -1.5 3 -1.7 3.9 -1.5 4 -1.3 4 -1 3.9 -0.9 4 -0.6 4 -0.5 3.9 -0.3 4 -0.1 4 0.1 3.9 0.4 5 0.5 4 0.7 3.9 0.9 4 1.1 4 1.4 3.9 1.5 4 1.3 3 2.1 4 2.3 3.9 1.9 3 2.1 3 2.4 3 2.6 2.9 2.9 3 3.2 3 3.1 2.5 3.3 2.4 3.7 2.5 3 1.8 4 2.1 4 1.9 3.1 1.2 4 1.4 4 1.2 4 1 4 0.8 4 0.6z"/>
<path fill="#00e5ff" d="M131.9 517.8l4.1 0.2 4 0 4-0.2 4-0.3 4.1-0.6 4-0.7 4-1 4-1.1 4-1.4 4.1-1.7 4-1.8 3-1.6 3-1.8 3-1.9 3-2.2 3.5-2.7 2.6-2.3 3-2.9 2.5-2.8 2.5-2.9 2.3-3 2-3 1.8-3 2.2-3.9 1.5-3 1.7-4 1.4-3.9 1.3-4 1-4 0.8-3.9 0.6-4 0.4-4 0.3-3.9 0-4 -0.1-4 -0.4-4 -0.5-3.9 -0.7-4 -0.9-4 -1.1-3.9 -1.4-4 -1.5-4 -1.9-3.9 -1.5-3 -2.3-3.8 -2-3.2 -2.2-2.9 -2.4-3 -2.7-3 -2.7-2.7 -3-2.8 -3.1-2.4 -3-2.2 -3-2.1 -3-1.8 -4-2.1 -3-1.5 -4.1-1.6 -4-1.5 -4-1.2 -4-1 -4-0.8 -4-0.6 -4.1-0.4 -4-0.2 -4-0.1 -4 0.1 -4 0.4 -4.1 0.5 -4 0.7 -4 0.9 -4 1.1 -4 1.3 -4.1 1.6 -4 1.8 -3 1.5 -3.8 2.2 -3.2 2.1 -3 2.1 -3.1 2.4 -3 2.6 -2.7 2.7 -2.8 3 -2.5 3 -2.3 3 -2 2.9 -1.8 3 -2.2 4 -1.5 3 -1.7 3.9 -1.4 4 -1.3 4 -1 3.9 -0.8 4 -0.6 4 -0.4 3.9 -0.3 4 0 4 0.1 3.9 0.4 4 0.5 4 0.7 3.9 0.9 4 1.1 4 1.4 3.9 1.5 4 1.9 4 1.5 3 2.3 3.8 2 3.1 2.2 3 2.8 3.4 2.3 2.5 3 3 2.7 2.5 3.1 2.5 3 2.2 4 2.6 3 1.8 4 2.1 4 1.8 3.1 1.2 4 1.4 4 1.1 4 1 4 0.7 4.1 0.6z"/>
<path fill="#00ecff" d="M128.4 516.8l3.6 0.4 4 0.1 4 0 4-0.1 4-0.4 4.1-0.6 4-0.7 4-1 4-1.2 4-1.3 4.1-1.7 3-1.4 3-1.5 4-2.4 3-1.9 2.9-2.1 3.2-2.5 2.8-2.5 3-3 2.2-2.4 2.2-2.5 2.2-3 2.1-3 2.4-4 1.7-2.9 1.9-4 1.2-3 1.5-3.9 1.3-4 0.7-3 0.9-4 0.7-3.9 0.4-4 0.3-4 0.1-3.9 -0.1-4 -0.3-4 -0.4-3.9 -0.7-4 -0.9-4 -1-3.9 -1.3-4 -1.6-4 -1.3-2.9 -1.4-3 -2.2-4 -2.4-3.7 -2.3-3.2 -2.4-3 -2.3-2.7 -2.2-2.3 -3.1-2.9 -2.8-2.4 -3.4-2.6 -3.6-2.5 -3-1.8 -4-2.2 -3-1.4 -3-1.3 -4.1-1.5 -4-1.3 -4-1.1 -4-0.8 -4-0.7 -4.1-0.4 -4-0.3 -4-0.1 -4 0.1 -4 0.3 -4.1 0.4 -4 0.7 -4 0.8 -4 1.1 -4 1.3 -4.1 1.5 -3 1.3 -3 1.4 -4 2.2 -3.7 2.3 -3.3 2.3 -3 2.3 -2.8 2.4 -3.1 2.9 -2.2 2.3 -2.3 2.7 -2.7 3.4 -2.5 3.5 -1.9 3 -2.2 4 -1.4 3 -1.3 2.9 -1.6 4 -1.3 4 -1 3.9 -0.9 4 -0.7 4 -0.4 3.9 -0.3 4 -0.1 5 0.1 3.9 0.4 4 0.5 4 0.7 3.9 0.9 4 1.1 4 1.4 3.9 1.2 3 1.7 4 2.1 4 1.7 2.9 2.7 4 2.1 2.9 2.5 3.1 2.7 2.9 2.8 2.8 3 2.7 3.1 2.4 3 2.2 3 1.9 4 2.4 4 2 3 1.4 4.1 1.5 4 1.4 4 1.1 4 0.9 4 0.7z"/>
<path fill="#00f4ff" d="M126.3 514.9l3.7 0.4 4 0.3 4 0.1 4-0.1 4-0.3 4.1-0.5 3-0.5 4-0.8 4-1 4-1.3 4-1.5 3.1-1.2 4-2 3-1.6 3-1.8 3-2.1 3-2.2 3.1-2.5 3-2.8 2.3-2.5 2.7-2.9 2.3-3 2.2-3 1.9-3 1.7-2.9 1.6-3 1.8-4 1.2-3 1-2.9 1.2-4 1-4 0.8-3.9 0.6-4 0.4-4 0.2-3.9 0-4 -0.2-4 -0.4-3.9 -0.6-4 -0.8-4 -1-4 -1.2-3.9 -1.4-4 -1.2-3 -1.4-2.9 -2.1-4 -1.8-3 -2-3 -2.2-2.9 -2.5-3 -2.7-3 -2.4-2.4 -3.1-2.7 -3-2.4 -3-2.2 -3-1.9 -3-1.8 -4-2.1 -4-1.8 -3.1-1.2 -3-1 -4-1.2 -4-1 -4-0.8 -4.1-0.5 -4-0.4 -4-0.2 -4 0 -4 0.2 -4 0.4 -4.1 0.5 -4 0.8 -4 1 -4 1.2 -4 1.4 -3.1 1.2 -3 1.4 -4 2.1 -3 1.8 -3 1.9 -3 2.2 -3 2.4 -3.1 2.7 -2.4 2.4 -2.7 3 -2.5 3 -2.2 2.9 -2 3 -1.8 3 -2.1 4 -1.8 3.9 -1.2 3 -1 3 -1.2 3.9 -1 4 -0.8 4 -0.6 4 -0.4 3.9 -0.2 4 0 4 0.2 3.9 0.4 4 0.6 4 0.8 3.9 1 4 1.2 4 1.4 3.9 1.2 3 1.4 3 2.1 4 2.5 3.9 2 3 2.3 3 2.5 3 2.9 2.9 2.4 2.4 3.1 2.6 3 2.3 3 2.1 4 2.5 3 1.6 4 2 3.1 1.2 4 1.5 4 1.3 4 1 4 0.8z"/>
<path fill="#00f9ff" d="M126.2 513.9l3.8 0.4 4 0.3 4 0.1 4-0.1 4-0.3 4.1-0.5 3-0.5 4-0.8 4-1 3-0.9 4-1.5 3.1-1.2 3-1.4 4-2.1 3-1.8 3-2 3-2.2 2.9-2.4 2.2-2 3-3 2.7-2.9 2.3-2.8 2.3-3.2 2-3 1.7-2.9 1.6-3 1.8-4 1.2-3 1.1-2.9 1.2-4 1-4 0.8-3.9 0.6-4 0.4-4 0.2-3.9 0-4 -0.2-4 -0.4-3.9 -0.6-4 -0.5-3 -1-4 -1.2-3.9 -1.4-4 -1.2-3 -1.8-3.9 -1.6-3 -1.7-3 -2.3-3.4 -2.6-3.5 -2.4-2.9 -2-2.2 -3-2.9 -3.1-2.7 -2.8-2.2 -3.2-2.3 -2.6-1.7 -3.4-2 -3-1.5 -4-1.9 -3.1-1.1 -3-1.1 -4-1.2 -4-1 -4-0.8 -4.1-0.5 -4-0.4 -4-0.2 -4 0 -4 0.2 -4 0.4 -4.1 0.5 -3 0.6 -4 0.9 -4 1.2 -4 1.4 -3.1 1.1 -4 1.9 -3 1.5 -3 1.8 -3.4 2.2 -3.6 2.6 -2.9 2.3 -2.2 2 -3 2.9 -2.7 3.1 -2.3 2.8 -2.3 3.1 -1.7 2.6 -2 3.4 -1.6 3 -1.8 3.9 -1.2 3 -1.1 3 -1.2 3.9 -1 4 -0.8 4 -0.6 4 -0.4 3.9 -0.2 4 0 4 0.2 3.9 0.4 4 0.6 4 0.8 3.9 1 4 1.2 4 1.4 3.9 1.3 3 1.4 3 2.2 4 1.8 2.9 2 3 2.2 3 2.5 3 2.9 3 3 2.9 3.1 2.6 3 2.3 3 2 3 1.9 3 1.7 4 1.9 3.1 1.3 4 1.5 4 1.3 4 1 4 0.8z"/>
<path fill="#00fffd" d="M134.6 513.9l3.4 0 4-0.1 4-0.2 4.1-0.5 4-0.7 4-0.9 4-1.1 3-1 3-1.1 4.1-1.7 4-2 3-1.7 3-1.9 3-2.1 3-2.3 3-2.6 3.1-2.9 2-2.2 2.4-2.8 2.3-3 2-3 1.9-2.9 1.6-3 2-4 1.2-3 1.5-3.9 1-3 1-4 0.7-3 0.7-3.9 0.5-4 0.2-4 0.1-3.9 -0.1-4 -0.2-4 -0.4-2.9 -0.6-4 -0.9-4 -1-3.9 -1-3 -1.5-4 -1.2-3 -2-3.9 -1.6-3 -1.9-3 -2-3 -2.3-2.9 -2.5-3 -2.9-3 -2.1-2 -3-2.6 -3-2.3 -3-2.1 -3-1.9 -3-1.7 -4-2 -4.1-1.7 -3-1.1 -3-0.9 -4-1.2 -4-0.8 -4-0.7 -4.1-0.5 -4-0.3 -4-0.1 -4 0.1 -4 0.3 -3.1 0.3 -4 0.7 -4 0.8 -4 1.1 -3 0.9 -4 1.4 -3.1 1.3 -4 1.9 -3 1.6 -3 1.9 -3 2 -3 2.2 -3 2.5 -3.1 2.9 -2 2 -2.6 3 -2.4 2.9 -2.1 3 -1.9 3 -1.7 3 -2 3.9 -1.7 4 -1.2 3 -1 3 -1.1 3.9 -0.9 4 -0.7 4 -0.5 3.9 -0.2 4 -0.1 4 0.1 3.9 0.2 4 0.5 4 0.7 3.9 0.9 4 1.1 4 1 3 1.2 2.9 1.7 4 2 4 1.7 2.9 1.9 3 2.1 3 2.4 3 2.6 2.9 3 3 2.2 2 2.9 2.4 3 2.3 3 2 3 1.8 3 1.6 4 2 3.1 1.2 4 1.5 3 0.9 4 1 4 0.9 4 0.6 4.1 0.4z"/>
<path fill="#00fff4" d="M130.7 511.9l3.3 0.2 4 0.1 4-0.1 4-0.3 4.1-0.5 3-0.5 3-0.6 4-1 3-0.9 4-1.4 4.1-1.7 3-1.5 3-1.6 3-1.8 3-2 3-2.3 3-2.5 2.7-2.5 2.4-2.4 2.2-2.5 2.4-3 2.1-3 1.9-2.9 1.7-3 1.5-3 1.4-3 1.2-2.9 1.3-4 0.9-3 1-4 0.7-3.9 0.6-4 0.3-4 0.2-3.9 -0.1-4 -0.2-4 -0.5-3.9 -0.6-4 -0.6-3 -1.1-4 -0.9-2.9 -1.4-4 -1.7-4 -1.5-2.9 -1.6-3 -1.9-3 -2-3 -2.3-2.9 -2.5-3 -2.5-2.7 -2.5-2.3 -2.6-2.2 -3-2.3 -3-2.1 -3-1.9 -3-1.7 -3-1.5 -3.1-1.3 -3-1.2 -4-1.4 -3-0.8 -4-1 -4-0.7 -4.1-0.6 -4-0.3 -4-0.2 -4 0.1 -4 0.2 -4.1 0.5 -4 0.6 -3 0.6 -4 1.1 -3 0.9 -4 1.4 -4.1 1.7 -3 1.4 -3 1.6 -3 1.8 -3 2 -3 2.3 -3 2.5 -2.7 2.5 -2.4 2.4 -2.2 2.6 -2.4 2.9 -2.1 3 -1.9 3 -1.7 3 -1.5 2.9 -1.4 3 -1.2 3 -1.3 4 -0.9 2.9 -1 4 -0.7 4 -0.6 3.9 -0.3 4 -0.2 4 0.1 4 0.2 3.9 0.5 4 0.6 4 0.6 2.9 1.1 4 0.9 3 1.4 3.9 1.7 4 1.5 3 1.6 3 1.9 2.9 2 3 2.3 3 2.5 3 2.5 2.6 2.5 2.3 2.6 2.2 3 2.4 3 2.1 3 1.8 4 2.2 3 1.5 4.1 1.7 4 1.4 3 0.9 4 1 3 0.6 4 0.7z"/>
<path fill="#0fe" d="M129.6 510.9l3.4 0.3 4 0.1 4 0 3-0.2 4-0.4 4.1-0.6 4-0.8 3-0.7 4-1.2 3-1.1 3-1.2 3.1-1.3 3-1.6 3-1.7 3-1.9 3-2.1 3-2.4 2.4-2.1 2.7-2.5 2.2-2.4 2.5-3 2.2-3 2-3 1.8-2.9 1.6-3 1.5-3 1.6-3.9 1.1-3 0.9-3 1.1-4 0.8-3.9 0.4-3 0.5-4 0.2-3 0.1-3.9 -0.1-4 -0.3-4 -0.5-3.9 -0.7-4 -0.7-3 -0.8-3 -1.2-3.9 -1.6-4 -1.3-3 -1.5-2.9 -1.6-3 -1.9-3 -2.3-3.3 -2.1-2.6 -2.6-3 -2.3-2.4 -2.8-2.6 -2.4-2 -2.9-2.2 -3-2 -3-1.9 -3-1.6 -3-1.5 -3.1-1.3 -4-1.5 -4-1.2 -3-0.8 -4-0.9 -4-0.6 -4.1-0.5 -3-0.2 -4-0.1 -4 0.1 -4 0.3 -4.1 0.5 -4 0.7 -3 0.7 -3 0.8 -4 1.2 -4 1.5 -3.1 1.3 -3 1.5 -3 1.6 -3 1.9 -3.3 2.3 -2.7 2 -3 2.6 -2.5 2.3 -2.6 2.7 -2 2.3 -2.2 2.9 -2.1 3 -1.9 3 -1.6 3 -1.5 2.9 -1.3 3 -1.6 4 -1.2 3.9 -0.8 3 -0.9 4 -0.6 4 -0.5 3.9 -0.2 4 -0.1 4 0.2 3.9 0.3 4 0.6 4 0.7 3.9 0.7 3 1.2 4 1 3 1.2 2.9 1.8 4 1.5 3 1.7 3 2 2.9 2.6 3.7 2 2.4 2.6 2.9 2.5 2.3 3 2.7 3 2.4 3 2.1 3 1.9 3 1.7 3 1.6 4.1 1.7 3 1.2 4 1.3 4 1.1 3 0.6 4 0.7z"/>
<path fill="#00ffe5" d="M128.2 509.9l3.8 0.4 4 0.2 4 0 3-0.2 3-0.2 4.1-0.5 3-0.5 4-0.9 3-0.8 4-1.2 4-1.6 3.1-1.3 3-1.5 3-1.6 3-1.9 3-2.1 2.9-2.2 2.3-2 2.9-2.7 2.1-2.2 1.9-2.2 2.2-2.8 2.1-3 1.9-2.9 1.7-3 1.5-3 1.3-3 1.6-3.9 1.2-4 0.9-3 0.8-3.9 0.5-3 0.5-4 0.3-3 0.1-3.9 0-4 -0.3-4 -0.4-3.9 -0.5-3 -0.8-4 -1.1-4 -0.9-2.9 -1.1-3 -1.6-4 -1.5-2.9 -1.6-3 -1.8-3 -2.1-3 -2.2-3 -2.6-2.9 -2.1-2.3 -2.9-2.7 -2.3-2 -2.9-2.2 -3-2.1 -3-1.8 -3-1.7 -3-1.5 -3.1-1.3 -4-1.5 -4-1.3 -3-0.8 -4-0.8 -3-0.5 -4.1-0.5 -3-0.3 -4-0.1 -4 0 -4 0.3 -4.1 0.4 -3 0.5 -4 0.8 -4 1 -3 1 -3 1 -4.1 1.7 -3 1.4 -3 1.6 -3 1.8 -3 2 -3 2.3 -3 2.5 -2.3 2.1 -2.8 2.8 -2 2.3 -2.2 2.8 -2.1 3 -1.9 3 -1.7 3 -1.5 2.9 -1.3 3 -1.6 4 -1.2 3.9 -0.9 3 -0.8 4 -0.5 3 -0.5 3.9 -0.3 3 -0.1 4 0 4 0.3 3.9 0.4 4 0.5 3 0.8 3.9 1.1 4 0.9 3 1.1 3 1.6 3.9 1.5 3 2.2 4 1.9 2.9 2.1 3 2.2 2.8 2 2.3 2.8 2.9 2.3 2.1 3 2.5 3 2.2 3 2.1 3 1.8 3 1.6 3 1.4 4.1 1.6 3 1.1 3 0.9 4 1.1 4 0.8z"/>
<path fill="#00ffdc" d="M126.5 507.9l3.5 0.4 4 0.3 3 0.1 4 0 4-0.3 3-0.3 4.1-0.6 3-0.6 3-0.7 4-1.2 6-2.2 3.1-1.4 3-1.5 3-1.7 3.4-2.2 2.7-2 2.9-2.3 2.9-2.6 2-2 2.2-2.4 2.1-2.6 3.5-4.9 1.8-3 1.6-3 1.4-3 1.3-2.9 1.1-3 1.2-4 0.8-3 0.8-3.9 0.6-4 0.4-3 0.2-3.9 0.1-4 -0.2-4 -0.2-3 -0.5-3.9 -0.6-3 -0.9-4 -0.8-3 -1.3-3.9 -1.1-3 -1.4-3 -1.4-2.9 -1.7-3 -1.9-3 -3.6-5 -2.3-2.7 -2.2-2.2 -2-2 -2.9-2.5 -3-2.3 -3-2.1 -3-1.8 -3-1.7 -3-1.4 -3.1-1.3 -3-1.2 -4-1.3 -3-0.8 -4-0.9 -3-0.5 -4.1-0.5 -3-0.2 -4-0.2 -4 0.1 -4 0.2 -3 0.3 -4.1 0.6 -4 0.9 -3 0.7 -4 1.3 -3 1.1 -3 1.2 -4.1 1.9 -3 1.7 -3 1.8 -3 2.1 -3 2.3 -2.9 2.5 -2 2 -2.2 2.2 -2.3 2.7 -2.2 3 -2.1 3 -1.8 3 -1.6 2.9 -1.4 3 -1.3 3 -1.1 3 -1.2 3.9 -0.8 3 -0.8 4 -0.6 4 -0.4 2.9 -0.2 4 -0.1 4 0.2 3.9 0.3 4 0.6 4 0.6 2.9 0.7 3 1.1 4 1 3 1.6 3.9 1.3 3 1.6 3 1.7 3 2.2 3.3 2 2.7 2.4 2.9 2.7 2.8 2 2 2.4 2.1 2.6 2.1 3 2.2 3 1.9 3 1.7 3 1.5 3.1 1.4 4 1.5 3 1 4 1.1 4 0.9z"/>
<path fill="#00ffd6" d="M135.2 507.9l3.8 0.1 3-0.1 4-0.3 3.1-0.4 4-0.7 3-0.6 4-1.1 3-0.9 4-1.5 3.1-1.3 3-1.5 3-1.7 3-1.9 2.9-2 2.5-2 2.3-1.9 2.3-2.2 2.7-2.8 1.7-2 2.3-3 2.1-2.9 1.8-3 1.6-3 1.5-3 1.2-2.9 1.1-3 1-3 1.1-4 0.6-2.9 0.7-4 0.4-3 0.3-4 0.1-3.9 -0.1-3 -0.2-4 -0.3-2.9 -0.7-4 -0.6-3 -0.7-3 -1.2-3.9 -1.5-4 -1.2-3 -1.5-3 -1.6-2.9 -1.8-3 -2.1-3 -2.3-3 -1.7-1.9 -2.7-2.8 -2-1.9 -2.6-2.3 -2.5-2 -2.9-2 -3-1.9 -3-1.6 -3-1.5 -3.1-1.3 -3-1.2 -3-1 -4-1.1 -3-0.7 -4-0.7 -4.1-0.5 -4-0.3 -4-0.1 -3 0 -4 0.3 -3 0.3 -4.1 0.6 -3 0.6 -3 0.8 -4 1.1 -4 1.5 -3 1.2 -3.1 1.5 -3 1.6 -3 1.8 -3 2 -3 2.3 -2 1.7 -2.8 2.6 -2 2 -2.3 2.5 -2 2.6 -2 2.8 -1.9 3 -1.7 3 -1.5 2.9 -1.3 3 -1.2 3 -1 3 -1.1 3.9 -0.7 3 -0.8 4 -0.5 3.9 -0.3 4 -0.1 4 0.1 3.9 0.3 4 0.4 3 0.7 4 0.6 2.9 1.1 4 1 3 1.5 3.9 1.3 3 1.5 3 1.7 3 1.9 2.9 2 2.9 2 2.5 2 2.3 2.3 2.3 2.8 2.6 2 1.7 3 2.2 3 2.1 3 1.8 3 1.6 3.1 1.4 3 1.3 4 1.4 4 1.2 3 0.7 3 0.6 4.1 0.6 4 0.4z"/>
<path fill="#0fc" d="M134.3 506.9l3.7 0.1 3 0 4-0.3 3-0.3 4.1-0.6 3-0.7 3-0.7 4-1.2 4-1.4 3-1.3 3.1-1.5 3-1.6 3-1.8 2.3-1.6 2.7-2 2.3-1.9 2.2-2 2.5-2.6 2.2-2.4 2.3-3 3.4-4.9 1.7-3 1.6-3 1.3-3 1.2-2.9 1-3 1.2-4 0.7-3 0.7-3.9 0.4-3 0.4-4 0.1-3.9 0-3 -0.2-4 -0.3-3 -0.4-2.9 -0.7-4 -1-4 -0.9-2.9 -1.4-4 -1.2-3 -1.4-3 -1.6-2.9 -1.8-3 -2-3 -2.2-2.9 -1.8-2.1 -2.3-2.4 -2.6-2.5 -2.4-2.1 -2.4-1.9 -2.6-1.9 -3-1.9 -3-1.7 -3-1.5 -3.1-1.3 -3-1.2 -3-1 -4-1.1 -3-0.7 -4-0.7 -3.1-0.4 -4-0.4 -4-0.2 -3 0.1 -4 0.2 -3 0.3 -3.1 0.4 -4 0.7 -4 0.9 -3 0.9 -4 1.4 -3 1.2 -3.1 1.4 -3 1.6 -3 1.7 -3 2 -2.9 2.2 -2.1 1.7 -2.5 2.3 -2.5 2.5 -2.2 2.4 -1.9 2.4 -1.9 2.6 -1.9 3 -1.7 3 -1.6 2.9 -1.3 3 -1.2 3 -1 3 -1.2 3.9 -0.7 3 -0.7 4 -0.4 2.9 -0.4 4 -0.1 4 0 3 0.2 3.9 0.3 3 0.4 3 0.7 3.9 1 4 0.9 3 1.4 4 1.2 2.9 1.4 3 1.6 3 1.8 3 2 2.9 2.2 2.9 2 2.4 2.1 2.2 2.6 2.5 2.4 2.1 3 2.3 3 2.1 3 1.8 3 1.6 3.1 1.5 3 1.3 3 1.1 4 1.2 3 0.8 3 0.7 4 0.6 4.1 0.5z"/>
<path fill="#00ffc3" d="M130.9 504.9l3.1 0.3 4 0.1 4-0.1 3-0.3 6.1-0.7 4-0.8 3-0.8 6-1.9 3-1.2 3.1-1.4 3-1.5 3-1.8 2.7-1.8 2.3-1.6 2.9-2.3 2.1-2 4-4.1 2.1-2.4 2-2.7 1.8-2.7 1.8-3 1.5-3 1.4-3 1.2-2.9 1.1-3 1.6-6 0.8-3.9 0.5-3 0.4-4 0.2-2.9 0.1-4 -0.1-3 -0.4-4 -0.3-2.9 -0.7-4 -0.7-3 -0.8-3 -1.3-3.9 -1.2-3 -1.3-3 -1.5-3 -1.7-2.9 -3.3-5 -2.1-2.7 -2.1-2.3 -2-2 -3-2.8 -2.5-2.1 -2.5-1.8 -5-3.2 -3-1.6 -3.1-1.4 -3-1.3 -3-1 -3-1 -4-1 -4-0.8 -3.1-0.5 -4-0.4 -3-0.2 -4 0 -3 0.1 -4 0.3 -3.1 0.4 -4 0.7 -3 0.6 -3 0.8 -4 1.3 -3 1.1 -3 1.3 -3.1 1.5 -3 1.7 -5 3.3 -2.7 2.1 -2.3 2 -2.1 2 -2.8 2.9 -2.2 2.6 -1.8 2.4 -3.2 5 -1.6 2.9 -1.5 3 -1.2 3 -1.1 3 -1 2.9 -1 4 -0.8 4 -0.5 3 -0.4 3.9 -0.2 3 -0.1 4 0.1 2.9 0.4 4 0.3 3 0.7 4 0.7 2.9 0.8 3 1.3 4 1.2 3 1.3 2.9 1.5 3 1.7 3 1.9 3 2.2 2.9 2.4 2.9 2 2.2 2 1.9 3 2.7 2 1.6 3 2.1 3 1.9 3 1.7 3.1 1.5 3 1.3 4 1.5 3 0.9 4 1.1 3 0.6 3 0.5z"/>
<path fill="#00ffbc" d="M127.8 503.9l3.2 0.4 4 0.3 4 0 3-0.1 3-0.2 4.1-0.5 6-1.1 4-1 3-1 3-1.1 3-1.2 3.1-1.5 3-1.6 5-3.2 2.7-2 2.3-2 4.2-4 1.8-2.1 2.4-2.9 1.7-2.3 1.7-2.6 1.7-3 1.5-3 1.3-2.9 1.2-3 1-3 0.9-3 1.3-5.9 0.6-4 0.3-3 0.1-2.9 0.1-4 -0.2-4 -0.2-3 -0.9-5.9 -0.9-4 -0.8-3 -0.9-2.9 -1.2-3 -1.2-3 -1.5-3 -1.6-2.9 -1.9-3 -2.1-3 -1.6-2 -2.6-3 -2-1.9 -2.2-2.1 -3-2.5 -4.9-3.4 -5.1-2.9 -3.1-1.4 -3-1.3 -3-1.1 -3-0.9 -3-0.8 -4-0.9 -3-0.5 -4.1-0.4 -3-0.3 -4-0.1 -4 0.1 -3 0.3 -4.1 0.4 -3 0.5 -4 0.9 -3 0.8 -3 0.9 -3 1.1 -3 1.3 -3.1 1.4 -3 1.6 -3 1.9 -3 2.1 -2 1.5 -3 2.6 -2 2 -2.1 2.1 -2.5 3 -2.2 3 -1.3 2 -1.8 3 -1.6 2.9 -1.4 3 -1.2 3 -1.1 3 -0.9 2.9 -0.8 3 -0.8 4 -0.6 3.9 -0.3 3 -0.2 4 0 4 0.2 3.9 0.3 3 0.6 4 0.6 2.9 0.7 3 1.2 4 1.1 3 1.2 2.9 1.4 3 1.6 3 1.8 3 2 2.9 2 2.7 2.1 2.4 2.8 2.9 2.1 2 2.4 2 2.7 2 5 3.2 3 1.6 3.1 1.5 3 1.2 3 1.1 3 1 4 1 3 0.6z"/>
<path fill="#00ffb0" d="M128.7 503l6.3 0.5 4 0 3-0.1 3-0.2 4.1-0.5 6-1.1 6-1.7 3-1 3-1.3 3.1-1.4 3-1.6 5-3.1 3-2.2 2-1.7 4-3.8 2-2.2 2-2.5 1.5-1.9 2-3 2.8-5 1.4-3 1.3-2.9 1-3 1-3 0.7-3 0.9-3.9 0.4-3 0.4-4 0.2-2.9 0.1-4 -0.3-6 -0.5-3.9 -0.5-3 -0.9-4 -0.8-3 -1-2.9 -1.1-3 -1.3-3 -1.5-3 -1.7-2.9 -1.9-3 -2.1-3 -1.7-2 -2.4-2.6 -2-2 -2.5-2.3 -2.5-2 -2-1.4 -3-2 -5-2.8 -3.1-1.4 -3-1.2 -3-1.1 -3-0.9 -3-0.7 -4-0.8 -3.1-0.5 -4-0.4 -3-0.2 -4-0.1 -6 0.4 -4.1 0.4 -3 0.5 -4 0.9 -3 0.8 -3 1 -3 1.1 -3 1.3 -3.1 1.4 -3 1.7 -3 1.9 -3 2.1 -2 1.6 -2.7 2.4 -2 1.9 -2.3 2.6 -2 2.4 -1.5 2 -2 3 -2.8 4.9 -1.4 3 -1.3 3 -1 3 -1 2.9 -0.7 3 -0.9 4 -0.4 3 -0.4 3.9 -0.2 3 -0.1 4 0.2 3.9 0.2 3 0.6 4 0.5 3 0.7 2.9 1.1 4 1.1 3 1.1 3 1.4 2.9 1.5 3 1.8 3 2 3 2.3 2.9 1.6 2 2.6 2.7 2.4 2.3 2.6 2.2 2.4 1.7 2.6 1.8 3 1.8 3 1.6 3.1 1.4 3 1.3 3 1 3 0.9 4 1 3 0.6z"/>
<path fill="#00ffa7" d="M127.2 501l3.8 0.4 3 0.2 6 0.1 4-0.2 3-0.3 6.1-1 6-1.5 3-1 3-1.1 3-1.3 3.1-1.5 5-3 2.5-1.7 2.5-2 4-3.7 2-2.1 1.9-2.2 1.5-1.9 2.1-3 2.9-5 2.3-4.9 1.1-3 1-3 1.6-5.9 1-6 0.3-3 0.2-3.9 0-4 -0.2-3 -0.2-3 -0.6-3.9 -0.5-3 -1-4 -0.9-3 -1-2.9 -1.2-3 -1.4-3 -2.8-4.9 -2-3 -1.4-2 -2.5-3 -1.9-2 -2-1.9 -2.3-2 -2.5-2 -2.5-1.8 -5-2.9 -3.1-1.5 -3-1.4 -3-1.1 -3-1 -6-1.5 -6.1-1 -3-0.3 -4-0.2 -4 0 -3 0.2 -3 0.2 -4.1 0.6 -3 0.5 -4 1 -3 0.8 -3 1.1 -3 1.2 -3 1.3 -5.1 2.8 -3 1.9 -2 1.5 -3 2.4 -2 1.9 -2 2 -2 2.2 -2 2.5 -1.8 2.5 -3 4.9 -1.6 3 -1.3 3 -1.1 3 -1 2.9 -1.6 6 -0.5 3 -0.6 3.9 -0.2 3 -0.2 4 0.1 4 0.1 2.9 0.3 3 0.6 4 0.9 3.9 0.8 3 0.9 3 1.1 3 1.3 2.9 1.4 3 1.7 3 1.9 3 1.8 2.4 2 2.5 2 2.3 2 2 2 1.8 3 2.5 2 1.4 3 2 3 1.7 3.1 1.5 3 1.3 3 1.1 3 1 3 0.8 4 0.9z"/>
<path fill="#00ff9f" d="M131.4 501l3.6 0.2 3 0.1 6-0.3 4-0.4 3.1-0.5 6-1.3 3-0.9 3-1 3-1.2 3-1.4 5.1-2.8 3-2 2-1.4 2.4-2 2.2-2 3.8-4 1.6-2 2.2-2.9 1.3-2 1.8-3 2.4-4.9 1.3-3 1-3 0.9-3 0.7-3 1.1-5.9 0.5-4 0.1-2.9 0.1-4 -0.1-3 -0.3-4 -0.4-2.9 -1.2-6 -0.8-3 -0.9-2.9 -1.1-3 -1.3-3 -2.6-5 -1.8-2.9 -1.9-2.7 -3.5-4.3 -2.5-2.6 -2-1.8 -2-1.7 -3-2.3 -2.3-1.5 -2.7-1.7 -5.1-2.5 -3-1.2 -3-1.1 -3-1 -3-0.7 -4-0.9 -3.1-0.4 -4-0.5 -3-0.1 -4-0.1 -3 0.1 -4 0.3 -3.1 0.4 -6 1.2 -3 0.7 -3 1 -3 1.1 -3 1.2 -5.1 2.5 -3 1.9 -2.7 1.8 -4.3 3.5 -2 1.8 -2.5 2.6 -1.7 2 -2.3 3 -1.6 2.2 -1.6 2.7 -2.6 5 -1.3 3 -1.1 3 -0.9 2.9 -0.8 3 -0.8 4 -0.5 3 -0.5 3.9 -0.1 3 -0.1 4 0.1 2.9 0.3 4 0.4 3 1.2 5.9 0.8 3 1.3 4 1.1 3 1.4 2.9 1.5 3 1.8 3 2 3 1.5 1.9 2 2.5 2 2.1 2.4 2.4 2.3 2 2.3 1.7 3 2.1 5 2.9 3.1 1.4 3 1.3 3 1.1 3 0.9 4 1 3 0.6 3.1 0.5z"/>
<path fill="#00ff92" d="M136.9 500l3.1 0 4-0.3 6.1-0.7 3-0.5 4-1 3-0.9 3-1.1 3-1.2 3-1.4 5.1-2.8 2-1.3 3-2.3 3.9-3.4 3.8-4 1.6-1.9 2.1-3 1.3-2 1.7-3 2.4-4.9 1.2-3 1-3 0.9-3 0.7-2.9 1-6 0.3-3 0.2-3.9 0-4 -0.2-3 -0.6-5.9 -1.2-6 -0.8-3 -1-2.9 -1.1-3 -1.3-3 -2.6-5 -1.9-2.9 -1.4-2 -2-2.5 -2.1-2.5 -2-2 -2.2-1.9 -2.4-2 -2.3-1.7 -3-2 -2-1.1 -3.1-1.6 -3-1.3 -3-1.2 -3-1 -3-0.8 -3-0.7 -6.1-1 -3-0.3 -4-0.2 -4 0 -3 0.1 -6.1 0.7 -6 1.2 -3 0.7 -3 1 -3 1.1 -3 1.3 -5.1 2.6 -3 1.8 -2 1.4 -2.6 2 -2.4 2.1 -2 1.9 -2 2.2 -2 2.4 -1.7 2.3 -2 3 -1.2 1.9 -1.6 3 -1.3 3 -1.2 3 -1 2.9 -0.9 3 -0.7 3 -1 5.9 -0.3 3 -0.2 4 0 4 0.2 2.9 0.6 6 0.7 4 0.7 2.9 0.9 3 1 3 1.2 3 1.3 2.9 2.8 5 1.7 2.5 1.7 2.5 2.3 2.7 2 2.1 4 3.7 2 1.6 3 2.1 2 1.3 3 1.7 3.1 1.5 3 1.3 3 1.1 3 0.9 6 1.5 6.1 0.9 3 0.2z"/>
<path fill="#00ff81" d="M132.3 498l3.7 0.2 3 0 6-0.3 6.1-0.9 3-0.6 3-0.7 3-0.9 3-1.1 5-2.2 5.1-2.8 2.4-1.6 2.6-1.9 4-3.6 2-2 2-2.3 3-4.1 1.3-2 1.7-3 2.3-4.9 1.2-3 1-3 1.2-4.9 1.1-6 0.3-4 0.2-2.9 -0.1-6 -0.6-5.9 -1.1-6 -0.8-3 -0.9-3 -1.1-2.9 -1.2-3 -2.6-5 -1.2-1.9 -2-3 -1.7-2.1 -2-2.3 -2-2.1 -2-1.8 -2-1.7 -3-2.2 -2-1.4 -3-1.7 -5.1-2.4 -3-1.2 -3-1 -3-0.9 -3-0.7 -6.1-1 -4-0.4 -3-0.1 -6 0 -6 0.6 -6.1 1.1 -3 0.8 -3 0.9 -3 1.1 -3 1.2 -5.1 2.5 -2 1.2 -3 2.1 -2.1 1.6 -2.3 1.9 -2.1 2 -1.9 2 -1.7 2 -2.3 3 -1.3 2 -1.8 2.9 -2.4 5 -1.2 3 -1.1 2.9 -0.8 3 -0.7 3 -1.1 5.9 -0.3 4 -0.2 3 0 4 0.2 2.9 0.3 4 0.5 3 0.6 3 0.7 2.9 0.8 3 1.1 3 1.2 3 1.4 2.9 2.8 5 1.7 2.4 1.9 2.6 3.6 3.9 2.1 2 2.4 2.1 2.6 1.9 2.4 1.6 5.1 2.8 3 1.4 3 1.2 3 1 3 0.8 6 1.3 3.1 0.5z"/>
<path fill="#00ff70" d="M130.2 496l5.8 0.4 6-0.1 6-0.6 6.1-1.1 3-0.7 3-1 5-1.9 5.1-2.5 3-1.8 2-1.4 4-3.2 2.1-2 1.9-1.9 3.3-4 2.6-4 2.7-4.9 2-5 1.6-5 0.7-2.9 0.6-3 0.8-6 0.1-2.9 0.1-4 -0.3-6 -0.9-5.9 -0.6-3 -0.8-3 -0.9-3 -1.1-2.9 -2.3-5 -1.6-2.7 -1.3-2.2 -3-4 -1.7-2 -2-2.1 -2-1.9 -2-1.7 -2-1.5 -3-2 -2-1.2 -3.1-1.5 -5-2.2 -3-1 -3-0.9 -6-1.3 -6.1-0.7 -3-0.2 -4-0.1 -6 0.4 -6.1 0.8 -3 0.6 -3 0.8 -3 0.9 -3 1.1 -5 2.3 -2.8 1.5 -2.3 1.3 -4 2.9 -2 1.7 -2.1 2 -1.9 2 -1.7 2 -1.6 2 -2 2.9 -1.2 2 -1.6 3 -2.2 5 -1 2.9 -0.9 3 -0.7 3 -0.6 3 -0.8 5.9 -0.1 3 -0.1 4 0.2 3.9 0.2 3 1 6 0.7 2.9 0.8 3 1 3 1.1 3 1.4 2.9 1.6 3 1.8 3 1.4 2 3.3 4 2 2.1 2 1.8 2.4 2 2.6 1.9 2 1.3 3.1 1.8 5 2.3 3 1.2 3 1 3 0.8 3 0.7 3 0.5z"/>
<path fill="#00ff5d" d="M128.7 494l5.3 0.5 6 0.1 6-0.4 6.1-1 3-0.6 3-0.9 5-1.7 5-2.3 4.1-2.4 4-2.9 3.7-3.3 1.9-1.9 1.8-2 2.9-4 2.3-4 2.4-4.9 1.7-5 1.4-4.9 0.6-3 0.4-3 0.5-5.9 0.1-4 -0.1-3 -0.6-5.9 -0.5-3 -0.7-3 -0.8-3 -0.9-3 -2-4.9 -1.5-3 -1.1-2 -1.9-2.9 -1.5-2 -3.1-3.7 -2-2 -2-1.8 -4-3 -4.1-2.5 -5-2.4 -5-1.9 -3-0.8 -3-0.8 -3-0.6 -3.1-0.4 -6-0.5 -4-0.1 -3 0.1 -6 0.6 -3.1 0.5 -3 0.7 -3 0.7 -3 1 -5 1.9 -3 1.5 -2.1 1.1 -3 1.9 -2 1.4 -3.7 3.1 -2 2 -1.8 2 -3.1 4 -2.5 3.9 -2.4 5 -1.9 4.9 -0.9 3 -0.8 3 -0.6 3 -0.4 2.9 -0.3 3 -0.2 4 0 4 0.1 2.9 0.7 6 1.2 5.9 0.9 3 1 3 1.2 3 1.4 2.9 1.6 3 1.2 2 1.4 2 1.9 2.4 2 2.2 2 2 2 1.8 2 1.6 2 1.5 3 1.8 2.1 1.2 3 1.4 3 1.3 3 1 3 0.9 3 0.7z"/>
<path fill="#00ff4b" d="M127.6 492l5.4 0.6 6 0.2 6-0.3 5.1-0.7 3-0.6 3-0.7 5-1.6 5-2.2 4.1-2.1 4-2.7 3.3-2.8 3-2.9 1.7-2 1.5-2 2.6-4 2.1-3.9 2-5 1.5-5 0.7-2.9 0.6-3 0.7-6 0.1-5.9 -0.3-6 -0.9-5.9 -0.6-3 -0.8-3 -1.7-4.9 -2.3-5 -1.7-3 -1.3-2 -3.1-3.9 -3.1-3.3 -2-1.8 -2-1.6 -4-2.7 -2.1-1.2 -3-1.5 -5-2 -5-1.5 -3-0.7 -3-0.5 -6.1-0.7 -6-0.1 -6 0.3 -6.1 0.9 -3 0.6 -3 0.8 -5 1.7 -5 2.2 -3.1 1.7 -2 1.3 -4 3 -3.3 3.1 -1.8 2 -1.7 2 -2.7 3.9 -1.1 2 -1.6 3 -2 4.9 -1.5 5 -0.7 3 -0.6 3 -0.4 2.9 -0.3 4 -0.1 3 0 4 0.5 5.9 0.5 3 0.6 3 0.7 2.9 1 3 1 3 1.3 3 1.6 2.9 1.1 2 2.7 4 1.8 2.1 2 2.2 2 1.9 2.1 1.7 1.9 1.5 3 2 2.1 1.1 3 1.5 5 2 3 1 3 0.8z"/>
<path fill="#00ff37" d="M133.6 491l5.4 0.2 6-0.4 6.1-0.8 5-1.2 5-1.6 5-2.2 4.1-2.2 3.8-2.7 3.2-2.7 3-3.2 1.6-2 1.5-2 2.4-4 1.9-3.9 1.8-5 1.4-4.9 1-6 0.5-5.9 0-6 -0.5-6 -0.8-4.9 -0.7-3 -0.9-3 -1.8-4.9 -0.9-2 -1.6-3 -2.5-4 -1.5-1.9 -1.7-2 -3.2-3.2 -2-1.6 -2-1.5 -4.1-2.5 -3-1.6 -2-0.9 -5-1.8 -5-1.3 -6.1-1.1 -6-0.5 -6 0 -6 0.5 -5.1 0.9 -3 0.7 -3 0.8 -5 1.8 -2 0.9 -3 1.6 -4.1 2.5 -2 1.5 -2 1.6 -3.2 3.2 -1.7 2 -1.5 1.9 -2.5 4 -1.6 3 -0.9 2 -1.8 4.9 -1.4 5 -1 5.9 -0.3 3 -0.3 4 0.1 5.9 0.6 6 1.2 5.9 0.8 3 1 3 2 5 1.6 2.9 1.2 2 2.7 3.8 3 3.4 2 1.9 2 1.7 4 2.8 2.1 1.2 3 1.5 5 2.1 3 0.9 3 0.8 6.1 1.2z"/>
<path fill="#00ff23" d="M135.8 489.1l5.2-0.1 6-0.5 5.1-0.8 5-1.3 5-1.7 4-1.8 4.1-2.4 2-1.4 2-1.6 3-2.8 3-3.5 2.7-4 2.1-3.9 2-5 1.4-5 1-4.9 0.7-6 0.2-5.9 -0.4-6 -0.8-5.9 -1.2-5 -1.7-4.9 -1.7-4 -2.2-4 -1.4-2 -1.7-2.2 -1.5-1.7 -2-2 -3.5-3 -4.1-2.6 -4-2.1 -5-2 -5-1.4 -5-1 -6.1-0.7 -6-0.1 -6 0.3 -6.1 0.9 -5 1.1 -5 1.7 -4 1.7 -4 2.2 -2.1 1.3 -2.2 1.7 -1.8 1.5 -2 1.9 -3 3.5 -2.7 4 -2.1 4 -2 4.9 -1.4 5 -1 5 -0.7 5.9 -0.2 6 0.4 5.9 0.8 6 1.2 4.9 1.7 5 1.2 3 1 2 2.4 3.9 1.4 2 1.6 2 1.9 2 1.5 1.5 2 1.7 2 1.5 4.1 2.4 2 1.1 3 1.3 5 1.7 5 1.3 6.1 1z"/>
<path fill="#00ff18" d="M127.6 487.1l5.4 0.6 5 0.1 5-0.1 5-0.6 5.1-0.9 5-1.3 4-1.5 4-1.9 3-1.7 3.7-2.6 2.4-2.1 3-3.2 2.7-3.7 1.7-2.9 1.9-4 1.5-4 1.4-4.9 0.6-3 0.4-3 0.5-5 0.1-5.9 -0.5-6 -0.9-5.9 -1.3-5 -1.8-4.9 -1.9-4 -2.4-4 -1.5-2 -1.5-1.8 -3-3 -3-2.4 -4.1-2.5 -4-2 -5-1.9 -5-1.4 -3-0.6 -3.1-0.4 -5-0.5 -6-0.1 -6 0.5 -6.1 0.9 -5 1.3 -5 1.7 -4 1.9 -4.1 2.4 -2 1.5 -1.8 1.5 -3 3 -2.5 2.9 -1.4 2 -1.2 2 -2 4 -1.9 4.9 -0.9 3 -0.7 3 -0.9 5.9 -0.5 6 0 4 0.2 2.9 0.7 6 0.5 3 0.7 2.9 0.9 3 1.1 3 1.3 3 1 2 2.4 3.9 1.5 2 1.7 2 1.8 1.9 2 1.8 2 1.5 2.1 1.4 2 1.2 3 1.5 5 2 5 1.5z"/>
<path fill="#00ff08" d="M133.6 487.1l5.4 0.1 5-0.2 5.1-0.6 5-1 5-1.5 4-1.5 4-2 4.1-2.6 3.1-2.6 2.9-3 2.3-3 2.5-3.9 1.9-4 1.5-4 1.1-4 1-4.9 0.7-6 0.2-5.9 -0.4-6 -0.7-4.9 -1-5 -1.6-5 -1.2-2.9 -1-2 -2.3-4 -1.4-2 -1.6-1.9 -2.9-3 -3.1-2.6 -4.1-2.6 -4-2 -4-1.6 -5-1.4 -5-1 -6.1-0.7 -6-0.2 -6 0.4 -5.1 0.7 -5 1 -5 1.6 -3 1.2 -2 0.9 -4 2.3 -2.1 1.4 -2 1.6 -3 2.8 -2.6 3.1 -2.6 4 -2.1 4 -1.5 3.9 -1.5 5 -1 5 -0.7 5.9 -0.2 6 0.4 5.9 0.3 3 0.5 3 0.7 2.9 0.8 3 1.8 5 1.4 3 1.1 1.9 2.6 4 1.6 2 1.9 2 3.1 2.8 2 1.5 2.1 1.3 4 2.1 2 0.9 3 1.1 5 1.5 3 0.6 3.1 0.5z"/>
<path fill="#0aff00" d="M132.6 485.1l4.4 0.2 5-0.1 5-0.5 5.1-0.8 5-1.2 4-1.4 4-1.8 3-1.7 3.1-2.2 3-2.6 2.5-2.8 2.1-3 1.7-2.9 1.9-4 1.4-4 1-3.9 0.9-5 0.6-6 0.1-5.9 -0.3-5 -0.4-2.9 -0.5-3 -1.1-5 -1.7-4.9 -1.9-4 -1.1-2 -1.3-2 -2.3-3 -2.6-2.7 -3-2.4 -2.1-1.4 -2-1.2 -4-1.9 -4-1.5 -5-1.4 -5.1-0.9 -6-0.5 -6-0.1 -5 0.3 -3 0.3 -3.1 0.5 -5 1.2 -5 1.7 -4 1.8 -2 1.1 -2 1.3 -3.1 2.2 -2.7 2.7 -2.5 2.9 -1.4 2 -1.2 2 -2 4 -1.5 3.9 -1.3 5 -0.6 3 -0.5 2.9 -0.5 6 0 6 0.5 5.9 0.5 3 0.6 3 1.3 4.9 0.7 2 1.3 3 1.5 3 1.2 1.9 1.4 2 1.6 2 2.9 3 1.7 1.4 2.1 1.5 2 1.3 2 1.1 2 0.9 3 1.3 5 1.5 3 0.7 3 0.6z"/>
<path fill="#17ff00" d="M130.6 484.1l4.4 0.3 5 0 5-0.3 5.1-0.6 4-0.8 4-1.2 4-1.4 4-2 3-1.9 2.7-2 2.4-2.3 2.3-2.7 2.1-3 2.1-3.9 1.2-3 1.3-4 1.2-4.9 0.5-3 0.4-3 0.3-4.9 -0.1-6 -0.6-5.9 -0.9-5 -1.4-5 -1.5-3.9 -2-4 -1.2-2 -1.4-2 -2.6-2.9 -2.7-2.6 -3.1-2.1 -4-2.3 -4-1.7 -4-1.3 -5-1.1 -6.1-0.9 -5-0.3 -6 0.1 -6 0.6 -5.1 0.9 -5 1.3 -4 1.5 -4 2 -2 1.2 -2.1 1.3 -3 2.6 -2.5 2.7 -2.2 3 -2.3 4 -1.7 3.9 -1.3 4 -0.8 3 -0.6 3 -0.8 5.9 -0.2 6 0.2 5.9 0.8 6 0.6 3 0.8 2.9 1.7 5 0.8 2 1.6 3 1.2 1.9 1.4 2 2.6 3 1.7 1.7 2 1.6 2.1 1.4 2 1.2 4 2 2 0.7 3 1 3 0.9 3 0.6z"/>
<path fill="#26ff00" d="M132.4 483.1l4.6 0.2 5-0.1 5-0.4 5.1-0.8 4-1 4-1.3 4-1.7 3-1.7 3.1-2 2.3-2.1 1.9-2 2.3-3 1.8-2.9 1.5-3 1.5-4 1.1-4 1-4.9 0.7-6 0.1-5.9 -0.2-5 -0.6-4.9 -1-5 -1.5-5 -1.6-3.9 -1-2 -1.1-2 -2.1-3 -2.1-2.3 -3-2.7 -3.1-2.1 -4-2.1 -4-1.6 -5-1.5 -5-0.9 -6.1-0.7 -6-0.2 -5 0.3 -5.1 0.6 -5 0.9 -5 1.5 -4 1.6 -4 2.1 -3.1 2.1 -3 2.7 -2.1 2.3 -2.1 3 -1.1 2 -1 2 -1.6 3.9 -1.5 5 -0.7 3 -0.5 3 -0.5 5.9 -0.1 3 0 4 0.5 5.9 0.5 3 0.6 3 1.3 4.9 1.1 3 0.9 2 1 2 1.1 1.9 1.4 2 1.6 2 1.2 1.4 1.8 1.6 3.3 2.5 2 1.2 2 1.1 2 0.9 3 1.2 5 1.4 5 1z"/>
<path fill="#35ff00" d="M132.8 482.1l4.2 0.2 5-0.1 5-0.4 4.1-0.7 4-0.8 4-1.2 4-1.6 3-1.6 3-2 2.2-1.7 2-2 2.3-3 1.9-2.9 1.5-3 1.1-3 1.3-4 1-4.9 0.7-5 0.3-5.9 -0.1-5 -0.6-5.9 -0.9-5 -1.3-5 -1.5-3.9 -2.1-4 -2-3 -2.6-3 -2.2-1.9 -3-2.2 -2-1.1 -2-1 -4-1.6 -4-1.2 -5-1.1 -5.1-0.6 -6-0.3 -5 0.1 -6 0.5 -5.1 0.9 -5 1.3 -4 1.5 -4 2 -3 2 -3.1 2.6 -2 2.2 -2.1 2.9 -1.2 2 -1 2 -1.6 3.9 -1.3 4 -0.6 3 -0.6 3 -0.6 5.9 -0.2 6 0.3 5.9 0.4 3 0.5 3 0.6 2.9 0.8 3 1 3 0.8 2 2.1 4 1.3 1.9 1.4 2 1 1.1 1.9 1.9 3.2 2.4 2 1.3 2 1.1 2 0.9 3 1.2 5 1.4 5 1z"/>
<path fill="#4f0" d="M132.8 481.1l4.2 0.2 4-0.1 5-0.3 4.1-0.5 4-0.8 4-1.1 4-1.5 3-1.5 3-1.9 2.1-1.5 2-1.9 2.4-3 1.3-1.9 1.6-3 1.3-3 1.3-4 1.2-4.9 0.7-5 0.3-4.9 0-6 -0.4-6 -0.8-4.9 -1.3-5 -1.4-3.9 -1.9-4 -1.9-3 -2.4-2.9 -2-1.9 -3.1-2.3 -3-1.7 -4-1.7 -4-1.3 -5-1.1 -5.1-0.7 -5-0.4 -6 0 -6 0.5 -5.1 0.8 -5 1.2 -4 1.4 -4 1.8 -3 1.9 -3 2.4 -1.9 2 -2.3 3 -1.7 3 -1.8 3.9 -1.3 4 -0.8 3 -0.5 3 -0.8 5.9 -0.2 6 0.1 3 0.2 3.9 0.4 3 0.4 3 0.7 2.9 0.8 3 1 3 0.8 2 1 2 1.1 2 1.3 1.9 1.4 1.9 1.1 1.1 1.9 1.9 3.1 2.2 2 1.2 2 1 4 1.6 5 1.5 5 0.9z"/>
<path fill="#54ff00" d="M133.8 480.1l4.2 0.1 5-0.1 4-0.4 4.1-0.6 3-0.6 4-1.1 4-1.4 3-1.5 3-2 1.7-1.3 2.1-2 1.6-2 1.4-1.9 1.6-3 1.3-3 1.3-4 1.1-4.9 0.7-5 0.4-5.9 0-5 -0.4-5 -0.7-4.9 -1.1-5 -1.3-4 -1.8-3.9 -1.8-3 -2-2.6 -2.4-2.4 -2.7-2 -3-1.8 -4-1.7 -4-1.3 -5-1.1 -5.1-0.7 -6-0.4 -5 0.1 -5 0.3 -5.1 0.7 -5 1.1 -4 1.3 -4 1.7 -3 1.8 -2.7 2 -2.4 2.4 -2 2.6 -1.8 3 -1.8 3.9 -1.3 4 -0.7 3 -0.6 3 -0.7 5.9 -0.2 6 0 3 0.3 3.9 0.8 6 0.6 2.9 0.8 3 1 3 0.8 2 1 2 1.1 2 2.2 2.9 1.5 1.8 1.4 1.2 2.7 2 2 1.3 2 1 4 1.6 5 1.4 6.1 1.1z"/>
<path fill="#68ff00" d="M134.5 479.1l4.5 0.1 5-0.2 4-0.4 4.1-0.6 4-0.9 3-1 3-1.1 3-1.5 2.1-1.3 2.5-2 2-2 1.5-2 1.3-1.9 1.5-3 1.2-3 0.9-3 1.1-4.9 0.7-5 0.4-5.9 -0.1-5 -0.3-5 -0.7-4.9 -1.1-5 -1.3-4 -1.3-2.9 -1.6-3 -2.2-3 -2.6-2.5 -3-2.1 -3-1.7 -3-1.2 -4-1.3 -5-1.1 -5.1-0.7 -6-0.3 -5 0 -5 0.3 -5.1 0.7 -5 1.1 -4 1.3 -3 1.2 -3 1.7 -3 2.1 -2.6 2.5 -2.2 3 -1.6 3 -1.3 2.9 -1.3 4 -0.7 3 -0.6 3 -0.7 5.9 -0.2 6 0.1 3.9 0.2 3 0.8 6 0.6 2.9 0.8 3 1 3 0.8 2 1 2 1.1 2 2.2 2.9 2.6 2.5 3 2.2 2 1.1 2 1 4 1.5 5 1.3 6.1 0.9z"/>
<path fill="#79ff00" d="M127.9 477.2l4.1 0.3 4 0.2 4 0 4-0.2 4-0.3 4.1-0.6 4-0.9 3-0.9 3-1.2 2-0.9 3-1.9 2-1.6 1.9-2 1.5-1.9 1.2-2 0.9-2 1.5-4 1.1-4 0.9-4.9 0.5-5 0.2-4.9 -0.1-6 -0.5-4.9 -0.8-5 -1-4 -1.3-3.9 -1.4-3 -1.9-3 -1.7-2 -1-1 -2-1.6 -2-1.3 -3-1.5 -4-1.5 -4-1 -5-0.9 -5.1-0.5 -5-0.2 -6 0.1 -5 0.5 -5.1 0.8 -4 0.9 -4 1.4 -3 1.4 -3 1.8 -2 1.7 -1.1 1 -1.6 1.9 -1.3 2 -1.5 3 -0.8 1.9 -1 3 -1.2 5 -0.8 5.9 -0.3 3 -0.1 4 0.1 4 0.1 2.9 0.7 6 0.5 3 0.7 2.9 0.9 3 0.7 2 0.9 2 1.1 2 1.9 2.7 2.1 2.2 1.2 1 1.8 1.3 2 1.2 2 0.9 4 1.5 5 1.3z"/>
<path fill="#89ff00" d="M125.7 476.2l4.3 0.5 4 0.3 4 0.1 4-0.1 4-0.3 4.1-0.5 4-0.7 3-0.7 3-1 3-1.3 2-1 2-1.4 2-1.7 1.2-1.2 1.5-1.9 1.2-2 1.4-3 1.4-4 1.1-4.9 0.7-5 0.4-5 0.1-5.9 -0.3-5 -0.6-4.9 -0.7-4 -1-4 -1.5-3.9 -1.6-3 -1.3-2 -2-2.2 -2-1.7 -3-1.9 -3-1.4 -4-1.3 -5-1.1 -5.1-0.7 -5-0.4 -6-0.1 -5 0.3 -5.1 0.5 -4 0.8 -4 1 -4 1.4 -3 1.6 -2 1.3 -2.2 1.9 -1.8 2 -1.9 3 -1 2 -0.8 1.9 -1 3 -0.7 3 -1 6 -0.3 2.9 -0.2 4 0 6.9 0.3 4 0.3 3 0.5 3 0.6 2.9 0.8 3 0.7 2 0.8 2 1 2 1.9 2.9 2 2.2 1 0.9 2 1.6 3 1.6 2 0.9 2 0.7 4 1.2z"/>
<path fill="#9eff00" d="M126.7 475.2l4.3 0.4 4 0.2 4 0.1 4-0.2 4-0.3 4.1-0.5 3-0.5 3-0.7 3-0.9 2-0.8 2-1 2-1.2 2-1.6 1-1 1.6-1.9 1.3-2 1.4-3 1.3-4 0.9-3.9 0.7-5 0.5-5 0.1-5.9 -0.2-5 -0.5-4.9 -0.6-4 -0.9-4 -1.3-3.9 -1.4-3 -1.3-2 -0.7-1 -1.9-1.9 -2-1.6 -2-1.2 -3-1.4 -4-1.3 -4-0.9 -5.1-0.8 -5-0.4 -6-0.1 -5 0.2 -5.1 0.4 -4 0.7 -4 0.9 -4 1.3 -3 1.4 -2 1.2 -2 1.6 -1.9 1.9 -0.7 1 -1.3 2 -0.9 2 -0.8 1.9 -1 3 -0.7 3 -0.9 6 -0.3 2.9 -0.3 4 0.1 6.9 0.3 4 0.3 3 0.4 3 0.6 2.9 0.5 2 1 3 1.2 3 1.8 3 1.6 1.9 1 1 2 1.6 3 1.7 2 0.9 2 0.7 2 0.6 3 0.7z"/>
<path fill="#abff00" d="M127.5 474.2l3.5 0.3 4 0.2 4 0.1 4-0.2 4-0.3 4.1-0.4 3-0.6 3-0.6 3-0.9 2-0.8 2-1 2-1.2 1.8-1.6 1-1 0.8-0.9 1.3-2 1.4-3 1.2-4 0.9-3.9 0.7-5 0.4-5 0.2-5.9 -0.2-5 -0.5-4.9 -0.6-4 -0.9-4 -0.9-3 -1.2-2.9 -1.8-3 -1.6-1.8 -2-1.7 -2-1.3 -3-1.4 -4-1.2 -4-0.9 -5.1-0.7 -5-0.4 -6-0.1 -5 0.2 -5.1 0.4 -4 0.6 -4 0.9 -3 0.9 -3 1.2 -3 1.8 -1.8 1.5 -1.8 2 -1.3 2 -0.9 2 -0.8 1.9 -0.9 3 -0.5 2 -0.6 3 -0.4 3 -0.6 6.9 0 7 0.5 6.9 0.9 5.9 0.7 3 0.9 3 1.2 3 1.8 3 1.8 1.9 1.1 1 1.7 1.2 3 1.6 2 0.8 2 0.6 5 1.1z"/>
<path fill="#b9ff00" d="M131.4 474.2l3.6 0.2 4 0 4-0.1 4-0.3 4.1-0.5 3-0.5 5-1.2 3-1.1 2-1 2-1.3 1-0.8 1.5-1.4 0.8-0.9 1.3-2 0.9-2 1.2-3 1-4 0.9-4.9 0.4-5 0.3-4.9 -0.1-6 -0.3-5 -0.6-4.9 -0.8-4 -0.8-3 -1.2-2.9 -1.5-3 -1.5-2 -1.5-1.4 -2-1.5 -3-1.5 -3-1.1 -4-1.1 -5-0.8 -5.1-0.5 -5-0.2 -6 0 -5 0.4 -5.1 0.6 -4 0.8 -3 0.8 -3 1.1 -3 1.5 -2 1.5 -1.5 1.4 -1.5 2 -1.5 3 -0.8 1.9 -0.9 3 -1.1 5 -0.4 3 -0.3 3.9 -0.3 7 0.3 6.9 0.3 4 0.4 3 1.1 4.9 0.9 3 0.8 2 1.5 3 0.7 1 1.3 1.4 2 1.7 2 1.3 1 0.5 2 0.9 2 0.7 4 1 5 0.9z"/>
<path fill="#ceff00" d="M133.2 473.2l7.8 0.1 7-0.5 3.1-0.3 4-0.7 3-0.7 2-0.6 2-0.7 2-1 2.3-1.6 1.1-1 1.6-1.9 0.6-1 1-2 1.1-3 1-4 0.8-4.9 0.5-5 0.2-5.9 -0.1-5 -0.3-5 -0.6-4.9 -0.7-4 -0.8-3 -1.1-2.9 -1-2 -1.3-2 -0.9-1 -1.1-1 -2.3-1.6 -2-0.9 -3-1.1 -4-1 -5-0.8 -5.1-0.4 -6-0.2 -5 0 -5 0.3 -5.1 0.6 -4 0.7 -3 0.8 -3 1.1 -2 0.9 -2 1.4 -1 0.8 -1 1.1 -1.6 2.3 -1 2 -0.8 1.9 -0.8 3 -0.7 3 -0.5 3 -0.3 3 -0.3 3.9 -0.2 7 0.3 6.9 0.4 4 0.5 3 0.5 2.9 0.8 3 0.7 2 0.8 2 1.2 2 0.7 1 1.3 1.3 2 1.6 1 0.6 2 1 3 1 5 1.2 5 0.7z"/>
<path fill="#e5ff00" d="M134.9 472.2l7.1 0 7.1-0.5 6-0.8 2-0.4 3-0.8 3-1.2 2-1.2 1-0.7 1.4-1.3 0.7-1 0.7-1 1-2 1-3 0.9-4 0.8-4.9 0.4-5 0.2-5.9 -0.1-5 -0.2-5 -0.6-4.9 -0.7-4 -0.7-3 -1-2.9 -1-2 -1.4-2 -1.4-1.3 -2-1.4 -2-1 -3-1 -4-0.9 -5-0.8 -5.1-0.4 -6-0.2 -5 0.1 -5 0.3 -5.1 0.5 -4 0.7 -3 0.7 -3 1 -2 1 -2 1.4 -1.4 1.3 -1.4 2 -1 2 -0.7 1.9 -0.8 3 -0.6 3 -0.5 3 -0.6 6.9 -0.1 7 0.3 6.9 0.3 4 0.4 3 0.6 2.9 0.7 3 0.7 2 0.8 2 1.3 2.1 1 1.2 1 1 2 1.4 3 1.3 4 1.2 5 0.9 5.1 0.5z"/>
<path fill="#fbff00" d="M123.7 470.2l6.3 0.6 8 0.2 8-0.2 7.1-0.7 5-0.9 2-0.5 2-0.7 2-1 1-0.6 1.4-1.1 0.8-1 1.2-2 0.8-2 0.8-3 0.8-4 0.6-4.9 0.4-5 0.1-4.9 -0.1-6 -0.3-4.9 -0.5-5 -0.7-4 -0.8-3 -0.7-1.9 -0.9-2 -0.7-1 -0.8-1 -1.4-1.1 -2-1.2 -2-0.8 -3-0.9 -4-0.7 -5-0.6 -5.1-0.4 -5-0.1 -6 0.1 -5 0.3 -5.1 0.5 -4 0.7 -3 0.7 -2 0.7 -2 1 -1 0.7 -1 0.8 -1.2 1.3 -0.7 1 -0.9 2 -0.7 1.9 -0.8 3 -0.5 3 -0.4 3 -0.5 5.9 -0.2 8 0.3 7.9 0.8 6.9 1 5 1 3 0.9 2 0.7 1 0.8 1 1.4 1.1 2 1.2 3 1.1 4 0.9z"/>
<path fill="#fff000" d="M121.8 469.2l3.1 0.4 4.1 0.3 8 0.3 8-0.2 7.1-0.5 5-0.8 4-0.9 2-0.8 1-0.6 1-0.6 1.6-1.5 1.2-2 0.8-2 0.8-3 0.7-4 0.4-3.9 0.4-5 0.1-4.9 0-6 -0.2-5 -0.4-3.9 -0.6-5 -0.7-3 -0.9-2.9 -1-2 -0.6-1 -1.6-1.5 -2-1.2 -2-0.8 -3-0.8 -4-0.7 -4-0.4 -5.1-0.4 -5-0.1 -6 0 -5 0.2 -4.1 0.3 -5 0.7 -3 0.6 -3 1 -2 0.9 -1 0.7 -1.6 1.5 -0.6 1 -1 2 -0.7 1.9 -0.5 2 -0.5 3 -0.4 3 -0.5 5.9 -0.3 7 0.2 7.9 0.6 7 0.4 2.9 0.5 3 0.8 3 0.8 2 1.2 2 1.6 1.5 2 1.2 2 0.8 3 0.7z"/>
<path fill="#ffdc00" d="M130.2 469.2l7.8 0.2 7-0.1 7.1-0.5 5-0.7 3-0.7 2-0.6 1-0.4 1-0.5 1-0.7 1-0.9 0.7-1 0.9-2 0.9-3 0.7-4 0.4-2.9 0.4-5 0.2-5 0-5.9 -0.1-5 -0.2-3.9 -0.4-4 -0.6-4 -0.6-3 -0.7-1.9 -0.9-2 -0.7-1 -1-0.9 -1-0.7 -2-1 -3-0.8 -4-0.8 -3-0.3 -5.1-0.4 -5-0.2 -6-0.1 -5 0.2 -8.1 0.6 -4 0.6 -3 0.6 -2 0.6 -2 1 -1 0.7 -1 0.9 -0.7 1 -0.9 2 -0.7 1.9 -0.4 2 -0.5 3 -0.7 6 -0.3 7.9 0 7.9 0.5 8 0.5 3.9 0.5 3 0.4 2 0.7 2 0.9 2 0.7 1 1 0.9 1 0.7 2 0.9 3 0.9 4 0.7 4 0.5z"/>
<path fill="#ffc700" d="M127.7 468.2l7.3 0.3 7 0 7.1-0.3 6-0.6 5-0.8 3-1 1-0.5 1-0.8 1.1-1.2 0.5-1 1-3 0.6-3 0.5-3.9 0.4-5 0.2-6 0-5.9 -0.1-5 -0.3-4.9 -0.3-4 -0.4-3 -0.6-3 -1-2.9 -0.5-1 -0.8-1 -1.3-1 -1-0.6 -3-0.9 -3-0.6 -4-0.5 -5.1-0.4 -6-0.2 -6-0.1 -5 0.2 -5.1 0.2 -4 0.4 -3 0.4 -3 0.6 -3 0.9 -1 0.6 -1 0.7 -1.1 1.3 -0.5 1 -0.7 2 -0.5 1.9 -0.5 3 -0.6 6 -0.4 6.9 0 8.9 0.4 8 0.6 5.9 0.5 3 0.5 2 0.7 2 0.5 1 0.8 1 1.3 1 1 0.5 3 1 3 0.6 4 0.5z"/>
<path fill="#ffaf00" d="M124.6 467.2l7.4 0.4 8 0.1 7-0.2 7.1-0.5 4-0.5 4-0.8 2-0.9 0.7-0.5 0.9-1 0.9-2 0.5-2 0.5-3 0.4-3.9 0.4-5 0.1-5 0-10.9 -0.2-4.9 -0.4-5 -0.3-3 -0.5-3 -0.5-1.9 -0.9-2 -0.6-0.7 -1-0.8 -2-0.9 -2-0.5 -3-0.5 -4-0.5 -5.1-0.3 -5-0.2 -11 0 -5.1 0.3 -5 0.3 -3 0.4 -3 0.5 -2 0.5 -2 0.9 -1 0.8 -0.6 0.7 -0.9 2 -0.2 1 -0.8 3.9 -0.6 7 -0.3 6.9 -0.1 8 0.3 7.9 0.6 6.9 0.9 5 0.2 1 0.9 2 0.9 1 0.7 0.5 1 0.5 2 0.7 3 0.5 3 0.4z"/>
<path fill="#ff9500" d="M122.7 466.2l7.3 0.4 8 0.1 8-0.1 7.1-0.3 5-0.5 4-0.7 1-0.4 1-0.5 1-0.9 0.5-1 0.6-2 0.5-3 0.3-3 0.3-4.9 0.2-5 0.1-11.9 -0.4-8.9 -0.3-4 -0.3-3 -0.4-1.9 -0.6-2 -0.5-1 -1-1 -1-0.5 -2-0.6 -3-0.5 -3-0.3 -5-0.3 -5.1-0.2 -12 0 -9.1 0.3 -7 0.7 -2 0.3 -2 0.6 -1 0.5 -1 1 -0.5 1 -0.4 1 -0.7 3.9 -0.6 7 -0.3 6.9 0 9 0.2 7.9 0.5 6.9 0.3 3 0.4 2 0.6 2 0.5 1 1 0.9 1 0.5 2 0.6 2 0.4z"/>
<path fill="#ff7b00" d="M119.4 465.3l6.5 0.3 8.1 0.2 9 0 8.1-0.2 6-0.4 4-0.4 1.9-0.5 1.1-0.2 0.8-0.8 0.9-4 0.6-6.9 0.3-10 0-10.9 -0.3-8.9 -0.6-7 -0.9-3.9 -0.8-0.8 -4-0.9 -7-0.6 -10.1-0.3 -11 0 -9.1 0.3 -7 0.6 -4 0.9 -0.8 0.8 -0.2 1.1 -0.5 1.9 -0.5 3.9 -0.4 6 -0.2 7.9 0 8.9 0.2 8 0.3 5.9 0.6 5 0.5 1.9 0.2 1.1 0.8 0.8 1.1 0.2 1.9 0.5z"/>
<path fill="#ff6000" d="M115.1 464.3l4.8 0.4 8.1 0.3 10 0.1 10-0.1 8.1-0.3 6-0.5 2-0.3 0.7-0.6 0.6-6 0.3-5.9 0.2-9 0-10.9 -0.2-8.9 -0.4-6 -0.5-4.9 -0.7-0.7 -6-0.6 -6-0.3 -9.1-0.2 -11 0 -9.1 0.2 -6 0.4 -5 0.5 -0.7 0.7 -0.7 7.9 -0.4 10.9 0 14.9 0.2 7 0.3 4.9 0.6 6 0.7 0.6z"/>
<path fill="#ff4a00" d="M128.3 464.3l12.7 0 17.1-0.2 3-0.1 3-0.2 0.5-0.5 0.3-3 0.1-6 0.2-22.8 -0.3-16.8 -0.3-3 -0.5-0.5 -3-0.3 -6-0.1 -23.1-0.2 -17.1 0.3 -3 0.3 -0.5 0.5 -0.3 3 -0.1 3.9 -0.2 18.9 0.2 18.8 0.1 4 0.3 3 0.5 0.5 3 0.2z"/>
<path fill="#ff3500" d="M111.5 463.3l0.4 0.4 2 0.1 12 0.2 27.2 0 7-0.1 4-0.2 0.4-0.4 0.2-2 0.2-11.9 0-26.8 -0.2-7 -0.2-3.9 -0.4-0.4 -2-0.1 -12-0.3 -27.2 0.1 -7 0.1 -4 0.2 -0.4 0.4 -0.2 2 -0.2 11.9 0 26.8 0.2 6.9z"/>
<path fill="#ff2000" d="M111.6 463.3l0.3 0.2 2 0.1 12 0.2 27.2 0 11-0.3 0.3-0.2 0.1-2 0.1-11.9 0-26.8 -0.2-10.9 -0.3-0.3 -2-0.1 -12-0.1 -27.2 0 -11 0.2 -0.3 0.3 -0.1 2 -0.1 11.9 0 26.8z"/>
<path fill="#ff0d00" d="M111.7 463.3l0.2 0.1 2 0 12 0.1 27.2 0 11-0.1 0.2-0.1 0-2 0.1-11.9 0-26.8 -0.1-10.9 -0.2-0.1 -2-0.1 -12-0.1 -27.2 0 -11 0.2 -0.2 0.1 0 2 -0.1 11.9 0 26.8z"/>
<path fill="#ff0300" d="M111.8 463.3l52.3 0 0.1-51.6 -52.3 0z"/>
</g>
<path d="M46.56 540.65v-2.0M46.56 334.30v2.0M33.50 527.75h2.0M242.50 527.75h-2.0M59.62 540.65v-3.8M59.62 334.30v3.8M33.50 514.86h3.8M242.50 514.86h-3.8M72.69 540.65v-2.0M72.69 334.30v2.0M33.50 501.96h2.0M242.50 501.96h-2.0M85.75 540.65v-3.8M85.75 334.30v3.8M33.50 489.06h3.8M242.50 489.06h-3.8M98.81 540.65v-2.0M98.81 334.30v2.0M33.50 476.17h2.0M242.50 476.17h-2.0M111.88 540.65v-3.8M111.88 334.30v3.8M33.50 463.27h3.8M242.50 463.27h-3.8M124.94 540.65v-2.0M124.94 334.30v2.0M33.50 450.37h2.0M242.50 450.37h-2.0M138.00 540.65v-3.8M138.00 334.30v3.8M33.50 437.47h3.8M242.50 437.47h-3.8M151.06 540.65v-2.0M151.06 334.30v2.0M33.50 424.58h2.0M242.50 424.58h-2.0M164.12 540.65v-3.8M164.12 334.30v3.8M33.50 411.68h3.8M242.50 411.68h-3.8M177.19 540.65v-2.0M177.19 334.30v2.0M33.50 398.78h2.0M242.50 398.78h-2.0M190.25 540.65v-3.8M190.25 334.30v3.8M33.50 385.89h3.8M242.50 385.89h-3.8M203.31 540.65v-2.0M203.31 334.30v2.0M33.50 372.99h2.0M242.50 372.99h-2.0M216.38 540.65v-3.8M216.38 334.30v3.8M33.50 360.09h3.8M242.50 360.09h-3.8M229.44 540.65v-2.0M229.44 334.30v2.0M33.50 347.20h2.0M242.50 347.20h-2.0" stroke="#000" stroke-width="1" fill="none"/><rect x="33.50" y="334.30" width="209.00" height="206.35" fill="none" stroke="#111" stroke-width="1.05"/>
<g class="tk" text-anchor="middle">
<text x="33.5" y="552.4">−2.0</text>
<text x="59.6" y="552.4">−1.5</text>
<text x="85.8" y="552.4">−1.0</text>
<text x="111.9" y="552.4">−0.5</text>
<text x="138.0" y="552.4">0.0</text>
<text x="164.1" y="552.4">0.5</text>
<text x="190.2" y="552.4">1.0</text>
<text x="216.4" y="552.4">1.5</text>
<text x="242.5" y="552.4">2.0</text>
</g><g class="tk" text-anchor="end">
<text x="29.6" y="543.8">−2.0</text>
<text x="29.6" y="518.0">−1.5</text>
<text x="29.6" y="492.2">−1.0</text>
<text x="29.6" y="466.4">−0.5</text>
<text x="29.6" y="440.6">0.0</text>
<text x="29.6" y="414.8">0.5</text>
<text x="29.6" y="389.0">1.0</text>
<text x="29.6" y="363.2">1.5</text>
<text x="29.6" y="337.4">2.0</text>
</g>
<text class="ax" text-anchor="middle" transform="translate(138.0 569.9) scale(1.12 1)">X</text>
<text class="ax" text-anchor="middle" transform="translate(7.6 437.9) rotate(-90) scale(1.15 1)">Y</text>
<text class="tag" x="42.2" y="358.8">(c)</text>
<rect x="276.00" y="334.30" width="17.40" height="206.35" fill="url(#cb)" stroke="#777" stroke-width="0.4"/>
<path d="M276.00 334.30v206.35M293.40 334.30v206.35" stroke="#2b2622" stroke-width="0.8" fill="none"/>
<path d="M293.40 334.60h3.2M293.40 360.39h3.2M293.40 386.19h3.2M293.40 411.98h3.2M293.40 437.78h3.2M293.40 463.57h3.2M293.40 489.36h3.2M293.40 515.16h3.2M293.40 540.95h3.2" stroke="#333" stroke-width="0.9" fill="none"/>
<g class="cl">
<text x="300.0" y="336.8">1.525</text>
<text x="300.0" y="362.5">1.378</text>
<text x="300.0" y="388.3">1.230</text>
<text x="300.0" y="414.1">1.083</text>
<text x="300.0" y="439.9">0.9350</text>
<text x="300.0" y="465.7">0.7875</text>
<text x="300.0" y="491.5">0.6400</text>
<text x="300.0" y="517.3">0.4925</text>
<text x="300.0" y="543.1">0.3450</text>
</g>
<text class="ax" text-anchor="middle" x="284.7" y="327.4">Potential</text>
</g>
<g id="pd">
<g transform="translate(0.15 0.3)">
<rect x="398.5" y="334.3" width="209" height="206.3" fill="#000cff"/>
<path fill="#0024ff" d="M398.5 540.6l209 0 0-206.3 -209 0z"/>
<path fill="#003cff" d="M398.5 540.6l209 0 0-206.3 -209 0z"/>
<path fill="#004bff" d="M399.7 539.7l1 0.9 204.6 0 1-0.9 1.2-1.3 0-201.9 -2.2-2.2 -204.6 0 -1 1 -1.2 1.2 0 201.9z"/>
<path fill="#0050ff" d="M407.1 539.7l1.1 0.9 189.6 0 3.7-3.4 3.5-3.5 2.5-2.7 0-187.1 -6-6.2 -3.7-3.4 -189.6 0 -3.7 3.4 -3.5 3.5 -2.5 2.7 0 187.1 4 4.2z"/>
<path fill="#05f" d="M414.8 539.7l1.2 0.9 174 0 3.5-2.9 4-3.6 3.3-3.4 3.7-3.9 3-3.4 0-171.8 -3-3.4 -3-3.3 -3.7-3.7 -3.4-3.1 -4.4-3.8 -174 0 -3.5 3 -4 3.6 -3.3 3.3 -3.7 4 -3 3.4 0 171.8 3.9 4.4 3.8 3.9 4.4 4.2z"/>
<path fill="#005aff" d="M420.2 539.7l1.3 0.9 163 0 5.9-4.7 5-4.6 5.1-5.1 4.7-5.4 2.3-2.8 0-161 -4-4.9 -5-5.5 -5.1-4.8 -5-4.4 -3.9-3.1 -163 0 -5.9 4.8 -5 4.6 -5.1 5.1 -4.7 5.3 -2.3 2.9 0 161 4.8 5.8 5.2 5.5 5.7 5.4z"/>
<path fill="#005eff" d="M425.8 539.7l1.3 0.9 151.8 0 6.5-4.9 3.5-3 3.5-3.2 3-2.9 3.6-3.8 2.6-3 3.3-4 2.6-3.4 0-149.8 -5-6.5 -3-3.4 -3.3-3.5 -3-3 -3.2-3 -3.4-2.9 -3.2-2.6 -4.5-3.4 -151.8 0 -6.5 5 -3.5 2.9 -3.5 3.2 -3 3 -3.6 3.8 -2.6 2.9 -3.3 4 -2.6 3.5 0 149.8 2.6 3.4 3.3 4 3.1 3.6 3.3 3.4 3.8 3.6 3.6 3.3 3.7 3z"/>
<path fill="#0063ff" d="M431.6 539.7l1.5 0.9 139.8 0 4.5-3 5-3.8 4-3.3 4.1-3.7 3.9-4 3.7-4 3.4-4.1 3.7-4.8 2.3-3.4 0-138.1 -3.1-4.3 -3-4 -3.3-4 -3.7-3.9 -3.9-4 -4.1-3.7 -4-3.4 -4-3 -5.5-3.8 -139.8 0 -4.5 3 -5 3.8 -4 3.4 -4.1 3.7 -3.9 4 -3.7 3.9 -3.4 4.1 -3.7 4.9 -2.3 3.3 0 138.1 3.1 4.4 3.8 4.9 4.2 4.8 3.9 4.2 4.2 3.9 4.6 4 4.3 3.4z"/>
<path fill="#0069ff" d="M437.9 539.7l1.7 0.9 126.8 0 5.9-3.7 5.1-3.5 5-4 5.2-4.6 4.8-4.9 4.6-5 3.9-5 4.2-6 2.4-3.8 0-125.3 -3.8-5.8 -3.6-4.9 -4-5 -4.5-5 -4.2-4.1 -5-4.5 -5-3.9 -5.1-3.6 -5.9-3.7 -126.8 0 -5.9 3.7 -5.1 3.6 -5 3.9 -5.2 4.7 -4.8 4.8 -4.6 5.1 -3.9 5 -4.2 5.9 -2.4 3.8 0 125.3 3.8 5.8 4.2 5.9 4.3 5 4.8 5.2 5 4.8 5.9 4.9 5.3 4z"/>
<path fill="#006fff" d="M444.6 539.7l1.8 0.9 113.2 0 6.7-3.8 4-2.5 3-2.1 6.1-4.6 3-2.6 3-2.7 5.3-5.5 5.2-5.9 4.4-6 2.7-3.9 1.9-3 2.6-4.7 0-111.7 -3.9-6.6 -4.1-6.2 -2.8-3.7 -2.3-2.8 -5-5.6 -5-4.9 -6-5.2 -6.1-4.5 -3-2.1 -4-2.5 -5.7-3.2 -113.2 0 -6.7 3.8 -4 2.6 -3 2.1 -6.1 4.6 -3 2.5 -3 2.8 -5.3 5.4 -5.2 6 -4.4 5.9 -2.7 4 -1.9 3 -2.6 4.6 0 111.7 3.9 6.7 2.6 3.9 2.1 3 3 4 2.5 2.9 2.7 3 2.8 3 3.1 3 3.3 3 6.2 4.9 3 2.2 4 2.7z"/>
<path fill="#0075ff" d="M452 539.7l2.2 0.9 97.6 0 4.5-2 4-2.2 4-2.3 4-2.5 3-2.1 4-3 3.4-2.7 3.7-3.3 3-2.9 3.5-3.7 2.6-3 3.2-4 2.9-3.9 2.7-4 2.4-4 2.2-4 2.6-5.3 0-96.4 -2.1-4.4 -2.2-4 -2.3-3.9 -2.6-4 -2.1-3 -3-4 -2.8-3.2 -3.3-3.7 -3-3 -3.7-3.4 -3-2.6 -4.1-3.2 -3-2.2 -4-2.6 -4-2.5 -4-2.2 -6.5-3.1 -97.6 0 -4.5 2.1 -4 2.1 -4 2.3 -4 2.6 -3 2.1 -4 3 -3.4 2.7 -3.7 3.3 -3 2.9 -3.5 3.7 -2.6 3 -3.2 3.9 -2.9 4 -2.7 4 -2.4 3.9 -2.2 4 -2.6 5.4 0 96.4 2.1 4.4 2.7 4.9 2.4 4 2.7 4 2.9 3.9 3.2 4 3.1 3.5 3 3.2 3.4 3.2 3.6 3.2 4.1 3.3 4 2.9 4 2.7 4 2.4 4 2.2z"/>
<path fill="#007cff" d="M460.6 539.7l2.7 0.9 79.4 0 3.5-1.3 5-2.1 5.1-2.5 5-2.7 4-2.5 4-2.8 4-3 4.1-3.3 4-3.7 3.8-3.8 3.5-4 3.2-4 2.9-3.9 3.3-5 2.3-4 2.6-4.9 2.3-5 2.2-5.4 0-78.5 -0.5-1.4 -2.1-5 -2.4-4.9 -2.6-5 -2.4-3.9 -3.1-4.6 -3.2-4.4 -3.3-3.9 -3.6-4 -3.9-3.8 -4-3.6 -4.1-3.3 -4-2.9 -4-2.7 -5-3 -5.1-2.6 -5-2.3 -6.5-2.6 -79.4 0 -1.5 0.5 -5 2.1 -5 2.3 -5.1 2.6 -4 2.4 -4.6 3 -4.4 3.2 -4.1 3.3 -4 3.6 -3.9 3.8 -3.6 4 -3.5 4.3 -3.4 4.6 -3.3 4.9 -2.3 4 -2.6 5 -2.3 4.9 -2.2 5.4 0 78.5 1.3 3.4 2.2 5 2.5 5 2.8 4.9 2.5 4 3.5 4.9 3.1 4 3.5 4 3.8 3.9 3.9 3.7 4.1 3.4 4 3.1 5 3.5 5 3 5.1 2.8 5 2.3z"/>
<path fill="#0084ff" d="M471.3 539.7l3.7 0.9 56 0 5.2-1.4 6-2 5-2 6-2.7 4.1-2.2 5-2.9 4-2.7 4-2.9 4-3.3 4.1-3.6 4-4 3-3.3 3-3.7 3-4 2.7-3.9 3-5 2.1-3.9 2.4-5 2-4.9 1.8-5 2.1-7 0-55.4 -1.4-5.1 -1.7-4.9 -2-5 -2.2-4.9 -2.6-5 -2.3-4 -3.2-4.9 -2.9-4 -3.2-4 -3.6-3.9 -3-3.1 -4.1-3.7 -4-3.3 -4-3.1 -5-3.3 -4-2.4 -4.1-2.2 -5-2.4 -5-2.1 -5-1.8 -4-1.3 -4.2-1.1 -56 0 -5.2 1.4 -5 1.7 -5 1.9 -5 2.2 -5.1 2.6 -4 2.2 -5 3.2 -4 2.9 -4 3.2 -4.1 3.5 -4 3.9 -3 3.2 -3.2 3.8 -3.8 5 -2.7 3.9 -3 5 -2.1 4 -2.4 4.9 -2 5 -1.8 5 -2.1 7 0 55.4 1.4 5 2.1 6 2 4.9 2.8 6 2.1 3.9 3 5 3.5 5 3 3.9 3.4 4 3.7 4 4.1 3.9 3.6 3 4.5 3.5 4 2.8 5 3.1 4.1 2.2 5 2.5 5 2.2 5 1.8z"/>
<path fill="#008aff" d="M487.7 539.7l5.3 0.6 5 0.3 8.2 0 2.8-0.1 5.1-0.3 5-0.7 5-0.8 5-1.1 5-1.3 4.1-1.3 5-1.8 5-2.1 4-1.9 5.1-2.7 4-2.5 4-2.7 4-3 3-2.5 4.1-3.6 3.2-3.3 3.6-4 3.2-3.9 2.9-4 2.6-4 2.9-4.9 2.1-4 1.8-4 2-4.9 1.8-5 1.4-4.9 1.2-5 1-5 0.8-5.9 0.4-5 0.2-3.8 0-6.3 -0.3-5.8 -0.5-4.9 -0.8-5 -1-4.9 -1.2-5 -1.6-5 -1.4-3.9 -2-5 -1.8-4 -2.6-4.9 -2.4-4 -3.3-4.9 -2.9-4 -3.4-4 -3.6-3.9 -3.4-3.3 -4-3.5 -4-3.2 -4-2.8 -4-2.6 -5.1-2.9 -4-2 -4-1.8 -5-2 -5-1.7 -5.1-1.5 -5-1.2 -5-0.9 -6-0.8 -5.1-0.4 -3.8-0.2 -6.4 0 -5.8 0.3 -5.1 0.5 -5 0.8 -5 1 -5 1.2 -5.1 1.5 -4 1.4 -5 2 -4 1.8 -5 2.6 -4.1 2.3 -5 3.2 -4 3 -4 3.2 -4.1 3.7 -3.2 3.2 -3.6 4 -3.2 4 -2.9 4 -2.6 3.9 -2.9 5 -2.1 3.9 -1.8 4 -2 5 -1.8 4.9 -1.4 5 -1.2 5 -1 4.9 -0.8 6 -0.4 4.9 -0.2 3.8 0 6.3 0.3 5.8 0.5 5 0.8 4.9 1 5 1.2 4.9 1.6 5 1.7 5 2.1 4.9 2.4 5 2.2 4 3 4.9 2.8 4 3 4 3.4 3.9 3.8 4 3.4 3.2 4 3.4 4 3.1 4 2.8 5 3.1 5.1 2.7 4 1.9 5 2.1 5 1.8 5.1 1.6 5 1.3 5 1z"/>
<path fill="#008eff" d="M494.7 538.7l5.3 0.2 5 0.1 5-0.2 5.1-0.5 5-0.6 5-0.9 5-1.2 5.1-1.4 5-1.7 4-1.5 4-1.8 5-2.5 4.1-2.2 4.3-2.7 3.7-2.6 4.4-3.4 3.6-3.1 4-3.8 3.1-3.3 3-3.5 3.1-4.1 2.8-4 2.4-3.9 2.2-4 2-4 2.2-4.9 1.9-5 1.6-5 1.3-4.9 1.1-5 0.8-4.9 0.5-5 0.4-5 0.1-4.9 -0.1-5 -0.5-5.9 -0.6-5 -0.8-5 -1.2-4.9 -1.3-5 -1.3-3.9 -1.9-5 -2.2-5 -2-3.9 -2.8-5 -2.5-4 -2.8-3.9 -3.1-4 -3.3-3.8 -3.1-3.1 -4-3.7 -3.9-3.3 -4.1-3.1 -4-2.7 -4-2.4 -4.1-2.2 -4-2 -5-2.1 -5-1.9 -5.1-1.5 -5-1.4 -5-1 -5-0.8 -5.1-0.6 -5-0.3 -5-0.1 -5 0.1 -6.1 0.4 -5 0.6 -5 0.9 -5 1.1 -5 1.3 -4.1 1.3 -5 1.9 -5 2.1 -4 2 -5.1 2.7 -4 2.5 -4 2.8 -4 3.1 -3.8 3.3 -3.3 3 -3.7 3.9 -3.3 3.9 -3.1 4.1 -2.8 3.9 -2.4 4 -2.2 4 -2 3.9 -2.2 5 -1.9 5 -1.6 4.9 -1.3 5 -1.1 4.9 -0.8 5 -0.5 5 -0.4 4.9 -0.1 5 0.1 4.9 0.5 6 0.6 4.9 0.8 5 1.2 5 1.6 5.9 1.7 5 2 4.9 2.3 5 2.1 4 2.4 3.9 2.6 4 2.9 4 3.2 3.9 3.4 3.9 3.1 3.1 4 3.6 4 3.2 4 2.9 4 2.7 5.1 2.9 4 2.1 4 1.8 5 2.1 5 1.7 5.1 1.5 5 1.1 5 1 5 0.7z"/>
<path fill="#0093ff" d="M491.8 536.7l5.2 0.4 5 0.2 5-0.1 5-0.3 5.1-0.5 5-0.8 5-1 5-1.3 4.1-1.2 5-1.8 5-2 4-1.9 4-2.1 4.1-2.4 4-2.6 4-2.9 4-3.3 3-2.7 3.1-3 3.2-3.5 3.3-3.9 3-4 2.6-4 2.4-3.9 2.1-4 2.4-5 1.7-3.9 1.7-5 1.3-4 1.2-4.9 1.1-5 0.7-4.9 0.6-5 0.3-5 0.1-4.9 -0.2-5 -0.4-4.9 -0.6-5 -0.9-5 -1.1-4.9 -1.4-5 -1.7-4.9 -2-5 -1.8-4 -2-3.9 -2.9-5 -2.5-4 -2.9-3.9 -3.3-4 -3-3.4 -3.6-3.5 -3.5-3.2 -4-3.3 -4-2.9 -4-2.7 -4.1-2.3 -4-2.1 -5-2.4 -4-1.6 -5-1.7 -4.1-1.3 -5-1.2 -5-1 -5-0.8 -5.1-0.5 -5-0.3 -5-0.1 -5 0.2 -5.1 0.4 -5 0.6 -5 0.8 -5 1.2 -5 1.3 -5.1 1.7 -5 1.9 -4 1.8 -4 2 -5.1 2.8 -4 2.6 -4 2.8 -4 3.2 -3.5 3.1 -3.6 3.4 -3.2 3.5 -3.3 4 -3 3.9 -2.6 4 -2.4 4 -2.1 3.9 -2.4 5 -1.7 4 -1.7 4.9 -1.3 4 -1.2 5 -1.1 4.9 -0.7 5 -0.6 4.9 -0.3 5 0 6 0.2 4.9 0.4 5 0.7 4.9 0.9 5 1.2 5 1.4 4.9 1.8 5 1.6 3.9 2.3 5 2.6 5 2.4 3.9 2.6 4 3 4 3.3 3.9 3.2 3.5 3.6 3.5 3.5 3 4 3.2 4 2.9 4 2.5 5.1 2.9 4 2 5 2.1 4 1.6 5.1 1.6 5 1.4 5 1.1 5 0.9z"/>
<path fill="#0098ff" d="M489.6 534.7l4.4 0.5 5 0.3 5 0 5-0.1 5.1-0.4 5-0.7 5-0.8 5-1.2 4-1.1 5.1-1.6 4-1.5 5-2.2 4-1.9 4-2.2 4.1-2.5 4-2.8 3.4-2.6 3.6-3.1 3.2-2.9 3.8-4 3.1-3.5 2.6-3.4 2.8-4 2.6-3.9 2.2-4 2-4 2.2-4.9 1.5-4 1.7-5 1.1-3.9 1.1-5 0.9-5 0.6-4.9 0.4-5 0.2-4.9 -0.1-5 -0.3-5 -0.5-4.9 -0.8-5 -1-4.9 -1.3-5 -1.6-5 -1.9-4.9 -1.7-4 -2-4 -2.2-3.9 -2.4-4 -2.7-4 -3.1-3.9 -2.5-3 -3.7-4 -3.2-3 -3.3-2.9 -3.7-2.9 -4-2.9 -4-2.5 -4.1-2.3 -4-2 -4-1.8 -5-2 -5.1-1.7 -4-1.1 -5-1.2 -5-0.9 -5-0.7 -5.1-0.5 -5-0.2 -5 0.1 -5 0.2 -5.1 0.5 -5 0.7 -5 1 -5 1.2 -5.1 1.5 -5 1.8 -4 1.7 -5 2.4 -4 2.1 -4.1 2.4 -4 2.7 -4 3 -3 2.5 -4 3.7 -3.1 3.1 -3 3.3 -2.9 3.7 -2.9 3.9 -2.6 4 -2.3 4 -2.5 4.9 -2.2 5 -1.5 4 -1.7 4.9 -1.1 4 -1.1 4.9 -0.9 5 -0.6 5 -0.4 4.9 -0.2 5 0.1 4.9 0.3 5 0.5 5 0.8 4.9 1 5 1.3 4.9 1.6 5 1.9 5 1.7 3.9 2.5 5 2.2 4 2.6 3.9 2.8 4 2.6 3.4 3.1 3.5 3.8 4 3.2 3 4 3.3 4 3 4 2.7 4.1 2.4 4 2.2 5 2.4 4 1.6 5 1.8 5.1 1.5 5 1.2 5 1z"/>
<path fill="#009dff" d="M498.1 533.7l4.9 0.1 5-0.1 5-0.3 4.1-0.5 5-0.8 5-1 4-1.1 5.1-1.5 4-1.4 5-2.1 4-1.9 4-2.1 4.1-2.4 4-2.7 4-3 3.6-3 3.4-3.2 3.6-3.7 2.6-3 3.2-4 2.8-4 2.5-3.9 2.2-4 2-4 1.8-3.9 1.9-5 1.3-4 1.3-4.9 1.2-5 0.7-4 0.6-4.9 0.4-5 0.2-4.9 -0.1-5 -0.3-5 -0.6-4.9 -0.8-5 -1-4.9 -1-4 -1.6-5 -1.4-3.9 -2.1-5 -2-4 -2.1-3.9 -2.5-4 -2.7-4 -2.2-2.9 -3.4-4 -3.5-3.7 -3-2.9 -3-2.7 -4-3.2 -4-2.8 -4.1-2.5 -4-2.3 -4-2 -5-2.2 -4-1.6 -4.1-1.3 -5-1.4 -5-1.2 -5-0.9 -5-0.6 -5.1-0.4 -5-0.2 -5 0.1 -5 0.3 -5.1 0.6 -5 0.7 -5 1.1 -4 1 -5.1 1.5 -4 1.5 -5 2 -4 1.9 -4 2.2 -4.1 2.4 -4 2.7 -3 2.2 -4 3.3 -3.8 3.4 -2.9 3 -2.7 3 -3.2 4 -2.9 3.9 -2.6 4 -2.3 4 -2 3.9 -2.3 5 -1.5 4 -1.4 3.9 -1.4 5 -1.2 4.9 -0.9 5 -0.6 5 -0.4 4.9 -0.2 5 0.1 4.9 0.3 5 0.6 5 0.8 4.9 1 5 1 4 1.6 4.9 1.4 4 2.1 4.9 2 4 2.1 4 2.5 3.9 2.7 4 3 4 3 3.5 3.3 3.4 3.8 3.6 3 2.6 4 3.1 4 2.7 4.1 2.5 4 2.2 4 2 4 1.7 5 1.9 5.1 1.6 5 1.3 5 1 5 0.8 5.1 0.5z"/>
<path fill="#00a2ff" d="M494.3 531.7l4.7 0.3 5 0.1 5-0.2 5.1-0.4 4-0.5 5-0.8 5-1.1 4-1.1 5.1-1.6 4-1.6 4-1.7 4-1.9 4-2.2 4.1-2.5 3.9-2.6 3.1-2.4 4-3.4 3-2.8 3-3.1 2.9-3.2 2.3-3 2.9-4 2.6-3.9 2.3-4 2-4 1.8-3.9 1.9-5 1.4-4 1.4-4.9 0.9-4 0.9-5 0.6-4.9 0.5-5 0.1-4.9 -0.1-5 -0.2-4 -0.5-4.9 -0.8-5 -1-4.9 -1-4 -1.5-5 -1.4-3.9 -2.1-5 -1.9-4 -2.1-3.9 -2.5-4 -2.7-4 -2.6-3.5 -3-3.4 -3.1-3.3 -3-3 -4-3.4 -3-2.4 -4-2.8 -4.1-2.6 -4-2.2 -4-2 -4-1.8 -5-1.9 -4.1-1.3 -5-1.4 -4-0.9 -5-0.9 -5-0.7 -5.1-0.4 -5-0.1 -5 0 -4 0.3 -5.1 0.5 -5 0.7 -5 1 -4 1 -5.1 1.5 -4 1.4 -5 2.1 -4 1.9 -4 2.1 -4.1 2.4 -4 2.6 -3.5 2.7 -3.5 2.9 -3.4 3 -2.9 3 -3.6 4 -2.3 2.9 -2.9 4 -2.6 4 -2.3 3.9 -2 4 -1.8 4 -1.9 4.9 -1.4 4 -1.4 5 -0.9 3.9 -0.9 5 -0.6 5 -0.5 4.9 -0.1 5 0.1 4.9 0.3 5 0.5 5 0.8 4.9 1.1 5 1.1 4 1.2 3.9 1.8 5 2.1 4.9 2 4 2.2 4 2.5 3.9 2.7 3.9 2.4 3.1 3.5 4 2.8 2.9 3.4 3.2 3.2 2.8 3.8 2.9 4 2.7 4.1 2.5 4 2.2 4 1.9 5 2.1 5 1.8 4.1 1.3 4 1 5 1 5 0.8z"/>
<path fill="#00a7ff" d="M491.6 529.7l4.4 0.4 5 0.2 5 0 4-0.2 5.1-0.4 5-0.7 4-0.8 5-1.2 5-1.4 4.1-1.4 4-1.6 4-1.8 4-2 4-2.3 3.1-2 4-2.8 3.5-2.8 3.4-3 3.1-3 3-3.2 3.1-3.6 2.3-3.1 2.7-3.9 2.4-4 2.1-4 1.9-3.9 1.6-4 1.5-4 1.3-3.9 1.3-5 0.8-4 0.8-4.9 0.6-5 0.3-4 0.1-4.9 -0.1-5 -0.4-4.9 -0.6-5 -0.9-5 -0.9-3.9 -1.3-5 -1.3-4 -1.5-3.9 -2.2-5 -2-4 -2.3-3.9 -2.5-4 -2.2-3 -2.5-3.3 -3.1-3.4 -3-3.2 -3.2-3 -3.5-2.9 -3.3-2.6 -4-2.7 -4.1-2.5 -4-2.2 -4-1.9 -4-1.7 -4-1.5 -4.1-1.2 -5-1.4 -4-0.9 -5-0.8 -5.1-0.6 -5-0.4 -5-0.1 -5 0.1 -5 0.4 -5.1 0.6 -5 0.8 -4 0.9 -5 1.4 -4.1 1.2 -4 1.5 -5 2.2 -4 2 -4 2.2 -4.1 2.5 -3 2.1 -3.3 2.6 -3.5 2.9 -3.2 3 -3 3.2 -3.1 3.4 -2.5 3.3 -2.8 4 -2.5 4 -2.2 3.9 -1.9 4 -1.8 4 -1.8 4.9 -1.3 4 -1.3 5 -0.8 3.9 -0.8 5 -0.6 4.9 -0.3 5 -0.1 5 0.2 4.9 0.4 5 0.7 4.9 0.9 5 0.9 4 1.1 3.9 1.7 5 1.6 4 1.7 3.9 2 4 2.3 4 2.5 3.9 2.9 4 2.9 3.5 3.1 3.5 2.9 2.9 4 3.6 3 2.4 4 3 4.1 2.6 4 2.3 4 2 4 1.8 4 1.6 5.1 1.7 5 1.4 4 0.9 5 0.9z"/>
<path fill="#00adff" d="M489.5 527.8l4.5 0.4 5 0.4 5 0 4-0.1 5-0.4 4.1-0.4 4-0.7 5-1 4-1 5.1-1.6 4-1.4 4-1.7 4-1.9 4-2.1 3-1.8 4.1-2.7 3.9-2.9 3.1-2.6 3-2.8 3-3 3-3.4 2.5-3.1 2.2-3 2.6-3.9 2.3-4 2.1-4 1.8-3.9 1.6-4 1.3-4 1.2-3.9 1-4 1-5 0.7-4.9 0.4-4 0.3-4.9 0-5 -0.2-5 -0.4-3.9 -0.6-5 -1-5 -1.2-4.9 -1.2-4 -1.3-4 -1.6-3.9 -1.8-4 -2.1-4 -2.3-3.9 -2.6-4 -2.6-3.6 -2.8-3.3 -2.7-3 -3-3 -3.3-3 -3.3-2.6 -4-3 -3.1-1.9 -4-2.4 -4-2.1 -4-1.8 -4-1.6 -5.1-1.7 -4-1.2 -4-1 -5-1 -5-0.7 -4.1-0.4 -5-0.2 -5-0.1 -5 0.3 -4.1 0.3 -5 0.7 -5 0.9 -5 1.2 -4 1.2 -4.1 1.3 -4 1.6 -4 1.8 -4 2 -4 2.3 -4.1 2.5 -3.6 2.7 -3.4 2.7 -3 2.7 -3 2.9 -3 3.3 -2.7 3.2 -3 4 -2 3 -2.4 3.9 -2.1 4 -1.8 4 -1.7 4 -1.7 4.9 -1.2 4 -1 3.9 -1 5 -0.7 5 -0.4 3.9 -0.3 5 0 5 0.2 4.9 0.4 4 0.6 4.9 1 5 1.2 5 1.2 3.9 1.7 5 1.7 4 1.8 3.9 2.1 4 2.4 4 2.7 3.9 3 3.9 2.6 3.1 3.4 3.5 3 2.9 3 2.6 4 3.1 4.1 2.7 4 2.5 4 2.1 4 1.9 4 1.7 4 1.4 5.1 1.6 4 1 5 1z"/>
<path fill="#00b4ff" d="M497.8 526.8l4.2 0.1 5-0.1 5-0.3 4.1-0.4 5-0.8 4-0.8 4-1 4-1.2 4.1-1.4 4-1.6 4-1.8 4-2.1 4-2.3 3.1-2 4-2.9 3-2.4 3-2.7 3-3 2.9-3.1 2.5-3 2.2-3 2.7-3.9 2.4-4 2.1-4 1.8-3.9 1.6-4 1.4-4 1.5-4.9 0.9-4 1-5 0.6-3.9 0.4-5 0.3-4.9 0-4 -0.3-5 -0.3-3.9 -0.7-5 -0.8-4 -0.9-3.9 -1.4-5 -1.3-4 -2-4.9 -1.8-4 -2.1-4 -2.4-3.9 -2-3 -2.9-4 -2.5-2.9 -2.7-3 -3-3 -3.2-2.8 -3-2.5 -3-2.2 -4.1-2.7 -4-2.3 -4-2.1 -4-1.8 -4-1.6 -4.1-1.4 -5-1.4 -4-0.9 -5-1 -4-0.5 -5.1-0.5 -5-0.2 -4 0 -5 0.2 -4.1 0.3 -5 0.7 -4 0.8 -4 0.9 -5 1.3 -4.1 1.4 -5 1.9 -4 1.8 -4 2.1 -4 2.3 -3.1 2 -4 2.9 -3 2.5 -3 2.6 -3 3 -2.9 3.2 -2.5 2.9 -2.2 3 -2.7 4 -2.4 3.9 -2.1 4 -1.8 4 -1.6 3.9 -1.4 4 -1.5 5 -0.9 3.9 -1 5 -0.6 4 -0.4 4.9 -0.3 5 0 4 0.3 4.9 0.3 4 0.7 4.9 0.8 4 0.9 4 1.4 4.9 1.3 4 2 5 1.8 3.9 2.1 4 2.4 4 2 3 2.9 3.9 2.5 3 2.9 3.1 3 3 3.2 2.8 3.8 3.1 3 2.1 4.1 2.6 4 2.3 4 2 4 1.8 4 1.5 4.1 1.3 5 1.4 5 1.1 4 0.7 5.1 0.6z"/>
<path fill="#00baff" d="M494.5 524.8l4.5 0.3 4 0 5-0.1 4-0.3 4.1-0.4 5-0.8 4-0.8 4-1 4-1.2 4.1-1.4 4-1.6 4-1.9 4-2.1 3-1.8 4.1-2.6 3-2.3 3-2.4 3-2.7 3-3 3-3.3 2.7-3.4 2.2-2.9 2.6-4 1.7-3 2.1-4 1.8-3.9 1.6-4 1.4-4 1.4-4.9 0.9-4 0.8-4 0.6-3.9 0.4-5 0.2-3.9 0.1-5 -0.2-4 -0.4-4.9 -0.6-4 -0.7-4 -1.1-4.9 -1.1-4 -1.3-4 -1.5-3.9 -1.8-4 -2-4 -2.3-3.9 -2.4-3.8 -2.4-3.2 -2.7-3.3 -3-3.4 -3-3 -3-2.7 -3.1-2.5 -4-2.8 -4-2.6 -3-1.7 -4-2 -4-1.8 -4-1.6 -4.1-1.3 -5-1.5 -4-0.9 -4-0.7 -4-0.6 -5.1-0.4 -4-0.2 -5-0.1 -4 0.2 -5.1 0.4 -4 0.5 -4 0.7 -5 1.1 -4 1.1 -4.1 1.3 -4 1.6 -4 1.7 -4 2 -4 2.2 -3.8 2.5 -3.3 2.2 -3.4 2.7 -3.3 3 -3.1 3 -2.7 2.9 -2.5 3.1 -2.9 3.9 -2.6 4 -1.7 2.9 -2.1 4 -1.8 4 -1.6 3.9 -1.4 4 -1.4 5 -0.9 3.9 -0.8 4 -0.6 4 -0.4 4.9 -0.2 4 -0.1 5 0.2 3.9 0.4 5 0.6 4 0.7 3.9 1.1 5 1.1 4 1.7 4.9 1.6 4 1.8 3.9 2.1 4 2.3 4 2.7 4 2.2 2.9 3 3.5 3 3.3 3 2.8 3 2.7 3.4 2.6 3.7 2.5 4 2.5 4 2.2 4 1.9 4 1.7 4.1 1.4 4 1.3 4 1 5 1.1 5 0.8z"/>
<path fill="#00c1ff" d="M491.9 522.8l4.1 0.4 4 0.2 5 0 4-0.2 4-0.3 5.1-0.6 4-0.7 4-0.9 4-1.1 4-1.2 4.1-1.5 4-1.7 4-2 3-1.6 4-2.5 3.1-2.1 3-2.3 3.3-2.7 2.7-2.6 3-3.1 2.8-3.3 2.3-2.9 2.1-3 2.5-4 1.7-3 2-3.9 1.7-4 1.5-4 1.3-3.9 1.1-4 0.9-4 0.7-3.9 0.6-5 0.4-4 0.1-3.9 0-5 -0.3-5 -0.4-3.9 -0.6-4 -0.9-5 -1-3.9 -1.2-4 -1.4-4 -1.6-3.9 -1.9-4 -2.1-4 -2.4-3.9 -2-3 -2.3-3 -2.6-3.1 -3-3.2 -3-3 -3-2.6 -3-2.3 -3.1-2.2 -4-2.5 -3-1.7 -4-2 -4-1.8 -4-1.6 -4.1-1.3 -4-1.1 -4-0.9 -5-0.9 -5.1-0.7 -4-0.3 -4-0.1 -5 0 -5 0.3 -4.1 0.4 -4 0.5 -5 1 -4 1 -4 1.1 -4.1 1.4 -4 1.6 -4 1.8 -4 2.1 -4 2.4 -3 2 -3.1 2.2 -3.1 2.6 -3.3 3 -2.9 3 -2.7 2.9 -2.4 3 -2.2 3 -2.5 3.9 -1.8 3 -2 4 -1.8 4 -1.6 3.9 -1.3 4 -1.1 4 -1 3.9 -0.9 5 -0.6 5 -0.4 3.9 -0.1 4 0 5 0.3 4.9 0.4 4 0.6 3.9 0.9 5 1 4 1.5 4.9 1.5 4 1.7 4 1.9 3.9 2.2 4 2.5 4 2.1 3 2.3 2.9 2.8 3.3 3 3.1 3 2.8 3.3 2.7 3.8 2.8 3 2 4 2.4 4 2.1 4 1.8 4 1.6 4.1 1.4 4 1.2 5 1.2 5 0.9z"/>
<path fill="#00c8ff" d="M490.2 520.8l4.8 0.5 4 0.3 4 0 4 0 5-0.4 4.1-0.4 4-0.6 4-0.8 4-1 4-1.2 4.1-1.4 4-1.6 4-1.9 3-1.6 4-2.3 3-2 3.1-2.3 3-2.4 3-2.7 2.9-3 2.7-3 2.4-2.9 2.2-3 1.9-3 2.3-4 1.6-2.9 1.4-3 1.6-4 1.4-4 1.2-3.9 1-4 0.8-4 0.8-4.9 0.4-4 0.3-4 0-4.9 -0.1-5 -0.4-3.9 -0.5-4 -0.6-4 -0.9-4 -1-3.9 -1.3-4 -1.5-4 -1.7-3.9 -1.9-4 -2.3-4 -1.9-2.9 -2.1-3 -2.3-3 -2.5-3 -2.9-3 -3-2.8 -3-2.5 -3.4-2.6 -3.7-2.4 -3-1.8 -4-2.2 -4-1.8 -3-1.3 -4.1-1.4 -4-1.2 -4-1.1 -5-1 -5-0.8 -4.1-0.4 -4-0.2 -5-0.1 -5 0.2 -4 0.3 -4.1 0.5 -4 0.7 -4 0.8 -4 1.1 -4 1.2 -4.1 1.4 -4 1.7 -4 2 -4 2.2 -3 1.8 -3 2.1 -3.1 2.3 -3 2.5 -3 2.9 -2.9 2.9 -2.5 3 -2.6 3.4 -2.5 3.6 -1.8 2.9 -2.2 4 -1.9 4 -1.2 2.9 -1.5 4 -1.3 4 -1 3.9 -1 5 -0.8 5 -0.4 3.9 -0.3 4 0 5 0.1 4.9 0.4 4 0.6 5 0.7 3.9 1.2 5 1.1 4 1.4 3.9 1.6 4 1.8 4 2.1 3.9 2.4 4 2 3 2.5 3.2 3 3.6 3 3.1 3 2.8 3 2.6 3.1 2.2 3 2.1 4 2.5 4 2.1 4 1.9 4 1.6 4.1 1.4 4 1.2 4 1 4 0.8z"/>
<path fill="#00d0ff" d="M499 519.8l4 0.1 5-0.1 4-0.3 4.1-0.5 4-0.6 4-0.8 4-1 4-1.2 4.1-1.4 4-1.7 4-1.9 3-1.6 4-2.4 3-2.1 3.1-2.3 2.4-2 2.6-2.4 3-3 2.2-2.6 2.8-3.4 2.5-3.5 1.8-3 2.3-4 1.4-2.9 1.4-3 1.5-4 1.4-3.9 1.1-4 0.9-4 0.7-3.9 0.6-4 0.4-5 0.2-3.9 0-4 -0.3-5 -0.3-3.9 -0.8-5 -0.7-4 -1-3.9 -1.2-4 -1.3-4 -1.7-3.9 -1.3-3 -2.1-4 -2.4-4 -2-2.9 -2.2-3 -2.5-3 -2.8-3 -2.6-2.5 -3-2.6 -3.1-2.4 -3-2.1 -4-2.6 -4-2.2 -3-1.4 -3-1.3 -4.1-1.6 -4-1.3 -4-1.1 -4-0.9 -4-0.7 -4-0.5 -5.1-0.5 -4-0.1 -4 0 -5 0.2 -4.1 0.4 -5 0.7 -4 0.7 -4 1 -4 1.1 -4.1 1.4 -4 1.6 -3 1.3 -4 2.1 -4 2.4 -3 1.9 -3.1 2.2 -3 2.5 -3 2.7 -2.6 2.6 -2.6 3 -2.4 3 -2.2 3 -2.5 3.9 -2.3 4 -1.4 3 -1.4 3 -1.5 3.9 -1.4 4 -1.1 4 -0.9 3.9 -0.7 4 -0.6 4 -0.4 4.9 -0.2 4 0 4 0.3 4.9 0.3 4 0.8 4.9 0.7 4 1 4 1.2 4 1.3 3.9 1.7 4 1.3 3 2.1 3.9 2.4 4 2 3 2.2 3 2.9 3.4 3 3.1 3 2.9 3 2.5 3.1 2.3 3 2.1 4 2.4 3 1.6 4 1.9 4 1.7 4.1 1.4 4 1.2 4 1 4 0.8 5 0.8 4.1 0.4z"/>
<path fill="#00d8ff" d="M495.7 517.8l4.3 0.3 4 0 4-0.1 4-0.3 4.1-0.5 4-0.6 4-0.8 4-1 4-1.3 4.1-1.4 4-1.7 3-1.4 3-1.6 3-1.8 3-2 3.6-2.6 2.5-2 3-2.8 2.2-2.2 2.8-3.2 2.2-2.7 2.2-3 1.9-3 2.3-4 2-3.9 1.3-3 1.5-4 1-2.9 1.1-4 0.9-4 0.8-3.9 0.5-4 0.5-5 0.2-3.9 0-4 -0.2-4 -0.4-3.9 -0.5-4 -0.9-5 -0.9-3.9 -1.1-4 -1-3 -1.5-4 -1.8-3.9 -1.5-3 -2.3-4 -1.9-2.9 -2.2-3 -2.4-3 -2.6-3 -2.2-2.2 -3.1-2.7 -3-2.5 -3-2.2 -3-1.9 -4-2.4 -3-1.5 -4-1.8 -4.1-1.6 -4-1.3 -4-1.1 -4-1 -4-0.7 -4-0.5 -5.1-0.5 -4-0.1 -4 0 -4 0.1 -4 0.4 -4.1 0.5 -5 0.8 -4 1 -4 1.1 -3 0.9 -4.1 1.5 -4 1.8 -3 1.5 -4 2.2 -3 1.9 -3 2.2 -3.1 2.3 -3 2.7 -2.2 2.1 -2.8 3 -2.5 3 -2.2 3 -2 2.9 -2.4 4 -1.5 3 -1.9 4 -1.5 3.9 -1.4 4 -1.1 4 -0.9 3.9 -0.8 4 -0.5 4 -0.5 4.9 -0.2 4 0 4 0.2 3.9 0.4 4 0.5 4 0.9 4.9 0.9 4 1.1 4 1.4 3.9 1.5 4 1.9 4 2.1 3.9 1.8 3 2 3 2.7 3.5 2 2.4 3 3.2 3 2.9 3 2.5 3.1 2.4 4 2.6 3 1.8 4 2.1 4 1.8 3 1.2 4.1 1.4 4 1.1 4 1 4 0.8 4 0.6z"/>
<path fill="#00e1ff" d="M493.1 515.8l3.9 0.4 4 0.1 4 0 4-0.1 4-0.4 4.1-0.5 4-0.7 4-0.8 4-1.1 3-1 4.1-1.4 3-1.3 3-1.4 4-2.2 3-1.8 3-2 3-2.3 2.8-2.3 2.3-2.1 2.7-2.9 2.6-2.9 2.3-3 2.1-3 1.8-3 1.7-2.9 1.5-3 1.7-4 1.2-3 1-2.9 1.1-4 1-4 0.7-3.9 0.6-4 0.3-4 0.2-3.9 0.1-5 -0.2-4 -0.3-3.9 -0.5-4 -0.7-4 -0.9-4 -1.1-3.9 -1.3-4 -1.2-3 -1.7-3.9 -1.5-3 -1.7-3 -2.5-4 -2.1-2.9 -2.4-3 -2.5-2.8 -2.2-2.2 -2.8-2.6 -3.1-2.4 -3-2.2 -3-2 -4-2.3 -3-1.5 -3-1.4 -4.1-1.6 -4-1.3 -4-1.2 -4-0.9 -4-0.7 -4-0.6 -4.1-0.4 -4-0.2 -5 0 -4 0.2 -4 0.3 -4.1 0.5 -4 0.7 -4 0.9 -4 1.1 -4 1.3 -3.1 1.1 -4 1.7 -3 1.5 -3 1.6 -4 2.5 -3 2.1 -3.1 2.4 -2.8 2.4 -2.2 2.2 -2.6 2.8 -2.5 3 -2.2 3 -2 2.9 -2.4 4 -1.5 3 -1.4 3 -1.6 3.9 -1.4 4 -1.1 4 -1 3.9 -0.7 4 -0.6 4 -0.3 3.9 -0.2 4 -0.1 5 0.2 3.9 0.4 5 0.6 4 0.7 3.9 1 4 1.1 4 1.4 3.9 1.6 4 1.9 4 1.6 2.9 2.4 4 2.1 3 2.3 3 2.6 2.9 2.7 2.9 3 2.7 3.1 2.5 3 2.2 3 1.9 4 2.4 4 2 3 1.3 4.1 1.5 4 1.3 4 1.1 4 0.8 4 0.7z"/>
<path fill="#00eaff" d="M490.4 513.9l3.6 0.4 4 0.3 4 0.1 4-0.1 4-0.2 4.1-0.3 7-1.1 3-0.7 4-1 3-0.9 4.1-1.5 4-1.6 3-1.5 3-1.6 3-1.8 3-2.1 3-2.2 2.5-2.1 2.6-2.4 2-2 2.2-2.5 2.4-3 2.2-3 1.9-3 1.7-2.9 2-4 1.3-3 1.1-3 1.4-3.9 1.1-4 0.7-3 0.7-3.9 0.6-4 0.3-4 0.3-3.9 0-5 -0.2-4 -0.3-3.9 -0.5-4 -0.7-4 -0.9-4 -0.8-2.9 -1.3-4 -1.5-4 -1.3-2.9 -2-4 -1.7-3 -1.9-3 -2.2-2.9 -2.4-3 -2.2-2.5 -2.4-2.5 -2.6-2.4 -3.1-2.4 -3-2.2 -3-1.9 -3-1.8 -3-1.6 -4-1.8 -3.1-1.2 -4-1.3 -3-0.9 -4-1 -4-0.8 -4-0.6 -4.1-0.4 -4-0.3 -5 0 -4 0.1 -4 0.3 -4.1 0.5 -4 0.6 -4 0.8 -4 1.1 -4 1.2 -4.1 1.5 -3 1.3 -4 2 -3 1.6 -3 1.9 -3 2.1 -3 2.4 -2.6 2.2 -2.5 2.4 -2.4 2.6 -2.5 3 -2.2 2.9 -2 3 -1.7 3 -1.6 3 -1.9 3.9 -1.2 3 -1.3 4 -1.2 4 -1 3.9 -0.7 4 -0.6 4 -0.3 3.9 -0.3 5 0 5 0.3 3.9 0.3 4 0.8 4.9 0.8 4 1 4 1.2 4 1.4 3.9 1.7 4 1.5 3 2.2 3.9 1.9 3 2.2 3 2.4 3 2.6 2.9 2.6 2.6 3.1 2.7 3 2.3 3 2.1 3 1.9 3 1.7 4 2 4 1.6 4.1 1.5 4 1.2 4 0.9 4 0.8z"/>
<path fill="#00f3ff" d="M490 511.9l7 0.7 4 0.2 4 0 4-0.2 4-0.4 7.1-1 4-0.8 3-0.8 4-1.2 3-1.1 4.1-1.6 3-1.4 3-1.6 3-1.8 3-2.1 3-2.2 3-2.6 2.1-1.9 2-2.1 2.5-2.9 3.7-5 1.9-3 1.7-2.9 1.5-3 1.4-3 2.2-5.9 0.9-3 1-4 0.8-4 0.6-3.9 0.4-4 0.3-4 0.1-3.9 -0.1-4 -0.3-4 -0.4-3.9 -0.6-4 -0.8-4 -1-3.9 -0.9-3 -1.4-4 -1.3-3 -1.9-3.9 -1.6-3 -1.8-3 -2.1-3 -1.8-2.4 -2.2-2.5 -2.8-3 -2.1-2 -3-2.5 -3-2.3 -3-2 -3-1.8 -3-1.6 -3-1.4 -4.1-1.7 -3-1.1 -3-0.9 -4-1 -4-0.9 -4-0.6 -4.1-0.5 -4-0.3 -4-0.1 -5 0.1 -4 0.2 -4.1 0.4 -4 0.6 -4 0.8 -4 1 -3 0.9 -4 1.4 -3.1 1.2 -4 1.9 -3 1.6 -3 1.8 -3 2 -2.5 1.9 -2.5 2.1 -3.1 2.8 -2 2 -2.5 3 -2.3 2.9 -2.1 3 -1.8 3 -1.6 3 -1.9 3.9 -1.3 3 -1.4 4 -0.9 3 -1 3.9 -0.8 4 -0.6 4 -0.4 3.9 -0.3 5 0 5 0.1 3.9 0.4 4 0.5 4 0.7 3.9 0.9 4 1.1 4 1.4 3.9 1.1 3 1.9 4 2.1 3.9 1.8 3 2.1 3 2.3 3 2.5 2.9 2 2.1 3.1 2.8 3 2.4 3 2.2 3 2 3 1.7 4 2 3 1.3 4.1 1.6 4 1.2 4 1.1 4 0.8z"/>
<path fill="#00feff" d="M493.9 510.9l7.1 0.4 4 0 4-0.2 4-0.3 4.1-0.5 4-0.7 3-0.7 6-1.7 3-1 4.1-1.6 3-1.4 3-1.6 3-1.7 3-2 2.5-1.9 2.5-2 3.1-2.8 2-2.1 2-2.3 2.1-2.7 3.4-5 1.7-2.9 1.6-3 1.7-4 1.2-3 1-2.9 1.1-4 0.7-3 0.8-3.9 0.5-4 0.4-4 0.3-3.9 0-4 -0.1-4 -0.3-4 -0.5-3.9 -0.7-4 -0.8-4 -1.1-3.9 -1.3-4 -1.2-3 -1.3-2.9 -1.4-3 -1.7-3 -1.9-3 -2.1-3 -2.3-2.9 -2.7-3 -2-2 -2.2-2 -3-2.4 -3-2.1 -3-1.9 -3-1.7 -3-1.5 -4-1.8 -3.1-1.1 -3-1 -4-1.1 -3-0.7 -4-0.8 -4-0.5 -4.1-0.4 -4-0.2 -4-0.1 -4 0.2 -4 0.3 -4.1 0.4 -4 0.7 -4 0.8 -4 1.1 -4 1.3 -3.1 1.1 -3 1.3 -3 1.4 -3 1.7 -3 1.8 -3 2.1 -3 2.3 -3.1 2.7 -2 2 -2 2.2 -2.4 2.9 -2.2 2.9 -1.9 3 -1.7 3 -1.6 3 -1.7 3.9 -1.2 3 -1 3 -1.1 3.9 -0.7 3 -0.8 4 -0.5 4 -0.4 3.9 -0.3 4 0 5 0.2 3.9 0.3 4 0.6 4 0.7 3.9 0.9 4 1.1 4 1.4 3.9 1.2 3 1.8 4 1.6 3 1.8 2.9 2 3 2.3 3 2.6 3 2 2.1 3.1 2.8 3 2.4 3 2.2 3 1.9 3 1.7 3 1.5 4 1.7 3.1 1.2 4 1.3 4 1 4 0.9 4 0.6z"/>
<path fill="#00fff6" d="M496.1 508.9l3.9 0.2 4 0.1 7-0.4 4.1-0.4 3-0.5 3-0.5 4-0.9 4-1.1 3-1 3.1-1.2 3-1.3 3-1.5 3-1.7 5-3.3 3-2.4 2-1.8 2.1-1.9 2.1-2.2 1.9-2.2 2.1-2.8 2-3 1.8-2.9 1.6-3 1.4-3 1.2-3 1-2.9 1.2-4 0.8-3 0.6-3 0.7-3.9 0.5-4 0.3-4 0.1-3.9 0-4 -0.3-4 -0.3-3.9 -1.2-7 -0.9-4 -0.8-2.9 -1.4-4 -1.1-3 -1.4-2.9 -1.5-3 -1.7-3 -1.9-3 -1.8-2.4 -2.1-2.5 -2.7-3 -2.3-2.2 -2-1.8 -3-2.3 -3-2.1 -3-1.8 -3-1.7 -3-1.4 -3.1-1.3 -4-1.4 -4-1.2 -3-0.7 -3-0.6 -4-0.7 -4.1-0.5 -4-0.3 -4-0.1 -4 0 -4 0.3 -4.1 0.3 -7 1.1 -4 1 -3 0.8 -4 1.3 -3.1 1.1 -3 1.4 -3 1.4 -3 1.7 -3 2 -2.5 1.7 -2.5 2 -3 2.7 -2.3 2.3 -1.8 2 -2.3 2.9 -2.2 3 -1.8 3 -1.7 3 -1.4 2.9 -1.3 3 -1.4 4 -1.2 4 -0.8 2.9 -0.6 3 -0.7 4 -0.5 3.9 -0.3 4 -0.1 4 0 4 0.3 3.9 0.3 4 0.6 4 0.8 3.9 1 4 1.2 4 1.4 3.9 1.3 3 2 4 1.7 2.9 1.9 3 1.8 2.5 2.1 2.5 2.7 3 2.3 2.1 3 2.6 3 2.3 3 2 3 1.8 3 1.5 3 1.4 4.1 1.6 3 1 4 1.1 4 0.9 4 0.7 4.1 0.5z"/>
<path fill="#00fff0" d="M499.5 507.9l3.5 0.1 4-0.1 4-0.3 4.1-0.4 4-0.6 3-0.6 3-0.7 4-1.1 3-1 3.1-1.2 3-1.3 3-1.6 3-1.7 3-1.9 3-2.3 2-1.6 2.8-2.5 1.9-2 1.8-2 2.3-3 1.4-2 1.9-2.9 1.7-3 1.5-3 1.3-3 1.1-2.9 1-3 1.1-4 0.8-4 0.5-2.9 0.5-3 0.3-4 0.3-3.9 0-4 -0.1-4 -0.3-4 -0.5-3.9 -0.7-4 -0.8-4 -0.8-2.9 -1.3-4 -1.1-3 -1.3-3 -1.5-2.9 -1.7-3 -1.9-3 -1.4-2 -2.3-2.9 -2.4-2.7 -2.1-2 -2.5-2.3 -2.5-2 -2-1.4 -3-2 -3-1.7 -3-1.5 -3-1.3 -3.1-1.2 -4-1.3 -3-0.9 -4-0.9 -3-0.5 -4-0.6 -4.1-0.4 -4-0.2 -4 0 -4 0.1 -4 0.3 -4.1 0.5 -4 0.6 -4 0.9 -3 0.8 -4 1.2 -3 1.1 -3.1 1.3 -3 1.5 -3 1.6 -3 1.9 -2 1.4 -3 2.3 -2.7 2.4 -2.1 2 -2.3 2.5 -2 2.4 -1.4 2 -2 3 -1.8 3 -1.5 3 -1.3 2.9 -1.2 3 -1.4 4 -0.8 2.9 -0.9 4 -0.6 3 -0.6 4 -0.3 3.9 -0.3 4 0 4 0.1 3.9 0.3 4 0.5 4 0.7 3.9 0.8 4 0.8 3 1.3 4 1.1 2.9 1.3 3 1.5 3 1.7 3 1.9 2.9 2.1 3 2.5 3 2.6 2.7 2 1.9 2 1.7 3 2.4 3 2 3 1.8 3 1.6 3 1.4 3.1 1.2 4 1.4 4 1.1 3 0.7 4 0.8 4 0.5 4.1 0.4z"/>
<path fill="#00ffe8" d="M494.1 506.9l6.9 0.4 7-0.1 7.1-0.6 3-0.5 4-0.7 4-1 3-0.9 3-1 3.1-1.2 3-1.3 3-1.5 5-3.1 3-2.1 2-1.6 4-3.8 2.1-2.1 2.2-2.7 1.8-2.4 1.7-2.6 2.8-4.9 1.4-3 1.3-3 1.1-2.9 0.9-3 1-4 0.7-3 0.5-2.9 0.5-4 0.4-4 0.1-3.9 0-4 -0.1-4 -0.4-3.9 -0.5-4 -0.7-4 -0.7-3 -0.8-2.9 -1.3-4 -1.1-3 -1.3-3 -1.5-2.9 -1.7-3 -1.9-3 -1.4-2 -2-2.5 -2.2-2.4 -2-2 -2.9-2.6 -2-1.6 -3-2.2 -3-1.9 -3-1.6 -3-1.5 -3.1-1.3 -4-1.5 -3-0.9 -4-1 -3-0.6 -3-0.5 -4.1-0.6 -4-0.3 -4-0.2 -4 0 -4 0.2 -4 0.3 -4.1 0.6 -4 0.7 -3 0.6 -3 0.8 -4 1.3 -3 1.1 -3.1 1.3 -3 1.5 -3 1.6 -3 1.9 -2 1.4 -2.6 2 -2.4 2.2 -2 1.9 -2.7 2.9 -1.6 1.9 -2.2 3 -1.9 3 -1.7 3 -1.5 2.9 -1.3 3 -1.5 4 -0.9 3 -1 3.9 -0.7 3 -0.6 4 -0.5 3.9 -0.3 4 -0.2 4 0.1 4 0.2 3.9 0.4 4 0.6 4 0.7 3.9 1 4 1.2 4 1.1 2.9 1.7 4 1.5 3 1.7 3 1.9 2.9 2.2 3 2.2 2.7 2.2 2.3 2.9 2.7 2 1.7 3 2.2 3 2 3 1.8 4 2 3.1 1.2 4 1.5 3 0.9 4 1.1 3 0.6 4 0.6z"/>
<path fill="#00ffdf" d="M492.7 504.9l3.3 0.3 4 0.2 7 0 7.1-0.5 6-1 6-1.3 6-2 3.1-1.1 3-1.4 5-2.8 3-1.9 2-1.5 2.3-1.8 2.2-2 3.8-4 1.8-2.2 2-2.7 1.3-2 1.7-3 2.5-5 1.2-3 1-2.9 1.7-6 0.8-4 0.5-2.9 0.5-4 0.3-4 0.1-3.9 -0.1-4 -0.4-6.9 -0.6-4 -0.5-3 -0.6-3 -1.1-3.9 -0.9-3 -1.5-4 -1.3-3 -1.6-2.9 -1.7-3 -1.3-2 -2.2-3 -1.8-2.2 -2.1-2.2 -2-2 -2-1.7 -3-2.4 -3-2.1 -2-1.2 -3-1.6 -3-1.5 -3.1-1.2 -3-1.1 -3-0.9 -4-1.1 -4-0.8 -3-0.4 -4.1-0.5 -4-0.3 -4-0.1 -4 0 -7 0.5 -4.1 0.5 -3 0.5 -3 0.6 -4 1.1 -3 0.9 -4 1.5 -3.1 1.3 -3 1.5 -3 1.7 -2 1.3 -3 2.2 -2.3 1.8 -2.2 2 -2 2 -1.8 1.9 -2.4 3 -2.1 3 -1.2 2 -1.7 3 -1.4 2.9 -1.3 3 -1.1 3 -0.9 3 -1.1 3.9 -0.8 4 -0.6 4 -0.5 3.9 -0.2 4 -0.1 5 0.1 3.9 0.3 4 0.5 4 0.7 3.9 0.9 4 0.8 3 1.3 4 1.5 3.9 1.4 3 1.6 3 1.8 2.9 2.1 3 2.4 3 2.3 2.4 2 2 2 1.8 3 2.4 3 2 3 1.8 3 1.6 3 1.4 3.1 1.1 4 1.4 3 0.8 4 0.9 4 0.8z"/>
<path fill="#00ffd8" d="M491.7 503.9l3.3 0.4 4 0.2 7 0.1 7-0.5 6.1-0.9 6-1.3 6-1.8 3-1.1 3.1-1.4 5-2.6 2-1.3 3-2.1 4-3.3 2-1.9 2-2.1 3.4-4.2 1.4-2 1.8-2.9 2.6-5 1.3-3 1.1-2.9 1.7-6 0.7-3 0.7-3.9 0.6-4 0.3-4 0.2-3.9 0-4 -0.4-7 -0.5-3.9 -0.5-3 -0.8-4 -0.8-2.9 -1.2-4 -1.1-3 -1.3-3 -1.5-2.9 -2.9-5 -2.1-3 -1.6-2 -2.1-2.2 -2-2.1 -2-1.8 -3-2.4 -3-2.1 -2-1.2 -3-1.7 -3-1.5 -3.1-1.2 -3-1.1 -6-1.7 -3-0.7 -4-0.7 -4.1-0.5 -4-0.4 -4-0.1 -4 0 -7 0.4 -7.1 0.9 -4 0.8 -3 0.8 -4 1.2 -3 1.1 -3.1 1.2 -3 1.5 -5 2.9 -3 2.1 -2 1.6 -2.3 2 -2.1 2 -1.8 1.9 -2.5 3 -2.1 3 -1.2 2 -1.7 3 -1.5 2.9 -1.3 3 -1.1 3 -1.7 5.9 -0.9 4 -0.7 4 -0.5 3.9 -0.3 4 -0.1 4 0.1 4.9 0.2 4 0.5 4 0.6 3.9 0.8 4 1.1 4 0.9 3 1.1 2.9 1.8 4 1.5 3 1.8 3 2 2.9 1.5 2 2.6 3 2.3 2.3 2 1.8 3 2.4 3 2.1 3 1.9 3 1.6 3 1.3 3.1 1.2 3 1.1 3 0.9 4 1 4 0.7z"/>
<path fill="#00ffcd" d="M491.5 503l6.5 0.5 7 0.1 7-0.4 6.1-0.8 6-1.2 6-1.7 3-1.1 3.1-1.3 5-2.6 3-1.8 2-1.4 4-3.2 2.1-2 1.9-2 3.3-4 2.7-3.9 2.7-5 2.2-5 1-2.9 0.9-3 0.8-3 0.8-4 0.6-3.9 0.5-4 0.3-6.9 0-4 -0.2-4 -0.8-6.9 -0.6-3 -0.8-4 -0.8-2.9 -1.3-4 -1.2-3 -1.4-3 -2.7-4.9 -1.3-2 -2.2-3 -2.5-2.9 -1.9-2 -2.1-2 -2-1.7 -2-1.5 -3-2.1 -2-1.2 -3-1.6 -3-1.4 -3.1-1.2 -3-1.1 -3-0.9 -3-0.7 -4-0.8 -4-0.6 -4.1-0.5 -7-0.3 -4 0.1 -4 0.2 -7.1 0.7 -3 0.6 -4 0.8 -3 0.8 -4 1.3 -3 1.2 -3.1 1.3 -5 2.7 -2 1.3 -3 2.1 -3 2.5 -2 1.9 -2 2 -1.8 2 -1.5 2 -2.1 3 -1.2 2 -1.6 3 -1.5 2.9 -1.2 3 -1 3 -0.9 3 -1 3.9 -0.8 4 -0.6 4 -0.4 3.9 -0.2 4 0 5 0.2 3.9 0.3 4 0.5 4 0.8 3.9 0.6 3 1.1 4 1.4 3.9 1.2 3 1.5 3 1.6 3 1.9 2.9 2.2 3 2.5 3 1.9 2 2.1 2 3 2.4 3 2.2 2 1.3 3 1.6 3 1.5 3.1 1.3 4 1.4 3 0.9 4 1 4 0.7z"/>
<path fill="#00ffc4" d="M490.6 501l6.4 0.6 7 0.2 7-0.4 6.1-0.7 6-1.1 6-1.7 5-1.8 5.1-2.4 2-1.1 3-2 4-3 3.7-3.5 3.3-3.8 3-4.1 1.7-3 1.1-2 2.2-5 1.7-4.9 0.8-3 0.9-4 0.5-2.9 0.5-4 0.5-6.9 0-4 -0.1-4 -0.3-4 -0.5-3.9 -0.5-3 -0.8-4 -1.7-5.9 -1-3 -1.3-3 -2.5-4.9 -1.9-3 -1.4-2 -1.9-2.4 -2-2.2 -2-2 -2-1.8 -2-1.6 -3-2.2 -2-1.2 -3-1.7 -5.1-2.3 -3-1.1 -3-0.9 -3-0.8 -4-0.9 -3-0.5 -4.1-0.5 -7-0.5 -4 0 -4 0.1 -4 0.3 -4.1 0.5 -3 0.4 -4 0.8 -6 1.7 -3 1.1 -3.1 1.2 -5 2.5 -3 1.8 -2 1.4 -2.4 1.9 -2.3 2 -2 1.9 -1.8 2 -1.7 2 -2.1 3 -1.3 2 -1.7 3 -2.3 4.9 -1.1 3 -1 3 -0.8 2.9 -0.9 4 -0.6 4 -0.5 3.9 -0.3 4 -0.1 4 0.1 4.9 0.2 4 0.4 4 0.7 3.9 0.8 4 0.7 3 1.3 4 1.1 2.9 1.3 3 1.6 3 1.7 3 1.9 2.8 1.7 2.1 2.4 2.7 2.3 2.3 2.7 2.3 2.2 1.7 2.8 1.8 3 1.8 3 1.5 3.1 1.3 3 1.1 3 1 4 1 4 0.8z"/>
<path fill="#00ffbc" d="M495.5 501l6.5 0.3 7-0.2 7.1-0.7 6-1.1 6-1.5 5-1.8 5.1-2.3 2-1.1 3-1.8 4-3 2-1.7 2-1.9 1.9-2.1 1.7-2 2.8-3.9 1.3-2 1.6-3 2.2-5 1-2.9 1-3 1.2-5 0.7-3.9 0.4-3 0.5-7 0.1-3.9 -0.1-4 -0.5-6.9 -0.4-3 -0.7-4 -1-4 -0.8-2.9 -1-3 -1.2-3 -2.5-4.9 -1.8-3 -1.3-2 -3.2-4 -1.9-2 -2-1.9 -2.3-2 -2.7-2 -2-1.4 -3-1.7 -5.1-2.4 -3-1.2 -3-1 -6-1.6 -3-0.6 -4-0.6 -4.1-0.4 -4-0.2 -4-0.1 -4 0.1 -7.1 0.5 -3 0.4 -4 0.7 -4 0.9 -3 0.9 -3 1 -3 1.2 -5.1 2.4 -3 1.7 -2 1.4 -4 3.1 -2.1 1.9 -1.9 1.9 -2 2.3 -2.1 2.7 -1.3 2 -1.8 3 -2.5 4.9 -1.2 3 -1 3 -0.8 2.9 -1 4 -0.7 4 -0.5 4 -0.3 3.9 -0.2 4 0 4 0.2 3.9 0.3 4 0.5 4 0.7 3.9 0.7 3 1.1 4 1 3 1.2 2.9 1.4 3 1.6 3 1.9 3 2.2 2.9 1.7 2 2.8 3 2.1 1.9 2 1.6 3 2.2 3 1.8 2 1.1 3 1.5 3.1 1.2 3 1.1 4 1.1 3 0.7 4 0.8 4 0.5z"/>
<path fill="#00ffad" d="M489.8 499l6.2 0.6 6 0.3 7-0.2 6.1-0.6 6-0.9 6-1.5 5-1.7 5.1-2.2 2-1.1 3-1.8 3.9-2.8 3.4-3 2-2 1.7-2 2.9-3.9 2.4-4 2.4-5 1.8-4.9 0.8-3 0.8-3 0.5-3 0.6-3.9 0.7-7 0.1-3.9 -0.1-4 -0.4-6.9 -0.5-4 -0.5-3 -0.9-4 -0.8-2.9 -1-3 -1.1-3 -2.4-4.9 -1.7-3 -1.4-2 -1.4-2 -1.8-2.1 -1.7-1.9 -2-1.9 -2.3-2 -2-1.5 -3-2 -2-1.2 -5.1-2.4 -5-1.9 -4-1.2 -3-0.7 -3-0.6 -4-0.6 -7.1-0.6 -4-0.1 -4 0 -7 0.5 -7.1 1 -4 0.9 -3 0.8 -3 0.9 -3 1.1 -5.1 2.4 -3 1.7 -2 1.3 -2 1.4 -2.1 1.8 -2.2 1.9 -2 2 -3.2 4 -2.1 3 -1.2 2 -2.4 4.9 -1.3 3 -1 3 -1.1 3.9 -0.7 3 -0.7 4 -0.5 4 -0.3 3.9 -0.2 4 0.1 5 0.2 3.9 0.3 4 0.6 4 0.5 2.9 1 4 0.8 3 1.4 3.9 1.3 3 1.5 3 1.7 3 1.6 2.2 2 2.7 2 2.3 2.7 2.7 2.3 1.9 2 1.6 3 2 2 1.1 3 1.6 3.1 1.3 3 1.1 3 1 4 1 3 0.7z"/>
<path fill="#00ff9b" d="M489.3 497l5.7 0.6 7 0.3 6-0.1 6.1-0.5 6-0.8 5-1.1 5-1.6 5.1-2 4-2 4-2.6 3.8-3.1 3.2-3.2 3.1-3.7 2.7-4 2.1-4 2-4.9 1-3 0.8-3 1.2-5.9 0.8-7 0.2-4 0.1-3.9 -0.1-4 -0.2-4 -0.8-6.9 -1.2-6 -0.8-2.9 -1-3 -2-5 -1.6-2.9 -1.1-2 -2.8-4 -1.6-2 -1.9-2 -1.9-1.8 -2-1.7 -4-2.9 -2-1.2 -3-1.6 -5.1-2.1 -3-1.1 -3-0.8 -6-1.3 -7.1-0.9 -4-0.3 -4-0.1 -4 0.1 -4 0.2 -7.1 0.7 -3 0.5 -4 0.8 -3 0.8 -3 1 -5.1 2 -3 1.5 -2 1.2 -4 2.7 -2 1.6 -2 1.8 -1.9 1.9 -1.7 2 -1.5 2 -2.1 3 -1.1 2 -1.6 2.9 -2 5 -1 3 -1 3.9 -0.8 4 -0.6 4 -0.4 3.9 -0.2 4 -0.1 4 0.1 3.9 0.2 4 0.4 4 0.6 3.9 0.8 4 1 4 1 3 1.2 2.9 1.3 3 1.6 3 1.3 2 2.1 2.9 1.6 2 2.8 2.9 2 1.8 2 1.6 3 2.1 2 1.3 3 1.6 3.1 1.3 3 1.1 3 1 3 0.8 4 0.9z"/>
<path fill="#00ff8b" d="M488.8 495l6.2 0.7 6 0.3 6-0.1 6-0.4 6.1-0.8 5-1 5-1.4 4-1.5 4.1-1.9 4-2.4 2-1.4 2-1.6 3-2.9 3-3.4 2.7-4 2.2-4 1.7-3.9 1.1-3 0.8-3 1.3-6 0.9-6.9 0.3-6.9 -0.1-7 -0.5-6.9 -0.6-4 -0.6-3 -0.7-3 -0.8-2.9 -1.9-5 -1.4-3 -1.1-1.9 -2.5-4 -1.6-2 -1.7-2 -3.5-3.3 -2-1.6 -2-1.5 -2-1.2 -3-1.7 -2.1-0.9 -3-1.2 -3-1.1 -3-0.8 -6-1.3 -7.1-0.9 -7-0.3 -7 0.1 -7.1 0.6 -4 0.5 -3 0.6 -3 0.7 -3 0.8 -5 1.8 -3.1 1.4 -2 1.1 -4 2.5 -2 1.6 -2 1.7 -3.4 3.4 -1.6 2 -1.5 2 -1.2 2 -1.7 2.9 -1 2 -1.2 3 -1.1 3 -1.1 3.9 -0.6 3 -0.7 4 -0.5 4 -0.3 3.9 -0.1 4 0 5 0.2 3.9 0.3 4 0.5 4 0.8 3.9 0.7 3 1.2 4 1.1 2.9 1.3 3 1.6 3 1.2 2 1.3 2 2.4 2.9 1.9 2 2.1 2 2.4 2 2 1.4 2 1.3 3 1.6 3.1 1.4 3 1.2 3 0.9 3 0.8 3 0.7z"/>
<path fill="#00ff80" d="M492.2 494l5.8 0.4 6 0.1 6-0.2 6.1-0.5 5-0.8 5-1.2 5-1.6 4.1-1.7 4-2.2 3.2-2.2 3.6-3 2.8-3 2.3-2.9 2.6-4 1.9-4 1.5-3.9 1-3 0.7-3 1.1-5.9 0.7-7 0.2-6.9 -0.2-7 -0.7-6.9 -1.1-6 -0.7-2.9 -1-3 -1.1-3 -0.8-2 -2.1-3.9 -2.7-4 -1.6-2 -1.8-2 -1.8-1.7 -2-1.7 -4-2.8 -4-2.2 -2.1-0.9 -3-1.1 -3-1 -3-0.8 -6-1.1 -7.1-0.8 -7-0.3 -4 0 -4 0.2 -7.1 0.7 -6 1.1 -3 0.7 -3 0.9 -3 1.1 -2 0.9 -3.1 1.5 -2 1.1 -4 2.8 -2 1.7 -1.8 1.7 -1.8 2 -1.6 2 -2.7 4 -2.1 3.9 -0.8 2 -1.1 3 -1 3 -0.9 3.9 -0.6 3 -0.5 4 -0.4 3.9 -0.3 5 0 5 0.2 3.9 0.3 4 0.4 4 0.5 2.9 0.8 4 0.8 3 1 3 1.2 2.9 1.4 3 1.7 3 1.4 2 1.9 2.5 2 2.2 2 1.9 2 1.7 3 2.2 2 1.2 3 1.6 2.1 0.9 3 1.2 3 1 3 0.7 3 0.7 4 0.6z"/>
<path fill="#00ff72" d="M488.4 493l5.6 0.6 6 0.4 7-0.1 6-0.3 5.1-0.6 5-0.9 5-1.4 4-1.4 4.1-1.8 4-2.4 3-2.2 3.1-2.8 2.9-3.2 2.7-3.7 1.8-3 1.8-4 1.7-4.9 0.9-3 0.6-3 0.9-5.9 0.5-7 0.1-7.9 -0.4-6.9 -0.9-7 -1.4-5.9 -1.6-5 -1.3-3 -0.9-2 -2.4-3.9 -1.5-2 -1.6-2 -3-3.1 -2-1.7 -2-1.5 -4-2.5 -3.1-1.5 -2-0.9 -5-1.7 -3-0.8 -3-0.6 -6-0.9 -7.1-0.5 -8-0.1 -7 0.4 -7.1 0.9 -6 1.3 -5 1.6 -3 1.3 -2.1 1 -4 2.3 -2 1.4 -2 1.6 -3.1 3 -1.7 2 -1.6 2 -2.5 3.9 -1.5 3 -0.9 2 -1.1 3 -0.9 3 -1 3.9 -0.5 3 -0.6 4 -0.4 3.9 -0.2 4 0 5 0.1 3.9 0.2 4 0.4 4 0.6 3.9 0.8 4 0.9 3 0.9 3 1.2 2.9 1.4 3 1.2 2 1.9 3 1.6 2 1.7 1.9 2 2 2.1 1.8 2 1.6 2 1.3 3 1.7 2.1 1 3 1.2 3 1 3 0.9 4 0.9z"/>
<path fill="#00ff62" d="M488.3 491l5.7 0.6 6 0.3 6 0 6-0.3 5.1-0.5 5-0.8 4-0.9 5-1.6 3-1.3 4.1-2.1 3-2.1 3-2.5 2.6-2.6 2.4-3 1.9-3 2-4 0.9-1.9 1-3 0.9-3 0.6-3 1-5.9 0.5-6 0.2-7.9 -0.3-8 -0.8-6.9 -0.6-3 -0.6-3 -1.6-4.9 -1.6-4 -2.2-3.9 -1.3-2 -1.5-2 -2.8-3 -1.7-1.6 -2-1.6 -2-1.4 -2-1.2 -4.1-2 -2-0.8 -3-1.1 -3-0.8 -3-0.7 -6-0.9 -6.1-0.5 -8-0.2 -8 0.3 -7.1 0.8 -3 0.5 -3 0.7 -5 1.5 -4 1.6 -4.1 2.2 -2 1.3 -2 1.5 -3 2.7 -1.6 1.7 -1.6 2 -1.5 2 -1.2 1.9 -2 4 -1.2 3 -1 3 -0.8 2.9 -0.8 4 -0.6 4 -0.4 3.9 -0.3 8 0.1 4.9 0.2 4 0.3 4 0.5 3.9 0.6 3 0.9 4 0.9 3 1.1 2.9 0.9 2 1.6 3 1.2 2 2.2 3 1.8 1.9 1.7 1.7 2 1.8 2 1.5 2 1.3 3 1.6 3.1 1.4 2 0.8 3 0.9 3 0.8 3 0.6z"/>
<path fill="#0f5" d="M496.9 491l5.1 0.2 6-0.1 6.1-0.4 5-0.6 4-0.7 4-1 4-1.3 4.1-1.8 3-1.7 3.5-2.5 3.3-3 2.2-2.4 2.5-3.5 1.7-3 1.8-3.9 1.4-4 0.8-3 0.6-3 0.8-5.9 0.5-7 0.1-7.9 -0.4-6.9 -0.7-6 -0.5-3 -0.7-3 -1.5-4.9 -0.8-2 -1.4-3 -2.3-3.9 -1.5-2 -1.4-1.7 -3-3 -3-2.4 -2-1.4 -2-1.1 -4.1-1.9 -2-0.8 -3-1 -3-0.7 -3-0.6 -6-0.9 -7.1-0.4 -8-0.1 -7 0.3 -6.1 0.7 -3 0.5 -3 0.7 -5 1.5 -2 0.8 -3.1 1.3 -4 2.4 -2 1.4 -1.7 1.4 -3.1 3 -2.4 3 -1.3 2 -1.2 1.9 -1.9 4 -0.8 2 -1 3 -1 3.9 -0.6 3 -0.5 4 -0.4 3.9 -0.2 4 -0.1 5 0.1 4.9 0.2 4 0.4 4 0.4 2.9 0.7 4 0.7 3 0.9 3 1.2 2.9 1.4 3 1.1 2 1.9 3 1.6 2 1.8 1.9 1.8 1.8 2 1.7 2 1.4 2 1.2 3.1 1.6 2 0.9 3 1.1 3 0.9 3 0.7 3 0.6 4 0.5z"/>
<path fill="#00ff3f" d="M488.4 489.1l5.6 0.5 6 0.2 6 0 6-0.2 5.1-0.5 5-0.7 4-0.9 4-1.3 4-1.6 3.1-1.6 3-2 2.2-1.9 2.8-2.7 2-2.4 1.3-1.8 1.2-2 1.5-3 0.8-1.9 1.1-3 1.3-5 0.9-5.9 0.6-6 0.2-7.9 -0.2-8 -0.7-6.9 -0.5-3 -0.6-3 -1.4-4.9 -1.5-4 -2.1-4 -2-2.9 -2.9-3.3 -3-2.7 -3-2.2 -2-1.2 -2.1-1 -2-0.9 -3-1.1 -5-1.4 -5-0.9 -7.1-0.7 -8-0.3 -5 0 -4 0.2 -7.1 0.6 -3 0.5 -3 0.6 -5 1.4 -4 1.5 -4.1 2.1 -3 2 -3.3 2.8 -2.8 3 -1.5 2 -1.3 1.9 -2.1 4 -1.2 3 -1 3 -0.7 2.9 -0.6 3 -0.6 4 -0.4 4 -0.3 3.9 -0.1 5 0.1 4.9 0.1 4 0.4 4 0.4 3.9 0.5 3 1 4 0.9 3 1.1 2.9 0.9 2 1.6 3 1.3 2 1.5 2 1.8 2 1.3 1.3 2 1.7 2 1.5 2 1.3 3.1 1.6 2 0.9 3 1.1 5 1.4 3 0.6z"/>
<path fill="#00ff29" d="M488 487.1l5 0.4 6 0.3 7 0 6-0.2 5.1-0.4 4-0.5 4-0.8 4-1.2 3-1.1 4.1-2 3-1.9 1.9-1.6 2.1-1.9 2.5-3 2-3 1.1-2 1.7-3.9 1-3 0.5-2 1-5 0.6-5.9 0.4-7.9 -0.1-9 -0.4-6.9 -0.5-4 -0.5-3 -1.3-4.9 -1.5-4 -1.4-3 -2.1-3.3 -2.1-2.6 -3-3 -2.9-2.2 -2-1.3 -2.1-1.1 -4-1.7 -3-0.9 -2-0.5 -5-1 -6-0.6 -8.1-0.4 -9 0.1 -7.1 0.5 -4 0.4 -3 0.6 -5 1.2 -4 1.4 -3.1 1.5 -3.3 2 -2.7 2.1 -3 3 -2.3 2.9 -1.2 1.9 -1.1 2 -0.9 2 -1.2 3 -0.9 3 -0.7 2.9 -0.5 3 -0.5 4 -0.4 7.9 0 9.9 0.2 5 0.4 4 0.5 3.9 0.6 3 0.7 3 1 3 0.8 1.9 1.4 3 1.2 2 1.4 2 1.6 2 1.9 2 2 1.7 1.7 1.2 2.3 1.5 2.1 1.1 2 0.9 3 1.1 3 0.9 2 0.5 3 0.6z"/>
<path fill="#00ff19" d="M489 486.1l5 0.4 6 0.1 6 0 6-0.1 5.1-0.4 4-0.5 4-0.8 3-0.8 3-1 3-1.3 3.1-1.7 2.5-1.9 2.5-2.2 2-2.2 1.8-2.5 1.8-3 1.7-3.9 1.2-4 1-5 0.7-5.9 0.4-8 0-8.9 -0.5-7.9 -0.7-6 -0.9-3.9 -1.2-4 -1.7-4 -1.8-3 -2.2-2.9 -1.6-1.8 -1.3-1.2 -2.7-2.1 -2-1.3 -2.1-1.1 -4-1.7 -4-1.2 -5-1 -6-0.7 -8.1-0.4 -9 0 -8.1 0.5 -6 0.7 -4 0.9 -4 1.2 -4 1.7 -3.1 1.7 -3 2.2 -1.7 1.6 -1.3 1.3 -2.1 2.7 -1.4 1.9 -1.1 2 -0.9 2 -1.1 3 -0.9 3 -0.7 2.9 -0.5 3 -0.4 4 -0.5 7.9 0 6 0.1 4.9 0.2 5 0.4 4 0.5 3.9 0.6 3 0.8 3 1.1 3 1.3 2.9 1.1 2 1.4 2 1.1 1.5 1.3 1.5 2 2 1.7 1.3 2 1.5 2 1.1 2.1 1 3 1.3 2 0.6 2 0.6 3 0.6 3 0.5z"/>
<path fill="#00ff08" d="M489.5 485.1l5.5 0.3 6 0.2 7-0.1 6.1-0.2 4-0.3 4-0.6 4-0.8 3-0.8 3-1.2 3.1-1.5 3-1.9 2-1.6 2-1.9 2.1-2.5 1.3-2 1.7-3 1.6-3.9 1.1-4 0.9-5 0.5-5.9 0.3-7.9 -0.1-10 -0.4-6.9 -0.3-3 -0.5-3 -0.9-3.9 -1-3 -0.8-2 -0.9-2 -1.8-3 -2.3-2.9 -2.5-2.5 -3-2.3 -3.1-1.7 -2-1 -2-0.8 -4-1.2 -5-0.9 -6-0.7 -9.1-0.3 -10 0.1 -7.1 0.4 -3 0.3 -3 0.5 -4 0.9 -4 1.3 -2 0.9 -2.1 1 -3 1.9 -3 2.5 -2.3 2.6 -2.1 2.9 -1.7 3 -1.2 3 -0.7 2 -0.8 2.9 -0.6 3 -0.4 3 -0.3 4 -0.4 7.9 0.1 10.9 0.3 5 0.3 3.9 0.4 3 0.9 4 0.8 3 0.8 2 0.8 1.9 1.1 2 1.2 2 1.5 2 1.8 2 1.5 1.4 2 1.6 2 1.4 2.1 1.1 2 0.9 2 0.8 3 1 5 1z"/>
<path fill="#0bff00" d="M489.8 484.1l5.2 0.3 6 0.1 7-0.1 6.1-0.2 4-0.2 4-0.5 3-0.6 3-0.8 3-1 3-1.4 3.1-1.8 2-1.5 2-1.8 2-2.4 1.4-2 1.7-3 1.6-3.9 1.1-4 0.9-5 0.4-4.9 0.3-8 -0.1-10.9 -0.3-6.9 -0.3-3 -0.5-3 -0.9-3.9 -0.9-3 -0.8-2 -1-2 -1.8-3 -2.4-2.9 -2.4-2.3 -3-2.1 -3.1-1.7 -4-1.6 -4-1.1 -5-0.8 -5-0.4 -8.1-0.3 -11 0.1 -7.1 0.3 -3 0.3 -3 0.5 -4 0.8 -3 1 -2 0.8 -2 0.9 -3.1 1.8 -3 2.4 -2.2 2.4 -2.2 2.9 -1.7 3 -1.6 4 -0.9 3 -0.6 2.9 -0.5 3 -0.3 3 -0.2 4 -0.2 4.9 0.1 11.9 0.2 5 0.3 3.9 0.6 4 0.6 3 0.9 3 0.7 2 0.9 1.9 1.1 2 1.2 2 1.6 2 1.2 1.4 1.7 1.6 1.3 1 2 1.4 2.1 1.1 2 1 2 0.8 3 0.9 5 1.1z"/>
<path fill="#1eff00" d="M491.7 483.1l5.3 0.2 8 0 6-0.1 5.1-0.2 4-0.3 3-0.4 3-0.6 3-0.9 3-1.1 2-1 3.1-1.8 2-1.6 2-2 1.7-2.1 1.9-3 1-2 1.1-2.9 1.1-4 0.8-5 0.4-4.9 0.2-8.9 -0.1-11 -0.3-6.9 -0.6-5 -0.9-3.9 -0.9-3 -1.3-3 -1.7-3 -2.3-2.9 -2.1-2.1 -3-2.3 -3.1-1.7 -3-1.3 -4-1.1 -5-0.9 -5-0.5 -9.1-0.2 -12 0 -7.1 0.4 -5 0.6 -4 0.8 -3 0.9 -2 0.8 -2 1 -3.1 1.9 -3 2.5 -1.9 2.2 -2.1 2.9 -1.6 3 -0.8 2 -0.9 3 -0.7 2.9 -0.5 3 -0.3 3 -0.2 4 -0.2 10.9 0.2 10.9 0.2 4 0.3 2.9 0.5 3 0.7 3 0.9 3 0.8 1.9 1 2 1.2 2 2.4 3.1 1 1 2 1.8 2 1.5 2.1 1.1 2 1 2 0.8 4 1.2 5 0.9 3 0.3z"/>
<path fill="#32ff00" d="M494.5 482.1l14.5 0.1 8.1-0.3 3-0.2 3-0.4 3-0.6 3-0.8 3-1.1 2-1 2.1-1.2 2-1.5 2-1.9 1.7-2 1.9-3 1-2 1.2-2.9 1-4 0.7-4 0.4-4.9 0.2-9 -0.1-13.8 -0.3-6 -0.7-5 -0.6-2.9 -0.6-2 -0.7-2 -1.5-3 -1.9-3 -1.7-1.9 -1-1 -2-1.7 -3.1-1.9 -2-1 -3-1.2 -4-1 -4-0.6 -5-0.4 -9.1-0.2 -14 0.1 -6.1 0.3 -5 0.6 -3 0.6 -4 1.4 -3 1.4 -3.1 1.9 -2 1.7 -1 1 -1.7 1.9 -1.9 3 -1 2 -0.8 2 -1 3 -0.6 2.9 -0.5 3 -0.3 3 -0.2 4 -0.1 10.9 0.1 10.9 0.2 4 0.3 2.9 0.5 3 0.6 3 1 3 0.8 1.9 1 2 1.2 2 1.4 1.9 1 1.1 1 1 2 1.7 2 1.3 2.1 1.1 2 0.9 2 0.7 2 0.6 3 0.6 5 0.7z"/>
<path fill="#4aff00" d="M481.3 480.1l2.6 0.4 4 0.4 9.1 0.2 18.1-0.1 5-0.2 4-0.6 3-0.6 3-0.9 2-0.8 2-1 2.1-1.3 2-1.5 1.9-1.9 1.6-2 1.8-3 1.3-2.9 1.1-4 0.8-5 0.4-4.9 0.1-6 0-15.9 -0.3-6.9 -0.4-4 -0.6-2.9 -0.8-3 -1.1-3 -1.7-3 -1.4-2 -1.8-1.9 -1.1-1 -1.8-1.5 -3.1-1.8 -3-1.3 -4-1.1 -5-0.8 -5-0.3 -6.1-0.2 -16 0.1 -7.1 0.2 -4 0.4 -3 0.6 -3 0.8 -3 1.1 -3.1 1.6 -2 1.5 -2 1.7 -1 1.1 -1.5 1.8 -1.2 2 -1.1 2 -0.8 2 -0.6 2 -0.9 3.9 -0.6 5 -0.3 7.9 0.1 18.9 0.1 4 0.3 2.9 0.8 5 1.1 4 1.3 2.9 1.8 3 1.5 1.9 1.1 1.1 1.1 1 1.8 1.4 3.1 1.8 2 0.9 2 0.8 2 0.5z"/>
<path fill="#65ff00" d="M482.1 479.1l3.8 0.5 4 0.1 23.1 0.1 7.1-0.2 5-0.6 2-0.5 3-0.9 2-0.8 2-1 2.1-1.3 2-1.7 1.5-1.6 1.5-2 1.6-3 1.2-2.9 0.6-2 0.4-2 0.5-4 0.3-3.9 0.1-5 -0.1-19.8 -0.1-4 -0.2-3 -0.3-3 -0.6-2.9 -0.9-3 -1.4-3 -1.1-2 -2-2.5 -2-1.9 -2-1.5 -3.1-1.7 -3-1.1 -4-1 -4-0.5 -4-0.3 -5.1 0 -20.1 0 -4 0.1 -3 0.2 -3 0.3 -3 0.6 -3 0.9 -3 1.3 -2.1 1.2 -2.5 2 -2 1.9 -1.5 2 -1.6 3 -0.9 2 -0.6 2 -0.9 3.9 -0.5 5 -0.2 6 0.1 22.8 0.4 5.9 0.4 3 0.4 2 0.6 2 0.7 2 1.5 2.9 1.3 2 0.8 1 2.5 2.5 3.1 2.1 3 1.4 2 0.8 2 0.5z"/>
<path fill="#7cff00" d="M482.4 478.1l2.5 0.3 4 0.2 14.1-0.1 13.1 0.1 5-0.2 4-0.5 2-0.4 3-0.8 2-0.9 2-1 2.1-1.4 1.3-1.2 1-1 1.6-2 1.7-3 1.2-2.9 0.8-3 0.6-4 0.2-3 0-3.9 -0.1-11.9 0.1-12.9 -0.1-5 -0.4-3 -0.5-2.9 -0.9-3 -0.9-2 -1-2 -1.6-2.2 -2-2.1 -2-1.5 -3.1-1.8 -3-1.1 -3-0.8 -4-0.6 -3-0.2 -4 0 -12.1 0.1 -13.1-0.1 -5 0.1 -3 0.4 -3 0.5 -3 0.9 -2 0.8 -2 1.1 -2.3 1.6 -2.1 1.9 -1.6 2 -1.7 3 -1.2 3 -0.6 2 -0.4 1.9 -0.5 5 -0.1 5 0.1 10.9 -0.1 15.9 0.3 4.9 0.7 4 0.6 2 0.7 2 1.5 2.9 1.5 2 0.8 1 2.1 2 1.2 0.9 2.1 1.2 3 1.4 3 0.8z"/>
<path fill="#90ff00" d="M479.8 477.2l4.1 0.5 5 0.2 14.1-0.1 14.1 0.1 4-0.1 3-0.3 3-0.5 2-0.6 2-0.7 2-1 2.1-1.2 1.6-1.3 1.4-1.4 1.3-1.6 1.2-2 0.6-1 1.2-2.9 0.7-3 0.6-4 0.2-5.9 -0.2-12.9 0.2-13.9 -0.2-4 -0.3-3 -0.5-2.9 -0.9-3 -0.8-2 -1.2-2 -1.4-2 -1.5-1.6 -2-1.6 -2.1-1.3 -1-0.5 -3-1.2 -3-0.7 -4-0.6 -6-0.2 -13.1 0.2 -14.1-0.2 -4 0.2 -3 0.2 -3 0.6 -3 0.9 -2 0.8 -2 1.1 -2.1 1.4 -1.6 1.5 -1.7 2 -1.2 2 -0.6 1 -1.2 3 -0.5 2 -0.4 1.9 -0.4 4 -0.2 4 0.2 13.9 -0.2 13.9 0.2 3.9 0.4 4 0.4 2 0.5 2 1.2 2.9 0.6 1 1.2 2 1.7 2 2.2 2 2.5 1.5 3 1.4 2 0.6z"/>
<path fill="#a6ff00" d="M478.6 476.2l3.3 0.6 5 0.3 16.1-0.3 15.1 0.3 3-0.1 3-0.2 2-0.3 2-0.5 2-0.6 2-0.9 2-1.1 1.7-1.2 1.4-1.2 1.5-1.8 1.3-2 1.4-2.9 0.9-3 0.6-4 0.2-4.9 -0.2-14.9 0.2-12.9 -0.1-5 -0.2-3 -0.3-1.9 -0.8-3 -0.7-2 -1-2 -1.3-2 -1.8-2 -1.7-1.5 -2.1-1.3 -3-1.3 -3-0.9 -4-0.6 -5-0.2 -15.1 0.2 -13.1-0.2 -5 0 -3 0.3 -2 0.3 -3 0.7 -2 0.8 -2 0.9 -2.1 1.3 -2 1.8 -1.5 1.7 -0.7 1 -1.1 2 -1.2 3 -0.8 3 -0.5 3.9 -0.1 5 0.2 14.9 -0.2 13.9 0.1 3.9 0.3 3 0.7 3 1 3 1.6 2.9 1.5 2 2.1 2 2.7 1.8 3 1.4z"/>
<path fill="#bdff00" d="M483.1 476.2l4.8 0.1 11.1-0.3 5 0 15.1 0.3 3-0.1 3-0.3 2-0.3 2-0.5 2-0.8 2-1 1.8-1.1 1.3-1.1 1-1 1.5-1.9 1.2-2 1.2-2.9 0.7-3 0.4-4 0.1-4.9 -0.3-13.9 0.3-13.9 -0.1-5 -0.2-3 -0.4-1.9 -0.9-3 -0.8-2 -1.2-2 -1.5-1.9 -1.1-1.1 -2-1.5 -2-1.1 -3-1.2 -3-0.7 -4-0.5 -5 0 -14.1 0.3 -14.1-0.3 -5 0 -3 0.3 -2 0.4 -3 0.8 -2 0.9 -2 1.1 -2 1.5 -1.1 1.1 -1.5 1.9 -1.2 2 -1.2 3 -0.7 3 -0.4 3.9 -0.1 5 0.3 13.9 -0.3 16.8 0.2 4 0.5 3 0.9 3 1.4 2.9 1.1 1.7 1 1.2 2 1.9 2.1 1.3 3 1.4 3 0.9 2 0.3z"/>
<path fill="#d3ff00" d="M479.9 475.2l3 0.3 3 0.1 16.1-0.4 6 0 11.1 0.4 3 0 3-0.3 2-0.3 2-0.5 2-0.8 2-1 2.1-1.4 1-0.9 1.8-2.2 1.3-2 0.4-0.9 0.8-2 0.7-3 0.3-3 0.1-4.9 -0.4-10 0-4.9 0-5 0.4-9.9 0-4 -0.3-3 -0.3-1.9 -0.5-2 -0.8-2 -1-2 -0.7-1 -1.6-2 -1.2-1.1 -2.1-1.4 -2-1 -1-0.4 -3-0.8 -4-0.6 -5-0.1 -10.1 0.4 -5 0.1 -5-0.1 -10.1-0.4 -4 0.1 -3 0.2 -2 0.4 -2 0.5 -2 0.7 -2 1 -2.1 1.4 -1.2 1.1 -1.6 2 -1.3 2 -0.4 1 -0.8 2 -0.7 3 -0.3 2.9 -0.1 5 0.4 9.9 0 5 -0.4 16.8 0.1 3 0.3 3 0.7 3 0.8 2 0.4 0.9 1.3 2 1.8 2.2 2.1 1.7 1 0.6 2 1 3 1.1z"/>
<path fill="#e8ff00" d="M477.8 474.2l3.1 0.5 4 0.3 4-0.1 9.1-0.4 5-0.1 5 0.1 11.1 0.5 5-0.2 3-0.4 2-0.5 3-1.2 2-1.2 1.1-0.8 1-1 1-1.1 1.5-2.4 0.9-1.9 0.8-3 0.5-3 0.1-5 -0.5-10.9 -0.1-4.9 0.1-5 0.4-9.9 0.1-4 -0.4-3.9 -0.4-2 -0.6-2 -0.9-2 -1.3-2 -0.8-1 -1.4-1.4 -2.1-1.5 -1-0.6 -2-0.8 -3-0.9 -3-0.4 -5-0.1 -11.1 0.5 -5 0 -5 0 -10.1-0.5 -4 0 -3 0.2 -2 0.3 -2 0.5 -2 0.8 -1 0.4 -2 1.3 -1.6 1.2 -1.5 1.7 -1.5 2.3 -1.2 3 -0.7 3 -0.3 2.9 -0.1 4 0.6 14.9 -0.1 5.9 -0.5 10.9 0 3 0.2 3 0.4 2 0.8 3 0.9 1.9 0.6 1 1.5 2 1.4 1.5 2.1 1.4 1 0.6 2 0.9z"/>
<path fill="#fdff00" d="M480.5 474.2l2.4 0.2 3 0 12.1-0.5 5-0.1 5 0.1 12.1 0.5 3 0 2-0.2 3-0.4 3-1 2-1.1 1-0.7 2-1.8 0.8-1 0.7-1 1.1-1.9 0.4-1 0.7-2 0.2-1 0.3-3 0.1-4 -0.5-11.9 -0.1-4.9 0.1-6 0.5-9.9 0-4 -0.4-3.9 -0.2-1 -1.1-3 -1.1-2 -0.7-1 -1.7-1.9 -1.1-0.8 -1-0.7 -2-1.1 -1-0.4 -2-0.6 -1-0.2 -3-0.4 -4-0.1 -12.1 0.6 -5 0.1 -6-0.2 -10.1-0.4 -4 0 -4 0.4 -1 0.2 -3 1 -2 1.1 -1 0.7 -1.1 0.8 -1.7 1.9 -0.7 1 -1.1 2 -1.1 3 -0.3 2 -0.3 2.9 0 4 0.5 9.9 0.1 5 -0.1 5.9 -0.5 12.9 0.1 3 0.3 3 0.2 1 1.1 3 1.1 1.9 0.7 1 1.7 1.9 2.1 1.6 2 1.1 3 1z"/>
<path fill="#ffea00" d="M477.4 473.2l1.5 0.4 1 0.2 3 0.2 5-0.1 10.1-0.6 5-0.1 5 0.1 11.1 0.7 3 0 3-0.1 2-0.3 1-0.2 2-0.6 2-0.9 2-1.3 1.1-0.9 1.3-1.5 1.3-2 1-1.9 0.8-3 0.3-2 0.1-3 0-3 -0.7-10.9 -0.1-4.9 0.1-5 0.7-10.9 -0.1-5 -0.3-2.9 -0.8-3 -0.5-1 -0.5-1 -1.3-2 -1.3-1.5 -1.1-0.8 -2-1.3 -2-1 -3-0.8 -2-0.2 -3-0.2 -3 0.1 -11.1 0.6 -5 0.1 -5-0.1 -11.1-0.6 -5 0 -3 0.3 -3 0.8 -1 0.5 -1 0.5 -2 1.3 -1.1 0.8 -1.3 1.5 -1.3 2 -1 2 -0.8 3 -0.3 2.9 -0.1 5 0.7 10.9 0.1 5 -0.1 4.9 -0.7 11.9 0 3 0.2 3 0.2 1 0.8 3 1 1.9 1.3 2 1.3 1.5 1.1 0.9 2 1.3 2 0.9z"/>
<path fill="#ffd000" d="M479 473.2l2.9 0.4 3 0 12.1-0.7 7-0.2 6 0.2 10.1 0.7 3 0 2-0.1 2-0.3 2-0.5 1-0.3 2-0.9 2-1.4 1.9-1.9 1.4-2 1-1.9 0.8-3 0.3-3 0.1-4 -0.7-9.9 -0.2-6.9 0.2-6 0.6-9.9 0.1-4 -0.2-2.9 -0.4-2 -0.6-2 -1-2 -0.6-1 -1.6-2 -1.1-0.9 -2-1.3 -2-0.9 -3-0.8 -3-0.4 -4 0 -10.1 0.6 -7 0.2 -6-0.1 -10.1-0.7 -4 0 -3 0.2 -2 0.4 -2 0.6 -2 0.9 -1 0.6 -2 1.6 -0.9 1 -1.4 2 -1 2 -0.8 3 -0.3 2.9 -0.1 4 0.7 9.9 0.2 6 -0.2 6.9 -0.7 11.9 0.1 3 0.1 2 0.7 3 0.8 2 1.1 1.9 1.6 2 1.2 1 1.9 1.3 2 0.9z"/>
<path fill="#ffb600" d="M482.6 473.2l4.3-0.1 11.1-0.7 5-0.1 6 0.1 12.1 0.8 3 0 2-0.2 3-0.6 2-0.8 1-0.5 1-0.6 1.6-1.3 1.7-2 1.2-1.9 0.8-2 0.4-2 0.4-3 -0.1-4 -0.7-10.9 -0.2-5.9 0.2-6 0.7-10.9 0.1-4 -0.2-1.9 -0.4-2 -1-3 -1.2-2 -0.7-1 -1-1 -1.2-1 -2.4-1.4 -2-0.7 -2-0.5 -3-0.3 -4 0 -11.1 0.7 -6 0.2 -6-0.2 -11.1-0.7 -4 0 -2 0.1 -2 0.4 -3 1 -2 1.2 -1 0.7 -1.6 1.5 -0.7 1 -1.2 2 -0.8 2 -0.4 2 -0.4 2.9 0.1 4 0.6 9.9 0.2 6 -0.1 6.9 -0.8 11.9 0 3 0.4 3 0.8 3 0.9 1.9 1.4 2 1.6 1.5 2 1.4 1 0.5 2 0.8 3 0.6z"/>
<path fill="#ff9c00" d="M477.4 472.2l2.5 0.5 4 0.2 13.1-0.9 7-0.1 7 0.2 10.1 0.7 4 0 3-0.5 2-0.6 1-0.4 2-1.2 1-0.7 1.2-1.2 1.4-2 1-1.9 0.8-3 0.3-2 0-4 -0.8-10.9 -0.2-6.9 0.2-6 0.7-9.9 0.1-4 0-2 -0.3-1.9 -0.8-3 -1-2 -0.6-1 -0.8-1 -1.2-1.1 -2-1.4 -2-1 -3-0.8 -2-0.2 -4-0.1 -11.1 0.8 -7 0.2 -6-0.1 -10.1-0.8 -4-0.1 -2 0.1 -2 0.2 -3 0.8 -2 1 -1 0.6 -1 0.8 -1.2 1.1 -1.4 2 -1 2 -0.8 3 -0.3 1.9 0 4 0.8 10.9 0.2 7 -0.2 6.9 -0.8 10.9 0 3 0.1 2 0.4 2 0.6 2 1 1.9 1.4 2 1.2 1.2 2 1.4 2 0.9z"/>
<path fill="#ff8200" d="M478.8 472.2l2.1 0.3 3 0 13.1-0.9 7-0.2 6 0.2 11.1 0.9 4 0 3-0.5 1-0.2 2-0.8 2-1.2 1-0.8 1.1-1 1.2-1.8 1-1.9 0.6-2 0.4-3 0-4 -0.8-10.9 -0.2-6.9 0.2-6 0.8-10.9 0.1-4 -0.3-2.9 -0.5-2 -0.3-1 -1-2 -0.6-1 -0.9-1 -1-1 -1.8-1.2 -2-1 -2-0.6 -3-0.4 -4 0 -11.1 0.8 -7 0.2 -6-0.1 -11.1-0.9 -4-0.1 -3 0.3 -2 0.5 -1 0.3 -2 1 -1 0.6 -1 0.9 -1.1 1 -1.2 1.7 -1 2 -0.6 2 -0.4 2.9 0 4 0.8 10.9 0.2 7 -0.2 6.9 -0.8 10.9 -0.1 3 0.2 2 0.3 2 0.6 2 1 1.9 1.5 2 1.8 1.6 2 1.2 2 0.8z"/>
<path fill="#ff6d00" d="M476.1 471.2l1.8 0.5 1 0.2 3 0.3 4-0.1 10.7-0.9 6.4-0.2 7 0.2 11.1 0.9 4 0 3-0.4 2-0.6 2-0.9 1-0.7 1.5-1.3 0.8-1 0.7-1 1-1.9 0.6-2 0.4-3 0-4 -0.9-10.9 -0.2-6.9 0.2-6.3 0.8-10.6 0.2-4 -0.3-2.9 -0.5-2 -0.3-1 -1-2 -0.7-1 -1.3-1.4 -1-0.8 -1-0.7 -2-1 -2-0.6 -3-0.4 -4 0 -11.1 0.9 -7 0.2 -6.4-0.2 -10.7-0.8 -4-0.1 -3 0.2 -2 0.5 -1 0.3 -2 1 -1 0.7 -1.5 1.2 -0.8 1 -0.7 1 -1 2 -0.6 2 -0.4 2.9 0 4 0.9 10.9 0.2 7 -0.2 6.9 -0.9 10.9 0 4 0.2 2 0.5 2 0.7 2 1.3 1.9 1.3 1.5 1 0.8 2 1.2z"/>
<path fill="#ff5800" d="M476.7 471.2l1.2 0.4 2 0.3 3 0.1 3-0.2 10.1-0.8 5-0.2 4 0 7 0.3 9.1 0.8 4 0.1 3-0.4 2-0.6 2-1 1-0.7 1.2-1.1 1.6-2 1-1.9 0.6-2 0.4-3 0-4 -0.9-9.9 -0.2-7.9 0.2-7 0.8-9.9 0.2-4 -0.3-2.9 -0.2-1 -0.6-2 -1-2 -0.7-1 -1.1-1.2 -2-1.5 -2-1 -2-0.6 -3-0.4 -4 0 -10.1 0.9 -8 0.3 -7-0.3 -10.1-0.8 -4-0.1 -3 0.2 -3 0.8 -2 1 -1 0.7 -1.2 1 -1.6 2 -1 2 -0.6 2 -0.4 2.9 0 4 0.9 9.9 0.2 8 -0.2 7.9 -0.9 9.9 0 4 0.4 3 0.6 2 1 1.9 0.7 1 1.1 1.2 2 1.6 1 0.5z"/>
<path fill="#ff3f00" d="M477.6 471.2l2.3 0.4 3 0.1 13.1-1 8-0.2 7 0.2 11.1 1 3 0 2-0.2 2-0.5 1-0.3 2-1 1-0.7 1.8-1.8 0.7-1 1.1-1.9 0.3-1 0.4-2 0.2-2 0-4 -1-11.9 -0.2-5.9 0.2-6 1-11.9 0-4 -0.2-1.9 -0.4-2 -0.3-1 -1.1-2 -0.7-1 -1.8-1.7 -1-0.8 -2-1 -1-0.3 -2-0.4 -2-0.2 -4 0 -12.1 1 -6 0.2 -6-0.2 -12.1-1 -4 0 -2 0.2 -2 0.4 -1 0.3 -2 1 -1 0.8 -1.8 1.7 -0.7 1 -1.1 2 -0.3 1 -0.4 2 -0.2 1.9 0 4 1 11.9 0.2 6 -0.3 7.9 -0.9 10.9 -0.1 2 0.1 2 0.4 2 0.5 2 1.1 1.9 0.7 1 0.9 1 1.9 1.5 2 1z"/>
<path fill="#ff2600" d="M478.8 471.2l2.1 0.2 2 0 13.1-1.1 7-0.2 7 0.2 12.1 1.1 2 0 2-0.1 3-0.5 2-0.8 2-1.3 1.5-1.5 1.3-1.9 0.9-2 0.4-2 0.2-2 -0.1-4 -1.1-11.9 -0.1-5.9 0.1-6 1.1-11.9 0.1-4 -0.4-2.9 -0.6-2 -0.5-1 -0.7-1.3 -1.1-1.2 -1-1 -2-1.3 -2-0.7 -2-0.5 -2-0.2 -4 0.1 -12.1 1.1 -6 0.1 -6-0.1 -12.1-1.1 -4-0.1 -3 0.4 -2 0.6 -1 0.4 -1.3 0.8 -1.3 1 -0.9 1 -1.3 2 -0.9 2 -0.4 2 -0.2 1.9 0.1 4 1.1 11.9 0.1 6 -0.2 6.9 -1 11.9 -0.1 2 0.1 2 0.3 2 0.6 2 1 1.9 1.3 1.6 1 0.9 2 1.3 2 0.8z"/>
<path fill="#ff0f00" d="M475.9 470.2l1 0.4 2 0.4 3 0.2 3-0.2 11.1-1 5-0.2 4 0 6 0.3 10.1 0.9 4 0.2 3-0.4 2-0.6 1-0.4 1-0.6 1-0.8 1-0.9 1-1.3 0.6-0.9 0.4-1 0.7-2 0.3-2 0-2 0-2 -1.1-10.9 -0.2-7.9 0.2-8 1-9.9 0.1-3 -0.2-2.9 -0.4-2 -0.4-1 -0.4-1 -0.6-1 -0.7-1 -1-1 -1.3-0.9 -1-0.6 -1-0.5 -2-0.6 -2-0.2 -4 0 -11.1 1 -8 0.2 -8-0.2 -10.1-1 -3-0.1 -3 0.2 -2 0.4 -1 0.3 -1 0.5 -1 0.6 -1 0.7 -1 1 -1 1.2 -0.6 1 -0.8 2 -0.4 2 -0.2 1.9 0.1 4 0.8 8 0.2 2.9 0.2 7 -0.2 7.9 -1.1 10.9 0 2 0 2 0.3 2 0.3 1 0.8 2 0.6 0.9 0.7 1 1.3 1.2 2 1.4z"/>
<path fill="#ff0300" d="M476.4 470.2l2.5 0.6 3 0.2 3-0.2 6-0.6 5.1-0.4 5-0.2 4 0 7 0.3 10.1 1 2 0.1 2-0.1 2-0.3 1-0.2 2-0.8 1-0.6 1-0.8 1-1 0.8-1 1.1-1.9 0.6-2 0.3-2 0-2 -0.1-2 -1-10.9 -0.3-7.9 0.3-8 1-9.9 0.1-4 -0.3-2.9 -0.6-2 -1.1-2 -0.8-1 -1-1 -1-0.7 -2-1.1 -2-0.6 -2-0.3 -2 0 -2 0.1 -11.1 1 -8 0.3 -8-0.3 -10.1-1 -4-0.1 -3 0.3 -2 0.6 -2 1.1 -1 0.7 -1 1 -0.8 1 -1.1 2 -0.6 2 -0.3 2.9 0.1 4 1 9.9 0.3 8 -0.3 7.9 -1 10.9 -0.1 2 0 2 0.3 2 0.3 1 0.8 2 0.6 0.9 0.8 1 1 1 1 0.8 1 0.6z"/>
</g>
<rect x="477.02" y="412.18" width="52.05" height="51.19" fill="url(#chk)"/>
<path d="M411.56 540.65v-2.0M411.56 334.30v2.0M398.50 527.75h2.0M607.50 527.75h-2.0M424.62 540.65v-3.8M424.62 334.30v3.8M398.50 514.86h3.8M607.50 514.86h-3.8M437.69 540.65v-2.0M437.69 334.30v2.0M398.50 501.96h2.0M607.50 501.96h-2.0M450.75 540.65v-3.8M450.75 334.30v3.8M398.50 489.06h3.8M607.50 489.06h-3.8M463.81 540.65v-2.0M463.81 334.30v2.0M398.50 476.17h2.0M607.50 476.17h-2.0M476.88 540.65v-3.8M476.88 334.30v3.8M398.50 463.27h3.8M607.50 463.27h-3.8M489.94 540.65v-2.0M489.94 334.30v2.0M398.50 450.37h2.0M607.50 450.37h-2.0M503.00 540.65v-3.8M503.00 334.30v3.8M398.50 437.47h3.8M607.50 437.47h-3.8M516.06 540.65v-2.0M516.06 334.30v2.0M398.50 424.58h2.0M607.50 424.58h-2.0M529.12 540.65v-3.8M529.12 334.30v3.8M398.50 411.68h3.8M607.50 411.68h-3.8M542.19 540.65v-2.0M542.19 334.30v2.0M398.50 398.78h2.0M607.50 398.78h-2.0M555.25 540.65v-3.8M555.25 334.30v3.8M398.50 385.89h3.8M607.50 385.89h-3.8M568.31 540.65v-2.0M568.31 334.30v2.0M398.50 372.99h2.0M607.50 372.99h-2.0M581.38 540.65v-3.8M581.38 334.30v3.8M398.50 360.09h3.8M607.50 360.09h-3.8M594.44 540.65v-2.0M594.44 334.30v2.0M398.50 347.20h2.0M607.50 347.20h-2.0" stroke="#000" stroke-width="1" fill="none"/><rect x="398.50" y="334.30" width="209.00" height="206.35" fill="none" stroke="#111" stroke-width="1.05"/>
<g class="tk" text-anchor="middle">
<text x="398.5" y="552.4">−2.0</text>
<text x="424.6" y="552.4">−1.5</text>
<text x="450.8" y="552.4">−1.0</text>
<text x="476.9" y="552.4">−0.5</text>
<text x="503.0" y="552.4">0.0</text>
<text x="529.1" y="552.4">0.5</text>
<text x="555.2" y="552.4">1.0</text>
<text x="581.4" y="552.4">1.5</text>
<text x="607.5" y="552.4">2.0</text>
</g><g class="tk" text-anchor="end">
<text x="394.6" y="543.8">−2.0</text>
<text x="394.6" y="518.0">−1.5</text>
<text x="394.6" y="492.2">−1.0</text>
<text x="394.6" y="466.4">−0.5</text>
<text x="394.6" y="440.6">0.0</text>
<text x="394.6" y="414.8">0.5</text>
<text x="394.6" y="389.0">1.0</text>
<text x="394.6" y="363.2">1.5</text>
<text x="394.6" y="337.4">2.0</text>
</g>
<text class="ax" text-anchor="middle" transform="translate(503.0 569.9) scale(1.12 1)">X</text>
<text class="ax" text-anchor="middle" transform="translate(372.6 437.9) rotate(-90) scale(1.15 1)">Y</text>
<text class="tag" x="407.2" y="358.8">(d)</text>
<rect x="641.00" y="334.30" width="17.40" height="206.35" fill="url(#cb)" stroke="#777" stroke-width="0.4"/>
<path d="M641.00 334.30v206.35M658.40 334.30v206.35" stroke="#2b2622" stroke-width="0.8" fill="none"/>
<path d="M658.40 334.60h3.2M658.40 360.39h3.2M658.40 386.19h3.2M658.40 411.98h3.2M658.40 437.78h3.2M658.40 463.57h3.2M658.40 489.36h3.2M658.40 515.16h3.2M658.40 540.95h3.2" stroke="#333" stroke-width="0.9" fill="none"/>
<g class="cl">
<text x="665.0" y="336.8">1.750</text>
<text x="665.0" y="362.5">1.531</text>
<text x="665.0" y="388.3">1.313</text>
<text x="665.0" y="414.1">1.094</text>
<text x="665.0" y="439.9">0.8750</text>
<text x="665.0" y="465.7">0.6563</text>
<text x="665.0" y="491.5">0.4375</text>
<text x="665.0" y="517.3">0.2188</text>
<text x="665.0" y="543.1">0.000</text>
</g>
<text class="ax" text-anchor="middle" x="649.7" y="327.4">Electric Field</text>
</g>
<g id="pe">
<g transform="translate(0.15 0.3)">
<rect x="33.5" y="653.5" width="209" height="206.3" fill="#0001ff"/>
<path fill="#000aff" d="M34.7 858.9l1.1 1 204.4 0 0.3-0.2 2-2 0-201.9 -2.3-2.2 -204.4 0 -0.3 0.2 -2 2 0 201.9z"/>
<path fill="#0010ff" d="M37.2 858.9l1 1 199.6 0 2.1-2 2.6-2.6 0-197.1 -1-1 -3.7-3.6 -199.6 0 -2.1 1.9 -2.6 2.7 0 197.1z"/>
<path fill="#0016ff" d="M39.6 858.9l1.1 1 194.6 0 5.2-5 2-2.1 0-192.2 -3-3.1 -4.2-3.9 -194.6 0 -5.2 4.9 -2 2.1 0 192.2z"/>
<path fill="#001cff" d="M42.1 858.9l1.1 1 189.6 0 3.7-3.4 3.5-3.5 2.5-2.7 0-187.2 -6-6.2 -3.7-3.3 -189.6 0 -3.7 3.3 -3.5 3.6 -2.5 2.6 0 187.2 4 4.2z"/>
<path fill="#02f" d="M44.6 858.9l1.1 1 184.6 0 5.2-4.8 5-5.1 2-2.2 0-182.2 -3.8-4.1 -4.2-4.2 -4.2-3.7 -184.6 0 -5.2 4.7 -5 5.1 -2 2.2 0 182.2 5 5.4z"/>
<path fill="#0028ff" d="M47.2 858.9l1.1 1 179.4 0 3.4-3 3.2-3 5.8-5.9 2.4-2.7 0-177.1 -5.3-5.7 -5.8-5.6 -3.7-3.3 -179.4 0 -3.4 2.9 -3.2 3 -5.8 6 -2.4 2.7 0 177.1 3 3.3 3.2 3.4 3.8 3.7z"/>
<path fill="#002fff" d="M49.8 858.9l1.2 1 174 0 4.4-3.8 3.4-3.1 4-4 3.6-4 2.1-2.4 0-171.8 -3-3.4 -3.7-3.9 -3.3-3.4 -4-3.6 -3.5-2.9 -174 0 -4.4 3.7 -3.4 3.2 -4 4 -3.6 3.9 -2.1 2.4 0 171.8 3.8 4.4 3.8 4 4.2 3.9z"/>
<path fill="#0035ff" d="M52.4 858.9l1.3 1 168.6 0 4.8-4 4.3-4 4.1-4 4.4-4.9 2.6-3 0-166.5 -4-4.7 -4-4.3 -4.1-3.9 -4-3.7 -4.1-3.3 -168.6 0 -4.8 3.9 -4.3 4 -4.1 4 -4.4 4.9 -2.6 3.1 0 166.5 4.3 5 4.7 5 5.1 4.7z"/>
<path fill="#003cff" d="M55.1 858.9l1.3 1 163.2 0 5.8-4.7 5-4.6 5.1-5.1 4.8-5.4 2.2-2.8 0-161.2 -4-4.8 -5-5.4 -5.1-4.9 -5-4.4 -3.8-3 -163.2 0 -5.8 4.7 -5 4.6 -5.1 5.1 -4.8 5.4 -2.2 2.7 0 161.2 4.8 5.7 5.2 5.6 5.7 5.3z"/>
<path fill="#0043ff" d="M57.9 858.9l1.3 1 157.6 0 6.6-5.3 6-5.4 3.1-3 2.9-3.2 5.1-5.9 2-2.6 0-155.6 -5-6.2 -5-5.4 -6-5.8 -5.8-5 -3.9-2.9 -157.6 0 -6.6 5.2 -6 5.5 -3.1 3 -2.9 3.1 -5.1 6 -2 2.5 0 155.6 5.3 6.6 5.8 6.1 6 5.8 3.5 2.9z"/>
<path fill="#004aff" d="M60.7 858.9l1.4 1 151.8 0 6.5-5 3.5-2.9 3.5-3.2 3-3 3.6-3.8 2.7-2.9 3.2-4 2.6-3.4 0-150 -5-6.4 -3-3.4 -3.3-3.5 -3-2.9 -3.1-3 -3.5-3 -3.2-2.6 -4.5-3.3 -151.8 0 -6.5 4.9 -3.5 3 -3.5 3.2 -3 2.9 -3.6 3.8 -2.7 3 -3.2 4 -2.6 3.3 0 150 2.6 3.4 3.2 4 3.2 3.6 3.2 3.3 3.9 3.7 3.6 3.3 3.6 2.9z"/>
<path fill="#0051ff" d="M63.6 858.9l1.4 1 146 0 4.4-3.1 4-3.2 4-3.4 3.5-3.2 3.5-3.6 3.2-3.3 3.4-4 3.1-4 2.4-3.3 0-144.2 -3-4.1 -3-3.7 -3-3.5 -3.6-3.9 -3.5-3.4 -3.9-3.5 -3.5-3 -3.6-2.8 -4.4-3.1 -146 0 -4.4 3.1 -4 3.1 -4 3.5 -3.5 3.1 -3.5 3.6 -3.2 3.4 -3.4 4 -3.1 3.9 -2.4 3.3 0 144.2 3.2 4.3 3.2 4 3.4 4 3.8 3.9 3.5 3.4 4 3.6 4 3.2z"/>
<path fill="#0058ff" d="M66.5 858.9l1.5 1 140 0 4.4-3 5-3.8 4-3.4 4.1-3.7 3.9-4 3.7-3.9 3.4-4.1 3.7-4.9 2.3-3.3 0-138.2 -3-4.3 -3.9-4.9 -3.4-4 -3.7-4 -4.1-3.9 -4-3.6 -4-3.3 -4-3 -4.4-3 -140 0 -4.4 3 -5 3.8 -4 3.3 -4.1 3.7 -3.9 4 -3.7 4 -3.4 4 -3.7 4.9 -2.3 3.3 0 138.2 3.8 5.3 3.2 4.1 4.1 4.7 3.9 4.1 4.2 4 4.6 4 4.3 3.4z"/>
<path fill="#005fff" d="M69.6 858.9l1.5 1 133.8 0 5.4-3.7 5.1-3.7 5-4.2 4-3.7 4-4 4.1-4.5 4.1-5 3.6-4.9 2.3-3.5 0-132 -3.7-5.4 -3.3-4.4 -3.8-4.5 -4.3-4.6 -4.4-4.4 -4.5-3.9 -4.1-3.3 -5.1-3.7 -4.4-2.9 -133.8 0 -5.4 3.6 -5.1 3.8 -5 4.1 -4 3.7 -4 4 -4.1 4.6 -4.1 4.9 -3.6 5 -2.3 3.4 0 132 3.7 5.5 3.8 4.9 4.2 5 4.4 4.6 5 4.7 5 4.3 5 3.8z"/>
<path fill="#0067ff" d="M72.7 858.9l1.6 1 127.4 0 5.6-3.6 5.1-3.6 5-4 5.2-4.7 4.8-4.7 4.6-5.2 4-5 4.2-5.9 2.3-3.6 0-125.7 -3.6-5.6 -3.7-5 -4-4.9 -4.8-5.3 -4.8-4.7 -4.5-3.9 -5.1-4 -5.7-4 -4.6-2.9 -127.4 0 -5.6 3.5 -5.1 3.6 -5 4 -5.2 4.7 -4.8 4.8 -4.6 5.1 -4 5 -4.2 6 -2.3 3.6 0 125.7 3.6 5.6 4.4 5.9 4.2 5 4.9 5.2 5 4.8 5.8 4.9 5.3 3.9z"/>
<path fill="#006eff" d="M76 858.9l1.7 1 120.6 0 6-3.6 6.2-4.3 5.9-4.7 5.9-5.3 5.1-5.2 4.9-5.7 4.5-5.9 3.9-6 1.8-2.9 0-119.1 -3.7-6 -4.2-5.9 -4.8-6 -4.5-4.9 -5.1-5 -5.8-5 -6.1-4.5 -6-4 -4-2.3 -120.6 0 -6 3.6 -6.2 4.3 -5.9 4.6 -5.9 5.3 -5.1 5.3 -4.9 5.6 -4.5 6 -3.9 5.9 -1.8 3 0 119.1 4.3 6.9 4.4 5.9 4.4 5.4 5.1 5.6 5.9 5.5 6 5 6.1 4.3z"/>
<path fill="#0076ff" d="M79.4 858.9l1.8 1 113.6 0 6.9-4 6.6-4.4 6.1-4.7 3.2-2.8 3.3-2.9 5.5-5.7 2.9-3.3 2.4-3 4.4-5.9 2.4-3.6 2.1-3.4 1.9-3.4 0-112.2 -4-6.8 -4.5-6.5 -4.7-6 -5.4-5.9 -5.5-5.3 -6-5.1 -6.2-4.5 -3.9-2.6 -3-1.8 -4.5-2.5 -113.6 0 -6.9 3.9 -6.6 4.5 -6.1 4.6 -3.2 2.8 -3.3 3 -5.5 5.7 -2.9 3.2 -2.4 3 -4.4 6 -2.4 3.5 -2.1 3.4 -1.9 3.4 0 112.2 1.9 3.4 2.5 4 4.6 6.7 5.1 6.2 2.6 3 2.9 3 3.1 2.9 3.3 3 6.2 5 3 2.2 4 2.7z"/>
<path fill="#007eff" d="M82.9 858.9l2 1 106.2 0 4.2-2.2 4-2.3 3-1.8 3.8-2.6 3.2-2.4 3.4-2.6 3.5-3 3.2-2.9 3.1-3 2.9-3.2 3-3.4 2.7-3.3 2.4-3.2 2.6-3.8 1.9-3 2.3-3.9 2.2-4.1 0-104.9 -1.6-3.1 -2.3-4 -2.1-3.4 -2.5-3.5 -2.6-3.6 -2.7-3.4 -5.3-6 -3-3 -3.1-2.9 -3.4-3 -3.6-2.8 -3-2.3 -4-2.7 -3.2-2.1 -3.8-2.2 -5.2-2.7 -106.2 0 -4.2 2.1 -4 2.3 -3 1.9 -3.8 2.6 -3.2 2.3 -3.4 2.6 -3.5 3 -3.2 2.9 -3.1 3.1 -2.9 3.1 -3 3.5 -2.7 3.3 -2.4 3.1 -2.6 3.8 -1.9 3 -2.3 4 -2.2 4.1 0 104.9 2.2 4.1 2.3 3.9 2.5 3.9 2.2 3.1 2.9 3.8 2.5 3.1 3.5 3.9 2.9 3.1 3.1 3 3.3 2.9 3.6 3 3.2 2.4 3.6 2.6 3.4 2.2 4 2.4z"/>
<path fill="#0086ff" d="M86.7 858.9l2.1 1 98.4 0 4.1-1.9 4-2.2 4-2.4 4-2.5 4-2.9 3.9-3 3.6-3 3.2-2.9 3.4-3.3 3-3.3 3-3.5 3.1-3.8 2.8-4 2.7-4 2.4-3.9 2.1-4 2-4 0-97.2 -2-4 -2.1-3.9 -2.4-4 -2.7-4 -2.8-3.9 -3.1-3.9 -3-3.5 -3-3.2 -3.4-3.3 -3.2-3 -3.6-3 -3.8-2.9 -3.1-2.2 -4-2.7 -4-2.4 -4-2.2 -5.1-2.4 -98.4 0 -4.1 1.9 -4 2.1 -4 2.4 -4 2.6 -4 2.8 -3.9 3 -3.6 3 -3.2 3 -3.4 3.3 -3 3.2 -3 3.5 -3.1 3.9 -2.8 3.9 -2.7 4 -2.4 4 -2.1 3.9 -2 4 0 97.2 2.5 5 2.2 4 2.5 3.9 2.6 4 3 4 3.2 3.9 3.1 3.5 3 3.2 3.4 3.3 3.6 3.2 3.4 2.7 4 3 3.7 2.5 4 2.6 4 2.3z"/>
<path fill="#008fff" d="M90.6 858.9l2.3 1 90.2 0 5.1-2.3 4.1-2.1 4.6-2.5 4.4-2.8 4-2.8 4-3 4.1-3.3 3.2-3 3.8-3.7 3-3.3 3.4-3.9 3.1-4 2.8-4 3.1-4.9 2.3-4 2.5-5 1.9-4.1 0-89 -2.4-5.1 -2-3.9 -2.3-4 -2.5-4 -2.7-4 -3.2-4.1 -3.1-3.8 -3.6-4 -3.3-3.2 -4-3.7 -4.1-3.3 -4-3.1 -4-2.7 -4-2.6 -5-2.8 -4.1-2 -5.1-2.3 -90.2 0 -5.1 2.3 -4.1 2 -4.6 2.6 -4.4 2.8 -4 2.7 -4 3.1 -4.1 3.3 -3.2 3 -3.8 3.7 -3 3.2 -3.4 4 -3.1 4 -2.8 3.9 -3.1 5 -2.3 4 -2.5 4.9 -1.9 4.1 0 89 2.4 5.1 2 4 2.6 4.5 2.8 4.4 2.8 4 3.5 4.4 3 3.5 4 4.3 4 3.9 4 3.5 4.1 3.1 4 2.9 4 2.7 5 2.9 4.1 2.2z"/>
<path fill="#0097ff" d="M94.9 858.9l2.5 1 81.2 0 1.6-0.6 5-2.2 5-2.4 4.1-2.2 5-3 5-3.4 4-3.1 4.1-3.3 3.9-3.6 3.9-4 3.2-3.5 3.6-4.4 2.9-4 2.7-4 3-4.9 2.7-5 2.3-4.9 1.9-4.6 0-80.1 -1.9-4.6 -2.3-5 -2.7-4.9 -3-5 -3.2-4.6 -3.2-4.3 -3.3-4 -3.5-3.8 -4-4 -3.5-3.1 -4.6-3.8 -4-2.9 -4-2.7 -5-3.1 -5.1-2.7 -5-2.3 -5.6-2.3 -81.2 0 -4.6 1.8 -5 2.3 -5.1 2.7 -5 2.9 -4.7 3.1 -4.3 3.2 -4.1 3.3 -4 3.6 -3.9 3.8 -3.6 4 -3.5 4.2 -3.5 4.7 -2.7 4 -3 5 -2.7 4.9 -2.3 5 -1.9 4.6 0 80.1 0.6 1.6 2.2 5 2.5 4.9 2.8 5 3.1 4.9 3.6 5 3.1 4 3.5 3.9 3.7 3.9 4 3.8 4.1 3.4 4 3.1 5 3.5 4 2.5 5 2.9 5.1 2.5z"/>
<path fill="#00a0ff" d="M99.7 858.9l2.8 1 71 0 4.7-1.7 5-2 5-2.4 4.1-2.1 5-3 4.1-2.7 4.9-3.6 4-3.2 4.1-3.6 3.5-3.5 3.6-3.9 3.3-4 3-4 3.4-4.9 2.4-4 2.7-5 2.4-4.9 2.1-5 1.7-4.6 0-70.1 -1.7-4.7 -1.6-3.9 -2.4-5 -2.6-4.9 -2.8-4.6 -2.9-4.4 -2.9-3.9 -3.2-4 -3.6-4 -3.9-3.9 -3.5-3.3 -4.6-3.7 -4.5-3.4 -4-2.7 -4-2.4 -5.1-2.7 -5-2.5 -5-2.1 -5.7-2 -71 0 -4.7 1.6 -4 1.7 -5 2.2 -5.1 2.7 -4.6 2.7 -4.4 2.8 -5 3.7 -4 3.3 -4.1 3.6 -3.5 3.4 -3.6 4 -3.3 4 -3 3.9 -3.4 5 -2.4 4 -2.7 4.9 -2.4 5 -2.1 4.9 -1.7 4.7 0 70.1 1.7 4.6 2.1 5 2.4 4.9 2.7 5 3 4.9 2.8 4 3.4 4.5 3.8 4.4 3.7 4 3.5 3.4 4.1 3.5 4 3.2 4 2.9 5 3.3 5 2.8 5.1 2.6 5 2.2z"/>
<path fill="#00a9ff" d="M104.9 858.9l3.4 1 59.4 0 5.5-1.7 5-1.8 5-2.1 4-1.9 4.7-2.4 4.4-2.6 5-3.3 4-3 4-3.3 4.1-3.6 4-4 3-3.3 3.8-4.7 3-4 2.6-3.9 3-5 2.1-4 2.4-4.9 2.1-5 1.7-4.9 1.4-4.5 0-58.6 -1.7-5.4 -1.8-5 -2.1-4.9 -2-4 -2.4-4.6 -2.7-4.3 -3.3-5 -3.1-3.9 -3.3-4 -3.6-4 -3.1-3 -4.1-3.7 -4-3.2 -4-3 -4.4-3 -4.6-2.7 -5.1-2.7 -4-1.9 -5-2.1 -5-1.8 -5.5-1.6 -59.4 0 -5.5 1.6 -5 1.8 -5 2.1 -4 1.9 -4.7 2.5 -4.4 2.6 -5 3.3 -4 3 -4 3.2 -4.1 3.7 -4 4 -3 3.3 -3.8 4.6 -3 4 -2.6 4 -3 4.9 -2.1 4 -2.4 5 -2.1 4.9 -1.7 5 -1.4 4.4 0 58.6 1.7 5.4 1.8 5 2.1 5 2 3.9 2.4 4.6 2.7 4.4 3.3 4.9 3.1 4 3.3 4 3.7 4 4 3.9 4.1 3.6 4 3.2 4 2.9 4 2.6 5 2.9 5.1 2.6 5 2.3 5 2z"/>
<path fill="#00b2ff" d="M111.1 858.9l4.3 1 45.2 0 4.5-1.1 4-1.1 4.1-1.2 4-1.5 4-1.6 4-1.9 4-2 3.1-1.7 4-2.4 4-2.7 4-3 4.5-3.6 3.6-3.3 3.6-3.7 3.6-3.9 3.3-4 2.9-4 3.3-4.9 2.9-5 2-3.9 1.9-4 2-5 1.8-4.9 1.5-5 1.3-5.5 0-44.6 -0.8-3.5 -1.1-3.9 -1.2-4 -1.5-4 -1.6-3.9 -1.8-4 -1.5-3 -2.1-4 -3.1-4.9 -2.7-4 -3-4 -3.3-3.9 -3.7-4 -3.7-3.6 -3.8-3.3 -3.7-3 -4.6-3.4 -4-2.6 -4-2.3 -5.1-2.7 -5-2.3 -4-1.7 -5-1.7 -5.1-1.6 -6.5-1.5 -45.2 0 -3.5 0.8 -4 1 -4.1 1.3 -4 1.4 -4 1.6 -4 1.7 -3 1.5 -4.1 2.2 -5 3 -4 2.6 -4 3 -4 3.3 -4.1 3.6 -3.6 3.7 -3.6 4 -3.3 3.9 -2.9 4 -3.3 5 -2.9 4.9 -2 4 -1.9 4 -2 4.9 -1.8 5 -1.5 4.9 -1.3 5.5 0 44.6 1.1 4.5 1.1 4 1.3 3.9 1.5 4 1.6 4 1.9 4 2 3.9 1.7 3 2.9 4.5 3 4.4 3.1 4 3.4 4 3.8 3.9 3.8 3.6 3.9 3.4 3.8 3 4.3 3 4 2.5 5.1 2.9 4 2 5 2.3 5 2 5 1.6z"/>
<path fill="#00bcff" d="M119.2 858.9l6.9 1 23.8 0 5.2-0.7 5-0.9 5-1.2 5.1-1.4 4-1.4 5-1.9 5-2.2 4-2.1 5.1-2.8 4-2.6 4-2.8 4-3.1 4-3.5 3.4-3.2 3.8-3.9 3.4-4 3.1-4 2.8-3.9 2.6-4.2 2.7-4.8 2-3.9 2.2-5 1.9-5 1.6-4.9 1.4-5 1.1-4.9 0.7-4 0.5-4.1 0-23.6 -0.5-4 -0.9-5 -1.2-5 -1.4-4.9 -1.6-5 -2-4.9 -2.3-5 -2-4 -2.9-4.9 -2.6-4 -2.8-4 -3.2-3.9 -3.5-4 -3.2-3.3 -4.1-3.8 -4-3.3 -4-3.1 -4-2.7 -4.3-2.7 -4.8-2.6 -4-2 -5-2.2 -5-1.8 -5.1-1.6 -5-1.4 -5-1 -4-0.7 -4.2-0.5 -23.8 0 -4.2 0.5 -5 0.9 -5 1.1 -5 1.4 -5.1 1.6 -5 2 -5 2.2 -4 2 -5.1 2.9 -4 2.5 -4 2.8 -4 3.2 -4 3.4 -3.4 3.2 -3.8 4 -3.4 3.9 -3.1 4 -2.8 4 -2.6 4.2 -2.7 4.7 -2 4 -2.2 4.9 -1.9 5 -1.6 5 -1.4 4.9 -1.1 5 -0.7 4 -0.5 4 0 23.6 0.5 4.1 0.9 5 1.2 4.9 1.4 5 1.6 4.9 2 5 2.3 5 2 3.9 2.9 5 2.6 4 2.8 3.9 3.2 4 3.5 4 3.9 3.9 4.4 4 3.6 3 4.4 3.3 4 2.6 4 2.5 5.1 2.7 5 2.3 4 1.7 5 1.8 5.1 1.6 5 1.2z"/>
<path fill="#00c5ff" d="M123.7 857.9l5.3 0.6 5 0.3 5 0.1 5-0.2 5.1-0.4 5-0.6 5-0.9 5-1.2 5-1.4 5.1-1.7 5-1.9 4-1.8 5-2.6 4.1-2.3 4-2.5 4-2.8 4-3.2 3.9-3.3 3.2-3 3.7-3.9 3.4-4 3.1-4 2.8-3.9 2.5-4 2.3-4 2.5-4.9 2.2-5 1.5-4 1.7-4.9 1.3-5 1.1-4.9 0.9-5 0.6-5 0.3-4.9 0.2-5 -0.2-4.9 -0.3-5 -0.6-5 -0.9-4.9 -1.1-5 -1.3-4.9 -1.7-5 -1.5-4 -2.2-4.9 -2.5-5 -2.3-4 -2.5-3.9 -3-4.3 -3-3.9 -3.3-3.7 -3.7-4 -3.2-3 -3.9-3.3 -4-3.1 -4-2.8 -4.2-2.7 -4.9-2.7 -4-2 -4-1.8 -5-2 -5.1-1.7 -5-1.4 -5-1.1 -5-0.9 -5-0.7 -5.1-0.4 -5-0.1 -6 0.1 -5 0.3 -5.1 0.6 -5 0.9 -5 1.1 -5 1.3 -5.1 1.6 -4 1.6 -5 2.1 -5 2.5 -4.1 2.2 -4 2.5 -4.3 3 -3.9 3 -3.8 3.2 -4.1 3.7 -3.7 4 -3.4 3.9 -3.1 4 -2.8 4 -2.5 3.9 -2.3 4 -2.5 5 -2.2 4.9 -1.5 4 -1.7 5 -1.3 4.9 -1.1 5 -0.9 4.9 -0.6 5 -0.3 5 -0.2 5.9 0.2 5 0.4 4.9 0.7 5 0.9 5 1.1 4.9 1.4 5 1.8 4.9 1.9 5 1.9 4 2.6 4.9 2.3 4 2.6 4 2.8 3.9 3.2 4 3.3 3.8 3.1 3.1 4 3.8 4 3.3 4 3.1 4 2.7 4 2.5 4.1 2.3 5 2.4 5 2.2 5 1.8 5.1 1.6 5 1.3 5 1.1z"/>
<path fill="#00cfff" d="M127.7 856.9l5.3 0.4 5 0.1 5-0.1 5-0.4 5.1-0.6 5-0.8 5-1.1 4-1.1 5.1-1.6 4-1.5 4-1.6 5-2.4 5-2.8 4.1-2.4 4-2.8 4-3 3.7-3.1 3.3-3.1 3.8-3.8 3.3-3.7 3-3.7 3-4.2 2.8-4.3 2.3-4 2.1-3.9 2.3-5 2-5 1.3-3.9 1.5-5 1.1-4.9 0.9-5 0.7-5 0.4-4.9 0.2-5 -0.1-4.9 -0.3-5 -0.6-5 -0.8-4.9 -1-5 -1.4-4.9 -1.6-5 -1.5-4 -1.7-3.9 -2.4-5 -2.8-5 -2.5-3.9 -2.7-4 -3.1-4 -3.1-3.6 -3.2-3.3 -3.9-3.8 -3.7-3.2 -3.7-2.9 -4.3-3 -4.3-2.8 -4.1-2.3 -4-2 -5-2.3 -5-1.9 -4.1-1.4 -5-1.4 -5-1.1 -5-0.9 -5-0.7 -5.1-0.4 -5-0.2 -5 0.1 -5 0.3 -5.1 0.6 -5 0.8 -5 1 -5 1.3 -5.1 1.6 -4 1.5 -4 1.7 -5 2.4 -5 2.7 -4.1 2.5 -4 2.7 -4 3.1 -3.7 3 -3.3 3.1 -3.8 3.9 -3.3 3.6 -3 3.8 -3 4.1 -2.8 4.3 -2.3 4 -2.1 4 -2.3 4.9 -2 5 -1.3 4 -1.5 4.9 -1.1 5 -0.9 5 -0.7 4.9 -0.4 5 -0.2 4.9 0.1 5 0.3 5 0.6 4.9 0.8 5 1 4.9 1.4 5 1.6 5 1.5 3.9 1.7 4 2.4 5 2.8 4.9 2.5 4 2.7 3.9 3.1 4 3.4 4 3.8 3.9 3.2 3 3.8 3.3 4 3.1 4 2.8 4.4 2.7 4.7 2.7 4 1.9 5 2.2 4 1.6 5.1 1.6 5 1.4 5 1.1 5 0.8z"/>
<path fill="#00d9ff" d="M127.3 854.9l4.7 0.4 5 0.2 5-0.1 5-0.3 5.1-0.6 5-0.8 5-1.1 4-1 4.1-1.2 5-1.8 5-2.2 4-1.9 4-2.1 4.1-2.4 4-2.7 4.3-3.2 3.6-3 3.3-2.9 3.9-3.9 3-3.4 3-3.7 2.9-3.9 2.6-4 2.4-4 2.6-4.9 1.9-4 2-5 1.4-3.9 1.4-5 1-3.9 1-5 0.7-5 0.5-4.9 0.2-5 0-5 -0.3-4.9 -0.5-5 -0.8-4.9 -0.8-4 -1.2-5 -1.6-4.9 -1.8-5 -2.1-4.9 -2-4 -2.2-4 -2.4-3.9 -2.7-4 -3-4 -3.2-3.8 -3.1-3.3 -3-2.9 -4-3.6 -4-3.2 -4-2.9 -4-2.6 -4.1-2.4 -5-2.6 -4-1.8 -5-2 -4.1-1.3 -5-1.5 -4-1 -5-0.9 -5-0.7 -5.1-0.5 -5-0.2 -5 0 -5 0.3 -5.1 0.5 -5 0.7 -4 0.8 -5 1.3 -5.1 1.5 -5 1.8 -5 2.1 -4 1.9 -4 2.2 -4.1 2.4 -4 2.7 -4 2.9 -3.9 3.2 -3.3 3 -3 3 -3.6 3.9 -3.3 4 -2.9 4 -2.6 3.9 -2.4 4 -2.6 5 -1.9 3.9 -2 5 -1.4 4 -1.4 4.9 -1 4 -1 5 -0.7 4.9 -0.5 5 -0.2 4.9 0 5 0.3 5 0.5 4.9 0.8 5 0.8 4 1.2 4.9 1.6 5 1.8 4.9 2.1 5 2 4 2.2 3.9 2.4 4 2.7 4 3.2 4.2 3.2 3.7 3.7 4 3.2 3 4 3.5 4 3.1 4 2.9 4.1 2.5 4 2.3 4 2 5 2.2 4 1.6 5.1 1.7 5 1.4 5 1.1 5 0.9z"/>
<path fill="#00e3ff" d="M132.9 853.9l4.1 0.2 5-0.1 5-0.3 5.1-0.6 5-0.8 5-1.1 5-1.4 4.1-1.3 5-1.9 4-1.7 4-2 4-2.2 4.1-2.4 4-2.8 4-3 4-3.4 3.2-2.9 3.8-4 3.1-3.5 2.7-3.4 2.8-4 2.6-4 2.3-3.9 2-4 1.8-4 2-4.9 1.4-4 1.4-5 1-3.9 0.9-5 0.7-5 0.4-4.9 0.2-5 0-4 -0.3-4.9 -0.5-5 -0.8-4.9 -1.1-5 -1-4 -1.6-4.9 -1.4-4 -2.1-4.9 -2-4 -2.4-4.4 -2.2-3.6 -2.8-4.2 -2.8-3.7 -3.4-4 -3.7-3.9 -3.1-3 -3.4-3 -3.8-3 -3.9-2.8 -4.1-2.6 -4.3-2.5 -4.7-2.4 -4-1.8 -5-1.9 -4.1-1.4 -5-1.4 -4-0.9 -5-1 -5-0.6 -5.1-0.4 -5-0.2 -4 0 -5 0.3 -5.1 0.5 -5 0.8 -5 1 -4 1.1 -5.1 1.5 -4 1.4 -5 2.1 -4 1.9 -4.5 2.4 -3.6 2.1 -4.2 2.9 -3.8 2.8 -4 3.2 -4 3.7 -3 3.1 -3.1 3.4 -3 3.7 -2.9 3.9 -2.6 3.9 -2.5 4.4 -2.4 4.6 -1.8 3.9 -2 5 -1.4 4 -1.4 4.9 -1 4 -0.9 5 -0.7 4.9 -0.4 5 -0.2 4.9 0.1 5 0.3 5 0.6 4.9 0.8 5 1.1 4.9 1.4 5 1.3 4 1.9 4.9 1.8 4 2 4 2.2 3.9 2.5 4 2.8 4 3 3.9 3.4 4 3.1 3.1 4 3.8 3.5 3 3.9 3 3.6 2.5 4.1 2.5 4 2.3 5 2.5 4 1.7 5 1.9 4.1 1.3 5 1.4 5 1.1 4 0.7 5.1 0.6z"/>
<path fill="#0ef" d="M132.5 852l4.5 0.1 5-0.1 5-0.3 4.1-0.4 5-0.8 5-1.1 4-1 5.1-1.6 4-1.5 5-2.1 4-2 4-2.2 4.1-2.4 4-2.7 3.6-2.8 3.4-2.8 3.4-3.1 3.6-3.7 3.1-3.5 3-3.7 2.8-4 2.6-4 2.3-3.9 2-4 1.8-4 2-4.9 1.3-4 1.4-5 1.2-4.9 0.7-4 0.5-4 0.4-4.9 0.2-5 0-4 -0.3-4.9 -0.6-5 -0.8-4.9 -1-5 -1.1-4 -1.6-4.9 -1.5-4 -2.1-4.9 -2-4 -2.2-4 -2.5-4 -2.8-3.9 -2.7-3.6 -2.9-3.4 -3.2-3.3 -3.7-3.6 -3.5-3 -3.8-3 -4-2.8 -4.1-2.5 -4-2.3 -4-2 -4-1.8 -5-1.9 -4.1-1.3 -5-1.4 -5-1.1 -4-0.7 -4-0.6 -5.1-0.4 -5-0.2 -4 0.1 -5 0.3 -5.1 0.5 -5 0.8 -5 1 -4 1.1 -5.1 1.6 -4 1.4 -5 2.2 -4 1.9 -4 2.2 -4.1 2.5 -4 2.7 -3.6 2.7 -3.4 2.9 -3.4 3.1 -3.6 3.7 -3.1 3.4 -3 3.8 -2.8 4 -2.6 3.9 -2.3 4 -2 4 -1.8 3.9 -2 5 -1.3 4 -1.4 4.9 -1.2 5 -0.7 3.9 -0.5 4 -0.4 5 -0.2 4.9 0 4 0.3 5 0.6 4.9 0.8 5 1 4.9 1.1 4 1.6 5 1.5 3.9 2.1 5 2 4 2.2 3.9 2.5 4 2.8 4 2.7 3.5 2.9 3.4 3.2 3.4 3.7 3.6 3.5 2.9 3.8 3 4 2.8 4.1 2.6 4 2.2 4 2 4 1.8 5 1.9 4.1 1.4 5 1.4 5 1.1 4 0.7 5.1 0.6z"/>
<path fill="#00f8ff" d="M126 850l4 0.4 5 0.3 5 0 5-0.2 4.1-0.4 5-0.7 5-1 4-0.9 4-1.2 5.1-1.7 4-1.6 4-1.8 4-2.1 4-2.3 4.1-2.5 4-2.9 4-3.2 3-2.7 3-2.9 3.2-3.4 2.9-3.4 2.7-3.5 2.8-4 2.4-4 2.2-3.9 2-4 1.7-4 1.9-4.9 1.5-5 1.1-3.9 1-5 0.6-4 0.5-3.9 0.3-5 0.1-5 -0.2-4.9 -0.4-5 -0.7-4.9 -1-5 -1-4 -1.2-3.9 -1.7-5 -1.6-4 -1.9-3.9 -2-4 -2.4-4 -2.6-3.9 -2.9-4 -3.3-4 -2.7-3 -2.9-2.9 -3.4-3.1 -3.4-2.9 -3.6-2.7 -4.1-2.7 -4-2.5 -4-2.1 -4-2 -4-1.7 -5.1-1.8 -5-1.5 -4-1.1 -5-1 -4-0.6 -4.1-0.5 -5-0.3 -5-0.1 -5 0.2 -5.1 0.5 -5 0.7 -5 0.9 -4 1 -4 1.1 -5.1 1.8 -4 1.6 -4 1.8 -4 2 -4 2.3 -4.1 2.6 -4 2.9 -4 3.2 -3 2.7 -3 2.9 -3.2 3.3 -2.9 3.4 -2.7 3.6 -2.8 3.9 -2.4 4 -2.2 4 -2 3.9 -1.7 4 -1.9 5 -1.5 4.9 -1.1 4 -1 5 -0.6 3.9 -0.5 4 -0.3 5 -0.1 4.9 0.2 5 0.4 4.9 0.7 5 1 5 1 3.9 1.2 4 1.7 5 1.6 3.9 1.9 4 2 4 2.4 3.9 2.6 4 2.9 4 3.3 3.9 3 3.3 3.7 3.7 3.3 3 3.7 2.9 3.3 2.5 4.1 2.6 4 2.4 4 2.1 4 1.9 5 2 4.1 1.4 5 1.5 4 0.9 5 1z"/>
<path fill="#00fffb" d="M125.9 848l4.1 0.4 5 0.3 5 0 4-0.1 4-0.4 5.1-0.6 5-1 4-0.9 5-1.5 4.1-1.3 4-1.6 4-1.8 4-2.1 4-2.3 4.1-2.5 3.4-2.5 3.6-2.8 3-2.6 3-2.9 3.4-3.6 2.6-3 3.1-3.9 2.8-4 2.4-3.9 2.2-4 2-4 1.7-4 1.5-3.9 1.3-4 1.3-4.9 1.1-5 0.6-4 0.5-3.9 0.3-5 0.1-5 -0.1-3.9 -0.3-4 -0.6-5 -0.9-4.9 -0.9-4 -1.4-5 -1.4-3.9 -1.5-4 -1.8-4 -2-3.9 -2.3-4 -2.5-4 -2.9-3.9 -3.1-4 -2.7-3 -2.9-3 -3.6-3.3 -3.1-2.6 -3.9-3 -4.1-2.7 -4-2.5 -4-2.1 -4-2 -4-1.7 -4.1-1.4 -4-1.3 -5-1.3 -5-1.1 -4-0.6 -4.1-0.5 -5-0.3 -5-0.1 -4 0.1 -4 0.3 -5.1 0.6 -5 0.9 -4 0.9 -5 1.4 -4.1 1.3 -4 1.6 -4 1.7 -4 2 -4 2.2 -4 2.5 -4.1 2.8 -4 3.2 -3 2.6 -3 2.8 -3.4 3.6 -2.6 3.1 -3.1 3.9 -2.8 3.9 -2.4 4 -2.2 4 -2 3.9 -1.7 4 -1.5 4 -1.3 3.9 -1.3 5 -1.1 5 -0.6 3.9 -0.5 4 -0.3 5 -0.1 4.9 0.2 5 0.3 3.9 0.7 5 0.9 5 1 3.9 1.5 5 1.4 4 1.6 3.9 1.8 4 2.1 4 2.3 3.9 2.6 4 2.4 3.4 2.9 3.5 2.7 3 2.9 3 3.6 3.4 3.1 2.6 3.9 3 4.1 2.7 4 2.4 4 2.2 4 1.9 5 2.1 4.1 1.4 5 1.5 4 1 5 1z"/>
<path fill="#00ffef" d="M129.7 847l4.3 0.3 5 0.1 4-0.2 5-0.4 4.1-0.5 5-0.9 5-1.1 4-1.2 4.1-1.3 4-1.6 4-1.8 4-2 4-2.3 4-2.5 3.5-2.5 3.6-2.8 3-2.6 3-2.8 3-3.2 3-3.5 2.4-2.9 2.8-4 2.5-3.9 2.2-4 2-4 1.8-4 1.5-3.9 1.3-4 1.1-4 1.2-4.9 0.8-5 0.5-3.9 0.3-4 0.1-5 -0.1-4.9 -0.3-4 -0.5-4 -0.8-4.9 -1.2-5 -1.1-4 -1.3-3.9 -1.5-4 -1.8-4 -2-3.9 -2.2-4 -2.5-4 -2.8-3.9 -2.4-3 -3-3.5 -3.3-3.5 -3.2-2.9 -3.5-3 -3-2.3 -4.1-2.8 -4-2.5 -4-2.2 -4-1.9 -4-1.8 -4.1-1.5 -4-1.3 -4-1.1 -5-1.1 -5-0.8 -4.1-0.5 -4-0.3 -5-0.1 -5 0.1 -4 0.3 -4.1 0.5 -5 0.8 -5 1.1 -4 1.1 -4 1.3 -4.1 1.5 -4 1.8 -4 1.9 -4 2.2 -4 2.5 -4.1 2.8 -3 2.3 -3.5 3 -3.2 2.9 -3.3 3.5 -3 3.5 -2.4 3 -2.8 3.9 -2.5 4 -2.2 4 -2 3.9 -1.8 4 -1.5 4 -1.3 3.9 -1.1 4 -1.2 5 -0.8 4.9 -0.5 4 -0.3 4 -0.1 4.9 0.1 5 0.3 4 0.5 3.9 0.8 5 1.2 4.9 1.1 4 1.7 5 1.5 3.9 1.8 4 2.1 4 2.3 3.9 2.6 4 2.4 3.4 2.9 3.6 2.7 2.9 2.8 3 3.2 3 3.6 3 2.9 2.3 4.1 2.7 4 2.5 4 2.2 4 2 4 1.7 5.1 1.9 4 1.2 4 1.1 5 1 4 0.7z"/>
<path fill="#00ffe4" d="M130.1 845l4.9 0.3 4 0.1 4-0.2 5-0.4 4.1-0.5 5-0.9 4-0.9 4-1.2 4-1.3 4.1-1.5 4-1.8 4-2 4-2.3 3-1.9 4.1-2.8 3.2-2.5 3.5-3 3.1-3 2.8-3 2.6-2.9 2.8-3.6 2.4-3.4 2.5-3.9 2.3-4 2-4 1.7-3.9 1.5-4 1.3-4 1.1-3.9 0.9-4 0.8-5 0.5-3.9 0.4-5 0.1-4 -0.1-3.9 -0.4-5 -0.5-4 -0.8-4.9 -0.9-4 -1.1-4 -1.3-3.9 -1.5-4 -1.7-4 -2-3.9 -2.3-4 -2.5-4 -2.4-3.3 -2.8-3.6 -2.6-3 -2.8-3 -3.1-3 -3.7-3.1 -3.7-2.8 -3.4-2.4 -4-2.4 -3.8-2.1 -4.2-2.1 -4-1.7 -4.1-1.5 -4-1.3 -4-1.1 -4-0.8 -5-0.9 -4.1-0.5 -5-0.3 -4-0.1 -4 0.1 -5 0.3 -4.1 0.5 -5 0.9 -4 0.8 -4 1.1 -4 1.3 -4.1 1.5 -4 1.7 -4 2 -4 2.2 -4 2.4 -3.4 2.4 -3.7 2.8 -3.7 3.1 -3.1 3 -2.8 3 -2.6 3 -2.8 3.6 -2.4 3.3 -2.5 4 -2.2 3.8 -2.1 4.1 -1.7 4 -1.5 4 -1.3 3.9 -1.1 4 -0.9 4 -0.8 4.9 -0.5 4 -0.4 5 -0.1 3.9 0.1 4 0.4 5 0.5 3.9 0.8 5 0.9 4 1.1 3.9 1.3 4 1.9 4.9 1.8 4 2.1 4 2.3 4 1.9 2.9 2.8 4 2.6 3.2 3 3.4 3 3.1 3 2.8 3 2.6 3.7 2.8 3.4 2.3 4 2.5 4 2.2 4 1.9 4 1.8 4.1 1.4 4 1.3 4 1.1 5 1.1 5 0.8z"/>
<path fill="#00ffd8" d="M124.6 843l4.4 0.6 4 0.3 4 0.1 5-0.1 4-0.2 4.1-0.5 5-0.8 4-0.8 4-1.1 4-1.2 4.1-1.5 4-1.7 4-1.9 4-2.2 4-2.4 3-2.1 3.2-2.3 3.6-3 3.2-3 2.9-3 2.7-2.9 2.5-3.2 2.8-3.8 2-2.9 1.7-3 2.2-4 1.9-4 1.6-3.9 1.4-4 1.2-4 1.1-3.9 0.9-5 0.8-5 0.3-3.9 0.2-4 0-5 -0.3-4.9 -0.5-4 -0.6-3.9 -0.8-4 -1.1-4 -1.2-4 -1.4-3.9 -1.6-4 -1.9-4 -2.2-3.9 -2.4-4 -2-3 -3-3.9 -2.5-3 -2.7-3 -3.1-3 -3.3-2.9 -3.5-2.9 -3.1-2.2 -4-2.6 -3-1.7 -4-2.2 -4-1.8 -4-1.6 -4.1-1.4 -4-1.2 -4-1 -5-1 -5.1-0.7 -4-0.4 -4-0.1 -5 0 -5 0.3 -4.1 0.4 -4 0.7 -4 0.8 -4 1 -4 1.2 -4.1 1.4 -4 1.6 -4 1.8 -4 2.2 -4 2.4 -3 1.9 -4.1 3 -3 2.5 -3 2.7 -3 3 -3 3.3 -2.9 3.5 -2.2 2.9 -2.7 4 -1.7 3 -2.2 3.9 -1.9 4 -1.6 4 -1.4 3.9 -1.2 4 -1.1 4 -0.9 4.9 -0.8 5 -0.3 4 -0.2 3.9 0 5 0.3 5 0.5 3.9 0.6 4 0.8 4 1.3 4.9 1.3 4 1.5 4 1.7 3.9 1.9 4 2.2 4 2.5 3.9 2.1 3 2.4 3.1 3 3.5 3 3.2 3 2.9 3.7 3.2 3.3 2.6 3.4 2.3 3.7 2.3 4 2.3 4 2 4 1.7 4.1 1.5 4 1.3 4 1.1 4 0.9z"/>
<path fill="#0fc" d="M125.1 841.1l4.9 0.5 4 0.3 4 0.1 4-0.1 5-0.4 4.1-0.5 4-0.7 4-0.8 4-1.1 4-1.3 4.1-1.5 4-1.7 3.6-1.8 3.4-1.8 3.5-2.1 3.5-2.5 3.4-2.5 3.5-3 3.2-2.9 2.9-3 2.6-3 2.3-3 2.2-3 2.6-3.9 1.7-3 2.1-4 1.8-3.9 1.6-4 1.3-4 1.2-3.9 0.9-4 0.7-4 0.6-4 0.3-3.9 0.2-4 0-5 -0.3-4.9 -0.5-4 -0.6-3.9 -0.8-4 -1.1-4 -1.2-4 -1.5-3.9 -1.7-4 -1.9-4 -1.6-2.9 -2.5-4 -2.3-3.4 -2.7-3.5 -2.5-3 -2.8-3 -3-2.9 -3-2.7 -3-2.4 -3.1-2.2 -4.1-2.7 -3.4-2 -3.5-1.8 -4-1.8 -4.1-1.7 -4-1.3 -4-1.2 -4-1 -5-0.9 -4.1-0.6 -4-0.3 -4-0.2 -5 0 -5 0.3 -4.1 0.5 -4 0.6 -4 0.8 -4 1.1 -4 1.2 -4.1 1.4 -4 1.7 -4 1.9 -3 1.6 -4 2.4 -3.4 2.3 -3.7 2.7 -3 2.5 -3 2.7 -3 3 -2.6 3 -2.5 2.9 -2.2 3 -2.8 4.1 -2 3.4 -1.8 3.4 -1.9 4 -1.6 4 -1.4 3.9 -1.2 4 -1 4 -0.9 4.9 -0.6 4 -0.3 4 -0.2 3.9 0 5 0.3 5 0.5 3.9 0.6 4 0.8 4 1.1 3.9 1.2 4 1.5 4 1.7 3.9 1.9 4 2.2 4 2.2 3.4 2.4 3.5 2.6 3.3 3 3.5 3 3.1 3 2.9 3 2.6 3.1 2.3 3 2.2 4 2.5 3 1.7 4 2 4 1.8 4.1 1.6 5 1.6 4 1.1 4 0.8z"/>
<path fill="#00ffbf" d="M127.9 840.1l4.1 0.3 4 0.2 5 0 4-0.2 4.1-0.4 4-0.6 4-0.8 4-1 4-1.2 4-1.4 4.1-1.7 3-1.4 4-2 3-1.8 4-2.6 3.2-2.3 2.9-2.3 3-2.7 3.1-2.9 2.9-3.2 3-3.6 2.4-3.2 2-2.9 2.4-4 1.6-3 1.9-4 1.7-3.9 1.4-4 1.2-4 1-3.9 0.8-4 0.6-4 0.4-3.9 0.2-4 0.1-5 -0.2-3.9 -0.4-4 -0.5-4 -0.8-3.9 -0.9-4 -1.2-4 -1.4-3.9 -1.6-4 -1.8-4 -2.1-3.9 -1.8-3 -2.6-4 -2.2-3 -2.5-2.9 -2.7-3.1 -3-3 -3.2-2.9 -3.7-2.9 -3.2-2.4 -3-1.9 -4-2.4 -3-1.6 -4-1.9 -4.1-1.6 -4-1.4 -4-1.2 -4-1 -4-0.8 -4-0.6 -4.1-0.4 -4-0.2 -5-0.1 -4 0.2 -4 0.4 -4.1 0.5 -4 0.8 -4 0.9 -4 1.1 -4 1.4 -4.1 1.6 -4 1.8 -4 2.1 -3 1.7 -4 2.6 -3 2.2 -3.1 2.4 -3 2.7 -3.1 3 -2.9 3.1 -3 3.7 -2.4 3.1 -2 3 -2.4 4 -1.6 2.9 -1.9 4 -1.7 4 -1.4 3.9 -1.2 4 -1 4 -0.8 3.9 -0.6 4 -0.4 4 -0.2 3.9 -0.1 5 0.2 4 0.5 4.9 0.6 4 0.8 4 1 3.9 1.2 4 1.4 4 1.7 3.9 1.4 3 2.1 4 1.8 3 2.6 3.9 2.4 3.2 2.3 2.8 2.7 3 3 3 3.2 2.9 3.7 3 3.2 2.3 3 2 4 2.4 3 1.6 4 1.8 4.1 1.7 4 1.4 4 1.2 4 1 4 0.8z"/>
<path fill="#00ffb2" d="M128.5 838.1l4.5 0.4 4 0.1 4-0.1 4-0.2 4.1-0.4 4-0.6 4-0.8 4-1 4-1.3 4-1.4 3.1-1.2 4-1.9 4-2.2 3-1.8 3-2 3-2.2 3.1-2.4 3.2-2.9 3-2.9 2.7-3 2.4-3 2.3-3 2-2.9 2.4-4 1.6-3 1.9-3.9 1.6-4 1.4-4 0.9-3 1.1-3.9 0.8-4 0.6-4 0.4-3.9 0.3-4 0-5 -0.2-3.9 -0.4-4 -0.5-4 -0.8-3.9 -1-4 -1.2-4 -1.4-3.9 -1.6-4 -1.4-3 -2.1-3.8 -1.8-3.1 -2.2-3.3 -2.7-3.7 -2.4-2.9 -2.9-3.2 -3-3 -3-2.7 -3.1-2.4 -3-2.2 -3-2 -4-2.3 -3-1.6 -4-1.9 -4.1-1.6 -4-1.4 -3-0.9 -4-1 -4-0.8 -4-0.6 -4.1-0.5 -4-0.2 -5 0 -4 0.2 -4 0.3 -4.1 0.6 -4 0.8 -4 0.9 -4 1.2 -4 1.4 -4.1 1.6 -3 1.4 -3.9 2 -3.1 1.8 -3.4 2.2 -3.6 2.6 -3.1 2.4 -3.2 2.9 -3 3 -2.7 3 -2.4 2.9 -2.3 3 -2 3 -2.4 4 -1.6 2.9 -1.9 4 -1.6 4 -1.4 3.9 -0.9 3 -1.1 4 -0.8 3.9 -0.6 4 -0.4 4 -0.3 3.9 0 5 0.2 4 0.4 3.9 0.5 4 0.8 4 1 4 1.2 3.9 1.4 4 1.6 4 1.4 2.9 2.1 3.9 1.8 3.1 2.2 3.3 2.7 3.6 2.4 3 2.9 3.2 3 2.9 3 2.7 3.1 2.4 3 2.2 3 2 4 2.4 3 1.6 4 1.9 4.1 1.6 4 1.4 4 1.1 4 1 4 0.8z"/>
<path fill="#00ffa5" d="M132 837.1l4 0.2 4 0 4-0.2 4-0.4 4.1-0.6 4-0.7 4-1 4-1.2 4-1.4 3.1-1.2 4-1.9 3-1.5 3.4-2 3.6-2.4 3-2.1 3.1-2.4 3-2.7 3-3 2.2-2.3 2.8-3.4 2.7-3.5 2-3 1.8-3 2.1-4 1.9-3.9 1.2-3 1.5-4 1.2-3.9 0.9-4 0.6-3 0.7-4 0.4-3.9 0.2-4 0.1-4 -0.1-3.9 -0.4-4 -0.5-4 -0.7-3.9 -1-4 -1.1-4 -1.4-3.9 -1.6-4 -1.9-4 -1.6-3 -2-3.3 -2.3-3.6 -2.2-3 -2.5-3 -2.7-2.9 -3-3 -2.3-2.2 -3.5-2.8 -3.6-2.6 -3-2 -3-1.8 -4-2.1 -4-1.8 -3.1-1.2 -4-1.4 -4-1.2 -4-1 -3-0.6 -4-0.6 -4.1-0.5 -4-0.2 -4 0 -4 0.1 -4 0.3 -4.1 0.6 -4 0.7 -4 0.9 -4 1.1 -4 1.4 -4.1 1.6 -4 1.8 -3 1.6 -3.4 2 -3.6 2.3 -3 2.2 -3.1 2.4 -3 2.7 -3 2.9 -2.2 2.4 -2.8 3.3 -2.7 3.6 -2 3 -1.8 3 -2.1 3.9 -1.9 4 -1.2 3 -1.5 3.9 -1.2 4 -0.9 4 -0.6 2.9 -0.7 4 -0.4 4 -0.2 3.9 -0.1 4 0.1 4 0.4 4 0.5 3.9 0.7 4 1 4 1.1 3.9 1.4 4 1.6 4 1.9 3.9 1.6 3 2 3.4 2.3 3.6 2.2 2.9 2.5 3 2.7 3 3 3 2.3 2.1 3.5 2.8 3.6 2.6 3 2 3 1.8 4 2.1 4 1.9 3.1 1.2 4 1.4 4 1.2 4 1 4 0.7 4.1 0.6z"/>
<path fill="#00ff98" d="M133.6 835.1l4.4 0.1 4-0.1 4-0.3 4.1-0.5 4-0.6 4-0.9 4-1.1 3-1 3-1.1 4.1-1.7 4-2 3-1.7 3-1.8 3-2.1 3-2.3 3.1-2.5 3-2.8 2.4-2.4 2.6-3 2.4-3 2.1-2.9 2-3 1.7-3 2.1-4 1.3-2.9 1.6-4 1.4-4 1.1-3.9 0.9-4 0.6-3 0.5-3.9 0.3-4 0.2-4 -0.1-4 -0.2-3.9 -0.4-4 -0.7-4 -0.8-3.9 -1.1-4 -1-3 -1.4-3.9 -1.3-3 -1.9-4 -1.7-3 -2.4-3.9 -2.1-3 -2.3-3 -2.5-3 -2.9-2.9 -2.4-2.4 -3.1-2.6 -3-2.3 -3-2.2 -3-1.9 -3-1.7 -4-2 -3-1.4 -4.1-1.6 -4-1.3 -4-1.1 -4-0.9 -3-0.5 -4.1-0.6 -4-0.3 -4-0.2 -4 0.1 -4 0.2 -4.1 0.5 -4 0.6 -4 0.8 -4 1.1 -3 0.9 -4 1.5 -3.1 1.2 -4 1.9 -3 1.7 -4 2.4 -3 2 -3 2.3 -3.1 2.5 -3 2.8 -2.4 2.5 -2.6 2.9 -2.4 3 -2.1 3 -2 3 -1.7 2.9 -2.1 4 -1.3 3 -1.6 3.9 -1.4 4 -1.1 4 -0.9 4 -0.6 2.9 -0.5 4 -0.3 4 -0.2 3.9 0.1 4 0.2 4 0.4 3.9 0.7 4 0.8 4 1.1 3.9 1 3 1.4 4 1.3 3 1.9 3.9 1.7 3 2.4 4 2.1 3 2.3 2.9 2.5 3 2.9 3 2.4 2.3 3.1 2.6 3 2.4 3 2.1 3 1.9 3 1.8 4 2 3 1.3 4.1 1.6 4 1.4 4 1.1 4 0.9 4 0.6 4.1 0.5z"/>
<path fill="#00ff8a" d="M126.4 833.1l3.6 0.4 4 0.3 4 0.1 4-0.1 4-0.3 4.1-0.5 3-0.5 4-0.8 4-1.1 3-0.9 3-1.1 4.1-1.7 3.6-1.7 3.4-1.9 3-1.8 3-2 3-2.3 3-2.5 3.1-2.8 2.5-2.6 2.7-3 2.3-2.9 2.1-3 2-3 1.7-3 1.5-3 1.4-2.9 1.7-4 1-3 1.2-3.9 1-4 0.7-4 0.6-3.9 0.3-4 0.2-4 -0.1-4 -0.2-3.9 -0.5-4 -0.6-4 -0.6-2.9 -1.1-4 -1.2-4 -1.1-2.9 -1.7-4 -1.8-3.6 -1.8-3.4 -1.9-2.9 -2.1-3 -2.2-3 -2.6-3 -2.8-2.9 -2.6-2.6 -3.1-2.6 -3-2.3 -3-2.1 -3-1.9 -3-1.7 -3-1.5 -3-1.4 -4.1-1.6 -3-1.1 -4-1.1 -4-1 -4-0.7 -4.1-0.6 -4-0.3 -4-0.2 -4 0.1 -4 0.2 -4.1 0.5 -4 0.6 -3 0.6 -4 1 -4 1.3 -3 1.1 -4.1 1.6 -3.6 1.8 -3.4 1.8 -3 1.9 -3 2 -3 2.2 -3 2.5 -3.1 2.8 -2.5 2.6 -2.7 3 -2.3 3 -2.1 3 -2 3 -1.7 2.9 -1.5 3 -1.4 3 -1.7 3.9 -1 3 -1.2 4 -1 4 -0.7 3.9 -0.6 4 -0.3 4 -0.2 3.9 0.1 4 0.2 4 0.5 3.9 0.6 4 0.6 3 1.1 4 1.2 3.9 1.1 3 1.7 4 1.8 3.5 1.8 3.4 1.9 3 2.1 3 2.2 2.9 2.6 3 2.8 3 2.6 2.5 3.1 2.6 3 2.3 3 2.1 3 1.9 3 1.7 4 2.1 3.1 1.3 4 1.5 4 1.3 4 1.1 4 0.8z"/>
<path fill="#00ff7c" d="M127.5 831.1l3.5 0.4 4 0.3 4 0 3-0.1 4-0.3 4.1-0.5 3-0.5 4-0.9 4-1.1 3-1 4-1.5 3.1-1.3 3-1.5 3.4-1.9 3.2-2 2.9-2 2.6-1.9 2.9-2.5 2.7-2.5 2.4-2.4 2.2-2.6 2.4-2.9 2.2-3 1.9-3 1.7-3 1.6-2.9 1.4-3 1.6-4 1.3-4 0.9-2.9 0.9-4 0.7-4 0.6-3.9 0.2-3 0.2-4 -0.1-4 -0.3-3.9 -0.4-4 -0.5-3 -0.8-3.9 -1.1-4 -0.9-3 -1.5-3.9 -1.3-3 -1.9-3.8 -1.7-3.2 -1.9-2.9 -2-3 -2.3-3 -2.6-3 -2.5-2.6 -2.5-2.3 -2.6-2.3 -3-2.3 -3-2.1 -3-1.9 -3-1.7 -3-1.6 -3.1-1.3 -4-1.6 -4-1.4 -3-0.8 -4-0.9 -4-0.8 -4.1-0.5 -3-0.2 -4-0.2 -4 0.1 -4 0.2 -4.1 0.5 -3 0.5 -4 0.8 -4 1 -3 1 -4 1.4 -3.1 1.3 -3.8 1.9 -3.2 1.7 -3 1.8 -3 2.1 -3 2.2 -3 2.6 -2.7 2.5 -2.4 2.4 -2.2 2.5 -2.4 3 -2.2 3 -1.9 2.9 -1.7 3 -1.6 3 -1.4 3 -1.6 3.9 -1.3 4 -0.9 3 -0.9 4 -0.7 3.9 -0.6 4 -0.2 3 -0.2 3.9 0.1 4 0.3 4 0.4 3.9 0.5 3 0.8 4 1.1 4 1.3 3.9 1.5 4 1.4 3 1.5 2.9 1.9 3.5 2 3.1 2 2.9 2 2.5 2.5 2.9 2.9 3 2.7 2.5 3 2.5 3 2.3 3 2 3 1.9 3.2 1.7 3.8 1.9 3.1 1.2 4 1.5 3 0.9 4 1.1 4 0.8z"/>
<path fill="#00ff6e" d="M129.7 830.1l3.3 0.3 4 0.2 4-0.1 3-0.2 4-0.4 4.1-0.6 4-0.8 3-0.8 4-1.2 3-1.1 3-1.3 3.1-1.4 3-1.5 3-1.8 3-1.9 3.1-2.2 2.5-2 2.4-2.2 2.9-2.8 2.2-2.3 2.3-2.6 2.2-3 2.1-3 1.8-3 1.7-3 1.4-2.9 1.3-3 1.5-4 1-2.9 1.1-4 0.8-4 0.7-4 0.4-3.9 0.1-3 0.1-4 -0.2-3.9 -0.3-4 -0.6-4 -0.8-3.9 -0.7-3 -1.2-4 -1.1-3 -1.2-2.9 -1.8-4 -1.6-3 -1.8-3 -2-2.9 -2.2-3 -2-2.5 -2.2-2.5 -2.9-2.8 -2.3-2.1 -2.7-2.3 -3-2.2 -3-2.1 -3-1.8 -3-1.6 -3-1.4 -3.1-1.3 -4-1.5 -3-1 -4-1 -4-0.9 -4.1-0.6 -4-0.4 -3-0.2 -4 0 -4 0.1 -4 0.4 -4.1 0.6 -4 0.7 -3 0.8 -4 1.1 -3 1.1 -3 1.2 -4.1 1.8 -3 1.6 -3 1.7 -3 2 -3 2.1 -2.6 2.1 -2.4 2.1 -2.9 2.8 -2.2 2.3 -2.3 2.7 -2.2 3 -2.1 3 -1.8 2.9 -1.7 3 -1.4 3 -1.3 3 -1.5 3.9 -1 3 -1.1 4 -0.8 3.9 -0.7 4 -0.4 4 -0.1 2.9 -0.1 4 0.2 4 0.3 4 0.6 3.9 0.8 4 0.7 3 1.2 3.9 1.1 3 1.2 3 1.8 4 1.6 2.9 1.8 3 2 3 2.2 3 2.4 2.9 2.6 2.9 2.2 2.1 2.9 2.6 3 2.4 3 2.2 3 1.9 3 1.8 3 1.5 4.1 1.9 3 1.2 4 1.3 3 0.9 4 0.9 4 0.8z"/>
<path fill="#00ff5f" d="M131.5 828.2l3.5 0.2 4 0 3-0.1 4-0.3 3.1-0.4 4-0.7 4-0.9 3-0.8 4-1.4 3-1.1 3.1-1.4 3-1.5 3-1.6 3-1.9 2.9-2 2.5-2 4.6-4.1 2.8-2.9 2.3-2.5 2-2.6 2-2.8 1.9-3 1.7-3 1.5-2.9 1.4-3 1.2-3 1.3-3.9 0.9-3 0.9-4 0.7-4 0.4-2.9 0.3-4 0.1-4 -0.1-3.9 -0.2-3 -0.5-4 -0.5-3 -0.6-2.9 -1.1-4 -0.9-3 -1.5-4 -1.3-2.9 -1.5-3 -1.6-3 -1.8-3 -2.1-2.9 -2.3-3 -2.3-2.7 -2.2-2.3 -2.9-2.7 -2.6-2.2 -2.5-2 -2.9-2 -3-1.9 -3-1.7 -3-1.5 -3.1-1.3 -3-1.2 -4-1.3 -3-0.9 -4-0.9 -4-0.7 -3.1-0.4 -4-0.3 -4-0.1 -4 0.1 -3 0.2 -4.1 0.5 -3 0.5 -3 0.6 -4 1.1 -3 0.9 -4 1.5 -3 1.2 -3.1 1.5 -3 1.6 -3 1.8 -3 2.1 -3 2.2 -2.8 2.4 -2.2 2.1 -2.8 2.8 -2.3 2.6 -2 2.5 -2 2.9 -1.9 2.9 -1.7 3 -1.5 3 -1.4 3 -1.2 2.9 -1.3 4 -0.9 3 -0.9 3.9 -0.7 4 -0.4 3 -0.3 4 -0.1 3.9 0.1 4 0.2 3 0.5 3.9 0.5 3 0.6 3 1.1 4 0.9 2.9 1.5 4 1.3 3 1.6 3.2 2.1 3.7 1.9 3 2 2.8 2 2.6 2.3 2.5 2.8 2.9 2.2 2.1 2.8 2.3 3 2.3 3 2 3 1.8 3 1.7 3.1 1.4 3 1.3 4 1.4 3 1 4 1 3 0.6 4.1 0.7z"/>
<path fill="#00ff57" d="M135.1 827.2l3.9 0 3-0.1 4-0.3 3.1-0.4 4-0.7 3-0.7 4-1.1 3-1 4-1.5 3.1-1.4 3-1.5 3-1.8 3-1.9 3-2.2 2.9-2.3 2.1-1.9 2.2-2.1 2.8-2.9 2.1-2.6 1.8-2.4 2.1-3 1.8-3 1.6-2.9 1.4-3 1.3-3 1.1-3 1.3-3.9 0.7-3 0.7-3 0.6-4 0.4-2.9 0.2-4 0.1-3 -0.1-3.9 -0.3-4 -0.4-3 -0.7-4 -0.7-2.9 -1.1-4 -1-3 -1.2-3 -1.3-2.9 -1.5-3 -1.7-3 -1.9-3 -2.1-2.9 -2.1-2.7 -2-2.3 -2.9-3 -2.1-2 -2.4-1.9 -2.7-2.1 -3-2.1 -3-1.9 -3-1.7 -3.1-1.4 -3-1.3 -4-1.5 -4-1.3 -3-0.7 -3-0.7 -4.1-0.6 -3-0.3 -4-0.3 -3-0.1 -4 0.1 -4 0.4 -3.1 0.3 -4 0.7 -3 0.7 -4 1.1 -3 1 -3 1.2 -3 1.3 -3.1 1.4 -3 1.7 -3 1.9 -3 2.1 -2.7 2.1 -2.4 1.9 -2.1 2 -2.9 3 -2 2.3 -2.1 2.7 -2.1 2.9 -1.9 3 -1.7 3 -1.5 3 -1.3 2.9 -1.5 4 -1.3 4 -0.7 3 -0.7 2.9 -0.6 4 -0.4 3 -0.2 3.9 -0.1 3 0.1 4 0.3 4 0.4 2.9 0.7 4 0.7 3 1.1 4 1 2.9 1.6 4 1.4 3 1.6 2.9 1.7 3 2 3 2.2 3 2.3 2.9 1.9 2 2.2 2.2 3 2.7 2.5 2.1 2.5 1.8 3 2 3 1.8 3 1.6 3.1 1.4 3 1.3 3 1.1 4 1.2 3 0.8 3 0.6 4.1 0.7 4 0.4z"/>
<path fill="#00ff4e" d="M128.8 826.2l3.2 0.3 4 0.2 4 0 3-0.1 3-0.3 4.1-0.5 6-1.3 4-1.1 3-1 3-1.1 3-1.4 3.1-1.4 3-1.7 3-1.9 3-2.1 3-2.4 2.4-2.1 2.6-2.5 2.1-2.1 1.9-2.3 2.1-2.7 1.6-2.3 1.9-3 1.7-2.9 1.5-3 1.4-3 1.1-3 1-2.9 1.2-4 0.9-4 0.5-3 0.5-3.9 0.2-3 0.1-3 -0.1-4 -0.2-3.9 -0.4-3 -0.4-3 -0.9-3.9 -1-4 -1-3 -1.1-3 -1.3-2.9 -1.5-3 -1.6-3 -1.8-3 -2.1-2.9 -2.2-3 -2-2.3 -2.6-2.7 -2.5-2.3 -2-1.8 -3-2.3 -3-2.2 -3-1.8 -3-1.7 -3.1-1.5 -3-1.3 -3-1.2 -3-1 -4-1.1 -4-0.9 -3-0.5 -4.1-0.5 -3-0.2 -3-0.1 -4 0.1 -4 0.2 -3 0.4 -3.1 0.5 -4 0.8 -4 1 -3 1 -3 1.1 -3 1.3 -3.1 1.4 -3 1.6 -3 1.8 -3 2 -3 2.3 -2.3 1.9 -2.7 2.5 -2.4 2.5 -1.8 2 -2.4 3 -2.1 2.9 -1.9 3 -1.7 3 -1.5 3 -1.4 2.9 -1.1 3 -1 3 -1.2 4 -0.9 3.9 -0.5 3 -0.5 4 -0.2 3 -0.1 3.9 0.1 4 0.2 3 0.5 3.9 0.5 3 0.9 4 1.2 4 1 2.9 1.1 3 1.4 3 1.5 3 1.7 2.9 1.9 3 2.1 3 2.4 3 2.2 2.4 2.5 2.5 2.5 2.3 2 1.7 3 2.2 3 2.1 3 1.8 3 1.6 3.1 1.4 3 1.3 4 1.4 3 0.9 4 1 3 0.6z"/>
<path fill="#00ff40" d="M126.8 824.2l3.2 0.4 4 0.3 3 0.1 4 0 4-0.3 3-0.3 6.1-1.1 3-0.8 4-1.2 3-1.1 3-1.2 3.1-1.4 3-1.6 5-3.1 2.2-1.6 2.8-2.2 3-2.7 2-2 2-2.1 2.5-2.9 3.5-5 1.8-3 1.6-2.9 1.5-3 1.2-3 1.1-3 1-2.9 0.8-3 0.8-4 0.6-3.9 0.3-3 0.2-3 0.1-4 -0.2-3.9 -0.3-3 -0.9-6 -0.9-3.9 -0.8-3 -1-3 -1.2-3 -1.3-2.9 -1.5-3 -1.7-3 -2.1-3.4 -2-2.7 -2.3-2.8 -2.7-3 -2-2 -2.2-2 -2.9-2.3 -5-3.5 -3-1.8 -3-1.6 -3.1-1.4 -3-1.3 -3-1.1 -3-0.9 -3-0.8 -4-0.8 -4.1-0.6 -3-0.3 -3-0.2 -4-0.1 -4 0.2 -3 0.3 -6.1 0.9 -4 0.9 -3 0.8 -3 1 -3 1.1 -3 1.3 -3.1 1.5 -3 1.6 -3.4 2.2 -2.8 2 -2.8 2.2 -3 2.7 -2 1.9 -2 2.2 -2.5 2.9 -3.5 4.9 -1.8 3 -1.6 3 -1.5 3 -1.2 2.9 -1.1 3 -1 3 -0.8 3 -0.8 3.9 -0.6 4 -0.3 3 -0.2 2.9 -0.1 4 0.2 4 0.3 3 0.5 3.9 0.6 3 1 4 0.8 3 1.1 2.9 1.2 3 1.4 3 1.5 3 1.8 2.9 1.9 3 1.6 2.2 2.3 2.8 2.7 2.9 2.1 2.1 2.1 1.9 2.9 2.4 3 2.2 3 1.9 3 1.7 3.1 1.6 3 1.3 3 1.2 3 1 4 1.2 3 0.7z"/>
<path fill="#00ff39" d="M128.1 823.2l3.9 0.4 3 0.2 4 0.1 3-0.1 3-0.3 4.1-0.5 6-1.2 6-1.7 3-1.1 3-1.3 3.1-1.4 3-1.6 3-1.9 2.2-1.5 2.7-2 2.4-2 2.2-2 2.5-2.6 2.1-2.3 2-2.4 1.8-2.6 2-3 1.7-2.9 1.5-3 1.4-3 1.1-3 1-2.9 0.9-3 1.3-6 0.6-3.9 0.2-3 0.2-3 0-4 -0.2-3.9 -0.4-3 -1-6 -0.7-2.9 -1.2-4 -1-3 -1.3-3 -1.4-2.9 -1.5-2.9 -3.2-5.1 -1.8-2.5 -2.1-2.5 -2-2.3 -2.5-2.6 -2.5-2.2 -3-2.4 -5-3.5 -3-1.8 -3.1-1.5 -3-1.4 -3-1.2 -3-1.1 -3-0.9 -3-0.7 -4-0.8 -4.1-0.6 -3-0.2 -3-0.2 -4 0 -4 0.2 -3 0.3 -6.1 1.1 -3 0.7 -4 1.1 -3 1.1 -3 1.2 -3 1.4 -3 1.5 -5.1 3.1 -2.6 1.9 -2.5 1.9 -2.3 2 -2.6 2.6 -2.3 2.4 -2.5 3 -3.5 4.9 -1.8 3 -1.5 3 -1.4 2.9 -1.3 3 -1 3 -0.9 3 -0.8 3 -0.8 3.9 -0.6 4 -0.2 3 -0.2 2.9 0 4 0.2 4 0.4 3 0.6 3.9 0.6 3 1.1 4 0.9 2.9 1.1 3 1.3 3 1.5 3 1.6 2.9 1.9 3 1.5 2.3 2 2.6 2.1 2.3 2.5 2.7 2.5 2.4 2 1.7 3 2.3 3 2.1 3 1.9 3 1.6 3.1 1.4 3 1.3 3 1.1 6 1.7 4 0.9z"/>
<path fill="#00ff2e" d="M133.5 823.2l3.5 0.1 3 0 4-0.2 3-0.3 3.1-0.5 4-0.8 6-1.6 3-1.1 3-1.2 3-1.4 3.1-1.6 3-1.8 2.3-1.5 2.7-2 2.5-2 2.2-2 2.3-2.3 2-2.2 2.1-2.4 2-2.7 1.5-2.3 1.8-2.9 1.7-3.1 1.3-2.9 1.3-3 1.1-2.9 1.1-4 1.3-6 0.5-2.9 0.4-4 0.2-4 -0.1-3 -0.2-3.9 -0.3-3 -0.5-3 -0.8-3.9 -0.7-3 -0.9-3 -1.1-3 -1.3-3 -1.4-2.9 -1.6-3 -1.8-3 -1.5-2.3 -2-2.6 -2.1-2.5 -2-2.2 -2.3-2.3 -2.2-2 -2.5-2 -2.7-1.9 -2.3-1.6 -3-1.8 -3.2-1.6 -2.9-1.3 -3-1.3 -3-1 -4-1.2 -6-1.3 -3.1-0.4 -4-0.4 -4-0.2 -3 0 -4 0.3 -3 0.3 -3.1 0.4 -4 0.8 -6 1.7 -3 1 -3 1.3 -3 1.4 -3.1 1.5 -3 1.8 -2.3 1.6 -2.7 1.9 -2.5 2 -2.2 2 -2.3 2.3 -2 2.2 -2.1 2.5 -2 2.6 -1.5 2.3 -1.8 3 -1.7 3.1 -1.3 2.8 -1.3 3 -1.1 3 -1.1 4 -1.3 5.9 -0.5 3 -0.4 4 -0.2 3.9 0.1 3 0.2 4 0.3 3 0.5 2.9 0.8 4 0.7 3 0.9 3 1.1 2.9 1.3 3 1.4 3 1.6 3 1.8 2.9 1.5 2.3 2 2.7 2.1 2.4 2.3 2.6 2.7 2.6 2.7 2.3 2.3 1.8 5 3.4 3 1.7 3.1 1.5 3 1.3 3 1.2 3 1 3 0.8 3 0.8 4 0.7 3.1 0.4z"/>
<path fill="#00ff20" d="M130.2 821.2l3.8 0.3 3 0.1 6-0.1 4-0.4 3.1-0.5 6-1.3 3-0.9 3-1 3-1.2 3-1.4 5.1-2.7 3-1.9 2.6-1.9 2.4-1.9 2.3-2.1 2.7-2.7 2-2.2 2-2.4 1.9-2.6 3.2-4.9 1.5-3 1.4-3 1.2-3 1.1-2.9 0.9-3 0.7-3 1.1-5.9 0.5-6 0-4 -0.1-2.9 -0.2-3 -0.5-4 -1.3-5.9 -0.8-3 -1-3 -1.2-3 -1.3-2.9 -1.5-3 -1.7-3 -1.8-2.8 -1.6-2.2 -2.4-2.9 -1.8-2 -2-2 -2.3-2.1 -2.2-1.9 -2.8-2.1 -5-3.2 -3.1-1.7 -3-1.4 -3-1.3 -3-1 -3-1 -3-0.7 -4-0.9 -3.1-0.4 -6-0.5 -4-0.1 -3 0.1 -3 0.3 -4.1 0.5 -6 1.2 -3 0.8 -3 1 -3 1.1 -3 1.4 -3.1 1.5 -3 1.7 -2.8 1.8 -2.2 1.5 -3 2.4 -2 1.8 -2 1.9 -2.2 2.3 -1.8 2.1 -2.2 2.8 -3.3 5 -1.6 3 -1.5 2.9 -1.3 3 -1.1 3 -0.9 3 -0.8 3 -0.8 3.9 -0.5 3 -0.4 4 -0.1 2.9 0 4 0.1 3 0.4 4 0.5 2.9 1.3 6 0.9 3 1.1 2.9 1.2 3 1.4 3 1.5 3 1.8 2.9 2.1 3 1.5 2 2.5 3 1.9 2 2 1.9 2.3 2.1 2.4 1.9 2.8 2 2.8 1.8 3 1.7 3.1 1.5 3 1.3 3 1.1 3 1 3 0.9 3 0.6 3 0.6z"/>
<path fill="#00ff18" d="M131.7 820.2l3.3 0.2 3 0.1 4-0.1 3-0.2 6.1-0.9 3-0.7 3-0.8 3-0.9 3-1.1 3-1.3 3-1.5 5.1-2.9 2.7-1.8 2.3-1.8 2.6-2.2 2.1-1.9 3.7-4 1.7-2 2.1-3 3.1-4.9 1.6-3 1.3-3 1.2-3 1-2.9 0.8-3 0.8-3 0.9-5.9 0.5-6 0-4 -0.2-2.9 -0.4-4 -0.5-3 -0.6-3 -0.7-2.9 -0.9-3 -1.1-3 -1.2-3 -1.4-2.9 -2.9-5 -1.4-2.2 -2.1-2.8 -2-2.4 -2-2.2 -2.3-2.3 -2.2-2 -2.5-2 -2.8-2 -2.2-1.4 -3-1.8 -3.1-1.5 -3-1.3 -3-1.2 -3-1 -3-0.8 -3-0.7 -6.1-1 -6-0.4 -4 0 -3 0.1 -4 0.4 -3.1 0.5 -3 0.6 -3 0.7 -3 0.9 -3 1.1 -3 1.2 -3 1.4 -5.1 2.8 -2.2 1.4 -2.8 2 -2.5 2 -2.2 2 -2.3 2.3 -2 2.2 -2.1 2.4 -2 2.8 -1.4 2.2 -1.8 3 -1.6 3 -1.3 2.9 -1.2 3 -1 3 -0.8 3 -0.8 2.9 -0.9 6 -0.5 5.9 0 4 0.2 3 0.4 4 0.5 2.9 0.6 3 0.7 3 0.9 3 1.1 2.9 1.2 3 1.4 3 1.7 3 1.8 2.9 1.9 2.7 1.7 2.3 2.3 2.6 2 2.1 2.4 2.2 2.3 2 2.6 2 2.7 1.8 5.1 2.9 3 1.5 3 1.3 3 1.1 3 0.9 3 0.8 3 0.7 3.1 0.5z"/>
<path fill="#00ff0d" d="M128.1 819.2l3.9 0.5 3 0.2 6 0 6-0.6 6.1-1 3-0.8 3-0.9 3-1 3-1.3 5.1-2.4 3-1.8 2.7-1.8 2.7-2 2.4-2 4.1-3.9 3.4-4 1.7-2.3 1.9-2.7 2.8-4.9 1.5-3 1.2-3 1.1-2.9 0.9-3 0.7-3 0.7-3 0.8-5.9 0.2-3 0-4 -0.2-3.9 -0.3-3 -0.9-6 -0.7-2.9 -0.9-3 -1-3 -1.2-3 -1.4-2.9 -1.5-3 -3.2-5 -3.5-4.5 -2-2.3 -2.1-2.1 -2.1-2 -2.8-2.3 -2.3-1.7 -2.7-1.8 -5.1-2.8 -3-1.4 -3-1.2 -3-1.1 -3-0.9 -6-1.3 -6.1-0.8 -3-0.2 -4-0.1 -4 0.2 -3 0.3 -6.1 1 -3 0.7 -3 0.8 -3 1 -3 1.2 -3 1.3 -3.1 1.6 -5 3.1 -4.6 3.4 -2.3 2 -2.1 2.1 -2 2.1 -2.3 2.7 -1.7 2.3 -1.9 2.7 -2.8 5 -1.5 2.9 -1.2 3 -1.1 3 -0.9 3 -0.7 2.9 -0.7 3 -0.8 6 -0.2 2.9 0 4 0.2 4 0.3 3 0.9 5.9 0.7 3 0.9 3 1 2.9 1.2 3 1.4 3 1.5 3 1.8 2.9 1.9 2.7 2 2.7 2 2.3 2 2.2 2.1 2.1 2.3 1.9 2.6 2.1 2.8 1.9 2.2 1.4 3.1 1.7 3 1.5 3 1.3 3 1.1 3 0.9 3 0.8 3 0.7z"/>
<path fill="#01ff00" d="M137.1 818.2l5.9-0.1 6.1-0.8 3-0.5 3-0.8 3-0.8 3-1.1 3-1.2 3-1.4 5.1-2.7 3-2 2-1.5 2.3-1.9 2.2-2 3.8-4 1.7-2.1 2.2-2.9 1.3-1.9 1.8-3 1.5-3 1.4-3 1.1-2.9 1-3 0.8-3 0.7-3 0.9-5.9 0.4-6 -0.2-5.9 -0.7-6 -0.6-3 -0.7-2.9 -0.9-3 -1-3 -1.3-3 -1.4-2.9 -2.8-5 -2-3 -1.5-2 -2-2.3 -2-2.1 -4-3.8 -2.1-1.7 -2.9-2.1 -5.1-3.1 -3-1.5 -3-1.3 -3-1.2 -3-0.9 -3-0.9 -3-0.6 -6.1-0.9 -6-0.4 -6 0.2 -6.1 0.7 -3 0.6 -3 0.7 -3 0.9 -3 1 -3 1.2 -3 1.4 -5.1 2.8 -3 2 -2 1.5 -2.3 1.9 -2.2 2 -3.8 4 -1.7 2 -2.2 2.9 -1.3 2 -1.8 3 -1.5 2.9 -1.4 3 -1.1 3 -1 3 -0.8 3 -0.7 2.9 -0.9 6 -0.4 5.9 0.2 6 0.7 5.9 0.6 3 0.7 3 0.9 3 1 2.9 1.3 3 1.4 3 2.8 5 2 2.9 1.5 2 2 2.3 2 2.2 4 3.7 2.1 1.7 2.9 2.1 5.1 3.1 3 1.5 3 1.4 3 1.1 3 1 3 0.8 3 0.7 6.1 0.9z"/>
<path fill="#0aff00" d="M127 816.2l6 0.8 6 0.1 6-0.3 6.1-0.9 3-0.7 3-0.8 3-1 2.8-1.1 5.2-2.5 2.7-1.5 2.4-1.5 2.1-1.5 2.6-1.9 2.2-2 2.1-2 3.6-4 1.5-2 1.9-2.7 1.4-2.2 1.7-3 2.3-5 1.8-4.9 0.8-3 0.7-3 0.5-3 0.4-2.9 0.4-6 -0.1-4 -0.2-2.9 -0.3-3 -0.5-3 -0.6-3 -0.8-2.9 -1-3 -1.1-3 -2.3-4.9 -2.9-5 -2.1-3 -1.5-2 -3.6-3.9 -2.1-2 -2.2-2 -2.6-2 -2.1-1.5 -2.4-1.5 -2.7-1.5 -5.2-2.4 -2.8-1.1 -3-1 -3-0.8 -3-0.7 -6.1-0.9 -6-0.4 -4 0.1 -3 0.2 -6.1 0.8 -3 0.6 -3 0.8 -3 0.9 -3 1.2 -5 2.2 -5.1 2.9 -3 2 -2 1.6 -4 3.5 -2 2 -2 2.3 -2 2.5 -1.5 2.1 -1.5 2.3 -1.6 2.7 -2.5 5.1 -1.1 2.8 -1 3 -0.8 3 -0.7 2.9 -0.5 3 -0.4 3 -0.4 5.9 0.1 4 0.2 3 0.3 3 0.5 2.9 0.6 3 0.8 3 1 3 1.1 2.9 1.3 3 1.5 3 1.6 2.6 1.5 2.3 1.5 2.1 2 2.6 2 2.2 2 2.1 4 3.5 2 1.5 3 2.1 5.1 2.8 3 1.5 3 1.2 3 1 3 0.9 3 0.8z"/>
<path fill="#16ff00" d="M131.9 816.2l3.1 0.3 3 0 6-0.2 3-0.4 3.1-0.5 3-0.6 3-0.8 3-0.9 3-1.2 5-2.3 5.1-2.9 4-2.8 4.1-3.5 2-2 1.9-2.1 2-2.4 1.8-2.5 1.3-1.9 1.8-3 2.4-5 1.2-2.9 1-3 1.3-5 0.6-3 0.5-2.9 0.4-6 0-5.9 -0.7-6 -0.5-3 -0.7-2.9 -0.9-3 -1-3 -2.1-5 -2.7-4.9 -1.9-3 -1.8-2.4 -2-2.5 -1.9-2 -2-2 -2.1-1.9 -4-3.1 -2-1.4 -3.1-1.8 -5-2.5 -3-1.3 -3-1 -3-0.9 -3-0.8 -3-0.6 -3.1-0.4 -6-0.5 -6 0.1 -6 0.7 -3.1 0.5 -3 0.7 -3 0.8 -3 1 -5 2.1 -5.1 2.7 -3 1.9 -2.4 1.7 -2.5 2 -2.1 1.9 -2 2 -1.9 2 -3.2 4 -1.4 2 -1.8 3 -2.6 4.9 -1.2 3 -1.1 3 -0.9 3 -0.7 2.9 -0.6 3 -0.5 3 -0.4 5.9 0 4 0.1 3 0.3 3 0.5 2.9 0.6 3 0.7 3 0.9 3 1.1 2.9 2.2 5 2.8 5 2 2.9 1.5 2 2.6 3 1.9 2 4.1 3.7 4.4 3.2 2.6 1.7 2.4 1.3 2.7 1.3 3 1.3 3 1.2 3 0.9 3 0.8 3 0.6z"/>
<path fill="#24ff00" d="M129.4 814.3l5.6 0.5 6 0 3-0.2 3-0.4 3.1-0.5 3-0.6 5-1.5 3-1.1 2.9-1.2 2.1-1 3-1.7 4.1-2.6 4-3.1 2-1.8 2-2 3.2-3.7 1.8-2.4 1.7-2.5 2.8-5 2.2-4.9 1.6-5 0.8-3 0.6-3 0.4-2.9 0.4-3 0.1-3 0-3 -0.1-2.9 -0.2-3 -0.4-3 -0.6-3 -0.7-2.9 -0.9-3 -1.8-5 -2.4-4.9 -1.5-2.5 -1.6-2.5 -1.4-2 -2-2.4 -2-2.3 -2-2 -4-3.4 -2.5-1.8 -2.5-1.7 -5.1-2.7 -5-2.1 -5-1.7 -3-0.7 -3-0.6 -3.1-0.5 -3-0.3 -3-0.2 -3 0 -3 0.1 -3 0.3 -3 0.4 -3.1 0.5 -3 0.8 -3 0.8 -5 1.8 -5 2.4 -2.5 1.4 -2.6 1.6 -2 1.4 -2.4 2 -2.3 2 -2 2 -3.5 3.9 -1.8 2.4 -1.7 2.6 -2.8 4.9 -2.2 5 -1.6 5 -0.8 2.9 -0.6 3 -0.4 3 -0.4 3 -0.1 2.9 0 3 0.1 3 0.2 3 0.4 2.9 0.6 3 0.7 3 0.9 3 1 3 1.3 2.9 2.5 5 1.8 3 1.4 1.9 1.7 2.3 2 2.3 2 2.1 2 1.9 4.1 3.4 1.9 1.3 3.1 1.9 5 2.6 3 1.3 3 1.1 3 0.9 3 0.8z"/>
<path fill="#2dff00" d="M129.9 813.3l3.1 0.3 3 0.2 3 0 3-0.1 3-0.3 3-0.4 5.1-1 3-0.8 3-1 5-2.1 5-2.7 4.1-2.6 4.2-3.4 3.8-3.8 3.4-4.2 2.7-3.9 1.2-2 1.5-3 2.1-4.9 1.6-5 0.7-3 0.6-3 0.4-2.9 0.3-3 0.1-3 0-3 -0.2-2.9 -0.3-3 -0.9-5 -0.7-2.9 -0.9-3 -1.9-5 -2.4-4.9 -1.8-3 -1.4-2 -3.1-4 -2-2.2 -2-2 -4-3.4 -2-1.4 -3.1-2 -5-2.6 -5-2.1 -5-1.6 -3-0.7 -3.1-0.5 -3-0.5 -3-0.2 -3-0.1 -3 0 -3 0.2 -3 0.3 -5.1 0.8 -3 0.7 -3 0.9 -5 1.9 -5 2.4 -3.1 1.8 -2 1.3 -4 3.1 -2.2 2 -2 1.9 -3.5 4 -1.4 2 -2 3 -1.2 2 -1.5 2.9 -2.1 5 -1.6 5 -0.7 2.9 -0.6 3 -0.4 3 -0.3 3 -0.1 2.9 0 3 0.2 3 0.3 3 0.5 2.9 0.6 3 0.8 3 0.9 3 2 4.9 2.6 5 1.7 2.7 1.6 2.2 3.4 4.2 2 2.1 2 1.8 4 3.3 2.3 1.5 2.8 1.7 5 2.5 3 1.3 3 1 5 1.4 3 0.6z"/>
<path fill="#3aff00" d="M127.6 812.3l5.4 0.6 3 0.2 3 0 3-0.1 3-0.3 5.1-0.7 5-1.2 5-1.7 5-2.2 2.9-1.6 2.2-1.3 4-2.8 2.2-1.8 2.1-2 3.7-3.9 3-4 1.3-2 1.8-3 2.3-5 1.8-4.9 1.4-5 0.8-4.9 0.3-3 0.2-3 0-3 -0.1-2.9 -0.3-3 -0.4-3 -0.5-3 -0.8-2.9 -1.6-5 -2.1-5 -1.6-2.9 -1.2-2 -1.3-2 -2-2.8 -1.8-2.2 -1.9-2 -2-1.9 -2.3-2 -4-3 -4.1-2.5 -5.1-2.5 -4.9-1.8 -3-0.9 -3-0.7 -5.1-0.9 -3-0.3 -3-0.2 -3 0 -3 0.1 -3 0.3 -3 0.4 -3.1 0.6 -3 0.7 -5 1.6 -5 2.1 -3 1.5 -2 1.2 -2.1 1.3 -2.7 2 -2.3 1.8 -2 1.8 -2 2 -2 2.3 -3 4 -2.5 4 -1.5 2.8 -1 2.2 -1.9 4.9 -0.9 3 -0.8 2.9 -0.5 3 -0.4 3 -0.3 3 -0.1 2.9 0 3 0.2 3 0.3 3 0.5 2.9 0.6 3 0.8 3 1.7 5 2.2 4.9 1.6 2.8 1.3 2.2 2.9 3.9 1.8 2.2 2 2.2 2 1.9 2 1.7 2.6 2 2.4 1.6 2.2 1.3 2.9 1.6 5 2.2 3 1.1 3 0.8 3 0.8z"/>
<path fill="#48ff00" d="M133.8 811.3l5.2 0.1 3-0.1 3-0.3 3-0.4 3.1-0.6 5-1.3 5-1.8 5-2.5 4.1-2.4 4-3 2-1.7 1.9-1.9 3.6-4 2.8-3.9 1.3-2 1.6-3 2.2-4.9 1.6-5 1.2-5 0.5-2.9 0.3-3 0.2-5 -0.1-3 -0.2-2.9 -0.4-3 -0.5-3 -1.3-4.9 -1.7-5 -2.3-5 -1.7-2.8 -1.3-2.1 -3.1-4 -1.7-2 -1.9-1.9 -4-3.5 -4.1-2.8 -2-1.2 -3-1.6 -5-2.2 -5-1.6 -5-1.2 -3.1-0.5 -3-0.3 -5-0.2 -3 0.1 -3 0.2 -3 0.4 -3.1 0.5 -5 1.2 -5 1.8 -5 2.3 -2.9 1.6 -2.2 1.3 -4 3 -2 1.8 -1.9 1.8 -3.6 4 -2.8 4 -1.3 2 -1.6 2.9 -2.2 5 -1.6 5 -1.2 4.9 -0.5 3 -0.3 3 -0.2 4.9 0.1 3 0.2 3 0.4 3 0.5 2.9 1.3 5 1.7 5 2.3 4.9 1.7 2.9 1.3 2.1 3.1 3.9 1.7 2 1.9 2 4 3.4 4.1 2.9 2 1.2 3 1.6 5 2.2 3 1 3 0.9 5.1 1 3 0.4z"/>
<path fill="#52ff00" d="M133.9 810.3l5.1 0.1 3-0.1 3-0.3 3-0.4 3.1-0.6 5-1.3 5-1.9 5-2.4 4.1-2.6 4-3.1 3.5-3.3 3.5-3.9 2.8-4 1.2-2.1 1.6-2.9 2.1-4.9 1.6-5 1.1-5 0.6-4.9 0.2-5 -0.1-3 -0.2-2.9 -0.4-3 -0.5-3 -1.3-4.9 -1.8-5 -2.4-5 -2.5-4.1 -3-4 -3.5-3.8 -3.5-3.1 -4.1-2.9 -2-1.3 -3-1.6 -5-2.2 -5-1.7 -5-1.2 -3.1-0.5 -3-0.3 -5-0.2 -3 0.1 -3 0.2 -3 0.4 -3.1 0.5 -5 1.3 -5 1.7 -5 2.4 -4.2 2.5 -4.1 3 -3.8 3.4 -3.2 3.5 -2.9 4 -1.3 2 -1.7 2.9 -2.2 5 -1.7 5 -1.2 4.9 -0.5 3 -0.3 3 -0.2 4.9 0.1 3 0.2 3 0.4 3 0.5 2.9 1.3 5 1.8 5 2.4 4.9 1.5 2.6 1.5 2.4 3.2 3.9 3.3 3.5 4 3.5 4.1 2.7 2 1.3 3 1.5 5 2.1 5 1.5 5.1 1.1 3 0.4z"/>
<path fill="#5fff00" d="M130.9 809.3l5.1 0.4 3 0 3-0.1 5-0.6 5.1-0.9 5-1.5 5-2 2.5-1.2 2.5-1.5 3.9-2.5 2.2-1.7 2-1.8 3.4-3.5 3.2-3.9 2.6-4 2.1-4 2-4.9 1.5-5 1-4.9 0.6-5 0.1-3 0-3 -0.2-2.9 -0.4-3 -0.9-5 -1.4-4.9 -1.9-5 -1.4-3 -1.1-2 -2.6-3.9 -3.2-4 -3.4-3.5 -4-3.3 -4.1-2.7 -2.5-1.4 -2.5-1.2 -5-2 -5-1.5 -5.1-1 -5-0.5 -3-0.2 -3 0.1 -3 0.1 -3 0.4 -5.1 0.9 -5 1.3 -5 1.9 -3 1.5 -2 1 -4.1 2.6 -4 3.1 -3.5 3.4 -3.4 4 -2.7 4 -1.4 2.5 -1.3 2.4 -2 5 -1.5 4.9 -1 5 -0.6 5 -0.1 2.9 0 3 0.2 3 0.4 3 0.9 4.9 1.4 5 1.9 4.9 1.4 3 1.1 2 1.3 2 1.9 2.8 1.7 2.1 1.8 2 3.5 3.4 4 3.2 4.1 2.5 2 1.1 3 1.4 5 1.9 5 1.4 3.1 0.6z"/>
<path fill="#6eff00" d="M128.9 807.3l5.1 0.6 5 0.1 5-0.3 5.1-0.7 5-1.2 5-1.8 3-1.3 2-1 3.9-2.3 4.1-3 3.1-2.8 3-3.3 2.9-3.8 2.4-4 1.1-2 1.3-2.9 1.5-4 1.3-5 0.8-4.9 0.4-5 0.1-3 -0.2-2.9 -0.5-5 -1.1-5 -1.5-4.9 -2.1-5 -2.4-4.3 -2.5-3.6 -1.6-2 -1.8-2 -3.1-3 -4.1-3.2 -4-2.5 -2.3-1.2 -2.7-1.3 -5-1.8 -5-1.3 -5.1-0.9 -5-0.4 -3 0 -3 0.1 -5 0.6 -5.1 1 -5 1.6 -5 2 -4.3 2.4 -3.8 2.5 -2 1.5 -2 1.8 -3 3.1 -3.2 4 -2.6 3.9 -1.2 2.3 -1.3 2.7 -1.9 5 -1.3 4.9 -0.8 5 -0.3 3 -0.2 2.9 0.1 3 0.1 3 0.7 4.9 1.1 5 1 3 0.8 2.2 2.1 4.7 1.1 2 1.8 2.9 3 3.9 3 3.3 2 1.9 2 1.6 4.1 2.8 4 2.3 2.4 1.2 2.6 1 5 1.7 3 0.7z"/>
<path fill="#7f0" d="M128.7 806.3l5.3 0.6 5 0.2 5-0.3 5.1-0.8 5-1.2 4.1-1.4 4.9-2.3 4-2.3 3.4-2.4 3.7-3.2 3-3.1 3-4 1.7-2.6 1.1-2 1.9-3.9 1.5-4 1.3-5 0.9-4.9 0.4-5 0-3 -0.1-2.9 -0.6-5 -1.1-5 -1.5-4.9 -1.3-3 -0.9-2 -2.2-4 -2.8-3.9 -3.3-3.8 -3.4-3.2 -3.7-2.7 -4-2.5 -2-1 -3-1.4 -4-1.4 -5-1.4 -5.1-0.8 -5-0.4 -3 0 -3 0.1 -5 0.6 -5.1 1 -5 1.6 -3 1.2 -2 0.9 -4 2.2 -4.1 2.8 -3.8 3.2 -3.2 3.4 -2.8 3.6 -2.4 3.9 -1.1 2 -1.4 3 -1.5 4 -1.3 4.9 -0.9 5 -0.3 3 -0.1 2.9 0 3 0.2 3 0.7 4.9 1.1 5 1.7 5 1.1 2.4 1.2 2.5 2.4 4 2.9 4 1.8 1.9 1.7 1.8 2 1.9 2 1.6 4 2.7 4.1 2.2 2 1 3 1.2 5 1.5z"/>
<path fill="#85ff00" d="M136.8 806.3l5.2-0.1 5-0.6 5.1-1 5-1.6 3-1.2 2-1 4-2.2 4.1-2.8 3-2.6 3-3.1 3-3.8 2.4-3.8 1.1-2 1.4-2.9 1.5-4 1.3-5 0.9-4.9 0.4-5 0-5 -0.5-4.9 -1-5 -1.5-4.9 -2-4.9 -2.2-4.1 -2.7-3.9 -3.1-3.7 -3.4-3.3 -3.9-2.9 -3.8-2.4 -2-1.1 -3-1.4 -4-1.4 -5-1.4 -5.1-0.9 -5-0.4 -5 0.1 -5 0.5 -5.1 0.9 -5 1.5 -4.9 2 -4.1 2.2 -4 2.6 -3.8 3.1 -3.3 3.4 -3 3.8 -2.4 3.7 -1.1 2 -1.4 3 -1.5 4 -1.3 4.9 -0.9 5 -0.4 4.9 0 5 0.5 5 1 4.9 1.5 5 2 4.8 2.2 4.1 2.7 4 1.6 2 1.8 1.9 3.1 3 3.9 3 3.8 2.4 2 1 3 1.4 5 1.8 5 1.3 5.1 0.7z"/>
<path fill="#94ff00" d="M132.3 804.3l4.7 0.3 5-0.1 5-0.6 4.1-0.8 5-1.5 4-1.7 4-2.1 4-2.6 2.1-1.6 2-1.8 3-3.1 2.5-3.2 2.5-4 2-3.9 1.6-4 1.1-4 1-4.9 0.5-5 0.1-5 -0.4-4.9 -0.9-5 -1.4-4.9 -1.6-4 -2-4 -2.5-3.9 -1.5-2 -1.7-2 -3-3 -3.4-2.7 -4-2.7 -4-2.1 -2-0.8 -3-1.2 -4-1.1 -5.1-1 -5-0.5 -5-0.1 -5 0.5 -5.1 0.8 -5 1.4 -4 1.6 -4 2 -4 2.5 -2 1.4 -2.1 1.7 -3 3 -2.7 3.3 -2.7 3.9 -2.1 4 -0.9 2 -1.2 3 -1.1 3.9 -1 5 -0.5 4.9 -0.1 5 0.4 5 0.9 4.9 1.4 5 1.2 3 0.9 2 2.1 3.9 2.7 4 1.6 2 1.8 2 3.2 2.9 3.2 2.5 4 2.5 4 2 5 1.8 5 1.3z"/>
<path fill="#9eff00" d="M131.7 803.4l4.3 0.3 5-0.1 5-0.5 5.1-1 4-1.2 4-1.5 4-2.1 4-2.5 3.1-2.4 3-2.9 3-3.5 2.3-3.5 2.2-3.9 1.7-4 1.3-4 1.1-4.9 0.7-5 0.1-5 -0.3-4.9 -0.8-5 -1.4-4.9 -1.5-4 -1.9-4 -2.5-4 -1.4-1.9 -1.6-2 -3-3 -3.6-3 -3.5-2.3 -4-2.2 -4-1.6 -4-1.3 -5.1-1.1 -5-0.6 -5-0.2 -5 0.4 -5.1 0.8 -5 1.3 -4 1.5 -4 1.9 -4 2.4 -2 1.4 -2 1.6 -3.1 2.9 -3 3.6 -2.3 3.4 -2.2 4 -1.7 4 -1.3 3.9 -1.1 5 -0.7 5 -0.1 4.9 0.3 5 0.8 4.9 1.4 5 0.9 2.5 1 2.4 2.1 4 2.6 4 1.5 2 1.8 2 3 2.9 3.1 2.4 4.1 2.6 3.9 2 2.5 1 2.5 0.9 5 1.3z"/>
<path fill="#acff00" d="M130 802.4l5 0.5 5 0 5-0.4 4.1-0.7 4-1 4-1.4 4-1.8 4-2.4 3.8-2.8 3.3-2.9 2.6-3 2.2-3 2.4-4 1.8-3.9 1.4-4 1.1-4 0.7-3.9 0.4-5 -0.1-5 -0.5-4.9 -1-5 -1.2-3.9 -1.2-3 -0.9-2 -2.3-4 -2.4-3.5 -3-3.4 -3.1-2.8 -3-2.3 -4-2.5 -4-1.9 -4-1.5 -5-1.4 -4.1-0.6 -5-0.5 -5 0.1 -5 0.5 -5.1 1 -4 1.2 -3 1.2 -2 0.9 -4 2.2 -3.6 2.4 -3.4 3 -2.9 3 -2.3 2.9 -2.5 4 -2 4 -1.5 4 -1.4 4.9 -0.8 5 -0.3 4.9 0.1 5 0.6 5 1.2 4.9 0.9 3 0.8 2 1.8 3.9 2.4 4 2.8 3.7 3 3.2 3.5 3 3.6 2.5 4 2.2 2 0.9 3 1.1 4 1.2z"/>
<path fill="#bf0" d="M128.4 800.4l4.6 0.6 4 0.3 5-0.2 4-0.5 4.1-0.8 4-1.1 4-1.6 4-2 3-1.9 3.5-2.7 3.1-3 2.5-3 2.1-3 2.2-3.9 1.7-4 1.2-4 0.9-3.9 0.7-5 0.1-5 -0.3-4.9 -0.9-5 -1.1-4 -1.4-3.9 -2-4 -2.2-3.6 -2.6-3.3 -2.9-3 -3.5-3 -3.1-2.1 -4-2.1 -4-1.7 -4-1.2 -4.1-0.9 -5-0.7 -5-0.1 -5 0.3 -5.1 0.9 -4 1 -4 1.5 -4 1.9 -3.7 2.2 -3.3 2.6 -3.1 2.8 -3 3.5 -2.1 3 -2.2 4 -1.7 4 -1.2 3.9 -0.9 4 -0.7 5 -0.1 4.9 0.3 5 0.9 4.9 1.1 4 1 3 0.9 2 2 3.9 2.7 4 2.5 3 3.1 3 1.5 1.2 2.3 1.7 3.7 2.3 4 1.9 2.2 0.8 2.8 0.9z"/>
<path fill="#c5ff00" d="M128 799.4l4 0.6 5 0.4 4-0.1 4-0.4 5.1-1 4-1.2 4-1.6 3.4-1.7 3.6-2.3 3-2.4 2.4-2.2 2.7-3.1 2-2.9 2.2-3.9 1.8-4 1.3-4 0.9-3.9 0.6-5 0.2-5 -0.3-3.9 -0.7-5 -1-4 -1.4-3.9 -1.9-4 -2.4-4 -2.3-2.9 -2.7-3 -3.4-2.9 -3-2.1 -4-2.2 -4-1.7 -4-1.3 -4.1-0.9 -5-0.7 -5-0.1 -4 0.2 -5 0.8 -4.1 1 -4 1.4 -4 1.8 -4 2.4 -3 2.2 -3.1 2.8 -2.9 3.2 -2.1 3 -2.2 4 -1.8 4 -1.3 3.9 -0.9 4 -0.6 5 -0.2 4.9 0.4 5 0.8 4.9 1.1 4 1.5 4 2.2 4.3 2.4 3.6 2.6 3.2 3.1 3 3.5 2.7 3.5 2.2 4 2 4 1.5 3 0.8z"/>
<path fill="#d4ff00" d="M133.6 799.4l4.4 0.2 4-0.2 5-0.6 4.1-1 4-1.3 4-1.7 4-2.3 2.9-2 2.3-2 2.9-3 2.4-3 2.4-3.9 1.9-4 1.5-4 1-4 0.6-3.9 0.4-4 -0.1-5 -0.5-4.9 -0.9-4 -1.2-3.9 -1.7-4 -1.8-3.5 -2.4-3.5 -2.6-3.1 -3.1-2.9 -3-2.3 -4-2.4 -4-1.9 -4-1.4 -4.1-1 -4-0.7 -4-0.3 -5 0.1 -5 0.5 -4.1 0.8 -4 1.2 -4 1.7 -3.5 1.8 -3.5 2.3 -3.2 2.7 -2.9 3 -2.4 2.9 -2.4 4 -1.9 4 -1.5 3.9 -1 4 -0.6 4 -0.4 3.9 0.1 5 0.5 5 0.9 3.9 1.2 4 1.7 4 2.1 3.9 1.3 2 1.4 1.9 2.8 3.1 3.3 2.8 3 2.2 4 2.3 4 1.7 4 1.3 4.1 1z"/>
<path fill="#e3ff00" d="M131 797.4l4 0.4 4 0.1 4-0.3 4-0.5 4.1-1 4-1.4 4-1.8 3-1.7 3-2.2 3-2.7 2.6-2.8 2.2-3 1.7-2.9 1.9-4 1.1-3 1-4 0.7-3.9 0.4-4 -0.1-5 -0.4-3.9 -0.8-4 -1.2-4.1 -1.6-3.8 -2.1-4 -2-3 -2.6-2.9 -2.8-2.7 -3-2.3 -3.1-2 -3.9-1.9 -4-1.5 -4.1-1 -4-0.7 -4-0.3 -5 0 -4 0.5 -4.1 0.7 -4.2 1.2 -3.8 1.6 -4 2.1 -3 2 -3 2.5 -2.7 2.7 -2.4 3 -2 3.1 -1.9 3.9 -1.5 3.9 -1 4 -0.7 4 -0.4 4.9 0.2 5 0.5 4 0.8 3.9 1.3 4 1.7 4 2.3 3.9 2.2 3 2.7 3 1.9 1.7 1.6 1.3 3.4 2.3 4 2.1 3.8 1.5 4.2 1.2z"/>
<path fill="#edff00" d="M130.4 796.4l4.6 0.5 4 0.1 4-0.3 4-0.6 4.1-0.9 3-1 4-1.8 3-1.7 3-2.1 2.6-2.1 2.4-2.6 2.1-2.5 2-3.1 1.9-3.7 1.2-3 1.2-4 0.8-3.9 0.4-4 0.1-5 -0.4-3.9 -0.7-4 -1.1-4 -1.4-3.8 -1.6-3.1 -1.8-3 -2.7-3.4 -3-3 -3-2.4 -3.2-2.1 -3.8-1.9 -3-1.2 -4-1.2 -4.1-0.7 -4-0.5 -5 0 -4 0.3 -4 0.7 -4.1 1.1 -3.8 1.4 -3.2 1.6 -3 1.8 -3.4 2.6 -3.1 2.9 -2.5 3 -2.1 3.2 -1.9 3.8 -1.2 2.9 -1.2 4 -0.8 4 -0.5 4.9 0.1 5 0.4 4 0.8 3.9 1.3 4.3 1.6 3.7 2.2 3.9 2.2 3.2 1.6 1.8 1.5 1.5 3 2.6 3 2.1 3 1.7 4 1.8 4 1.3z"/>
<path fill="#fbff00" d="M129.3 795.4l3.7 0.6 4 0.2 4-0.1 4-0.4 4.1-0.8 3-0.9 4-1.5 3-1.5 3-1.9 3-2.3 2.4-2.3 2.6-3 2-2.9 1.7-3 1.4-3.3 1.2-3.7 0.9-3.9 0.5-4 0.2-5 -0.3-3.9 -0.6-4 -1-4 -1.4-3.9 -1.4-3 -1.8-3 -2.2-3 -2.7-2.9 -2.5-2.2 -3-2.1 -3-1.8 -4-1.8 -4-1.3 -4.1-0.9 -4-0.5 -5-0.2 -4 0.3 -4 0.6 -4.1 1 -4 1.4 -3 1.4 -3 1.8 -3 2.1 -2.5 2.2 -2.7 2.9 -2.2 3 -1.8 3 -1.8 4 -1.3 3.9 -0.9 4 -0.5 4 -0.2 4.9 0.3 4 0.6 4 1 3.9 1.4 4 2 4 1.9 2.9 2.7 3.4 3 2.9 3 2.3 3 1.9 4 1.9 4 1.5z"/>
<path fill="#fff400" d="M134.6 794.4l3.4 0.2 4-0.2 4-0.6 4.1-0.9 4-1.4 3-1.3 3-1.8 2.7-1.9 2.3-2 2.8-3 2.2-2.9 1.8-3 1.4-3 1.3-4 0.8-2.9 0.6-4 0.3-4 -0.1-4 -0.4-3.9 -0.9-4 -1.3-4 -1.2-2.9 -1.7-3 -2-3 -2.5-3 -2.1-1.9 -3-2.3 -3-1.9 -3-1.5 -4-1.5 -4.1-1 -4-0.6 -4-0.3 -4 0.1 -4 0.4 -4.1 0.9 -4 1.2 -3 1.3 -3 1.6 -3 2 -3 2.5 -2 2.1 -2.3 2.9 -1.9 3 -1.5 3 -1.5 3.9 -1.1 4 -0.6 4 -0.3 3.9 0.1 4 0.4 4 0.9 3.9 1.3 4 1.4 3.4 2 3.5 2.1 2.8 2 2.2 3.3 3 2.8 2 3.5 2 3.4 1.4 4 1.3 4.1 0.8z"/>
<path fill="#ffea00" d="M133.6 793.4l3.4 0.2 4-0.1 4-0.4 3.2-0.7 3.9-1.1 3-1.2 3-1.5 3.2-2.1 2.5-2 2.3-2.3 2.2-2.7 2-2.9 1.5-3 1.6-4 0.8-3 0.8-3.9 0.4-4 0-4 -0.4-3.9 -0.8-4 -1-3.6 -1.4-3.3 -1.5-3 -2-3 -2.2-2.6 -2.3-2.4 -2.7-2.1 -3-1.9 -3-1.6 -4-1.5 -3.1-0.8 -4-0.8 -4-0.4 -4 0 -4 0.4 -4 0.8 -3.7 1 -3.4 1.3 -3 1.6 -3 1.9 -2.7 2.1 -2.3 2.4 -2.2 2.6 -2 3 -1.5 3 -1.6 3.9 -0.8 3 -0.8 4 -0.4 3.9 0 4 0.4 4 0.8 3.9 1 3.6 1.4 3.4 1.5 3 2.2 3.2 2.3 2.7 2.7 2.6 3 2.2 3 1.8 3 1.4 4 1.5 4.1 0.9z"/>
<path fill="#fd0" d="M131.7 792.4l3.3 0.4 4 0.1 4-0.3 3-0.5 4.1-0.9 3-1.1 3-1.3 3-1.7 2.3-1.6 2.7-2.4 2-2.1 2-2.5 1.8-2.9 1.5-3 1.2-3 1.1-3.9 0.5-3 0.4-4 0-4 -0.4-3.9 -0.8-4 -0.8-3 -1.4-3.5 -1.8-3.4 -2.1-3 -2.2-2.6 -2.5-2.4 -2.5-1.9 -3-1.8 -3-1.5 -3-1.1 -4.1-1.1 -3-0.5 -4-0.4 -4 0 -4 0.4 -4 0.7 -3.1 0.9 -3.6 1.4 -3.4 1.8 -3 2 -2.6 2.1 -2.4 2.5 -2 2.5 -1.8 3 -1.5 3 -1.2 2.9 -1.1 4 -0.6 4 -0.3 3.9 0.1 4 0.4 4 0.9 3.9 1 3.2 1.7 3.8 1.8 3 2.1 2.9 2.5 2.6 2.7 2.4 2.9 2 3.4 1.8 3 1.2 4.1 1.2z"/>
<path fill="#ffce00" d="M129.9 790.5l3.1 0.4 4 0.3 4-0.1 3-0.3 3-0.6 3.1-0.8 3-1.1 3-1.4 2.4-1.4 2.7-2 2.2-2 2.6-2.9 1.4-2 1.7-3 1.3-3 1-3 0.8-2.9 0.6-4 0.2-3 -0.1-4 -0.5-3.9 -0.7-3 -1.3-4 -1.3-2.9 -1.7-3 -2.2-3 -2.1-2.2 -2-1.8 -3-2.2 -3-1.7 -3-1.3 -3-1 -3.1-0.7 -4-0.6 -3-0.2 -4 0.1 -4 0.5 -3 0.6 -4.1 1.3 -3 1.3 -3 1.7 -3 2.2 -2 1.8 -2.1 2.2 -2.2 3 -1.7 3 -1.3 2.9 -1 3 -0.8 3 -0.6 4 -0.2 3.9 0.2 4 0.6 4 1.1 3.9 1.1 3 1.9 3.7 2 3.1 2 2.3 2 2 3 2.4 3 1.8 3 1.4 3.1 1.2z"/>
<path fill="#ffc500" d="M129.9 789.5l3.1 0.5 4 0.3 4-0.1 3-0.4 3-0.5 3.1-0.9 3-1.1 3-1.5 3-1.9 2-1.6 2-1.9 2-2.3 1.8-2.5 1.2-2.3 1.3-2.7 1-3 0.8-2.9 0.6-4 0.2-3 -0.1-4 -0.5-3.9 -0.7-3 -0.9-3 -1.3-2.9 -1.6-3 -1.8-2.5 -2-2.3 -2.3-2.2 -2.7-2 -3-1.8 -3-1.4 -3-1 -3.1-0.7 -4-0.6 -3-0.2 -4 0.1 -4 0.5 -3 0.6 -3.1 1 -3 1.2 -3 1.6 -2.5 1.7 -2.4 2 -2.1 2.3 -2.1 2.7 -1.8 3 -1.4 2.9 -1 3 -0.8 3 -0.6 4 -0.2 3.9 0.2 4 0.6 4 0.8 2.9 1.3 3.6 1.6 3.4 2 3 1.6 1.9 1.9 2 2.9 2.4 3 1.9 3 1.5 3.2 1.2z"/>
<path fill="#ffb800" d="M134.8 789.5l3.2 0.1 3.2-0.1 3.8-0.5 3-0.7 3.1-1 3-1.3 2.8-1.5 2.2-1.5 2.9-2.5 1.8-1.9 1.5-2 1.8-2.9 1.5-3.1 1.1-3 0.8-2.9 0.5-3 0.2-3 0-4 -0.4-3.9 -0.6-3 -0.8-3 -1.2-3 -1.6-2.9 -1.5-2.3 -2-2.5 -2-2 -2.7-2.2 -2.3-1.4 -3-1.6 -3-1.1 -3.1-0.9 -4-0.7 -3-0.3 -4 0 -4 0.4 -3 0.6 -3.1 0.9 -3 1.1 -3 1.6 -2.3 1.4 -2.5 2 -2 2 -2.2 2.7 -1.5 2.3 -1.6 2.9 -1.2 3 -0.8 3 -0.8 4 -0.2 2.9 0 4 0.4 4 0.6 3 0.8 2.9 1.3 3.1 1.5 2.9 2 3 2.5 2.8 2 1.8 2 1.5 3 1.8 3 1.4 4.1 1.4 3 0.7z"/>
<path fill="#fa0" d="M132 787.5l3 0.3 3 0.2 3-0.2 3-0.3 3-0.7 3.1-0.9 3-1.2 2.2-1.2 1.8-1.1 2.4-1.9 2-1.9 1.7-2 1.9-2.8 1.2-2.2 1.3-3 0.9-2.9 0.6-3 0.4-3 0.1-4 -0.2-2.9 -0.4-3 -0.8-3 -1-3 -1.4-2.9 -1.7-2.8 -1.7-2.2 -1.8-2 -2.5-2.1 -2.8-1.9 -2.2-1.1 -3-1.3 -3.1-0.9 -3-0.6 -3-0.4 -4-0.1 -3 0.2 -3 0.5 -3 0.7 -3.1 1 -3 1.4 -2.8 1.6 -2.2 1.7 -2 1.9 -2.1 2.4 -1.9 2.8 -1.2 2.1 -1.3 3 -0.9 3 -0.6 3 -0.5 3.9 0 4 0.3 3 0.6 3 0.8 2.9 1.1 3 1.7 3.2 1.9 2.8 2.1 2.4 2 1.8 3 2.2 3 1.7 3 1.2 3.1 0.9z"/>
<path fill="#ffa100" d="M132.3 786.5l2.7 0.3 3 0.1 3-0.1 3-0.4 3-0.6 3.1-1 3-1.3 2-1.1 2-1.3 2-1.6 2-2 2-2.5 1.5-2.4 1.5-3 1-2.9 0.6-2 0.5-3 0.3-3 0-4 -0.3-2.9 -0.5-3 -0.9-3 -1.2-3 -1-1.9 -1.5-2.4 -2-2.5 -2-2 -2-1.6 -2.2-1.5 -2.8-1.5 -3-1.1 -3.1-0.9 -3-0.5 -3-0.3 -4 0 -3 0.3 -3 0.5 -3.1 0.9 -3 1.1 -2 1.1 -2.4 1.4 -2.5 2 -2 2 -1.7 2 -1.4 2.1 -1.5 2.8 -1.2 3 -0.9 3 -0.5 3 -0.3 2.9 0 4 0.3 3 0.5 3 0.9 2.9 1.2 3 1.6 3 1.9 2.7 2 2.3 2.3 1.9 2.7 1.9 2 1.1 3 1.3 3.1 1z"/>
<path fill="#ff9500" d="M130.4 785.5l2.6 0.5 3 0.3 3 0 3-0.2 3-0.5 3-0.7 3.1-1.1 2-1 2-1.1 2-1.4 2.1-1.7 1.9-2.1 1.5-1.9 1.5-2.4 1.3-2.6 1.1-3 0.8-2.9 0.4-3 0.3-3 -0.1-3 -0.3-2.9 -0.6-3 -0.8-3 -1.3-3 -1.6-2.9 -1.4-2 -1.8-2.1 -2-1.8 -2-1.6 -2.5-1.5 -2.5-1.2 -3.1-1.1 -3-0.8 -3-0.4 -3-0.3 -3 0.1 -3 0.3 -3 0.6 -3.1 0.8 -3 1.2 -3 1.7 -2 1.4 -2.1 1.7 -1.9 2 -1.5 2 -1.5 2.4 -1.3 2.5 -1.1 3 -0.8 3 -0.4 3 -0.3 2.9 0.2 4 0.3 3 0.7 3 1 2.9 1.4 3 1.3 2.2 2 2.8 2 2 2.3 1.9 2.7 1.8 2.5 1.2 2.5 1z"/>
<path fill="#f80" d="M134.4 784.5l2.6 0.2 3-0.1 3-0.3 3-0.6 3.1-0.9 2-0.8 2-1.1 2.2-1.4 1.8-1.4 2-1.9 1.4-1.6 1.6-2.3 1-1.8 1.3-2.9 0.9-2.9 0.6-3 0.4-3 0-3 -0.2-2.9 -0.5-3 -0.5-2 -1.1-3 -1.5-3 -1.3-1.9 -1.5-2 -2-2 -1.6-1.4 -2.3-1.6 -1.8-1 -2.9-1.2 -3.1-1 -3-0.6 -3-0.3 -3 0 -3 0.2 -3 0.5 -2 0.5 -3.1 1.1 -3 1.4 -2 1.3 -2 1.5 -2 1.9 -1.4 1.7 -1.6 2.3 -1 1.7 -1.3 2.9 -0.9 3 -0.6 3 -0.4 2.9 0 3 0.2 3 0.5 3 0.5 2 1.1 2.9 1.5 3 1.4 2.2 1.4 1.8 2 2 2.4 1.9 2.2 1.4 2 1.1 3.1 1.1 3 0.8z"/>
<path fill="#ff8000" d="M135.9 783.5l3.1 0.1 3-0.3 3-0.5 2-0.5 2.2-0.8 2.9-1.3 2-1.2 1.9-1.4 2.1-2 1.7-2 1.4-2 1.1-2 0.9-2 1-2.9 0.4-2 0.5-3 0.1-3 -0.1-3 -0.5-2.9 -0.5-2.1 -0.9-2.9 -1.1-2.3 -1.6-2.6 -1.4-1.9 -2-2.1 -2-1.7 -2-1.4 -2-1 -2-0.9 -3.1-1 -2-0.5 -3-0.4 -3-0.1 -3 0.1 -3 0.4 -2.2 0.5 -2.9 1 -2.3 1 -2.7 1.6 -1.9 1.4 -2.1 1.9 -1.7 2.1 -1.4 1.9 -1.1 2 -0.9 2 -1 3 -0.4 2 -0.5 2.9 -0.1 3 0.1 3 0.5 3 0.5 2.1 0.9 2.8 1.1 2.3 1.6 2.7 1.4 1.9 2 2.1 2 1.7 2 1.3 2 1.1 2 0.9 3.1 1 3 0.6z"/>
<path fill="#ff7600" d="M132.1 782.5l2.9 0.4 3 0.2 3-0.2 2-0.2 3-0.7 2-0.6 2.1-0.8 2-1.1 2-1.2 2-1.5 1.3-1.2 1.7-2 1.4-2 1.2-2 0.9-2 1-2.9 0.5-2.2 0.4-2.8 0.2-3 -0.2-3 -0.4-2.8 -0.5-2.1 -1-3 -0.9-2 -1.2-2 -1.4-2 -1.7-1.9 -2.3-2 -2-1.4 -2-1.2 -2-0.9 -3.1-1 -2.1-0.5 -2.9-0.4 -3-0.1 -3 0.1 -2.9 0.4 -2.1 0.5 -3.1 1 -2 0.9 -2 1.2 -2 1.4 -2.3 2 -1.7 1.9 -1.4 2 -1.2 2 -0.9 2 -1 3 -0.5 2.1 -0.4 2.8 -0.2 3 0.2 3 0.4 3 0.8 3 1.1 2.9 1.1 2.1 1.2 1.9 1.8 2.2 2 2 2 1.5 2 1.3 3 1.4 2.1 0.7z"/>
<path fill="#ff6900" d="M130.8 780.5l2.2 0.5 3 0.4 3 0 2-0.1 3-0.5 2-0.5 2-0.7 2.1-0.9 2-1.1 2-1.4 1.9-1.6 1.1-1.2 1.4-1.8 1.3-2 1-2 0.8-1.9 0.6-2 0.5-3 0.3-2 0-3 -0.3-2.9 -0.3-2 -0.8-3 -0.8-2 -1-2 -1.3-2 -1.6-1.9 -1.8-1.9 -2-1.5 -2-1.3 -2-1 -2.1-0.7 -2-0.6 -3-0.6 -2-0.2 -3-0.1 -3 0.3 -2 0.3 -3 0.9 -2.1 0.7 -2 1 -2 1.3 -2 1.5 -1.8 1.9 -1.6 1.9 -1.3 2 -1 2 -0.8 2 -0.6 2 -0.5 3 -0.3 2.9 0 3 0.4 3 0.4 2 1 2.9 0.9 2 1.1 2 1.4 2 1.8 2 1.9 1.6 2 1.4 2 1.1 2.1 0.9z"/>
<path fill="#ff5b00" d="M131.9 779.5l2.1 0.4 2 0.2 3 0.1 2-0.1 3-0.5 2-0.6 2-0.7 2.1-1 1.3-0.7 1.7-1.2 2-1.7 1-1.1 1.6-2 1.2-2 0.9-2 0.8-1.9 0.5-2 0.5-3 0.2-2 -0.1-3 -0.4-2.9 -0.4-2 -0.7-2 -0.8-2 -1.1-2 -1.2-1.7 -1-1.3 -2-2 -2-1.5 -2-1.2 -2.1-0.9 -2-0.8 -2-0.5 -3-0.5 -2-0.1 -3 0 -3 0.4 -2 0.4 -2 0.7 -2.1 0.8 -2 1.1 -1.8 1.2 -1.2 1 -2 2 -1.6 1.9 -1.2 2 -0.9 2 -0.8 2 -0.5 2 -0.5 2.9 -0.2 2 0.1 3 0.4 3 0.4 2 0.8 2.3 1.2 2.6 1.2 2 1.6 2 2 2 1.2 1 1.8 1.2 2 1 2.1 0.9z"/>
<path fill="#ff4e00" d="M132.4 777.6l2.6 0.4 2 0.2 2 0 2-0.2 2-0.3 2-0.5 2-0.7 2.1-1 1.5-0.9 1.5-1.1 2-1.8 0.9-1.1 1.1-1.4 1-1.7 0.9-1.8 0.7-2 0.5-2 0.4-2 0.1-2 0-3 -0.3-1.9 -0.4-2 -0.6-2 -0.9-2 -1.1-2 -1.3-1.9 -1-1.1 -2-1.9 -1.5-1 -1.6-1 -2-0.9 -2-0.7 -2-0.5 -2-0.4 -2-0.1 -3 0 -2 0.3 -2 0.4 -2 0.6 -2 0.8 -2.1 1.1 -1.9 1.4 -1.2 1 -1.8 1.9 -1.1 1.5 -1 1.6 -0.9 1.9 -0.7 2 -0.5 2 -0.4 1.9 -0.1 2 0 3 0.5 3 0.5 2 0.7 2 1 1.9 0.9 1.6 1.1 1.4 1.8 2 1.2 1 1.9 1.3 2.1 1.1 2 0.8z"/>
<path fill="#ff4200" d="M134.3 776.6l1.7 0.2 2 0.1 2-0.1 2-0.3 2-0.4 2-0.7 2-0.9 1.6-0.9 1.4-1 1.2-1 1-1 1.6-2 1.2-2 0.5-0.9 0.8-2 0.5-2 0.4-2 0.2-2 0-2 -0.2-2 -0.4-1.9 -0.5-2 -0.8-2 -1.1-2 -1.3-1.9 -1-1.2 -1-1 -2-1.5 -2.1-1.2 -1-0.5 -2-0.8 -2-0.6 -2-0.3 -2-0.2 -2 0 -2 0.2 -2 0.3 -2 0.6 -2 0.8 -2.1 1 -1.9 1.4 -1.2 0.9 -1 1 -1.6 2 -1.2 2 -0.5 1 -0.8 2 -0.5 2 -0.4 1.9 -0.2 2 0.1 3 0.3 2 0.4 2 0.7 2 0.9 1.9 0.9 1.6 1 1.4 1 1.1 2 1.9 1.5 1 1.6 0.9 2 0.9 2 0.7z"/>
<path fill="#ff3700" d="M134.1 774.6l1.9 0.3 2 0.1 3-0.3 2-0.4 2-0.6 2-0.9 1-0.6 2.1-1.4 1-0.9 2-2.3 1-1.6 0.7-1.3 1-3 0.6-3 0.1-2 -0.1-2 -0.3-1.9 -0.6-2 -0.7-2 -0.7-1.4 -1-1.6 -1-1.2 -1.8-1.8 -1.2-0.9 -1.7-1 -1.4-0.7 -3-1.1 -3-0.5 -2-0.1 -2 0.1 -2 0.3 -2 0.5 -2 0.8 -1.4 0.7 -1.6 0.9 -1.3 1 -1.8 1.8 -1 1.2 -1 1.6 -0.7 1.4 -1 3 -0.4 1.9 -0.2 2 0 2 0.2 2 0.4 2 0.6 2 0.9 2 0.6 0.9 1.4 2 0.9 1 2.4 2 2 1.2 1.7 0.8 1.3 0.4z"/>
<path fill="#ff2d00" d="M132.3 772.6l1.7 0.5 2 0.3 3 0.1 3-0.4 1.7-0.5 1.3-0.5 1.1-0.5 1.7-1 2.3-1.8 1.1-1.2 0.9-1.2 1-1.6 0.5-1.1 0.5-1.3 0.5-1.7 0.4-3 0-2 -0.3-2 -0.7-2.9 -0.9-2 -0.5-1 -1.4-2 -0.9-1 -1.2-1.1 -1.3-0.9 -1.7-1 -1.1-0.5 -1.3-0.4 -1.7-0.5 -3-0.4 -2 0 -2 0.2 -3 0.7 -2 0.9 -1 0.5 -2.1 1.4 -1 0.9 -1.1 1.2 -0.9 1.2 -1 1.7 -0.5 1.1 -0.5 1.3 -0.5 1.7 -0.3 1.9 -0.1 2 0.1 2 0.3 2 0.5 1.7 0.5 1.3 0.5 1.1 1 1.6 0.9 1.2 1.1 1.2 1 0.9 2.1 1.4 2 1z"/>
<path fill="#ff2400" d="M136.3 771.6l2.7 0.1 3-0.5 1.8-0.6 1.2-0.5 2.4-1.5 1.2-1 0.9-1 1.6-2.1 0.9-1.8 0.4-1 0.6-3 0.1-3 -0.5-2.9 -0.5-1.8 -0.6-1.2 -0.5-1 -0.9-1.4 -1-1.1 -1.1-1 -2.1-1.5 -1.9-0.9 -1-0.4 -3-0.6 -3-0.1 -3 0.5 -1.8 0.5 -1.2 0.6 -2.4 1.4 -1.2 1 -0.9 1 -1.6 2.1 -0.9 1.9 -0.4 1 -0.6 2.9 -0.1 3 0.5 3 0.5 1.8 0.6 1.2 0.5 1 0.9 1.3 1 1.2 1.1 0.9 2.1 1.5 1.9 0.9 1 0.4 2 0.5z"/>
<path fill="#ff1c00" d="M134 769.6l3 0.5 2 0 3-0.5 2.5-1 1.6-1 1.2-1 1-0.9 0.8-1 1-1.6 0.9-2.4 0.5-2 0.1-3 -0.3-2 -0.3-0.9 -0.9-2.5 -1-1.6 -1.1-1.2 -1-1 -1-0.7 -1.5-1 -2.5-1 -2-0.4 -3-0.1 -3 0.5 -2.5 1 -1.6 1 -1.2 1 -1 1 -0.8 1 -1 1.5 -0.9 2.5 -0.5 1.9 -0.1 3 0.3 2 0.3 1 0.9 2.4 1 1.6 1.1 1.2 1 1 1 0.8 1.5 0.9z"/>
<path fill="#ff1500" d="M133.7 767.6l2.3 0.6 2 0.2 2-0.2 2.3-0.6 2.1-1 1.6-1.2 1.6-1.7 1.2-2 0.7-2 0.3-2 0-2 -0.1-1 -0.5-1.9 -1-2 -1.4-2 -1.8-1.5 -2-1.2 -2-0.7 -2-0.3 -2 0 -1 0.1 -2 0.5 -2 0.9 -2 1.5 -1.6 1.7 -1.2 2 -0.7 1.9 -0.2 1 -0.1 2 0.1 2 0.6 2.3 0.9 1.7 0.6 1 1.6 1.7 1.6 1.2z"/>
<path fill="#ff0f00" d="M136.3 766.6l1.7 0.2 2-0.2 2-0.6 2-1.1 1.4-1.2 0.9-1 0.6-1 0.5-1 0.6-2 0.2-2 -0.2-2 -0.6-1.9 -0.5-1 -0.6-1 -1.3-1.4 -1-0.8 -1-0.7 -1-0.4 -2-0.6 -2-0.2 -2 0.2 -2 0.6 -2 1.1 -1.4 1.2 -0.9 1 -0.6 1 -0.5 1 -0.6 1.9 -0.2 2 0.2 2 0.6 2 0.5 1 0.6 1 1.3 1.4 1 0.8 1 0.6 2 0.8z"/>
<path fill="#ff0a00" d="M135.4 764.7l1.6 0.3 2 0 1.6-0.3 1.4-0.6 1-0.6 1-0.9 1-1.2 0.9-1.7 0.3-1 0.2-2 -0.2-2 -0.3-1 -0.9-1.6 -1-1.3 -1.3-1 -1.7-0.9 -1-0.3 -2-0.2 -2 0.2 -1 0.3 -1.7 0.9 -1.3 1 -1 1.3 -0.9 1.6 -0.5 2 0 2 0.4 1.6 0.5 1.4 0.7 1 0.8 0.9 1 0.9 1 0.6z"/>
<path fill="#ff0600" d="M134.9 762.7l1.1 0.4 1 0.2 1 0.1 1-0.1 1-0.2 1.1-0.4 1.5-1 0.9-1 0.6-1 0.4-1 0.2-1 0.1-1 -0.1-1 -0.2-1 -0.5-1.1 -1-1.4 -1-0.9 -1-0.6 -1-0.4 -1-0.2 -1-0.1 -1 0.1 -1 0.2 -1.1 0.5 -1.5 1 -0.9 1 -0.6 0.9 -0.4 1 -0.2 1 -0.1 1 0.1 1 0.2 1 0.5 1.1 1 1.4 1 0.9z"/>
<path fill="#ff0300" d="M135.2 761.7l0.8 0.3 1 0.3 1 0.1 1-0.1 1-0.3 1-0.4 1-0.8 0.9-1.1 0.5-1 0.2-1 0.1-1 -0.1-1 -0.2-1 -0.5-1 -0.9-1 -1-0.8 -1-0.5 -1-0.3 -1 0 -1 0 -1 0.3 -1 0.5 -1 0.8 -0.9 1 -0.5 1 -0.2 1 -0.1 1 0.1 1 0.2 1 0.5 1 0.9 1.1z"/>
</g>
<path d="M46.56 859.90v-2.0M46.56 653.55v2.0M33.50 847.00h2.0M242.50 847.00h-2.0M59.62 859.90v-3.8M59.62 653.55v3.8M33.50 834.11h3.8M242.50 834.11h-3.8M72.69 859.90v-2.0M72.69 653.55v2.0M33.50 821.21h2.0M242.50 821.21h-2.0M85.75 859.90v-3.8M85.75 653.55v3.8M33.50 808.31h3.8M242.50 808.31h-3.8M98.81 859.90v-2.0M98.81 653.55v2.0M33.50 795.42h2.0M242.50 795.42h-2.0M111.88 859.90v-3.8M111.88 653.55v3.8M33.50 782.52h3.8M242.50 782.52h-3.8M124.94 859.90v-2.0M124.94 653.55v2.0M33.50 769.62h2.0M242.50 769.62h-2.0M138.00 859.90v-3.8M138.00 653.55v3.8M33.50 756.73h3.8M242.50 756.73h-3.8M151.06 859.90v-2.0M151.06 653.55v2.0M33.50 743.83h2.0M242.50 743.83h-2.0M164.12 859.90v-3.8M164.12 653.55v3.8M33.50 730.93h3.8M242.50 730.93h-3.8M177.19 859.90v-2.0M177.19 653.55v2.0M33.50 718.03h2.0M242.50 718.03h-2.0M190.25 859.90v-3.8M190.25 653.55v3.8M33.50 705.14h3.8M242.50 705.14h-3.8M203.31 859.90v-2.0M203.31 653.55v2.0M33.50 692.24h2.0M242.50 692.24h-2.0M216.38 859.90v-3.8M216.38 653.55v3.8M33.50 679.34h3.8M242.50 679.34h-3.8M229.44 859.90v-2.0M229.44 653.55v2.0M33.50 666.45h2.0M242.50 666.45h-2.0" stroke="#000" stroke-width="1" fill="none"/><rect x="33.50" y="653.55" width="209.00" height="206.35" fill="none" stroke="#111" stroke-width="1.05"/>
<g class="tk" text-anchor="middle">
<text x="33.5" y="871.7">−2.0</text>
<text x="59.6" y="871.7">−1.5</text>
<text x="85.8" y="871.7">−1.0</text>
<text x="111.9" y="871.7">−0.5</text>
<text x="138.0" y="871.7">0.0</text>
<text x="164.1" y="871.7">0.5</text>
<text x="190.2" y="871.7">1.0</text>
<text x="216.4" y="871.7">1.5</text>
<text x="242.5" y="871.7">2.0</text>
</g><g class="tk" text-anchor="end">
<text x="29.6" y="863.0">−2.0</text>
<text x="29.6" y="837.2">−1.5</text>
<text x="29.6" y="811.4">−1.0</text>
<text x="29.6" y="785.6">−0.5</text>
<text x="29.6" y="759.8">0.0</text>
<text x="29.6" y="734.0">0.5</text>
<text x="29.6" y="708.2">1.0</text>
<text x="29.6" y="682.4">1.5</text>
<text x="29.6" y="656.6">2.0</text>
</g>
<text class="ax" text-anchor="middle" transform="translate(138.0 889.2) scale(1.12 1)">X</text>
<text class="ax" text-anchor="middle" transform="translate(7.6 757.1) rotate(-90) scale(1.15 1)">Y</text>
<text class="tag" x="42.2" y="678.0">(e)</text>
<rect x="276.00" y="653.55" width="17.40" height="206.35" fill="url(#cb)" stroke="#777" stroke-width="0.4"/>
<path d="M276.00 653.55v206.35M293.40 653.55v206.35" stroke="#2b2622" stroke-width="0.8" fill="none"/>
<path d="M293.40 653.85h3.2M293.40 679.64h3.2M293.40 705.44h3.2M293.40 731.23h3.2M293.40 757.02h3.2M293.40 782.82h3.2M293.40 808.61h3.2M293.40 834.41h3.2M293.40 860.20h3.2" stroke="#333" stroke-width="0.9" fill="none"/>
<g class="cl">
<text x="300.0" y="656.0">0.9600</text>
<text x="300.0" y="681.8">0.8815</text>
<text x="300.0" y="707.6">0.8030</text>
<text x="300.0" y="733.4">0.7245</text>
<text x="300.0" y="759.2">0.6460</text>
<text x="300.0" y="785.0">0.5675</text>
<text x="300.0" y="810.8">0.4890</text>
<text x="300.0" y="836.6">0.4105</text>
<text x="300.0" y="862.4">0.3320</text>
</g>
<text class="ax" text-anchor="middle" x="284.7" y="646.6">Potential</text>
</g>
<g id="pf">
<g transform="translate(0.15 0.3)">
<rect x="398.5" y="653.5" width="209" height="206.3" fill="#0001ff"/>
<path fill="#0008ff" d="M399.7 858.9l1 1 204.6 0 0.2-0.2 2-2 0-201.9 -2.2-2.2 -204.6 0 -0.2 0.2 -2 2 0 201.9z"/>
<path fill="#0010ff" d="M404.6 858.9l1.1 1 194.6 0 5.1-5 2.1-2.1 0-192.1 -3-3.2 -4.2-3.9 -194.6 0 -5.1 4.9 -2.1 2.2 0 192.1z"/>
<path fill="#0017ff" d="M409.6 858.9l1.2 1 184.4 0 4.4-4 5-4.9 2.9-3.2 0-182.1 -3.9-4.2 -4.1-4.1 -4.3-3.8 -184.4 0 -4.4 3.9 -5 5 -2.9 3.2 0 182.1 5 5.3z"/>
<path fill="#001dff" d="M414.8 858.9l1.2 1 174 0 3.5-3 4-3.6 3.4-3.3 3.7-4 2.9-3.3 0-171.9 -2.9-3.4 -3.1-3.3 -3.6-3.6 -3.5-3.2 -4.4-3.7 -174 0 -3.5 2.9 -4 3.6 -3.4 3.4 -3.7 3.9 -2.9 3.4 0 171.9 3.8 4.3 3.8 4 4.2 3.9z"/>
<path fill="#0021ff" d="M417.4 858.9l1.3 1 168.6 0 4.8-4 4.4-3.9 4-4 4.5-5 2.5-3 0-166.6 -4-4.7 -4-4.2 -4.1-4 -4-3.6 -4.1-3.3 -168.6 0 -4.8 3.9 -4.4 4 -4 4 -4.5 4.9 -2.5 3 0 166.6 4.3 5 4.7 5 5.1 4.8z"/>
<path fill="#0025ff" d="M420.2 858.9l1.2 1 163.2 0 5.8-4.8 5-4.5 5.1-5.1 4.7-5.4 2.3-2.8 0-161.1 -4-4.9 -5-5.4 -5.1-4.9 -5-4.4 -3.8-3 -163.2 0 -5.8 4.7 -5 4.6 -5.1 5.1 -4.7 5.4 -2.3 2.8 0 161.1 4.8 5.7 5.2 5.6 5.7 5.3z"/>
<path fill="#002aff" d="M422.9 858.9l1.3 1 157.6 0 6.3-5 5.5-4.9 5.9-5.9 5.2-6 2.8-3.6 0-155.6 -4.4-5.5 -5.4-6 -5.3-5.1 -6-5.2 -4.6-3.5 -157.6 0 -6.3 4.9 -5.5 5 -5.9 5.8 -5.2 6.1 -2.8 3.5 0 155.6 5.3 6.6 5.8 6.1 6 5.8 3.5 2.9z"/>
<path fill="#002eff" d="M425.7 858.9l1.4 1 151.8 0 3.5-2.5 4-3.2 6-5.4 3-2.9 3.7-3.9 2.6-2.9 3.2-4 2.6-3.4 0-150 -2.6-3.3 -3.2-4 -5.4-6 -3-2.9 -3.2-3 -3.4-3 -3.3-2.6 -4.5-3.3 -151.8 0 -3.5 2.5 -4 3.2 -6 5.3 -3 3 -3.7 3.8 -2.6 3 -3.2 4 -2.6 3.3 0 150 2.6 3.4 3.2 4 3.2 3.6 3.2 3.3 3.1 3 3.8 3.5 4 3.3z"/>
<path fill="#03f" d="M428.6 858.9l1.4 1 146 0 4.4-3.2 4-3.1 4-3.4 3.5-3.2 3.5-3.6 3.2-3.3 3.3-4 3.2-4 2.4-3.3 0-144.1 -3-4.1 -3-3.8 -3-3.5 -3.6-3.9 -3.5-3.4 -3.9-3.5 -3.5-3 -3.6-2.8 -4.4-3.1 -146 0 -4.4 3.1 -4 3.1 -4 3.5 -3.5 3.1 -3.5 3.6 -3.2 3.4 -3.3 4 -3.2 3.9 -2.4 3.4 0 144.1 3.2 4.3 3.2 4 3.4 4 3.8 3.9 3.5 3.4 4 3.6 4 3.2z"/>
<path fill="#0038ff" d="M431.6 858.9l1.5 1 139.8 0 4.5-3 5-3.8 4-3.4 4.1-3.7 3.9-4 3.7-3.9 3.4-4.1 3.7-4.9 2.3-3.3 0-138.1 -3.1-4.4 -3.8-4.9 -3.4-4 -3.7-4 -4.1-3.9 -4-3.6 -4-3.3 -4-3 -4.5-3 -139.8 0 -4.5 3 -5 3.8 -4 3.3 -4.1 3.7 -3.9 4 -3.7 4 -3.4 4.1 -3.7 4.8 -2.3 3.4 0 138.1 3.1 4.3 3.8 5 4.2 4.8 3.9 4.1 4.2 4 4.6 4 4.3 3.4z"/>
<path fill="#003dff" d="M434.6 858.9l1.6 1 133.6 0 5.5-3.7 5.1-3.7 5-4.2 4-3.6 4-4.1 4.1-4.5 4.1-5 3.6-4.9 2.3-3.5 0-131.9 -3.7-5.5 -3.3-4.4 -3.8-4.5 -4.3-4.6 -4.4-4.4 -4.5-3.9 -4.1-3.3 -5.1-3.7 -4.5-2.9 -133.6 0 -5.5 3.6 -5.1 3.8 -5 4.1 -4 3.7 -4 4 -4.1 4.6 -4.1 4.9 -3.6 5 -2.3 3.5 0 131.9 3.7 5.5 3.8 4.9 4.2 5 4.4 4.6 5 4.7 5 4.3 5 3.8z"/>
<path fill="#0042ff" d="M437.8 858.9l1.6 1 127.2 0 5.7-3.6 5.1-3.6 5-4 5.2-4.7 4.8-4.8 4.6-5.1 4-5 4.2-5.9 2.3-3.7 0-125.5 -3.7-5.7 -3.6-5 -4-4.9 -4.5-5 -5.1-5 -4.6-3.9 -5.6-4.5 -5.1-3.5 -4.7-2.9 -127.2 0 -5.7 3.6 -5.1 3.6 -5 3.9 -5.2 4.7 -4.8 4.8 -4.6 5.1 -4 5 -4.2 6 -2.3 3.7 0 125.5 3.7 5.7 4.3 5.9 4.2 5 4.9 5.2 5 4.8 5.8 4.9 5.3 3.9z"/>
<path fill="#0048ff" d="M441.1 858.9l1.7 1 120.4 0 6.1-3.7 6-4.1 6.1-4.7 5-4.5 5-5 5.1-5.8 4.5-5.9 4.1-6 2.4-4 0-118.9 -3.7-6.1 -4.2-5.9 -4.8-6 -4.4-4.8 -5-4.9 -5-4.3 -6.1-4.7 -6-4 -5.1-3 -120.4 0 -6.1 3.6 -6 4.2 -6.1 4.7 -5 4.5 -5 5 -5.1 5.7 -4.5 6 -4.1 5.9 -2.4 4.1 0 118.9 2.4 4 2 3 4.3 5.9 4.9 6 4.6 5 2.9 2.8 3 2.7 6 5 6.1 4.3z"/>
<path fill="#004dff" d="M444.5 858.9l1.8 1 113.4 0 6.6-3.8 4-2.6 3-2 6.1-4.7 3-2.5 3-2.8 5.3-5.4 5.2-6 4.6-6 2.5-3.9 1.9-3 2.6-4.5 0-111.9 -3.8-6.6 -2.6-3.9 -2.2-3 -4.6-6 -4.9-5.4 -5.7-5.5 -5.8-4.9 -3.6-2.8 -3-2.1 -6-3.9 -5.6-3.1 -113.4 0 -6.6 3.7 -4 2.6 -3 2.1 -6.1 4.6 -3 2.6 -3 2.7 -5.3 5.5 -5.2 5.9 -4.6 6.1 -2.5 3.8 -1.9 3 -2.6 4.6 0 111.9 3.8 6.5 2.6 4 2.2 3 2.5 3.2 3 3.7 2.7 3 2.8 3 3.1 2.9 3.3 3 6.2 5 3 2.2 4 2.7z"/>
<path fill="#0053ff" d="M448.1 858.9l2 1 105.8 0 4.4-2.2 4-2.3 3-1.9 3.8-2.5 3.2-2.4 4.1-3.1 3-2.6 3-2.8 3.1-3 2.9-3.2 3-3.4 2.7-3.3 2.4-3.3 2.5-3.7 1.9-3 2.3-3.9 2.3-4.3 0-104.5 -1.7-3.3 -2.3-4 -2.5-4 -2-2.9 -2.6-3.5 -2.7-3.5 -2.5-3 -2.8-3 -3-3 -3.1-2.9 -3.4-3 -3.6-2.8 -3-2.2 -4-2.8 -3.3-2.1 -3.7-2.1 -5.4-2.8 -105.8 0 -4.4 2.2 -4 2.3 -3 1.9 -3.8 2.5 -3.2 2.3 -4.1 3.2 -3 2.6 -3 2.7 -3.1 3.1 -2.9 3.1 -3 3.5 -2.7 3.3 -2.4 3.2 -2.5 3.7 -1.9 3 -2.3 4 -2.3 4.3 0 104.5 2.3 4.3 2.3 3.9 1.9 3 2.7 4 2.9 3.8 2.5 3.1 3.5 3.9 2.9 3.1 3.1 3 3 2.7 3 2.5 4.1 3.1 3 2.1 4 2.6 4 2.4z"/>
<path fill="#0059ff" d="M451.9 858.9l2.2 1 97.8 0 4.4-2.1 4-2.1 4-2.3 4-2.6 4-2.8 3.9-3 3.6-3 3.2-2.9 3.4-3.4 3.4-3.6 2.6-3.1 3-3.8 2.9-4 2.6-4 2.4-3.9 2.1-4 2.1-4.2 0-96.7 -2.1-4.3 -2.1-3.9 -2.4-4 -2.6-4 -2.1-2.9 -3.1-4 -2.7-3.2 -3.4-3.7 -2.9-3 -3.7-3.5 -3-2.5 -4.1-3.2 -4-2.9 -4-2.6 -4-2.4 -4-2.2 -5.4-2.5 -97.8 0 -4.4 2 -4 2.1 -4 2.4 -4 2.5 -4 2.9 -3.9 2.9 -3.6 3 -3.2 3 -3.4 3.3 -3.4 3.6 -2.6 3.1 -3 3.9 -2.9 3.9 -2.6 4 -2.4 4 -2.1 3.9 -2.1 4.3 0 96.7 2.6 5.2 2.2 4 2.4 3.9 2.7 4 2.9 4 3.2 3.9 3.1 3.5 3 3.2 3.4 3.3 3.6 3.2 4.1 3.2 4 2.9 4 2.7 4 2.5 4 2.2z"/>
<path fill="#005fff" d="M456 858.9l2.3 1 89.4 0 4.5-2 5.1-2.5 4-2.2 4-2.4 4-2.7 4.2-3.1 3.9-3.1 4.2-3.8 3.8-3.7 3-3.3 3.3-3.9 3.1-4 2.8-4 3.1-4.9 2.3-4 2.5-5 2-4.5 0-88.2 -2-4.5 -2.5-4.9 -2.3-4 -2.5-4 -2.7-4 -3.1-4.1 -3.1-3.8 -3.7-4 -3.2-3.2 -4-3.7 -4.1-3.3 -4-3 -4-2.8 -4-2.5 -5-2.8 -4.1-2 -5.5-2.4 -89.4 0 -4.5 1.9 -5.1 2.5 -4 2.2 -4 2.5 -4 2.7 -4.2 3 -3.9 3.2 -4.2 3.8 -3.8 3.7 -3 3.3 -3.3 3.9 -3.1 4 -2.8 3.9 -3.1 5 -2.3 4 -2.5 4.9 -2 4.5 0 88.2 2 4.5 2.5 5 2.9 5 2.5 3.9 2.8 4 3.4 4.4 3 3.5 4 4.3 4 3.8 4 3.5 4.1 3.2 4 2.9 4 2.6 5 2.9 4.1 2.2z"/>
<path fill="#06f" d="M460.4 858.9l2.6 1 80 0 3.2-1.2 5-2.2 5.1-2.5 5-2.8 4-2.4 4-2.8 4-3 4.1-3.3 4-3.7 3.8-3.9 3.5-3.9 3.2-4 3-4 3.2-4.9 2.4-4 2.6-5 2.3-4.9 2.1-5.2 0-79 -0.4-1.1 -2.1-5 -2.4-5 -2.7-4.9 -2.4-4 -3.1-4.6 -3.2-4.3 -3.3-4 -3.7-4 -3.8-3.8 -4-3.6 -4.1-3.2 -4-3 -4-2.7 -5-3 -5.1-2.6 -5-2.4 -6.2-2.4 -80 0 -1.2 0.4 -5 2 -5 2.4 -5.1 2.6 -4 2.4 -4.6 3 -4.4 3.3 -4.1 3.2 -4 3.6 -3.8 3.8 -3.7 4 -3.5 4.3 -3.5 4.6 -3.2 5 -2.4 4 -2.6 4.9 -2.3 5 -2.1 5.1 0 79 1.2 3.2 2.2 4.9 2.5 5 2.9 5 2.5 3.9 3.5 5 3.1 4 3.5 3.9 3.8 4 3.9 3.7 4.1 3.4 4 3.1 5 3.5 5 3 5.1 2.8 5 2.4z"/>
<path fill="#006cff" d="M465.2 858.9l3 1 69.6 0 5.4-1.9 6-2.4 5-2.4 4.1-2.2 4-2.3 5-3.3 4-3 4.2-3.3 3.9-3.5 4-4 3.1-3.4 3.3-4 3-4 3.3-4.9 3-5 2.1-4 2.4-4.9 2-5 1.9-5.3 0-68.8 -1.5-4.3 -2-4.9 -2.3-5 -2.6-4.9 -3-5 -2.6-4 -2.9-3.9 -3.2-4 -3.6-4 -3.9-3.9 -3.5-3.3 -4.6-3.7 -4.5-3.3 -4-2.7 -4-2.4 -5.1-2.7 -5-2.4 -5-2.1 -6.4-2.2 -69.6 0 -4.4 1.4 -5 2 -5 2.3 -5.1 2.5 -5 3 -4 2.6 -5 3.6 -4 3.3 -4.1 3.6 -3.5 3.4 -3.6 4 -3.3 4 -3 3.9 -3.3 5 -3 5 -2.1 3.9 -2.4 5 -2 4.9 -1.9 5.3 0 68.8 1.9 5.3 2.5 6 2.4 4.9 2.7 5 3.2 4.9 2.7 4 3.1 4 3.6 4.2 3.5 3.7 4.2 4 4.4 3.7 4 3.1 4.4 3.1 4.6 2.9 4 2.2 5.1 2.6 5 2.2z"/>
<path fill="#0073ff" d="M470.7 858.9l3.6 1 57.4 0 5.5-1.6 6-2.1 5-2 5-2.4 4.1-2.1 5-3 4-2.7 4-2.9 4-3.3 4.1-3.6 4-4 3-3.4 3-3.6 3-4 2.7-3.9 3-5 2.2-4 2.4-4.9 2.1-5 1.8-5 1.9-6.3 0-56.7 -1.6-5.4 -1.7-5 -2.1-4.9 -1.8-4 -2.6-5 -2.3-3.9 -3.3-5 -2.9-4 -3.2-3.9 -3.6-4 -3-3.1 -4.1-3.7 -4-3.3 -4-3 -5-3.4 -4-2.4 -4.1-2.2 -5-2.5 -5-2.1 -5-1.8 -7.5-2.2 -57.4 0 -5.5 1.5 -5 1.7 -5 2.1 -4 1.8 -5.1 2.5 -4 2.3 -5 3.3 -4 2.8 -4 3.2 -4.1 3.5 -4 3.9 -3 3.3 -3.2 3.8 -3.8 4.9 -2.7 4 -3 5 -2.2 3.9 -2.4 5 -2.1 4.9 -1.8 5 -1.9 6.4 0 56.7 1.6 5.4 2.1 5.9 2.1 5 2.4 4.9 2.2 4 3 5 3.4 4.9 3.1 4 3.4 4 3.7 3.9 4.1 3.9 3.6 3.1 4.5 3.5 4 2.8 5 3.1 4.1 2.3 5 2.5 5 2.1 5 1.9z"/>
<path fill="#007bff" d="M477.3 858.9l4.6 1 42.2 0 4-0.9 5-1.2 5.1-1.6 4-1.4 4-1.6 4-1.8 4-2 4.1-2.3 4-2.4 5-3.5 4-3.1 3.6-3 3.5-3.3 3.6-3.6 3.4-4 3-3.8 3-4.2 2.6-3.9 2.8-5 2.1-3.9 1.8-4 2-5 1.7-4.9 1.5-5 1.6-7 0-41.6 -0.9-4 -1-3.9 -1.2-4 -1.3-4 -1.6-3.9 -1.7-4 -1.9-4 -2.2-4 -3-4.9 -2.7-4 -3-4 -3.3-3.9 -3.3-3.7 -3.4-3.3 -3.7-3.3 -4-3.3 -4-2.9 -4-2.7 -4-2.4 -5.1-2.7 -5-2.3 -5-2 -5-1.8 -5.1-1.5 -4-1 -4-0.8 -42.2 0 -4 0.8 -4 1 -4.1 1.2 -4 1.3 -4 1.5 -4 1.7 -4 1.9 -4.1 2.2 -5 2.9 -4 2.7 -4 2.9 -4 3.3 -4.1 3.6 -3.6 3.7 -3.6 4 -3.2 3.9 -2.9 4 -3.3 5 -2.8 4.9 -2.1 4 -1.8 4 -2 4.9 -1.7 5 -1.5 4.9 -1.6 7 0 41.6 0.9 4 1.3 5 1.5 4.9 1.5 4 1.6 4 1.8 4 2.1 3.9 2.2 4 2.5 4 3.5 4.9 3.2 4 3.4 4 3.6 3.6 4.1 3.8 4 3.3 4 3 4 2.8 5 3 5.1 2.7 4 1.9 5 2.1 5 1.8 5.1 1.6z"/>
<path fill="#0082ff" d="M486.1 858.9l3.8 0.5 4.8 0.5 16.6 0 3.8-0.3 4-0.6 4-0.6 4-0.8 5-1.3 5.1-1.5 4-1.4 5-2 4-1.9 5-2.6 4.1-2.3 5-3.3 4-2.9 4-3.3 4.1-3.6 3.3-3.3 3.5-4 3.2-3.9 3-4.1 2.6-3.9 2.9-5 2.1-3.9 1.9-4 2-5 1.4-3.9 1.6-5 1.2-5 1-4.9 0.8-5 0.6-5.7 0-16.3 -0.4-3.8 -0.5-3.9 -1.3-7 -1.2-5 -1.4-4.9 -1.8-5 -1.6-3.9 -2.3-5 -2.1-4 -2.9-4.9 -2.6-4 -2.9-4 -3.3-3.9 -3.5-4 -3.3-3.3 -4.1-3.6 -3.6-3 -4.4-3.3 -4-2.6 -4-2.4 -5.1-2.7 -5-2.3 -4-1.7 -5-1.7 -5.1-1.6 -5-1.2 -5-1 -5-0.8 -5.8-0.5 -16.6 0 -3.8 0.3 -4 0.5 -7 1.3 -5 1.2 -5.1 1.4 -5 1.8 -4 1.6 -5 2.2 -4 2.1 -5.1 2.9 -4 2.5 -4 2.9 -4 3.2 -4 3.5 -3.4 3.3 -3.7 4 -3 3.6 -3.3 4.3 -2.7 4 -2.4 3.9 -2.7 5 -2.4 5 -1.6 3.9 -1.8 5 -1.6 5 -1.2 4.9 -1 5 -0.8 4.9 -0.6 5.8 0 16.3 0.4 3.7 0.5 4 1.3 6.9 1.2 5 1.4 5 1.8 4.9 2 5 1.9 4 2.6 4.9 2.4 4 3.3 4.9 3 4 3.3 4 3.7 3.9 3.4 3.3 4 3.5 3.9 3.2 4.1 2.9 4 2.6 5.1 2.9 4 2 5 2.3 5 2 5 1.6 5.1 1.4 5 1.2z"/>
<path fill="#08f" d="M491.8 857.9l5.2 0.4 5 0.2 5-0.1 5-0.3 5.1-0.5 5-0.8 5-1 5-1.3 4.1-1.2 5-1.7 5-2.1 4-1.9 4-2.1 5.1-2.9 4-2.7 4-2.9 4-3.3 4-3.6 3.1-3.1 3.4-3.8 3.3-4 2.9-3.9 2.6-4 2.4-4 2.1-3.9 2.3-5 1.7-4 1.7-4.9 1.5-5 1.3-5 1-4.9 0.7-5 0.5-4.9 0.2-5 0-6 -0.2-4.9 -0.5-5 -0.7-4.9 -1-5 -1.3-5 -1.5-4.9 -1.7-5 -2.1-4.9 -1.9-4 -2.1-4 -3-4.9 -2.7-4 -2.9-3.9 -3.4-4 -3.6-3.9 -3.2-3.1 -3.9-3.4 -4-3.2 -4-2.9 -4-2.6 -4.1-2.3 -4-2.1 -5-2.3 -4-1.6 -5-1.8 -5.1-1.5 -5-1.2 -5-0.9 -5-0.8 -5.1-0.5 -5-0.2 -6 0 -5 0.2 -5.1 0.5 -5 0.8 -5 0.9 -5 1.2 -5.1 1.5 -5 1.8 -5 2 -4 1.9 -4 2.1 -5.1 3 -4 2.6 -3.9 2.9 -4.1 3.3 -4 3.6 -3.1 3.1 -3.4 3.9 -3.3 3.9 -2.9 4 -2.6 4 -2.4 3.9 -2.1 4 -2.3 5 -1.7 3.9 -1.7 5 -1.5 4.9 -1.3 5 -1 5 -0.7 4.9 -0.5 5 -0.2 4.9 0 6 0.2 5 0.5 4.9 0.7 5 1 4.9 1.3 5 1.5 5 1.7 4.9 2.1 5 1.9 4 2.1 3.9 3 5 2.7 3.9 3 4 3.3 4 3.6 3.9 3.2 3 3.9 3.5 4 3.2 4 2.8 4 2.6 5.1 2.9 5 2.5 4 1.8 5 1.9 5.1 1.6 5 1.4 5 1.1 5 0.9z"/>
<path fill="#0090ff" d="M492.5 856.9l4.5 0.4 5 0.1 5 0 5-0.3 5.1-0.6 5-0.8 5-1 5-1.3 4.1-1.2 5-1.8 5-2 4-1.9 5-2.7 4.1-2.5 4-2.6 4-3 4-3.4 3.5-3.2 3.6-3.6 2.9-3.3 3.2-4 2.9-3.9 2.6-4 2.3-4 2.6-4.9 1.8-4 1.6-4 1.7-4.9 1.5-5 1.2-4.9 0.9-5 0.7-5 0.5-4.9 0.2-5 0-5 -0.3-4.9 -0.5-5 -0.7-4.9 -1-5 -1.3-5 -1.5-4.9 -1.8-5 -2.1-4.9 -1.9-4 -2.7-5 -2.5-3.9 -2.7-4 -2.6-3.4 -3-3.6 -3.6-3.9 -3.5-3.4 -4-3.5 -4-3.1 -4-2.9 -4-2.5 -4.1-2.3 -5-2.6 -4-1.8 -4-1.6 -5-1.7 -5.1-1.4 -5-1.2 -5-0.9 -5-0.7 -5.1-0.5 -5-0.2 -5 0.1 -5 0.2 -5.1 0.5 -5 0.7 -5 1 -5 1.2 -5.1 1.5 -5 1.8 -5 2.1 -4 1.9 -5 2.7 -4.1 2.4 -4 2.7 -3.5 2.6 -3.6 2.9 -3.9 3.6 -3.4 3.4 -3.6 3.9 -3.2 4 -2.9 4 -2.6 4 -2.3 3.9 -2.6 5 -1.8 4 -1.6 3.9 -1.7 5 -1.5 4.9 -1.2 5 -0.9 5 -0.7 4.9 -0.5 5 -0.2 4.9 0.1 6 0.3 5 0.5 4.9 0.8 5 1.1 4.9 1.3 5 1.2 4 1.8 4.9 2.1 5 1.9 4 2.7 4.9 2.5 4 2.7 3.9 3.1 4 3.3 4 3.2 3.4 3.7 3.5 3.5 3 3.9 3.1 4 2.8 4 2.6 5.1 2.8 4 2 5 2.2 5 1.9 5.1 1.6 5 1.4 5 1.1 5 0.8z"/>
<path fill="#0098ff" d="M497.2 854.9l4.8 0.2 5-0.1 5-0.3 5.1-0.5 5-0.8 5-1.1 4-1 5.1-1.5 4-1.5 5-2 5-2.4 4-2.2 4.1-2.5 4-2.7 4-3 3-2.5 4-3.7 3.1-3 3-3.4 2.9-3.7 2.9-3.9 2.6-4 2.4-4 2.1-3.9 1.8-4 2.1-5 1.7-4.9 1.2-4 1.2-4.9 0.9-5 0.7-5 0.5-4.9 0.2-5 0-5 -0.3-4.9 -0.5-5 -0.7-4.9 -1-5 -1.3-5 -1.2-3.9 -1.8-5 -1.7-3.9 -2.3-5 -2.2-4 -2.4-3.9 -2.7-4 -2.9-4 -3.2-3.8 -3.1-3.3 -3.9-3.8 -3.4-3 -3.7-2.9 -4-2.9 -4-2.5 -4.1-2.4 -4-2 -4-1.9 -5-2 -5.1-1.7 -4-1.1 -5-1.2 -5-1 -5-0.7 -5.1-0.4 -5-0.2 -5 0 -5 0.3 -5.1 0.5 -5 0.7 -5 1 -5 1.3 -4.1 1.2 -5 1.7 -4 1.6 -5 2.4 -4 2.1 -4.1 2.4 -4 2.6 -4 3 -3.9 3.1 -3.3 3 -3.9 3.9 -3 3.3 -2.9 3.7 -2.9 4 -2.6 3.9 -2.4 4 -2.1 4 -1.8 4 -2.1 4.9 -1.7 5 -1.2 3.9 -1.2 5 -0.9 5 -0.7 4.9 -0.5 5 -0.2 4.9 0 5 0.3 5 0.5 4.9 0.7 5 1 4.9 1.3 5 1.2 4 1.8 4.9 1.7 4 2.3 5 2.2 3.9 2.4 4 2.7 4 2.9 3.9 3.4 4 3.7 4 3.1 2.9 3.4 3 3.8 3 3.9 2.8 4 2.6 4.1 2.3 5 2.5 5 2.2 4 1.6 5.1 1.6 5 1.4 5 1.1 5 0.8 5.1 0.6z"/>
<path fill="#00a1ff" d="M497.9 853.9l4.1 0.2 5-0.1 5-0.3 5.1-0.6 5-0.8 5-1 4-1.1 5.1-1.5 5-1.9 4-1.7 5-2.4 4-2.2 4.1-2.5 4-2.7 4-3.1 3-2.5 3.8-3.5 3.3-3.4 3-3.6 3-3.7 3-4.2 2.5-4 2.2-3.9 2-4 1.8-4 1.9-4.9 1.3-4 1.4-5 1.1-4.9 0.7-4 0.7-5 0.4-4.9 0.2-5 -0.1-4.9 -0.3-5 -0.6-5 -0.8-4.9 -1-5 -1.1-4 -1.6-4.9 -1.8-5 -1.7-3.9 -2.5-5 -2.2-4 -2.5-3.9 -2.8-4 -3.2-4 -2.5-3 -3.6-3.6 -3.4-3.3 -3.6-3 -3.8-2.9 -4.2-3 -4.1-2.5 -4-2.2 -4-1.9 -4-1.8 -5-1.9 -4.1-1.3 -5-1.4 -5-1.1 -4-0.7 -5-0.6 -5.1-0.4 -5-0.2 -5 0.1 -5 0.3 -5.1 0.5 -5 0.8 -5 1.1 -4 1 -5.1 1.6 -5 1.8 -4 1.7 -5 2.4 -4 2.2 -4.1 2.5 -4 2.8 -4 3.1 -3 2.5 -3.8 3.5 -3.3 3.4 -3 3.5 -3 3.8 -3 4.2 -2.5 3.9 -2.2 4 -2 4 -1.8 3.9 -1.9 5 -1.3 4 -1.4 4.9 -1.1 5 -0.7 4 -0.7 4.9 -0.4 5 -0.2 4.9 0.1 5 0.3 5 0.6 4.9 0.8 5 1 4.9 1.1 4 1.6 5 1.8 4.9 1.7 4 2.5 5 2.2 3.9 2.5 4 2.8 4 3.2 3.9 2.5 3 3.6 3.7 3.4 3.2 3.6 3.1 3.8 2.9 4.2 2.9 4.1 2.5 4 2.2 4 2 4 1.7 5 1.9 5.1 1.6 5 1.4 5 1 5 0.8 4.1 0.5z"/>
<path fill="#0af" d="M490.8 851l4.2 0.4 5 0.2 5 0.1 5-0.2 5.1-0.5 5-0.7 4-0.8 5-1.2 5-1.4 4.1-1.4 5-2.1 4-1.8 4-2.1 4-2.3 4.1-2.7 3-2.2 4-3.2 3-2.6 3-2.9 3.2-3.4 2.9-3.4 2.7-3.5 2.7-4 2.5-4 2.1-3.9 2-4 1.7-4 1.9-4.9 1.2-4 1.3-5 0.9-3.9 0.8-5 0.6-4.9 0.3-4 0.1-5 -0.1-4.9 -0.4-5 -0.6-5 -0.9-4.9 -0.9-4 -1.4-4.9 -1.3-4 -1.9-5 -1.8-3.9 -2-4 -2.2-4 -2.5-3.9 -2.9-4 -2.9-3.8 -2.8-3.2 -2.9-2.9 -3.4-3.2 -3.2-2.8 -3.8-2.9 -4-2.8 -4.1-2.5 -4-2.2 -4-2 -4-1.7 -5-1.9 -4.1-1.3 -5-1.4 -5-1.1 -5-0.8 -5.1-0.5 -4-0.3 -5-0.1 -5 0.1 -5 0.3 -5.1 0.7 -5 0.8 -4 0.9 -5 1.4 -4.1 1.3 -5 1.9 -4 1.7 -4 2 -4 2.2 -4.1 2.5 -4 2.8 -3.8 2.9 -3.2 2.8 -3.4 3.2 -2.9 2.9 -2.8 3.2 -2.9 3.8 -2.9 4 -2.5 3.9 -2.2 4 -2 4 -1.8 3.9 -1.9 5 -1.3 4 -1.4 4.9 -1.1 5 -0.8 4.9 -0.6 5 -0.3 5 -0.1 4.9 0.2 5 0.4 4.9 0.7 5 0.9 5 1 3.9 1.1 4 1.7 5 1.9 4.9 1.9 4 2 4 2.3 3.9 2.6 4 2.9 4 3.2 3.9 3.1 3.3 3.6 3.7 3.4 2.9 3 2.5 4 2.9 4.1 2.7 4 2.3 4 2.1 4 1.8 5 2.1 4.1 1.4 5 1.4 4 1 5 1z"/>
<path fill="#00aeff" d="M490.7 850l4.3 0.4 5 0.3 5 0 5-0.2 4.1-0.4 5-0.7 5-0.9 4-0.9 4-1.1 5.1-1.7 4-1.6 4-1.7 4-2 4-2.3 4.1-2.5 4-2.8 3.5-2.8 3.4-2.9 3.1-3 3-3.2 3.1-3.5 2.5-3.2 2.8-4 2.4-4 2.2-3.9 2-4 1.7-4 1.9-4.9 1.3-4 1.3-5 1.1-4.9 0.6-4 0.6-4.9 0.3-4 0.1-5 -0.1-4.9 -0.4-5 -0.6-5 -0.9-4.9 -0.9-4 -1.4-4.9 -1.3-4 -1.6-4 -1.7-3.9 -2-4 -2.2-4 -2.4-4 -2.8-3.9 -2.5-3.3 -3.1-3.5 -3-3.1 -3.1-3 -3.4-3 -3.5-2.7 -4-2.9 -4.1-2.5 -4-2.2 -4-2 -5-2.2 -4-1.5 -4.1-1.3 -5-1.4 -4-0.9 -5-0.9 -5.1-0.6 -4-0.3 -5-0.2 -5 0.1 -5 0.3 -5.1 0.6 -4 0.6 -5 1.1 -5 1.3 -4.1 1.2 -5 1.9 -4 1.7 -4 1.9 -4 2.2 -4.1 2.5 -4 2.7 -4 3.1 -3 2.6 -4 3.7 -2.9 3 -2.6 3 -3.1 4 -2.8 3.9 -2.4 4 -2.2 4 -2 4 -1.7 3.9 -1.9 5 -1.3 3.9 -1.3 5 -1.1 5 -0.6 3.9 -0.6 5 -0.3 4 -0.1 4.9 0.1 5 0.4 4.9 0.6 5 0.9 5 0.9 3.9 1.4 5 1.3 4 1.6 3.9 2.2 5 2 4 2.3 3.9 2.5 4 2.9 4 2.7 3.4 3.1 3.5 3 3 4 3.7 3 2.5 4 2.9 4.1 2.7 4 2.4 4 2.1 4 1.9 5 2 4.1 1.4 5 1.5 4 1 5 1z"/>
<path fill="#00b5ff" d="M502.1 850l4.9-0.1 5-0.3 4.1-0.5 5-0.7 5-1.1 4-1 5.1-1.6 4-1.4 4-1.7 4-1.9 4-2.1 4-2.4 4.1-2.7 3.1-2.4 3.6-2.9 3.3-3 3-3.1 3.5-3.9 2.6-3.1 2.7-3.8 2.6-4 2.3-3.9 2-4 1.8-4 2-4.9 1.3-4 1.2-4 1.1-4.9 0.8-4 0.7-5 0.4-4.9 0.2-5 -0.1-4.9 -0.3-4 -0.4-4 -0.7-4.9 -1-5 -1-4 -1.2-3.9 -1.8-5 -2-5 -2-3.9 -2.1-4 -2.5-4 -2.7-3.9 -2.3-3.1 -3.1-3.6 -3-3.3 -3.1-2.9 -3.9-3.5 -3.2-2.5 -3.8-2.7 -4.1-2.5 -4-2.3 -4-2 -4-1.8 -5-1.9 -4.1-1.4 -4-1.1 -5-1.1 -4-0.8 -5-0.6 -5.1-0.5 -5-0.1 -5 0 -4 0.3 -4.1 0.4 -5 0.7 -5 1 -4 1 -4 1.2 -5.1 1.7 -5 2.1 -4 1.8 -4 2.2 -4 2.4 -4.1 2.7 -3.1 2.3 -3.6 3 -3.3 3 -3 3 -3.5 3.9 -2.6 3.2 -2.7 3.8 -2.6 3.9 -2.3 4 -2 4 -1.8 3.9 -2 5 -1.3 4 -1.2 3.9 -1.1 5 -0.8 4 -0.7 4.9 -0.4 5 -0.2 4.9 0.1 5 0.3 4 0.4 3.9 0.7 5 1 5 1 3.9 1.2 4 1.8 4.9 2 5 2 4 2.1 3.9 2.5 4 2.7 4 2.3 3.1 3.1 3.5 3 3.3 3.1 3 3.9 3.4 3.2 2.5 3.8 2.8 4.1 2.5 4 2.3 4 2 4 1.8 5 1.9 4.1 1.3 4 1.1 5 1.2 4 0.7 5 0.7 5.1 0.4z"/>
<path fill="#00bdff" d="M495.6 848l4.4 0.2 5 0.1 4-0.2 5.1-0.4 4-0.6 5-0.9 4-0.9 5-1.4 4.1-1.3 4-1.6 4-1.7 4-2 4-2.3 4.1-2.5 4-2.9 3-2.3 3.5-3.1 3.1-3 2.8-3 2.6-3.1 2.3-2.8 2.8-4 2.5-4 2.2-3.9 2-4 1.7-4 1.9-4.9 1.2-4 1.1-4 1.1-4.9 0.8-5 0.4-3.9 0.3-5 0.1-4 -0.1-3.9 -0.3-5 -0.4-4 -0.8-4.9 -1.1-5 -1.1-4 -1.2-3.9 -1.9-5 -1.7-4 -2-3.9 -2.2-4 -2.5-4 -2.8-3.9 -2.3-3 -3-3.4 -3.4-3.6 -3.2-2.9 -3.4-2.9 -3-2.3 -4.1-2.8 -4-2.5 -4-2.1 -4-2 -4-1.7 -5.1-1.8 -4-1.3 -4-1 -5-1.1 -5-0.8 -4.1-0.4 -5-0.3 -4-0.1 -4 0.1 -5 0.3 -4.1 0.4 -5 0.8 -5 1.1 -4 1 -4 1.3 -5.1 1.8 -4 1.7 -4 2 -4 2.1 -4 2.5 -4.1 2.8 -3 2.3 -3.4 2.9 -3.2 2.9 -3.4 3.6 -3 3.4 -2.3 3 -2.8 3.9 -2.5 4 -2.2 4 -2 3.9 -1.7 4 -1.9 5 -1.2 3.9 -1.1 4 -1.1 5 -0.8 4.9 -0.4 4 -0.3 5 -0.1 3.9 0.1 5 0.4 4.9 0.5 4 0.8 5 1.2 4.9 1.1 4 1.6 5 1.6 3.9 1.8 4 2 4 2.3 3.9 2.6 4 2.9 4 2.4 2.9 3.1 3.5 3 3.1 3.7 3.4 3.3 2.7 3.1 2.2 4 2.7 4 2.4 4 2.1 4 1.9 4 1.6 5.1 1.8 4 1.2 4 1 5 1 5 0.7z"/>
<path fill="#00c2ff" d="M494.5 847l4.5 0.3 5 0.1 4-0.2 5-0.3 4.1-0.5 5-0.9 5-1.1 4-1.1 4.1-1.3 4-1.5 4-1.7 4-2 4-2.2 4-2.5 3.1-2.1 3.7-2.8 3.3-2.8 3-2.9 3.2-3.3 2.8-3.2 2.9-3.7 2.2-3.1 2.5-3.9 2.2-3.9 2-4 1.7-4 1.6-3.9 1.3-4 1.1-4 1.1-4.9 0.9-5 0.5-4 0.4-4.9 0.1-4 -0.1-4.9 -0.2-4 -0.6-5 -0.6-3.9 -1-5 -1-4 -1.6-4.9 -1.5-4 -1.7-4 -1.9-3.9 -2.2-4 -2.4-4 -2.6-3.7 -2.5-3.2 -3.4-4 -2.9-3 -3.1-2.9 -3.2-2.8 -3-2.3 -4.1-2.8 -4-2.5 -4-2.2 -4-2 -4-1.7 -4-1.5 -4.1-1.3 -4-1.1 -5-1.2 -5-0.8 -4.1-0.5 -5-0.4 -4-0.1 -5 0.1 -4 0.2 -5.1 0.5 -4 0.7 -5 1 -4 1 -5 1.5 -4.1 1.5 -4 1.6 -4 1.9 -4 2.2 -4 2.4 -3.9 2.6 -3.2 2.4 -4 3.4 -3 2.8 -3 3.1 -2.8 3.2 -2.4 3 -2.8 3.9 -2.6 4 -2.2 4 -2 3.9 -1.7 4 -1.6 4 -1.3 3.9 -1.1 4 -1.1 5 -0.9 4.9 -0.5 4 -0.4 5 -0.1 4.9 0.1 5 0.3 4 0.5 3.9 0.8 5 1.1 4.9 1 4 1.3 4 1.9 4.9 1.7 4 2 4 2.2 3.9 2.5 3.9 2.2 3.1 2.9 3.7 2.8 3.2 3.2 3.3 3 2.9 4 3.3 3.2 2.4 3.9 2.6 4 2.5 4 2.1 4 1.9 4 1.7 4.1 1.4 5 1.6 4 1 5 1 4 0.6z"/>
<path fill="#00c9ff" d="M492.7 846l4.3 0.4 4 0.1 5 0 4-0.2 5.1-0.5 4-0.6 4-0.7 5-1.2 4-1.2 4.1-1.3 4-1.6 4-1.8 4-2.1 4-2.3 4.1-2.6 3.1-2.2 3.7-3 3.2-2.9 3-2.9 2.9-3.2 2.5-2.9 3-4 2-3 2.4-3.9 2.1-4 1.9-4 1.6-3.9 1.5-4 1.5-5 1-3.9 0.8-4 0.6-4 0.6-4.9 0.2-4 0.1-5 -0.1-3.9 -0.3-4 -0.6-5 -0.9-4.9 -0.9-4 -1.4-5 -1.3-3.9 -1.6-4 -1.7-4 -2-3.9 -2.3-4 -1.9-3 -2.8-3.9 -2.9-3.7 -2.9-3.3 -2.9-3 -3.2-2.9 -3.6-3 -3.4-2.6 -3.1-2 -4-2.5 -4-2.2 -4-1.9 -4-1.7 -4.1-1.4 -4-1.3 -5-1.3 -4-0.8 -5-0.8 -5.1-0.6 -4-0.2 -5-0.1 -4 0.1 -4 0.3 -5.1 0.6 -5 0.9 -4 0.8 -5 1.4 -4.1 1.3 -4 1.5 -4 1.8 -4 2 -4 2.2 -3 1.9 -4.1 2.7 -3.6 2.9 -3.4 2.9 -3 2.9 -3 3.1 -3 3.6 -2.6 3.4 -2.1 2.9 -2.5 4 -2.2 4 -1.9 3.9 -1.7 4 -1.5 4 -1.3 3.9 -1.3 5 -0.9 4 -0.8 4.9 -0.6 5 -0.2 4 -0.1 4.9 0.2 5 0.4 4.9 0.6 4 0.9 5 1 3.9 1.1 4 1.7 5 1.6 3.9 1.8 4 2.1 4 2.3 3.9 2.6 4 2.4 3.1 3 3.7 2.8 3.1 3.2 3.1 3.2 2.9 3.7 3 3.1 2.2 4.1 2.6 4 2.3 4 2.1 4 1.8 4 1.6 5.1 1.6 4 1.2 5 1.1 4 0.7z"/>
<path fill="#00d1ff" d="M490.4 844l4.6 0.5 4 0.3 5 0 4-0.1 4-0.3 5.1-0.6 4-0.6 4-0.9 4-1 5-1.6 4.1-1.5 4-1.7 4-2 3-1.6 4-2.5 3.4-2.2 3.7-2.9 3-2.5 3-2.8 3-3.1 3-3.4 2.5-3.2 2.2-3 2.5-3.9 2.3-4 1.5-3 1.8-4 1.6-3.9 1.3-4 1.2-4 0.9-3.9 1-5 0.6-5 0.4-3.9 0.1-4 0-5 -0.3-4.9 -0.4-4 -0.6-3.9 -1-5 -1-4 -1.5-4.9 -1.5-4 -1.7-4 -1.9-3.9 -2.2-4 -2.5-4 -2-3 -2.3-2.9 -3-3.6 -3-3.2 -3-2.9 -3-2.6 -3-2.4 -3.1-2.2 -4-2.5 -4-2.3 -4-2 -4-1.8 -4-1.6 -4.1-1.3 -4-1.2 -4-0.9 -5-0.9 -5.1-0.7 -4-0.3 -4-0.2 -5 0 -5 0.3 -4.1 0.5 -4 0.5 -5 1 -4 1 -5 1.5 -4.1 1.5 -4 1.6 -4 1.9 -4 2.2 -4 2.4 -3.1 2.1 -3 2.2 -3.6 3 -3.2 2.9 -2.9 3 -2.7 3 -2.4 3 -2.3 3 -2.5 3.9 -2.3 4 -2.1 3.9 -1.8 4 -1.6 4 -1.3 3.9 -1.2 4 -0.9 4 -1 4.9 -0.6 5 -0.4 4 -0.1 3.9 0 5 0.3 5 0.4 3.9 0.6 4 1 5 1 3.9 1.5 5 1.5 4 1.7 3.9 1.9 4 2.2 4 2.5 3.9 2.3 3.3 2.8 3.7 2.6 2.9 3.6 3.8 3 2.8 3 2.5 4 3.1 3.1 2 4 2.5 4 2.1 4 1.9 4 1.7 4.1 1.4 5 1.5 4 1 4 0.8z"/>
<path fill="#00d6ff" d="M489.3 843l4.7 0.6 4 0.3 4 0.1 5-0.1 4-0.2 4.1-0.4 5-0.8 4-0.8 4-1 4-1.2 4.1-1.4 4-1.6 4-1.9 4-2.1 3-1.8 4-2.6 3.1-2.2 3.3-2.7 3.3-3 3-3 2.7-2.9 2.4-3 2.3-3.1 2.6-3.9 1.8-2.9 2.2-4 1.9-4 1.6-3.9 1.4-4 1.2-4 1-3.9 1-5 0.8-5 0.4-3.9 0.2-4 0-5 -0.2-4.9 -0.4-4 -0.6-4 -0.7-3.9 -1.2-5 -1.2-4 -1.3-3.9 -1.6-4 -1.8-4 -2.1-3.9 -2.4-4 -1.9-3 -2.7-3.6 -2.7-3.3 -2.7-3 -2.6-2.6 -3-2.7 -3.1-2.6 -2.9-2.2 -4.1-2.7 -3-1.9 -4-2.1 -4-2 -4-1.6 -4.1-1.5 -4-1.2 -4-1.1 -5-1 -5-0.8 -4.1-0.4 -4-0.3 -5-0.1 -5 0.2 -4 0.4 -5.1 0.6 -4 0.7 -5 1.2 -4 1.2 -4.1 1.3 -4 1.6 -4 1.8 -4 2 -4 2.3 -3 2 -3.7 2.6 -3.4 2.7 -3 2.7 -3 2.9 -3 3.3 -2.7 3.3 -2.3 3 -2.6 3.9 -1.8 3 -2.2 4 -1.9 3.9 -1.6 4 -1.4 4 -1.2 3.9 -1 4 -1 5 -0.8 4.9 -0.4 4 -0.2 3.9 0 5 0.2 5 0.4 3.9 0.8 5 0.7 4 1.3 4.9 1.2 4 1.4 4 1.6 3.9 1.9 4 2.2 4 1.8 2.9 2.6 4 3 3.9 2.6 3.1 2.8 2.9 3.1 3 3.4 3 3.1 2.4 3.1 2.2 4 2.5 4 2.3 4 2 4 1.7 4.1 1.5 5 1.6 4 1 4 0.9z"/>
<path fill="#00dfff" d="M498.5 843l4.5 0.1 4 0 5-0.4 4.1-0.4 5-0.9 4-0.8 4-1.1 4-1.3 4.1-1.4 4-1.7 3-1.5 4-2.1 3.9-2.4 3.1-2.1 3.8-2.8 3.3-2.7 3-2.8 3-3.2 2.8-3.2 2.4-3 2.1-3 2.5-3.9 1.8-3 2-4 1.8-4 1.5-3.9 1.3-4 1.2-4 0.9-3.9 0.7-4 0.6-4 0.4-4.9 0.2-5 0-4 -0.3-4.9 -0.4-4 -0.8-4.9 -0.9-4 -1-4 -1.2-3.9 -1.4-4 -1.7-4 -1.9-3.9 -2.2-4 -2.3-3.9 -2.2-3.1 -2.3-2.9 -2.4-3 -2.8-3 -3-3 -3.4-2.9 -3-2.4 -3.1-2.2 -4-2.6 -4-2.3 -4-2 -4-1.7 -4.1-1.5 -4-1.3 -4-1.2 -4-0.9 -4-0.7 -4-0.6 -5.1-0.4 -5-0.2 -4 0.1 -5 0.2 -4.1 0.5 -5 0.7 -4 0.9 -4 1 -4 1.2 -4.1 1.4 -4 1.6 -4 1.9 -4 2.2 -3.9 2.3 -3.1 2.1 -3.1 2.3 -3 2.4 -3 2.7 -3 3 -3 3.4 -2.4 3 -2.2 2.9 -2.6 4 -2.4 4 -2 3.9 -1.8 4 -1.5 4 -1.3 3.9 -1.2 4 -0.9 4 -0.7 3.9 -0.6 4 -0.4 5 -0.2 4.9 0 4 0.3 5 0.4 3.9 0.8 5 0.9 4 1 3.9 1.2 4 1.4 4 1.7 3.9 1.9 4 2.2 4 2.3 3.8 2.2 3.1 2.9 3.8 2.7 3.2 2.9 2.9 3.1 3 3.3 2.8 3 2.3 3.1 2.1 4 2.5 4 2.2 4 2 4 1.7 4.1 1.4 4 1.3 4 1.1 4 0.8 5 0.9 4.1 0.4z"/>
<path fill="#00e7ff" d="M494.6 841.1l4.4 0.2 4 0.1 5-0.1 4-0.3 4.1-0.5 4-0.6 4-0.9 4-1 4-1.2 4.1-1.5 4-1.6 3-1.5 3-1.5 4-2.4 4-2.6 3.1-2.3 3-2.4 3-2.8 3-2.9 2.6-3 2.4-3 2.2-3 2-2.9 2.4-4 2.1-4 1.8-4 1.6-3.9 1.3-4 1.2-4 0.9-3.9 0.8-4 0.5-4 0.4-3.9 0.2-4 0.1-5 -0.2-3.9 -0.5-5 -0.5-4 -0.8-3.9 -0.9-4 -1.2-4 -1.3-3.9 -1.6-4 -1.8-4 -2.1-3.9 -1.7-3 -2.7-4 -2.2-3 -2.4-2.9 -2.6-3 -3-3 -3.3-3 -3.7-2.9 -3.1-2.2 -3-2 -4-2.3 -4-2.1 -4-1.8 -4.1-1.5 -4-1.4 -4-1.1 -4-0.9 -4-0.8 -4-0.5 -4.1-0.4 -4-0.2 -5-0.1 -4 0.2 -5.1 0.5 -4 0.5 -4 0.8 -4 0.9 -4 1.1 -4 1.4 -4.1 1.5 -4 1.8 -4 2.1 -3 1.7 -4 2.6 -3.1 2.2 -3 2.3 -3 2.7 -3 2.9 -3 3.3 -3 3.6 -2.2 3 -2 3 -2.4 4 -2.1 3.9 -1.8 4 -1.6 4 -1.3 3.9 -1.2 4 -0.9 4 -0.8 3.9 -0.5 4 -0.5 5 -0.2 3.9 0.1 5 0.2 4 0.4 3.9 0.5 4 0.8 4 1.2 4.9 1.2 4 1.4 4 1.6 3.9 1.9 4 1.6 3 2.4 4 2.7 3.9 2.2 3 3.3 3.8 3 3.1 3 2.9 3 2.5 3.4 2.6 3.7 2.5 3 1.8 4 2.2 4 2 4 1.6 4.1 1.5 4 1.2 4 1 4 0.9 4 0.6z"/>
<path fill="#00edff" d="M492.6 840.1l4.4 0.3 4 0.2 4 0 4-0.2 5.1-0.4 4-0.6 4-0.7 4-1 4-1.1 4-1.3 4.1-1.6 3-1.4 4-2 3-1.7 4-2.4 3-2.2 3.1-2.4 3-2.5 2.9-2.9 2.8-2.9 2.6-3 2.3-3 2.1-3 2.4-3.9 1.7-3 2-4 1.7-3.9 1.4-4 1.3-4 1.1-3.9 0.8-4 0.7-4 0.5-3.9 0.3-4 0.1-4 -0.1-4.9 -0.3-4 -0.5-5 -0.7-3.9 -0.8-4 -1.1-4 -1.3-3.9 -1.4-4 -1.7-4 -2-3.9 -1.7-3 -2.4-4 -2.1-3 -2.3-2.9 -2.6-3 -2.8-3 -2.9-2.8 -3-2.6 -3.1-2.3 -3-2.2 -4-2.5 -3-1.7 -4-2 -4-1.7 -4.1-1.6 -4-1.3 -4-1 -4-0.9 -5-0.9 -4.1-0.5 -4-0.3 -4-0.1 -5 0.1 -4 0.3 -5.1 0.5 -4 0.7 -4 0.8 -4 1.1 -4 1.2 -4.1 1.5 -4 1.6 -4 2 -3 1.6 -4 2.5 -3 2 -3.1 2.3 -3 2.5 -3 2.8 -2.8 2.9 -2.7 3 -2.3 2.9 -2.2 3.1 -2.5 3.9 -1.8 3 -2 3.9 -1.8 4 -1.5 4 -1.3 3.9 -1.1 4 -0.9 4 -0.9 4.9 -0.5 5 -0.3 4 -0.1 4.9 0.1 4 0.3 4 0.7 4.9 0.7 4 0.9 4 1.1 3.9 1.3 4 1.5 4 1.8 3.9 2 4 1.8 3 2.5 3.9 2.2 3 2.3 3 2.7 3 2.9 2.9 3.2 3 3.7 3 3.1 2.2 3 2 4 2.4 4 2.1 4 1.8 4.1 1.6 4 1.3 4 1.1 4 1 4 0.7z"/>
<path fill="#00f6ff" d="M492.1 839.1l4.9 0.4 4 0.2 4 0 4-0.2 4-0.3 4.1-0.6 4-0.7 4-0.9 4-1.1 4-1.3 3.1-1.1 4-1.7 4-2 3-1.6 4-2.5 3-2.1 3.1-2.3 3-2.6 2.6-2.5 2.9-2.9 2.6-3 2.3-3 2.1-3 2.6-3.9 1.6-3 2-4 1.8-3.9 1.1-3 1.3-4 1.1-3.9 0.9-4 0.8-4 0.5-4 0.4-3.9 0.1-4 0-5 -0.2-3.9 -0.5-5 -0.7-3.9 -0.8-4 -1-4 -1.2-4 -1.4-3.9 -1.7-4 -1.9-4 -1.7-2.9 -2.4-4 -2.1-3 -2.2-3 -2.9-3.4 -2.4-2.5 -3.1-3 -2.5-2.2 -3.5-2.7 -3.6-2.5 -3-1.9 -3-1.7 -4-2.1 -4-1.7 -4.1-1.6 -4-1.3 -4-1.1 -4-0.9 -4-0.7 -4.1-0.5 -4-0.4 -4-0.1 -5 0 -4 0.2 -5.1 0.5 -4 0.6 -4 0.8 -4 1 -4 1.2 -4.1 1.5 -4 1.6 -4 1.9 -3 1.6 -4 2.4 -3 2 -3.1 2.3 -3.4 2.8 -2.6 2.4 -3 3 -2.2 2.6 -2.8 3.4 -2.5 3.5 -2 3 -1.7 3 -2.1 3.9 -1.8 4 -1.5 4 -1.3 3.9 -1.1 4 -0.9 4 -0.8 3.9 -0.6 5 -0.3 4 -0.1 3.9 0 5 0.3 4 0.6 4.9 0.7 4 0.8 4 1.1 3.9 1.2 4 1.5 4 1.8 3.9 2 4 1.6 3 2.6 3.9 2.1 3 2.3 3 2.6 3 2.9 2.9 3.2 3 3.4 2.9 3.1 2.2 3 2 4 2.4 3 1.6 4 1.9 4 1.7 4.1 1.4 4 1.2 4 1 5 1z"/>
<path fill="#0ff" d="M490.1 837.1l4.9 0.5 4 0.3 4 0.1 4-0.1 4-0.3 4.1-0.4 4-0.6 4-0.8 4-1.1 4-1.2 3-1 4.1-1.7 4-1.8 3-1.6 3-1.8 3-1.9 3-2.2 3.1-2.4 3-2.7 3-2.9 2.9-3.2 2.1-2.6 2.5-3.4 2-2.9 1.7-3 2.2-4 1.4-3 1.6-3.9 1.1-3 1.2-4 1-3.9 0.9-4 0.6-4 0.5-3.9 0.2-4 0.1-5 -0.1-3.9 -0.3-4 -0.5-4 -0.7-3.9 -0.9-4 -1.1-4 -1.3-3.9 -1.5-4 -1.8-4 -1.5-3 -1.6-2.9 -2.5-4 -2.1-3 -2.4-3 -2.6-2.9 -2.9-3 -3.2-3 -3.1-2.5 -3-2.2 -3-2 -3-1.8 -4-2.2 -3-1.4 -4-1.7 -4.1-1.5 -4-1.2 -4-1 -4-0.8 -4-0.6 -4.1-0.5 -4-0.3 -5 0 -4 0.1 -4 0.3 -4.1 0.5 -4 0.7 -4 0.8 -4 1.1 -4 1.3 -4.1 1.5 -4 1.7 -3 1.5 -3 1.7 -4 2.4 -3 2.1 -3.1 2.3 -3 2.6 -3 2.8 -3 3.3 -2.5 2.9 -2.3 3 -2 3 -1.9 3 -2.2 3.9 -1.4 3 -1.7 4 -1.5 3.9 -1.2 4 -1 4 -0.9 4 -0.6 3.9 -0.5 4 -0.2 4 -0.1 4.9 0.2 5 0.3 3.9 0.6 4 0.7 4 0.9 4 1.2 3.9 1.3 4 1.6 4 1.8 3.9 1.6 3 2.3 4 2 2.9 2.2 3 2.4 3 2.9 3.2 3 2.9 3 2.7 3.1 2.4 3 2.2 4 2.5 3 1.7 4 2 4 1.8 4.1 1.5 4 1.3 4 1 4 0.9z"/>
<path fill="#00fff9" d="M496.8 837.1l4.2 0.2 4 0 4-0.2 4-0.4 4.1-0.5 4-0.7 4-0.9 4-1.2 3-1 4.1-1.5 3-1.3 4-1.9 4-2.3 3-1.9 3-2.1 3.1-2.4 3-2.6 2.2-2.1 2.9-3 2.5-3 2.3-3 2.1-2.9 1.9-3 2.2-4 1.4-3 1.8-3.9 1.4-4 1.3-4 1-3.9 0.9-4 0.6-4 0.4-3.9 0.3-4 0.1-4 -0.1-3.9 -0.4-5 -0.4-4 -0.7-3.9 -0.9-4 -1.1-4 -1.3-3.9 -1.5-4 -1.4-3 -1.9-4 -2.3-3.9 -2-3 -2.1-3 -2.2-2.7 -2.8-3.2 -2.2-2.3 -3-2.8 -3.1-2.5 -3-2.3 -3-2 -3-1.9 -4-2.1 -3-1.5 -4-1.7 -4.1-1.4 -4-1.3 -4-1 -4-0.8 -4-0.6 -4.1-0.5 -4-0.3 -4 0 -4 0 -5 0.4 -4.1 0.5 -4 0.7 -4 0.8 -4 1.1 -4 1.3 -4.1 1.5 -3 1.3 -4 2 -4 2.2 -3 2 -3 2.1 -2.8 2.1 -3.3 2.8 -2.2 2.2 -2.9 3 -2.5 2.9 -2.3 3 -2.1 3 -1.9 3 -2.2 3.9 -1.4 3 -1.8 4 -1.4 3.9 -1.3 4 -1 4 -0.9 4 -0.6 3.9 -0.4 4 -0.3 4 -0.1 3.9 0.1 4 0.4 5 0.4 3.9 0.7 4 0.9 4 1.1 3.9 1.3 4 1.5 4 1.4 2.9 1.9 4 2.3 4 2 3 2.1 2.9 2.4 3 2.6 3 3 3 3.2 2.9 2.5 2 3.6 2.6 3 2 3 1.8 4 2.1 4 1.8 3.1 1.2 4 1.4 4 1.2 4 1 4 0.7 4 0.6z"/>
<path fill="#00ffef" d="M497.4 836.1l4.6 0.2 4-0.1 4-0.2 4.1-0.4 4-0.6 4-0.8 3-0.7 4-1.1 3-1 4.1-1.6 3-1.3 4-2 3-1.7 4-2.5 3-2.2 3.1-2.4 2.8-2.4 2.2-2.2 2.6-2.8 2.5-3 2.3-3 2-2.9 1.9-3 2.1-4 1.5-3 1.7-3.9 1.4-4 1.2-4 1-3.9 0.8-4 0.6-4 0.4-3.9 0.2-4 0.1-4 -0.2-3.9 -0.3-4 -0.5-4 -0.7-3.9 -0.9-4 -1.1-4 -1.3-3.9 -1.6-4 -1.3-3 -2-4 -1.7-2.9 -2.6-4 -2.2-3 -2.4-3 -2.5-2.7 -2.2-2.2 -2.8-2.6 -3.1-2.5 -3-2.2 -3-2 -3-1.9 -4-2.1 -3-1.4 -4.1-1.7 -4-1.4 -4-1.2 -4-1 -4-0.7 -4-0.6 -4.1-0.4 -4-0.3 -4 0 -4 0.1 -4 0.3 -4.1 0.5 -4 0.7 -4 0.9 -4 1.1 -4 1.3 -4.1 1.5 -3 1.3 -4 2 -3 1.7 -4 2.6 -3 2.1 -3.1 2.4 -2.8 2.5 -2.2 2.1 -2.6 2.9 -2.5 2.9 -2.3 3 -2 3 -1.9 3 -2.1 3.9 -1.5 3 -1.7 4 -1.4 3.9 -1.2 4 -1 4 -0.8 3.9 -0.6 4 -0.4 4 -0.2 3.9 -0.1 4 0.2 4 0.3 4 0.5 3.9 0.7 4 0.9 4 1.1 3.9 1.3 4 1.6 4 1.3 2.9 2 4 1.7 3 2.6 4 2.2 2.9 2.4 3 2.7 3 2.8 2.8 3 2.6 3.1 2.4 3 2.2 3 1.9 3 1.8 4 2 3 1.4 4.1 1.6 4 1.4 4 1.1 4 0.9 4 0.8 4.1 0.5z"/>
<path fill="#00ffe6" d="M494.1 834.1l3.9 0.3 4 0.1 4 0 4-0.2 4.1-0.4 4-0.6 3-0.6 4-1 4-1.1 3-1 4.1-1.6 3-1.3 4-2.1 3-1.7 3-2 3-2.1 3-2.4 2.5-2.1 2.6-2.6 2.2-2.4 2.6-3 2.2-2.9 2.1-3 1.8-3 1.6-3 2-3.9 1.2-3 1.5-4 1.2-4 0.8-2.9 0.8-4 0.7-4 0.5-3.9 0.2-4 0.1-4 -0.1-3.9 -0.2-4 -0.5-4 -0.7-3.9 -0.8-4 -1.1-4 -1.3-4 -1.5-3.9 -1.3-3 -1.5-3 -2.2-3.9 -1.9-3 -2.1-3 -2.3-3 -2.7-2.9 -2.3-2.5 -2.7-2.5 -3.4-2.8 -2.9-2.2 -3.1-2 -3-1.8 -3-1.6 -4-1.9 -3.1-1.3 -4-1.4 -4-1.2 -3-0.8 -4-0.8 -4-0.7 -4.1-0.4 -4-0.3 -4-0.1 -4 0.1 -4 0.3 -4.1 0.4 -4 0.7 -4 0.8 -4 1.1 -4 1.2 -4.1 1.5 -3 1.3 -3 1.5 -4 2.2 -3 1.8 -3 2.1 -3 2.3 -3.1 2.6 -2.4 2.4 -2.6 2.7 -2.8 3.2 -2.2 3 -2.1 3 -1.8 3 -1.6 2.9 -2 4 -1.2 3 -1.5 3.9 -1.2 4 -0.8 3 -0.8 4 -0.7 3.9 -0.5 4 -0.2 4 -0.1 4.9 0.1 4 0.3 4 0.5 3.9 0.8 4 0.9 4 1.1 3.9 1.3 4 1.6 4 1.4 2.9 2 4 1.8 3 2 3 2.1 2.9 2.5 3 2.7 3 2.4 2.4 3.1 2.7 3 2.4 3 2.1 3 2 4 2.2 3 1.6 4 1.7 3.1 1.2 4 1.3 4 1.1 4 0.9 4 0.7z"/>
<path fill="#00ffdf" d="M491 833.1l4 0.5 4 0.2 4 0.1 4-0.1 4-0.2 3.1-0.4 4-0.6 4-0.8 4-1 3-0.9 4-1.4 3.1-1.2 4-1.8 3-1.6 3-1.7 3-2 3-2.2 3-2.4 2.6-2.3 2.5-2.4 2.3-2.6 2.5-3 2.2-2.9 2-3 1.7-3 1.6-3 1.5-2.9 1.6-4 1.1-3 1.3-4 1-3.9 0.8-4 0.6-4 0.4-3.9 0.2-4 0.1-4 -0.1-3.9 -0.4-4 -0.5-4 -0.7-3.9 -0.9-4 -1.1-4 -1.4-3.9 -1.2-3 -1.8-4 -1.5-3 -1.7-2.9 -1.9-3 -2.2-3 -2.3-3 -2.2-2.4 -2.4-2.5 -2.6-2.5 -3.1-2.5 -3-2.2 -3-2.1 -3-1.8 -3-1.6 -3-1.5 -4.1-1.7 -4-1.5 -3-0.9 -4-1.1 -4-0.8 -4-0.7 -4.1-0.4 -4-0.3 -4-0.1 -4 0.1 -4 0.3 -4.1 0.4 -4 0.7 -4 0.8 -4 1.1 -3 0.9 -4 1.5 -4.1 1.7 -3 1.5 -4 2.2 -3 1.9 -3 2.1 -3 2.3 -2.6 2.2 -2.5 2.4 -2.4 2.5 -2.6 3 -2.3 3 -2 3 -1.9 3 -2.1 3.9 -1.5 3 -1.6 4 -1.1 2.9 -1.3 4 -1 4 -0.8 3.9 -0.6 4 -0.4 4 -0.2 3.9 -0.1 4 0.1 4 0.4 4 0.5 3.9 0.7 4 0.9 4 1.1 3.9 1.4 4 1.2 3 1.8 3.9 1.5 3 2.3 3.9 2 3.1 2.2 2.9 2.5 3 2.7 3 2.6 2.5 3.1 2.6 3 2.4 3 2.1 3 1.9 3 1.7 4 1.9 3 1.4 4.1 1.5 4 1.3 4 1 4 0.9z"/>
<path fill="#00ffd3" d="M491.9 832.1l3.1 0.4 4 0.2 4 0.1 4-0.1 4-0.2 4.1-0.5 3-0.5 4-0.8 4-1 3-0.9 4-1.4 3.1-1.2 3-1.4 4-2.1 3-1.8 3-2 3-2.2 2.9-2.4 2.2-2 3-3 2-2.3 2.2-2.7 2.2-2.9 1.9-3 1.8-3 1.5-3 1.9-3.9 1.1-3 1.1-3 1.2-3.9 0.7-3 0.9-4 0.6-4 0.4-3.9 0.2-4 0.1-4 -0.2-3.9 -0.3-4 -0.5-4 -0.5-2.9 -0.9-4 -1.1-4 -0.9-3 -1.5-3.9 -1.3-3 -2-4 -1.7-2.9 -1.9-3.1 -2.1-2.9 -2.3-3 -2.6-2.9 -2-2.1 -3.1-2.8 -3-2.5 -3-2.2 -3-2 -3-1.8 -3-1.6 -3-1.5 -4.1-1.6 -3-1.1 -4-1.3 -4-1 -4-0.8 -4-0.6 -4.1-0.4 -4-0.2 -4-0.1 -4 0.2 -4 0.3 -4.1 0.5 -3 0.5 -4 0.9 -4 1 -3 1 -4 1.5 -3.1 1.2 -4 2 -3 1.7 -3 1.8 -3 2.1 -3 2.3 -3 2.6 -2.1 2 -2.9 2.9 -2.5 3 -2.3 3 -2 3 -1.8 2.9 -1.6 3 -1.5 3 -1.7 4 -1.1 2.9 -1.2 4 -1 4 -0.9 3.9 -0.6 4 -0.4 4 -0.2 3.9 -0.1 5 0.2 4 0.4 3.9 0.6 4 0.7 4 1 4 1.2 3.9 1.4 4 1.3 3 1.4 2.9 2.1 4 1.8 3 2 3 2.3 2.9 2.4 2.9 2 2.1 3.1 3 3 2.6 3 2.3 3 2 3.2 2 2.8 1.6 4 1.9 3.1 1.3 4 1.5 4 1.2 4 1 4 0.8z"/>
<path fill="#00ffca" d="M490.2 830.1l3.8 0.5 4 0.3 7 0.2 4-0.2 4-0.4 4.1-0.6 3-0.5 3-0.7 4-1.1 3-1 4-1.5 3.1-1.3 3-1.4 3-1.7 3-1.8 3-2.1 3-2.3 2.6-2.2 2.5-2.3 2-2.1 2.2-2.6 2.3-2.9 2.1-3 1.9-3 1.7-3 1.5-2.9 1.3-3 1.5-4 1-3 1.1-3.9 0.7-3 0.6-3 0.5-4 0.4-3.9 0.2-4 0-4 -0.2-3.9 -0.4-4 -0.5-4 -0.8-3.9 -1-4 -1.2-4 -1.1-2.9 -1.2-3 -1.9-4 -1.6-3 -1.8-2.9 -2-3 -2.3-3 -2-2.4 -2.4-2.6 -2.7-2.5 -2.7-2.4 -2.5-2 -2.8-1.9 -3-2 -3-1.7 -4-2 -3.1-1.3 -4-1.5 -3-1 -4-1.1 -3-0.6 -3-0.6 -4.1-0.6 -4-0.3 -4-0.2 -4 0 -4 0.2 -4 0.3 -4.1 0.6 -4 0.8 -4 1 -4 1.2 -3 1 -3.1 1.2 -4 1.9 -3 1.6 -3 1.7 -3 2 -3 2.3 -2.5 2 -2.6 2.3 -2.6 2.6 -2.4 2.8 -2 2.5 -2 2.7 -1.9 3 -1.7 2.9 -2.1 4 -1.3 3 -1.5 3.9 -1 3 -1.1 4 -0.7 3 -0.7 3.9 -0.5 4 -0.4 4 -0.1 3.9 0 4 0.3 4 0.4 3.9 0.6 4 0.9 4 1 3.9 1.3 4 1.1 3 1.7 4 1.5 2.9 1.7 3 1.9 3 2.1 3 2.3 2.9 2.2 2.6 2.4 2.4 2.7 2.5 3 2.5 3 2.2 3 2 4 2.3 3 1.6 3 1.3 4.1 1.6 4 1.3 4 1.1 4 0.9z"/>
<path fill="#00ffc2" d="M494.3 830.1l3.7 0.3 4 0.2 4-0.1 3-0.1 4-0.4 4.1-0.6 4-0.8 3-0.7 4-1.1 3-1 3-1.2 3.1-1.3 3-1.5 3-1.7 3-1.8 3-2.1 2.5-1.9 2.5-2.2 3-2.8 2.1-2.2 2.4-2.8 2.2-2.9 2.1-3 1.8-3 1.6-3 1.5-2.9 1.2-3 1.5-4 1.2-3.9 0.8-3 0.7-3 0.6-4 0.5-3.9 0.3-3 0.1-4 0-4 -0.3-3.9 -0.4-4 -0.5-3 -0.8-3.9 -1-4 -0.8-3 -1.5-3.9 -1.2-3 -1.4-3 -2.1-4 -1.8-2.9 -2.1-3 -2.2-3 -2.4-2.8 -2.1-2.2 -3-2.8 -2.5-2.1 -2.6-2 -2.9-2 -3-1.9 -3-1.6 -3-1.5 -3.1-1.3 -4-1.6 -4-1.2 -3-0.8 -4-0.9 -4-0.7 -7.1-0.7 -4-0.1 -4 0 -4 0.3 -4.1 0.4 -3 0.4 -4 0.8 -4 1 -3 0.9 -4 1.4 -3.1 1.2 -3 1.3 -4 2.1 -3 1.8 -3 2.1 -3 2.2 -2.9 2.4 -2.2 2 -2.8 2.9 -2.2 2.5 -2 2.6 -2 2.9 -1.9 2.9 -1.7 3 -1.5 3 -1.3 3 -1.6 3.9 -1.3 4 -0.8 3 -0.9 4 -0.6 3.9 -0.5 4 -0.3 4 -0.1 3.9 0.1 4 0.3 4 0.5 3.9 0.6 4 0.7 3 0.8 3 1.2 3.9 1.5 4 1.2 3 2 3.9 1.7 3 1.9 3 2.1 3 2.4 2.9 2.5 2.9 2.1 2.1 3 2.7 3 2.4 3 2.2 3 1.9 3 1.8 3 1.5 4.1 1.8 3 1.2 4 1.3 3 0.8 4 1 4 0.7z"/>
<path fill="#00ffb5" d="M496.9 829.1l3.1 0.2 4 0.1 4-0.2 4-0.3 3.1-0.4 4-0.7 4-0.9 3-0.8 4-1.3 3-1.1 3.1-1.3 3-1.4 3-1.7 3-1.8 3-2.1 2.8-2.1 2.4-2 2.9-2.7 2.1-2.3 2.5-2.9 3.7-5 1.8-3 1.7-3 1.4-2.9 1.3-3 1.2-3 1.3-4 0.8-2.9 0.9-4 0.7-4 0.4-2.9 0.3-4 0.2-4 -0.1-4 -0.1-2.9 -0.4-4 -0.4-3 -0.8-3.9 -0.9-4 -1.2-4 -1.1-3 -1.6-3.9 -1.4-3 -1.6-3 -1.8-2.9 -2-3 -1.9-2.6 -2-2.4 -2.8-3 -2.3-2.2 -3-2.6 -2-1.5 -3-2.2 -3-1.9 -3-1.7 -3-1.5 -3.1-1.3 -3-1.2 -4-1.4 -3-0.8 -4-1 -4-0.7 -4.1-0.5 -4-0.4 -4-0.1 -4 0 -3 0.2 -4 0.4 -3.1 0.4 -4 0.7 -4 1 -4 1.1 -3 1.1 -4.1 1.6 -3 1.4 -3 1.5 -3 1.8 -3 2 -2.6 1.9 -2.4 2 -3 2.7 -2.3 2.2 -2.6 3 -1.6 2 -2.2 3 -1.9 2.9 -1.7 3 -1.6 3 -1.3 3 -1.2 2.9 -1.4 4 -0.9 3 -0.9 4 -0.8 3.9 -0.5 4 -0.3 4 -0.2 3.9 0.1 4 0.2 4 0.5 3.9 0.6 4 0.6 3 1 4 0.9 2.9 1.5 4 1.7 4 1.4 2.9 1.7 3 1.8 3 2.1 3 2.2 2.8 2 2.3 2.8 2.8 2.3 2.1 3 2.5 3 2.3 3 1.9 3 1.8 3 1.6 3 1.4 4.1 1.6 3 1 4 1.2 4 0.9 4 0.8 3.1 0.4z"/>
<path fill="#00ffa5" d="M494.2 827.2l6.8 0.4 4 0 3-0.1 3-0.3 4.1-0.4 4-0.7 3-0.7 3-0.8 4-1.2 3-1.1 3.1-1.3 3-1.4 3-1.6 3-1.9 3-2 2.4-1.8 2.6-2.3 2.9-2.7 1.9-2 2.3-2.6 1.8-2.3 2.1-3 1.8-3 1.7-3 1.4-2.9 1.3-3 1.1-3 1.3-3.9 0.8-3 0.6-3 0.7-4 0.5-3.9 0.3-3 0.1-4 0-4 -0.2-2.9 -0.4-4 -0.4-3 -0.8-3.9 -0.9-4 -0.9-3 -1.4-4 -1.3-2.9 -1.3-3 -1.6-3 -1.8-3 -2-2.9 -2.2-3 -1.7-2 -2.7-2.8 -2.1-2.2 -2.3-1.9 -2.6-2.1 -3-2.1 -3-1.9 -3-1.7 -3-1.5 -3.1-1.3 -3-1.2 -3-1 -4-1.1 -3-0.7 -4-0.8 -3.1-0.4 -4-0.4 -4-0.2 -4 0 -4 0.2 -4 0.4 -3.1 0.4 -4 0.8 -4 0.9 -3 0.9 -4 1.4 -3 1.2 -3.1 1.4 -3 1.5 -3 1.8 -3 2 -3 2.2 -2 1.6 -2.9 2.6 -2.2 2.2 -2 2.2 -2 2.6 -2.2 3 -1.9 2.9 -1.7 3 -1.5 3 -1.4 3 -1.5 3.9 -1.3 4 -0.8 3 -0.6 3 -0.7 3.9 -0.5 4 -0.3 3 -0.1 3.9 0 4 0.3 4 0.4 3.9 0.5 3 0.8 4 1 4 1 2.9 1 3 1.7 4 1.4 2.9 1.7 3 1.8 3 2.1 3 1.8 2.3 2.3 2.6 2.8 2.9 2.2 2.1 2.8 2.3 3 2.2 3 2 3 1.7 3 1.6 3.1 1.3 3 1.3 4 1.3 3 0.9 4 1 4 0.7z"/>
<path fill="#00ff94" d="M492.1 825.2l3.9 0.4 3 0.2 3 0.1 4-0.1 4-0.2 3-0.3 4.1-0.6 3-0.6 3-0.7 4-1.2 3-1 3-1.2 3.1-1.3 3-1.6 5-3 2.6-1.8 2.4-1.9 2.4-2.1 2.1-2 2.6-2.7 1.9-2.2 1.5-2 2.1-3 1.8-3 1.6-2.9 1.5-3 1.2-3 2.1-5.9 0.8-3 0.9-4 0.5-3 0.5-3.9 0.2-3 0.2-4 -0.1-4 -0.2-3.9 -0.4-3 -0.6-4 -0.8-3.9 -0.7-3 -1.3-4 -1.1-3 -1.2-2.9 -1.5-3 -1.6-3 -1.8-3 -2.1-2.9 -1.5-2 -2.6-3 -2.4-2.5 -2.7-2.5 -2.3-1.9 -2-1.5 -3-2 -3-1.8 -3-1.6 -3.1-1.4 -3-1.3 -6-2 -3-0.8 -4-0.9 -3-0.5 -4.1-0.5 -3-0.2 -4-0.1 -4 0 -4 0.3 -3 0.3 -4.1 0.6 -4 0.8 -3 0.7 -4 1.2 -3 1.1 -3 1.3 -3.1 1.4 -3 1.6 -3 1.8 -3 2 -2 1.5 -2.3 1.9 -2.7 2.5 -2.4 2.5 -2.6 3 -1.5 2 -2.1 2.9 -1.8 3 -1.6 3 -1.5 3 -1.2 2.9 -2.1 6 -0.8 3 -0.9 3.9 -0.5 3 -0.5 4 -0.3 4 -0.1 3.9 0.1 4 0.3 4 0.5 3.9 0.5 3 0.9 4 0.8 3 1.3 3.9 1.2 3 1.3 3 1.5 2.9 1.7 3 1.9 3 1.8 2.6 2 2.5 2.6 2.8 2.5 2.5 2 1.8 3 2.4 3 2.1 3 1.9 3 1.7 3 1.4 3.1 1.3 4 1.5 3 0.9 4 1.1 4 0.8z"/>
<path fill="#00ff83" d="M490.5 823.2l6.5 0.7 3 0.2 4 0.1 4-0.2 3-0.2 6.1-0.9 4-0.8 3-0.8 3-0.9 3-1 3-1.2 3.1-1.4 5-2.8 2.7-1.7 2.3-1.7 2.9-2.3 2.1-1.9 2.1-2.1 1.9-2.1 2.1-2.4 1.8-2.4 3.1-5 1.6-2.9 1.4-3 1.3-3 1-3 1.7-5.9 0.7-3 0.6-4 0.4-2.9 0.3-4 0.1-3 -0.1-4 -0.2-3.9 -0.3-3 -0.6-4 -0.6-2.9 -0.8-3 -1.2-4 -1-3 -1.3-2.9 -1.4-3 -1.6-3 -3.1-4.9 -1.8-2.5 -2.2-2.5 -2.8-3 -2.1-2 -2.3-2 -2.7-2 -2-1.4 -3-1.9 -3-1.6 -3.1-1.5 -3-1.2 -3-1.2 -3-0.9 -4-1.1 -3-0.6 -4-0.7 -3.1-0.3 -4-0.3 -3-0.1 -4 0 -4 0.3 -3 0.3 -4.1 0.6 -3 0.6 -3 0.7 -4 1.2 -3 1.1 -3 1.2 -3.1 1.4 -3 1.6 -5 3.1 -2.4 1.8 -2.6 2.1 -3 2.7 -2 2.1 -2.1 2.3 -2 2.7 -1.4 1.9 -1.9 3 -1.7 3 -1.5 3 -1.3 2.9 -1.1 3 -1 3 -1 4 -0.7 2.9 -0.6 4 -0.4 3 -0.3 4 -0.1 3.9 0.1 4 0.3 4 0.4 2.9 0.6 4 0.7 3 1 4 1 2.9 1.5 4 1.4 3 1.5 2.9 1.8 3 1.9 3 2.3 3 2.6 2.9 1.9 2 2.1 2 3 2.6 2 1.5 3 2 3 1.8 3 1.6 4.1 1.8 3 1.2 3 1 4 1.1 3 0.7z"/>
<path fill="#00ff71" d="M497.1 822.2l3.9 0.2 3 0 3-0.1 4-0.3 3.1-0.3 4-0.7 6-1.4 3-1 3-1 3-1.3 3.1-1.4 5-2.9 2.6-1.7 2.4-1.8 2.6-2.2 2.1-2 3.7-3.9 1.7-2.1 2.1-2.9 3-4.9 1.5-3 1.3-3 1.2-3 0.9-2.9 1.6-6 0.7-4 0.4-2.9 0.4-4 0.1-3 0-4 -0.1-2.9 -0.4-4 -0.4-3 -0.7-3.9 -0.7-3 -0.9-3 -0.9-3 -1.2-3 -1.3-2.9 -1.5-3 -1.7-3 -2-3 -1.5-1.9 -2-2.5 -2-2.2 -2.3-2.3 -2.3-2 -2.4-1.9 -2.9-2 -2.1-1.4 -3-1.7 -3.1-1.5 -3-1.3 -3-1.1 -3-1 -6-1.5 -4-0.8 -3.1-0.4 -4-0.3 -3-0.1 -4 0 -3 0.1 -4 0.3 -3.1 0.4 -4 0.8 -3 0.7 -6 1.8 -3 1.1 -3 1.3 -3.1 1.5 -3 1.7 -3 1.9 -2 1.5 -2.4 1.9 -2.3 2 -2.3 2.3 -2 2.2 -2 2.5 -2.1 2.8 -1.4 2.1 -1.7 3 -1.5 3 -1.3 2.9 -1.2 3 -0.9 3 -1.6 6 -0.7 3.9 -0.4 3 -0.4 4 -0.1 2.9 0 4 0.1 3 0.4 4 0.4 2.9 0.7 4 0.7 3 1.2 3.9 1 3 1.2 3 1.4 3 1.6 2.9 1.8 3 1.7 2.6 1.9 2.4 2.2 2.5 2 2.1 2.4 2.3 2.6 2.2 2.4 1.8 2.6 1.7 3 1.8 3 1.6 3.1 1.3 3 1.2 3 1.1 3 0.8 3 0.8 4 0.8 4.1 0.5z"/>
<path fill="#00ff5e" d="M494.5 820.2l6.5 0.5 6-0.1 3-0.2 4.1-0.5 6-1.1 6-1.6 3-1.1 3-1.2 5.1-2.5 3-1.7 2-1.4 2.8-2 2.2-1.8 2-1.9 2-2 3.6-4.2 1.5-2 2-3 2.7-4.9 1.3-3 1.2-3 1-2.9 0.9-3 1.3-6 0.4-3 0.4-3.9 0.2-3 0.1-4 -0.2-3.9 -0.2-3 -0.9-6 -0.9-3.9 -0.8-3 -0.9-3 -1.1-3 -1.3-2.9 -1.5-3 -3-5 -1.8-2.4 -2-2.5 -3.7-4 -2.1-2 -2.2-1.8 -2-1.5 -3-2 -5-2.8 -3.1-1.4 -3-1.3 -3-1 -3-0.9 -3-0.8 -4-0.7 -3.1-0.5 -4-0.4 -3-0.2 -4 0 -4 0.1 -3 0.3 -6.1 0.8 -4 0.9 -3 0.8 -3 0.9 -3 1.1 -3 1.3 -3.1 1.5 -5 2.9 -2.4 1.7 -2.6 2 -4 3.7 -2 2.1 -1.9 2.2 -1.5 1.9 -2 3 -2.9 5 -1.4 3 -1.2 2.9 -1.1 3 -0.9 3 -0.8 3 -0.8 3.9 -0.4 3 -0.4 4 -0.2 3.9 0 4 0.2 4 0.2 3 0.6 3.9 0.6 3 1 4 0.9 2.9 1.1 3 1.2 3 1.4 3 1.6 2.9 1.6 2.6 1.7 2.4 2.4 3 1.7 2 2 2 2.3 2.1 2.2 1.8 2.8 2 2 1.4 3 1.7 3.1 1.6 3 1.3 3 1.2 3 1 4 1.1 3 0.6 3 0.6z"/>
<path fill="#00ff4a" d="M492.6 818.2l6.4 0.6 6 0.1 4-0.2 3-0.3 6.1-0.9 6-1.5 3-1 3-1.1 5.1-2.3 3-1.7 2-1.2 2-1.4 2.5-2 2.4-1.9 2-2 3.6-4 2.9-4 1.3-2 1.7-2.9 2.3-5 1.8-4.9 0.9-3 0.7-3 1.1-6 0.3-2.9 0.3-4 0-4 -0.1-2.9 -0.5-6 -0.7-4 -0.6-2.9 -0.8-3 -0.9-3 -1.1-3 -1.3-2.9 -2.5-5 -1.9-3 -1.4-1.9 -3.2-4 -1.9-2 -2-2 -2.4-2 -2.5-1.9 -2-1.4 -3-1.8 -5.1-2.6 -3-1.2 -3-1.1 -3-0.9 -3-0.8 -6-1.1 -3.1-0.4 -4-0.3 -3-0.1 -4 0.1 -4 0.2 -3 0.4 -4.1 0.6 -3 0.6 -3 0.8 -3 0.9 -3 1.1 -3 1.2 -5.1 2.6 -3 1.8 -2 1.4 -2.5 1.9 -2.4 2 -2.1 2.1 -2 2.1 -2 2.5 -1.7 2.2 -2 3 -1.1 2 -2.5 4.9 -1.2 3 -1 3 -0.9 3 -0.7 3 -0.6 2.9 -0.6 4 -0.3 3 -0.2 3.9 0 4 0.2 3 0.2 3 0.5 3.9 0.6 3 0.9 4 0.9 3 1 2.9 1.2 3 1.4 3 1.6 3 1.9 2.9 2.1 3 1.6 2 3.8 4 2.2 1.9 2.7 2.2 2.5 1.8 2.5 1.6 3 1.7 3.1 1.4 3 1.3 3 1.1 3 0.9 3 0.7 3 0.7z"/>
<path fill="#00ff36" d="M491 816.2l6 0.8 3 0.1 4 0.1 6-0.3 6.1-0.8 6-1.3 5-1.6 5-2 5.1-2.7 4-2.6 2.1-1.6 2.3-1.9 2.1-2 1.9-2 3.2-4 2.7-3.9 2.6-5 2.1-5 1.6-4.9 1.3-6 0.5-3 0.4-3.9 0.2-3 0-4 -0.3-5.9 -0.3-3 -0.7-4 -1.4-5.9 -1-3 -1.1-3 -2.3-4.9 -1.6-3 -1.3-2 -3-4 -2-2.4 -2-2 -4-3.6 -2.6-1.9 -2.4-1.6 -2.4-1.4 -2.7-1.3 -5-2.2 -3-1 -3-0.9 -6-1.3 -3.1-0.5 -4-0.4 -3-0.2 -4 0 -6 0.3 -3 0.3 -4.1 0.7 -6 1.4 -3 0.9 -3 1.1 -5 2.3 -3.1 1.6 -2 1.3 -4.1 2.9 -2.3 2 -2.1 2 -3.6 3.9 -1.9 2.6 -1.7 2.4 -1.4 2.3 -1.3 2.7 -2.2 4.9 -1.1 3 -0.9 3 -0.9 3.9 -0.6 3 -0.4 3 -0.4 4 -0.1 2.9 0 4 0.2 4 0.3 3 0.6 3.9 0.6 3 0.7 3 0.9 3 1.1 2.9 1.2 3 1.5 3 1.6 3 2 2.9 1.4 2 1.9 2.3 2 2.2 2 1.9 2 1.8 2.2 1.7 2.9 2 1.9 1.2 3.1 1.7 3 1.4 3 1.2 3 1.1 3 0.9 4 0.9z"/>
<path fill="#00ff21" d="M497.7 815.3l6.3 0.1 6-0.3 6.1-0.8 3-0.6 3-0.7 5-1.6 5-2.1 3.1-1.6 2-1.1 4-2.8 2-1.6 2.1-1.8 2-2 1.8-2 3.1-4 2.5-3.9 2.4-5 2-4.9 0.9-3 0.7-3 1.1-6 0.6-5.9 0.1-3 -0.1-4 -0.3-3.9 -0.3-3 -1.1-5.9 -0.7-3 -0.9-3 -2-5 -2.4-4.9 -1.9-3 -1.3-2 -3.3-4 -2-2.1 -2-1.8 -4-3.2 -2-1.4 -3-1.8 -5.1-2.4 -5-1.9 -3-0.9 -3-0.8 -6.1-1 -6-0.6 -3-0.1 -4 0.1 -4 0.2 -3 0.4 -6.1 1 -3 0.8 -3 0.9 -5 1.9 -5.1 2.4 -3 1.8 -2 1.4 -4 3.2 -2.1 2 -1.9 2 -3.3 3.9 -1.3 2 -1.9 3 -2.4 4.9 -2 5 -0.9 3 -0.7 3 -1.1 5.9 -0.6 6 -0.1 2.9 0.1 4 0.3 4 0.3 2.9 1.1 6 0.7 3 0.9 3 1.1 2.9 1.3 3 1 2 1.6 3 1.9 2.8 1.5 2.1 1.6 2 1.9 2.1 2 2 2.2 1.9 2.5 1.9 2.3 1.6 2.3 1.4 2.8 1.5 3 1.4 3 1.2 3 1 3 0.8 6 1.3 3.1 0.4z"/>
<path fill="#00ff0b" d="M494.1 813.3l5.9 0.4 6 0 6-0.4 5.1-0.8 3-0.7 3-0.8 5-1.7 5-2.3 4.1-2.3 4-2.9 2-1.7 1.9-1.7 3.1-3.4 2.7-3.6 2.5-3.9 2.4-5 1.9-4.9 1.3-5 1.1-6 0.6-5.9 0.1-3 -0.1-4 -0.4-5.9 -1.1-6 -0.7-2.9 -0.8-3 -1.9-5 -2.4-4.9 -1.8-3 -1.4-2 -1.5-2 -1.7-2 -1.9-1.9 -1.9-1.8 -4-3.2 -4-2.5 -2.1-1.1 -3-1.5 -5-1.9 -3-0.9 -3-0.8 -6.1-1.1 -6-0.5 -3-0.1 -4 0 -6 0.5 -6.1 1 -3 0.7 -3 0.9 -5 1.8 -5 2.4 -3.1 1.8 -1.9 1.3 -2.1 1.5 -2 1.7 -1.9 1.8 -1.9 1.9 -3.2 4 -2.6 4 -1.1 2 -1.5 2.9 -1.9 5 -1 3 -0.7 3 -1.1 5.9 -0.4 3 -0.2 3.9 -0.1 4 0.1 3 0.2 3 0.5 3.9 1.2 6 0.8 3 1 2.9 1.2 3 1.4 3 1.6 3 1.2 2 1.4 1.9 2 2.6 2 2.2 2 2 2 1.8 2 1.6 2.5 1.7 2.5 1.6 2.1 1.1 3 1.4 3 1.3 3 1 3 0.9 3 0.7 3 0.5z"/>
<path fill="#0bff00" d="M493.1 811.3l5.9 0.5 6 0.1 6-0.4 5.1-0.7 5-1.1 5-1.6 5-2.1 4.1-2.2 4-2.7 3.3-2.7 3-3 1.7-2 1.5-2 2.6-3.9 2.1-4 2-4.9 1.5-5 0.7-3 0.5-3 0.7-5.9 0.1-6 -0.3-5.9 -0.8-6 -0.7-2.9 -0.8-3 -1.7-5 -2.2-4.9 -1.7-3 -1.3-2 -3.1-4 -3.1-3.3 -2-1.8 -2-1.6 -4-2.7 -2.1-1.1 -3-1.5 -5-2 -5-1.5 -3-0.6 -3-0.6 -6.1-0.6 -6-0.2 -6 0.3 -6.1 0.9 -3 0.6 -3 0.8 -5 1.6 -5 2.3 -3.1 1.6 -2 1.3 -4 3 -3.3 3.1 -1.8 2 -1.7 2 -2.7 4 -1.2 2 -1.5 2.9 -2 5 -1.5 5 -0.7 2.9 -0.5 3 -0.4 3 -0.3 4 -0.1 2.9 0 4 0.5 6 0.5 2.9 0.5 3 0.8 3 0.9 3 1.1 2.9 1.2 3 1.5 3 1.2 2 2.7 3.9 1.8 2.2 2 2.1 2 2 2.1 1.7 2.7 2 2.2 1.4 2.1 1.2 3 1.5 5 1.9 3 1 3 0.8 3 0.6z"/>
<path fill="#23ff00" d="M498.5 810.3l5.5 0.1 6-0.3 5.1-0.7 5-1 5-1.5 5-2.1 4-2.1 4.1-2.6 2-1.6 2-1.8 3.1-3.3 1.6-2 1.4-1.9 2.4-4 1.9-4 1.9-4.9 1.3-5 0.9-5 0.6-5.9 0.1-6 -0.4-5.9 -1-6 -1.2-4.9 -1.8-5 -1.3-3 -1-1.9 -2.5-4.2 -2.9-3.8 -3.1-3.2 -2-1.8 -2-1.6 -4.1-2.7 -2-1.1 -3-1.4 -5-2 -5-1.4 -6.1-1.1 -6-0.6 -6-0.1 -6 0.4 -6.1 1 -5 1.2 -5 1.7 -3 1.3 -2 1 -4.2 2.5 -3.9 2.9 -3.3 3 -1.8 2 -1.6 2 -2.7 4 -1.1 2 -1.5 2.9 -2 5 -1.4 5 -1.1 5.9 -0.6 6 -0.1 2.9 0.1 4 0.5 6 1 5.9 0.7 3 0.9 3 2 4.9 1.5 3 1.1 2 2.7 3.9 1.7 2.1 2 2.2 2 1.9 2 1.7 4 2.8 2.2 1.3 2.9 1.4 5 2.1 3 0.9 3 0.8 6.1 1.2z"/>
<path fill="#3aff00" d="M498.7 808.3l5.3 0.1 6-0.3 5.1-0.7 5-1 5-1.6 4-1.6 4-2.1 4.1-2.7 3.5-3 2.9-3 2.6-3.3 2.3-3.6 2-4 1.9-4.9 1.4-5 0.9-5 0.6-5.9 0.1-6 -0.5-5.9 -0.7-5 -1.2-4.9 -1.7-5 -1.3-3 -1-2 -2.4-3.9 -1.4-2 -1.6-2 -2.9-3 -3.5-3 -4.1-2.6 -4-2.1 -5-2 -5-1.5 -3-0.6 -3.1-0.5 -6-0.6 -6-0.1 -6 0.4 -5.1 0.8 -5 1.2 -5 1.6 -3 1.3 -2 1 -4.1 2.3 -2 1.4 -2 1.6 -3 2.9 -3 3.5 -2.7 4 -2.1 3.9 -0.9 2 -1.2 3 -1.4 5 -0.7 2.9 -0.5 3 -0.6 6 -0.1 5.9 0.5 6 0.4 2.9 0.5 3 0.7 3 0.9 3 1.9 4.9 1.3 2.7 1.3 2.3 2.7 4 1.6 1.9 1.9 2 3.5 3.2 2 1.5 2.1 1.4 2 1.1 3 1.6 5 2 5 1.4 3 0.7 3.1 0.5z"/>
<path fill="#46ff00" d="M492.6 806.3l5.4 0.6 5 0.2 5-0.2 5-0.5 5.1-0.9 5-1.4 4-1.5 4-1.9 3.8-2.3 3.3-2.5 2.7-2.5 2.6-2.9 2.2-3 2.4-4 1.8-4 1.4-3.9 1.3-5 0.5-3 0.4-2.9 0.4-5 0-6 -0.5-5.9 -0.8-5 -1.3-4.9 -1.8-5 -2-4 -2.5-3.9 -2.8-3.6 -2-2.1 -1.4-1.3 -3.6-2.8 -4.1-2.4 -4-1.9 -5-1.9 -5-1.2 -3-0.6 -3.1-0.4 -5-0.4 -6 0 -6 0.5 -5.1 0.9 -5 1.2 -5 1.9 -4 1.9 -4.1 2.4 -3.6 2.8 -2.1 2 -1.3 1.4 -2.8 3.6 -2.5 3.9 -2 4 -1.8 5 -0.8 3 -0.7 2.9 -0.9 6 -0.3 5.9 0.1 4 0.2 3 0.7 5.9 0.6 3 0.8 3 1.7 4.9 1.3 3 1.1 2 2.5 4 1.5 2 1.7 1.9 1.6 1.7 2 1.8 2 1.6 2.1 1.4 2.4 1.5 2.6 1.3 2 0.9 3 1.2 5 1.4z"/>
<path fill="#56ff00" d="M495.7 806.3l5.3 0.4 5-0.1 5-0.3 5.1-0.8 5-1.2 4-1.3 4-1.7 4-2.2 3.9-2.7 3.2-2.8 2.9-3.1 2.1-2.9 1.9-3.1 2-4 1.5-3.9 1.4-5 0.9-5 0.6-5.9 0.1-6 -0.3-4.9 -0.4-3 -0.5-3 -1.2-4.9 -1.7-5 -1.9-4 -2.3-3.9 -1.5-2 -1.6-2 -3-3.1 -3.5-2.8 -2.6-1.7 -2-1.2 -4-1.9 -4-1.5 -5-1.4 -5.1-0.9 -6-0.6 -6-0.1 -5 0.3 -3 0.4 -3.1 0.5 -5 1.1 -5 1.7 -4 1.9 -4 2.3 -2.1 1.4 -2 1.6 -3.1 3 -2.9 3.5 -1.7 2.5 -1.2 1.9 -2 4 -1.5 4 -1.4 4.9 -0.6 3 -0.4 3 -0.6 5.9 0 6 0.6 6 0.4 2.9 0.6 3 1.4 5 1.1 2.9 0.9 2 1.4 2.8 1.3 2.2 1.3 2 1.5 2 1.8 1.9 2 2 2.1 1.9 2 1.5 4.1 2.5 2.1 1.1 2.9 1.2 5 1.7 5 1.2z"/>
<path fill="#6cff00" d="M493.7 804.3l4.3 0.5 5 0.1 5-0.1 5-0.6 5.1-0.9 4-1.1 4-1.4 4-1.9 3-1.8 3.7-2.7 3.1-3 2.3-2.6 2.3-3.3 1.7-3 1.8-3.9 1.4-4 1.2-5 0.5-3 0.4-2.9 0.3-5 -0.1-5.9 -0.6-6 -0.9-5 -1.5-4.9 -1.5-4 -2.1-4 -1.2-1.9 -1.4-2 -2.6-3 -3.1-3 -3.7-2.6 -4-2.3 -4-1.8 -4-1.4 -5-1.2 -3.1-0.5 -3-0.4 -5-0.3 -6 0.1 -6 0.6 -5.1 0.9 -5 1.5 -4 1.5 -4 2 -2 1.3 -2.1 1.4 -3 2.5 -3 3.1 -2.7 3.6 -2.3 3.9 -1.8 4 -1.4 4 -0.8 2.9 -0.6 3 -0.8 6 -0.2 5.9 0.2 6 0.8 5.9 1.1 5 1.7 5 1.3 2.9 1 2 2.5 4 1.5 2 1.8 1.9 1.7 1.8 2 1.7 2.1 1.5 2 1.3 4 2.2 2 0.9 3 1.1 5 1.4 3 0.6z"/>
<path fill="#78ff00" d="M495.7 803.4l4.3 0.3 5 0 5-0.3 5.1-0.7 5-1.1 4-1.3 4-1.7 3-1.7 3-2 3.1-2.4 2.9-3 2.1-2.7 2.1-3.3 1.5-3 1.7-3.9 1.2-4 1-5 0.7-5.9 0.2-6 -0.3-4.9 -0.6-5 -1-4.9 -1.6-5 -1.7-4 -2.2-3.8 -2.3-3.1 -2.7-3.1 -3.4-2.9 -3.7-2.5 -4-2.1 -4-1.6 -4-1.2 -5-1 -6.1-0.7 -6-0.2 -5 0.3 -5.1 0.6 -5 1 -5 1.6 -4 1.7 -3.9 2.1 -3.2 2.3 -3.1 2.7 -2.9 3.3 -2.5 3.6 -2.1 4 -1.7 4 -1.2 4 -0.7 2.9 -0.5 3 -0.6 6 -0.1 5.9 0.5 6 0.4 2.9 0.6 3 1.3 5 1.1 3 0.9 1.9 2.1 4 2.5 3.7 3 3.3 2 1.9 2.1 1.5 2 1.4 2 1.2 4 2 2 0.8 3 1 5 1.2z"/>
<path fill="#89ff00" d="M492.1 802.4l3.9 0.5 5 0.3 5-0.1 5-0.3 5.1-0.8 4-1 4-1.3 3-1.2 4-2.1 2.9-2 2.5-2 2.7-2.6 2.6-3.3 1.9-3 1.6-3 1.6-3.9 1.5-5 1-5 0.5-4.9 0.2-6 -0.4-5.9 -0.7-5 -1.1-4.9 -1.3-4 -1.8-4 -2.3-3.9 -2.2-3 -2.8-3 -3.4-2.9 -3-2 -4-2.1 -4-1.6 -5-1.5 -5.1-0.9 -5-0.6 -6-0.2 -6 0.4 -5.1 0.7 -5 1.1 -4 1.3 -4 1.7 -4 2.3 -3.1 2.2 -3 2.7 -2.9 3.4 -2 2.9 -2.2 4 -1.6 4 -1.5 4.9 -0.6 3 -0.5 3 -0.5 5.9 0 6 0.5 6 0.5 2.9 0.6 3 1.5 5 1.2 2.9 0.9 2 2.3 4 1.4 2 1.6 2 2 1.9 1.3 1.3 3.6 2.7 2.5 1.5 2 1.1 4 1.7 5 1.6z"/>
<path fill="#9fff00" d="M499.1 801.4l4.9 0.1 5-0.3 5.1-0.6 4-0.8 4-1.2 4-1.5 3-1.5 3-1.9 3.1-2.4 2.9-2.8 2.3-3 1.8-2.7 1.7-3.3 1.5-3.9 1.2-4 0.8-4 0.7-4.9 0.2-5 -0.2-5.9 -0.5-5 -1-5 -1.2-3.9 -1.5-4 -2.1-4 -1.4-1.9 -1.2-1.7 -1.1-1.3 -1.9-2 -3.1-2.5 -3-2 -3-1.7 -4-1.6 -4-1.3 -5-1 -5.1-0.7 -5-0.2 -6 0.2 -5 0.5 -5.1 1 -4 1.1 -4 1.6 -4 2.1 -3 2 -3.1 2.5 -1.9 2 -1.1 1.3 -1.2 1.7 -1.4 1.9 -1.6 3 -1.7 4 -1.2 4 -1.1 4.9 -0.5 3 -0.2 3 -0.2 5.9 0.3 6 0.7 4.9 1.2 5 1.4 4 1.8 3.9 1.1 2 1.6 2.4 1.3 1.6 1.7 1.9 3.1 2.8 3.1 2.2 3.9 2.2 4 1.7 5 1.5 5.1 0.9 3 0.4z"/>
<path fill="#acff00" d="M491.5 799.4l4.5 0.6 4 0.3 5 0 4-0.2 5.1-0.6 4-0.9 4-1.1 3-1.2 3-1.4 3-1.8 3-2.3 2.1-1.9 2.1-2.4 2.2-3 1.7-3 1.3-2.9 1.4-4 1.2-5 0.7-4.9 0.4-5 -0.1-5.9 -0.5-5 -0.9-5 -1.1-3.9 -1.5-4 -1.9-3.8 -2.1-3.1 -2.5-3 -2.5-2.3 -3-2.3 -3-1.8 -4-1.9 -4-1.4 -5-1.1 -5.1-0.8 -5-0.3 -6 0.1 -5 0.5 -5.1 0.9 -4 1 -4 1.5 -3.8 1.9 -3.2 2.1 -3.1 2.5 -2.3 2.4 -2.3 2.9 -1.8 3 -1.9 4 -0.8 2 -0.9 3 -1.1 4.9 -0.4 3 -0.3 3 -0.2 5.9 0.4 6 0.3 2.9 0.6 3 1.3 5 1.1 3 0.8 1.9 1.1 2 1.1 2 2.3 3.2 1.6 1.8 1.4 1.4 3.2 2.5 1.9 1.3 2 1.2 4 1.8 2 0.8 3 0.9z"/>
<path fill="#beff00" d="M495.8 799.4l4.2 0.3 5 0 5-0.3 4.1-0.5 4-0.9 3-0.8 4-1.5 3-1.5 3-1.9 2.5-1.8 2.6-2.4 2-2.4 1.5-2.2 1.8-3 1.4-2.9 1.4-4 1.2-5 0.7-4.9 0.4-5 -0.1-5 -0.4-4.9 -0.8-5 -1-3.9 -1.4-4 -1.9-4 -1.9-3 -2.4-2.9 -2.6-2.5 -3-2.4 -3-1.8 -4-1.9 -4-1.4 -5-1.2 -5.1-0.7 -5-0.4 -5 0.1 -5 0.4 -5.1 0.8 -4 1 -4 1.4 -4 1.9 -3 1.8 -3 2.4 -2.6 2.5 -2.4 2.9 -1.9 3 -1.9 4 -1.4 4 -1.2 4.9 -0.7 5 -0.4 5.9 0.2 6 0.3 3 0.4 2.9 1.1 5 1 3 0.7 2 1.9 3.9 1.3 2 1.4 2 2.5 3 1.7 1.5 1.7 1.4 3.3 2.2 4 2.1 2 0.8 3 1 5 1.2z"/>
<path fill="#d3ff00" d="M493.7 797.4l4.3 0.5 4 0.1 5-0.1 4-0.3 4.1-0.7 3-0.6 4-1.3 3-1.2 3-1.5 2.8-1.8 2.2-1.9 2.2-2.1 1.9-2.3 1.8-2.7 1.6-2.9 1.2-3 1.3-4 0.8-4 0.7-4.9 0.2-5 -0.1-4.9 -0.5-5 -0.9-5 -1.1-3.9 -1.6-4 -1.6-3 -2-3 -2.6-2.9 -2.3-2 -3-2.2 -3.2-1.8 -3.8-1.6 -4-1.2 -4-0.9 -5.1-0.6 -5-0.3 -5 0.1 -5 0.5 -5.1 0.9 -4 1.2 -4 1.5 -3 1.6 -3 2 -3 2.6 -2.1 2.2 -2.2 2.9 -1.8 3.2 -1.6 3.8 -0.7 2 -0.8 2.9 -0.9 5 -0.4 3 -0.2 2.9 0 6 0.2 3 0.4 3 0.9 4.9 0.8 3 0.7 2 1.6 3.8 2 3.4 1.2 1.7 1.7 2 1.2 1.2 1.9 1.8 2.8 1.9 3.3 1.9 4 1.7 2 0.7 3 0.8z"/>
<path fill="#e1ff00" d="M494 796.4l4 0.4 4 0.2 4-0.1 4-0.3 4.1-0.5 3.2-0.7 3.8-1.1 3-1.1 3-1.5 2-1.3 2.7-1.9 2.3-2.3 2.1-2.3 1.6-2.4 1.6-2.9 1.3-3 1.3-4 0.9-4 0.6-4.9 0.3-5 -0.1-4.9 -0.5-5 -0.7-4 -1.1-3.9 -1.5-4 -1.5-3 -2-3 -2.3-2.7 -2.3-2.2 -2.7-2 -3-1.8 -4-1.7 -4-1.3 -4-0.8 -5.1-0.7 -5-0.3 -5 0.2 -5 0.4 -4.1 0.8 -4 1 -4 1.5 -3 1.5 -3 1.9 -2.8 2.3 -2.3 2.3 -2 2.7 -1.7 2.9 -1.8 4 -0.7 2 -0.8 2.9 -1 5 -0.5 5 -0.1 5.9 0.2 3 0.3 3 0.8 4.9 0.8 3 0.6 2 1.7 4 1 1.9 1.2 2 2 2.6 1.3 1.4 1.8 1.7 3 2.3 2 1.2 2 1 4 1.6 4 1.2z"/>
<path fill="#f3ff00" d="M492 795.4l4 0.6 4 0.3 5 0 4-0.2 4-0.5 3.1-0.6 4-1.1 3-1 3-1.5 2-1.1 2.6-1.8 2.4-2.2 2.1-2.2 1.8-2.6 1.2-2 1.4-2.9 1.4-4 1-4 0.6-3.9 0.4-5 0.1-5 -0.4-4.9 -0.7-5 -1-3.9 -1.4-4 -1.4-3 -1.9-3 -2.2-2.7 -2.2-2.2 -2.8-2.2 -3-1.8 -3-1.4 -4-1.4 -4-1 -4.1-0.6 -5-0.4 -5-0.1 -5 0.4 -5.1 0.7 -4 1 -4 1.4 -3 1.4 -3 1.8 -2.8 2.2 -2.2 2.2 -2.2 2.7 -1.9 3 -1.4 3 -1.4 4 -1.2 4.9 -0.6 5 -0.3 5.9 0.3 6 0.6 4.9 1.2 5 1.4 4 0.9 2 1.1 1.9 2 3 2.6 3 2.9 2.4 3 2 2 1.1 2 0.9 4 1.3z"/>
<path fill="#fff700" d="M497.6 794.4l4.4 0.2 4 0 4-0.3 4.1-0.6 3-0.7 3-0.8 3-1.2 3-1.5 2-1.2 2.4-1.8 2-2 1.7-2 1.4-2 1.7-2.9 1.3-3 0.9-3 0.9-4 0.7-4.9 0.3-4 -0.1-5 -0.4-4.9 -0.7-4 -1-3.9 -1-3 -1.4-3 -1.8-3 -1.9-2.3 -2.6-2.6 -2.4-1.8 -3-1.8 -3-1.4 -4-1.3 -4-0.9 -5.1-0.7 -4-0.3 -5 0.1 -5 0.4 -4.1 0.6 -4 1.1 -3 1 -3 1.4 -3 1.8 -2.4 1.8 -2.6 2.6 -1.9 2.3 -1.8 3 -1.4 3 -1.3 3.9 -1.1 5 -0.6 5 -0.2 5.9 0.3 5 0.7 4.9 0.9 4 1.3 4 0.9 2 1.1 1.9 2.1 3.1 2.5 2.9 1.5 1.3 2 1.5 3 1.8 2 0.9 2 0.8 4 1.2 4.1 0.9z"/>
<path fill="#ffea00" d="M497.6 793.4l3.4 0.2 4 0 4-0.2 4-0.5 3.1-0.6 3-0.9 3-1 3-1.5 2-1.1 2-1.5 2-1.8 2-2.2 2-2.8 1.1-1.9 1.3-3 1-3 0.9-4 0.7-4.9 0.3-4 -0.1-5 -0.4-4.9 -0.7-4 -1-3.9 -1-2.8 -1.6-3.2 -1.5-2.4 -2-2.5 -2-2 -2.6-2 -2.4-1.5 -3.2-1.5 -3.8-1.3 -4-0.9 -5.1-0.7 -4-0.3 -5 0.1 -5 0.4 -4.1 0.7 -4 1 -2.8 1 -3.2 1.5 -2.4 1.5 -2.6 2 -2 2 -2 2.5 -1.5 2.4 -1.6 3.2 -1.3 3.7 -0.7 2.8 -0.4 2.2 -0.6 5 -0.2 5.9 0.3 5 0.7 4.9 0.9 4 1.4 4 0.9 2 1 1.8 2.1 2.9 2 2.2 1 1 2 1.6 3 1.8 2 1 2 0.9 4 1.2 4.1 0.9z"/>
<path fill="#ffd800" d="M494.7 792.4l3.3 0.4 4 0.2 4-0.1 4-0.3 3-0.4 3.6-0.8 2.5-0.7 3-1.1 2.4-1.1 2.6-1.6 2-1.5 2-1.9 1.8-2 1.3-2 1.2-1.9 1.3-3 1.1-3 0.9-4 0.6-3.9 0.4-5 -0.1-5 -0.3-3.9 -0.6-4 -0.9-4 -1.1-2.9 -1.5-3.4 -2.1-3.2 -1.9-2.4 -2.2-1.9 -2.7-2 -2.2-1.3 -3-1.3 -3-1 -4-0.9 -4.1-0.6 -5-0.4 -5 0.1 -4 0.3 -4.1 0.6 -4 0.9 -3 1 -3.4 1.6 -3.2 2 -2.4 1.9 -2 2.1 -2 2.8 -1.3 2.1 -1.3 3 -1.3 3.9 -1.1 5 -0.5 5 -0.1 4.9 0.3 5 0.7 4.9 0.5 2.5 0.7 2.5 1.6 4 1.7 2.9 2.1 3 1 1 2 1.9 2.8 2.1 3.2 1.7 3.1 1.3 3.9 1.1z"/>
<path fill="#ffc500" d="M492.7 790.5l3.3 0.4 4 0.3 4 0.1 3-0.1 4-0.4 3.1-0.5 3-0.7 3-1 2.7-1.1 1.9-1 2.4-1.6 1.6-1.4 2-2 1.4-1.8 1.4-2.1 1-2 1.2-3 1.1-4 0.7-3.9 0.4-4 0.1-5 -0.2-3.9 -0.4-4 -0.8-4 -0.9-2.9 -1.2-3 -1.4-2.6 -1.6-2.4 -1.7-2 -2.7-2.3 -2.4-1.6 -2.6-1.4 -3-1.1 -4-1.2 -4.1-0.6 -4-0.4 -5-0.2 -4 0.2 -4 0.5 -4.1 0.8 -3 0.9 -3 1.1 -2.6 1.4 -2.4 1.6 -2.7 2.3 -1.7 2 -1.6 2.4 -1.4 2.6 -0.8 2 -0.7 1.9 -1 4 -0.7 5 -0.3 4.9 0.1 5 0.5 5 0.6 2.9 0.5 2 1.1 3.4 1.2 2.6 1.9 3.1 1 1.3 1.3 1.5 2.7 2.4 3 1.9 3 1.5 4 1.3z"/>
<path fill="#ffb900" d="M493 789.5l3 0.4 4 0.3 4 0.1 3-0.1 3-0.3 3-0.4 3.1-0.7 3-0.9 2-0.8 2-0.9 2-1.2 2-1.5 2-1.8 1.8-2.2 1.4-1.9 1-2 1.3-3 0.9-3 0.8-3.9 0.5-4 0.2-4 -0.1-4.9 -0.4-4 -0.8-4 -0.8-3 -1.1-2.9 -1.5-3 -1.4-2 -1.8-2.1 -2-1.9 -2.8-1.9 -2.2-1.2 -3-1.3 -3-0.9 -4.1-0.8 -4-0.4 -4-0.2 -5 0.1 -4 0.4 -4.1 0.7 -3 0.8 -3 1.1 -3 1.5 -2 1.3 -2.2 1.8 -1.9 2 -1.9 2.8 -1.2 2.2 -0.9 2 -0.7 1.9 -1.1 4 -0.6 4 -0.4 4.9 0.1 5 0.4 5 0.3 1.9 0.7 3 1.3 4 1.4 3 1.9 2.9 1.6 2 1 1 2.2 1.8 3 1.9 3 1.3 3 1z"/>
<path fill="#fa0" d="M497.9 789.5l3.1 0.1 4 0 3-0.1 3-0.4 3.1-0.5 3-0.7 3-1 2-0.9 2-1.1 2-1.4 2-1.7 1.2-1.3 1.6-1.9 1.2-2 1-2.1 1.2-2.9 0.8-3 0.7-3.9 0.4-4 0.2-5 -0.2-3.9 -0.5-4 -0.9-4 -0.9-2.9 -1.3-3 -1.1-2 -1.4-2 -2-2.2 -2-1.8 -3-1.9 -2.1-1 -2.9-1.1 -3-0.9 -4.1-0.7 -4-0.4 -5-0.1 -4 0.2 -4 0.5 -4.1 0.8 -3 0.9 -3 1.3 -2 1.1 -2 1.3 -2.3 2 -1.7 2 -2 3 -1 2.1 -1.2 2.8 -1 4 -0.8 5 -0.3 4.9 0.2 5 0.5 5 0.9 3.9 1.3 4 1.4 2.9 2 3 1.7 2 2.3 2 3 2 3 1.4 4 1.3 4.1 0.8z"/>
<path fill="#ff9700" d="M494.8 787.5l3.2 0.3 3 0.2 4 0 3-0.2 3-0.3 3.1-0.5 2-0.5 3-1 2-0.9 2-1.1 2-1.4 1.9-1.6 1.1-1.2 1.4-1.7 1.2-2 1-2 1.1-3 0.8-3 0.7-3.9 0.3-4 0.1-4 -0.2-3.9 -0.5-4 -0.6-3 -0.9-3 -1.3-2.9 -1.1-2 -1.4-2 -1.6-1.8 -2-1.8 -2-1.4 -3-1.5 -3-1.1 -3-0.8 -4.1-0.7 -4-0.3 -4-0.1 -4 0.2 -4 0.5 -3.1 0.6 -3 0.9 -3 1.2 -2 1.1 -2 1.4 -2 1.8 -1.6 1.8 -1.4 2 -1.6 3 -0.8 1.9 -0.6 2 -0.9 4 -0.5 4 -0.2 4.9 0.2 5 0.5 4 0.9 3.9 0.6 2 0.8 2 1.6 3 1.4 2 1.7 1.9 1.1 1 1.8 1.4 3 1.7 3 1.2 3 0.9z"/>
<path fill="#ff8d00" d="M495.8 786.5l3.2 0.3 3 0.1 4 0 3-0.3 3-0.4 2.1-0.4 3-0.8 2-0.7 2-1 2-1.1 2-1.5 1.2-1.2 0.9-0.9 1.6-2 1.1-2 1-2 1-3 0.8-3 0.5-2.9 0.3-4 0.1-4 -0.2-3.9 -0.5-4 -0.8-3.3 -0.8-2.7 -1.2-2.6 -1.3-2.3 -1.6-2 -1.1-1.2 -2.1-1.8 -1.9-1.2 -3-1.5 -3-1 -3.1-0.8 -3-0.5 -4-0.3 -4-0.1 -4 0.2 -4 0.5 -3.3 0.8 -2.8 0.8 -2.6 1.1 -2.4 1.4 -2 1.5 -1.2 1.1 -1.8 2.1 -1.3 1.9 -1.5 3 -0.7 1.9 -0.6 2 -0.8 4 -0.5 4 -0.1 4.9 0.3 5 0.6 3.9 1.1 4 1.2 3 1.3 2.4 1.9 2.6 1.9 1.9 2.2 1.7 3 1.6 3 1.2 3 0.8z"/>
<path fill="#ff8000" d="M492.8 785.5l3.2 0.5 3 0.3 3 0.1 3 0 3-0.2 3-0.3 3.1-0.6 2.8-0.8 2.2-0.8 2-0.9 2-1.3 1.3-1 1.7-1.5 1.3-1.4 1.4-2 1.1-2 1.2-3 0.8-3 0.6-2.9 0.4-3 0.2-4 -0.1-4 -0.3-3.9 -0.5-3 -0.8-3 -1.1-2.9 -0.9-2 -1.3-2 -1.6-2 -1.4-1.4 -2-1.6 -2-1.2 -3-1.4 -3-0.9 -3.1-0.7 -4-0.5 -4-0.2 -4 0.1 -4 0.3 -3 0.5 -3.1 0.8 -3 1 -2 1 -2 1.2 -2 1.6 -2 2.1 -1.7 2.3 -1.1 2 -1.2 3.1 -1.1 3.8 -0.6 4 -0.3 3.9 0.1 5 0.3 4 0.8 3.9 0.8 3 1.2 3 1.8 3 1.6 2 2.1 1.9 2.3 1.7 2.6 1.3 2.6 1z"/>
<path fill="#ff6f00" d="M496.7 784.5l5.3 0.4 3-0.1 3-0.2 2-0.2 3-0.5 3.1-0.8 2-0.7 2-1 2-1.2 2-1.6 1-1 1-1.1 1.3-1.9 0.7-1.2 1-2.2 0.9-2.6 0.7-2.9 0.5-3 0.3-4 0-4 -0.3-3.9 -0.5-3 -0.7-3 -0.9-2.5 -1.1-2.4 -1.2-2 -1.6-2 -2.1-1.9 -1.5-1.1 -1.7-1 -2.2-1 -2.6-0.8 -3.1-0.7 -3-0.5 -4-0.3 -4 0 -4 0.3 -3 0.5 -3.1 0.7 -2.6 0.8 -2.4 1.1 -2 1.3 -2 1.5 -1.9 2.1 -1.1 1.5 -1 1.7 -1 2.2 -1.2 3.5 -0.7 4 -0.4 3.9 -0.1 4 0.2 4 0.6 4 1 3.9 1.2 3 1.4 2.5 1.9 2.5 2.1 1.9 2 1.3 2 1.1 3 1.2 3.1 0.8z"/>
<path fill="#ff5e00" d="M500.3 783.5l2.7 0.1 3-0.1 3-0.3 3-0.5 2.1-0.4 2.4-0.8 1.6-0.6 2-1.1 1.9-1.2 1.2-1 1-1 1.6-2 1.2-2 0.9-2 0.7-2 0.5-2 0.6-2.9 0.3-3 0.2-3 -0.1-4 -0.4-3.9 -0.6-3 -0.8-3 -0.8-2 -1.1-1.9 -1.3-2 -1.9-2 -1.2-1 -1.9-1.3 -2-1 -2-0.8 -3-0.9 -3.1-0.5 -3-0.4 -3-0.1 -4 0.1 -4 0.4 -3 0.5 -3.1 0.9 -2 0.8 -2 1 -1.9 1.3 -1.2 1 -1.9 2 -1.3 2 -1.1 1.9 -0.8 2 -0.8 3 -0.6 3 -0.4 3.9 -0.1 4 0.2 4 0.6 4 0.8 2.9 1.1 3 1.4 2.5 1 1.5 2 2.1 1.1 0.9 1.4 0.9 2.5 1.4 2 0.8 3.1 0.8 4 0.7z"/>
<path fill="#ff4e00" d="M498.4 781.5l2.6 0.2 3 0 3-0.1 2-0.2 4.3-0.9 1.8-0.5 2-0.8 1.3-0.6 1.7-1.1 1.2-0.9 1.8-1.8 1-1.3 1-1.6 0.7-1.3 0.8-2 0.6-2 0.6-2.9 0.4-3 0.1-3 0-3 -0.2-2.9 -0.5-3 -0.7-3 -0.8-2.2 -1-2.1 -1-1.6 -1.7-2 -1.3-1.2 -2-1.4 -2-1.1 -2-0.7 -2.1-0.6 -3-0.7 -3-0.3 -3-0.2 -3 0.1 -3 0.2 -3 0.4 -3.1 0.7 -2.2 0.8 -2.1 1 -1.7 1 -2 1.7 -1.2 1.3 -1.4 2 -1.1 1.9 -0.8 2 -0.8 3 -0.7 4 -0.2 2.9 0 4 0.4 4 0.5 3 0.8 2.9 1.3 3 1.2 2 1.7 2 2.3 1.9 1.7 1.1 2.3 1 2.8 0.9 3.3 0.7z"/>
<path fill="#ff4100" d="M495.3 779.5l4.7 0.6 5 0.1 3-0.3 2-0.2 2-0.5 2.1-0.5 3-1.3 1.4-0.8 1.6-1.2 2-2 1-1.3 1-1.8 1-2.3 0.7-2.3 0.4-2 0.4-3 0.2-3 0-3 -0.3-2.9 -0.5-3 -0.5-2 -0.6-2 -0.9-2 -1.3-1.9 -1.6-2 -1-0.9 -1.6-1.1 -1.7-1 -2.4-1 -2.4-0.7 -2-0.4 -3-0.4 -3-0.2 -3 0.1 -3 0.2 -3 0.5 -2 0.5 -2.1 0.6 -2 0.9 -2 1.3 -1.9 1.6 -1 1 -1.1 1.5 -1 1.7 -1.1 2.7 -0.8 3 -0.5 3 -0.3 2.9 0 4 0.3 3 0.5 3 0.9 3.3 1 2.3 1 1.8 1.1 1.5 2.1 2 1.8 1.3 2 1 2 0.8z"/>
<path fill="#ff3500" d="M499.7 778.6l2.3 0.1 3-0.1 4-0.4 2-0.4 2-0.5 2-0.7 1.1-0.5 2-1.3 1-0.8 1-0.9 1-1.2 1-1.4 1-1.9 1-2.8 0.5-2.1 0.4-3 0.2-2 0-3 -0.1-2.3 -0.3-2.6 -0.7-3 -0.6-2 -0.9-2 -1.3-2 -1.2-1.4 -1-1 -1-0.8 -2-1.2 -2-0.9 -1.9-0.6 -2.2-0.5 -3-0.4 -2-0.2 -3 0 -2.3 0.1 -2.7 0.3 -3 0.7 -2.1 0.6 -2 0.9 -2 1.2 -1.5 1.3 -0.9 1 -0.8 0.9 -1.3 2 -0.9 2 -0.6 1.9 -0.7 3.1 -0.3 2.9 -0.1 3 0.1 3.3 0.3 2.7 0.7 3 1 2.9 1 1.9 1 1.4 1.5 1.7 1.5 1.2 2 1.3 2 0.8 2.1 0.7 3 0.6z"/>
<path fill="#ff2a00" d="M496.5 776.6l2.5 0.3 2 0.2 4 0 4-0.4 3-0.8 1.1-0.3 2-0.9 2-1.2 1.1-0.9 1-1 0.9-1.1 1.1-1.9 0.9-2 0.6-1.9 0.5-2 0.3-2 0.1-2 0.1-3 -0.2-2.9 -0.4-2.5 -1-3.6 -0.9-1.9 -1.1-1.8 -0.9-1.2 -1.1-1 -1.2-0.9 -1.8-1.2 -2.1-0.9 -2-0.6 -2-0.4 -2-0.3 -2-0.2 -3 0 -3 0.2 -2.5 0.4 -3.6 1 -2 0.8 -1.8 1.2 -1.2 0.9 -1.1 1 -0.9 1.2 -1.1 1.8 -0.9 2 -0.9 3 -0.5 3 -0.2 2.9 0.1 3 0.3 3 0.3 2 0.9 2.9 0.9 2 1.2 2 1.8 2 1.1 0.9 1.8 1.1 2.2 1z"/>
<path fill="#f20" d="M500.6 775.6l3.4 0 2-0.1 2-0.2 3.1-0.7 3-1.2 1.3-0.8 1.4-1 1-1 0.8-1 1.5-2.3 1-2.6 0.5-2 0.3-2 0.2-2 0.1-3 -0.2-2 -0.2-1.9 -0.4-2 -0.6-2 -0.7-1.6 -0.8-1.4 -1.2-1.7 -1-1 -1.7-1.2 -1.3-0.8 -3.1-1.2 -2-0.5 -2-0.4 -2-0.2 -3 0 -2 0.1 -2 0.3 -2 0.4 -2 0.6 -1.7 0.7 -1.4 0.7 -1.7 1.2 -1 1 -1.3 1.7 -0.8 1.3 -1.2 3 -0.5 2 -0.4 2.9 -0.2 3 0.2 3 0.4 3 0.5 2 0.7 1.9 1.1 2 1.2 1.7 1 1 1.7 1.3 1.3 0.8 2.1 0.9 2 0.6 2 0.4z"/>
<path fill="#ff1a00" d="M497.5 773.6l3.5 0.5 4 0 3.5-0.5 3.4-1 2.2-1.1 2-1.6 1-1.1 0.8-1.2 1.1-1.9 0.7-2 0.4-1.5 0.4-2.5 0.1-2 -0.1-4 -0.3-1.9 -0.5-2 -0.6-1.8 -0.6-1.2 -0.6-1 -0.8-1.2 -1-1.1 -1-0.8 -1.3-0.9 -1.8-0.9 -2-0.7 -1.5-0.3 -2.5-0.4 -2-0.2 -4 0.2 -2 0.3 -2 0.4 -1.9 0.7 -1.1 0.5 -1.1 0.6 -1.2 0.8 -1.1 1 -0.8 1 -0.9 1.2 -0.9 1.8 -0.7 2 -0.5 2 -0.3 1.9 -0.1 3 0.1 3 0.3 2 0.5 2 0.6 1.8 1 1.9 0.9 1.2 1.1 1.3 1 0.9 1.3 0.8 1.8 0.9 2 0.7z"/>
<path fill="#ff1400" d="M501.8 772.6l3.2-0.1 2-0.2 2-0.4 1-0.3 2-0.9 1.8-1.1 1.2-1 0.9-1 1.2-1.8 1-2.3 0.7-2.8 0.3-3 0-2 -0.2-2 -0.3-1.9 -0.5-1.9 -1-2.3 -1-1.5 -1-1.2 -1-0.9 -1.1-0.7 -1-0.6 -2-0.8 -3-0.7 -3-0.4 -2 0 -2 0.2 -2 0.3 -1.9 0.5 -2.3 1 -1.6 1 -1.2 1 -0.9 1 -0.7 1 -0.6 1 -0.8 2 -0.8 3 -0.2 1.9 -0.1 2 0.1 2 0.2 2 0.5 2 0.7 2 0.5 1.1 1 1.6 1 1.1 1.3 1.1 1.6 1 1.2 0.6 1.1 0.4 1.9 0.5 2 0.3z"/>
<path fill="#ff0e00" d="M498.3 770.6l2.7 0.4 3 0.1 3-0.3 2-0.6 2-0.8 2-1.3 1.5-1.5 0.8-0.9 0.8-1.5 0.9-2.5 0.5-3 0.1-2 -0.1-2 -0.5-2.9 -0.9-2.6 -0.8-1.4 -0.8-1 -1.5-1.5 -1-0.7 -1.4-0.8 -2.6-0.9 -3-0.5 -2-0.1 -2 0.1 -3 0.5 -2.6 0.9 -1.4 0.8 -1 0.7 -1.5 1.5 -0.8 1 -0.8 1.4 -0.6 1.6 -0.5 2 -0.3 1.9 -0.1 2 0.1 2 0.3 2 0.2 1 0.7 2 0.4 1 0.8 1.3 1 1.2 1.1 0.9 1 0.7 1.4 0.8 1.6 0.6z"/>
<path fill="#ff0a00" d="M502.6 769.6l2.4-0.1 3-0.6 2-0.8 1-0.6 1.2-0.9 1-0.9 0.7-1 1.1-2 0.6-2 0.4-3 0-3 -0.7-2.9 -0.8-2 -0.6-1 -0.7-1 -1-1 -1.2-0.9 -2-1 -2-0.6 -3-0.5 -3 0.1 -3 0.6 -2 0.9 -1 0.5 -1 0.8 -1 0.9 -0.9 1.2 -1.1 2 -0.6 2 -0.4 2.9 0 3 0.7 3 0.8 2 0.6 1 0.9 1.1 1 1 1 0.7 2 1.1 3 0.8z"/>
<path fill="#ff0700" d="M499.3 767.6l2.7 0.4 2 0 2-0.2 2-0.6 1.3-0.6 1.7-1.2 1-1 1.2-1.7 0.9-2.4 0.4-2.6 0-2 -0.4-2.6 -0.9-2.3 -1.2-1.7 -1.2-1.3 -1.8-1.1 -2.3-0.9 -2.7-0.4 -2 0 -2.7 0.4 -2.3 0.9 -1.8 1.1 -1.2 1.3 -1.2 1.7 -0.9 2.3 -0.4 2.6 0.1 3 0.3 1.6 0.5 1.4 0.4 1 0.6 1 0.8 1 0.8 0.7 2 1.4z"/>
<path fill="#ff0300" d="M502.3 766.6l1.7 0 1-0.1 2-0.5 1-0.4 1-0.6 1-0.8 1-1 1-1.7 0.7-1.8 0.3-2 0-2 -0.3-2 -0.7-1.9 -1-1.5 -1.5-1.5 -1.5-0.9 -2-0.7 -2-0.4 -2 0 -2 0.4 -2 0.7 -1.5 0.9 -1.5 1.5 -1 1.5 -0.7 1.9 -0.3 2 0 2 0.3 2 0.7 2 0.6 1 0.8 1 1.1 1 1.6 1 1.9 0.6z"/>
</g>
<path d="M411.56 859.90v-2.0M411.56 653.55v2.0M398.50 847.00h2.0M607.50 847.00h-2.0M424.62 859.90v-3.8M424.62 653.55v3.8M398.50 834.11h3.8M607.50 834.11h-3.8M437.69 859.90v-2.0M437.69 653.55v2.0M398.50 821.21h2.0M607.50 821.21h-2.0M450.75 859.90v-3.8M450.75 653.55v3.8M398.50 808.31h3.8M607.50 808.31h-3.8M463.81 859.90v-2.0M463.81 653.55v2.0M398.50 795.42h2.0M607.50 795.42h-2.0M476.88 859.90v-3.8M476.88 653.55v3.8M398.50 782.52h3.8M607.50 782.52h-3.8M489.94 859.90v-2.0M489.94 653.55v2.0M398.50 769.62h2.0M607.50 769.62h-2.0M503.00 859.90v-3.8M503.00 653.55v3.8M398.50 756.73h3.8M607.50 756.73h-3.8M516.06 859.90v-2.0M516.06 653.55v2.0M398.50 743.83h2.0M607.50 743.83h-2.0M529.12 859.90v-3.8M529.12 653.55v3.8M398.50 730.93h3.8M607.50 730.93h-3.8M542.19 859.90v-2.0M542.19 653.55v2.0M398.50 718.03h2.0M607.50 718.03h-2.0M555.25 859.90v-3.8M555.25 653.55v3.8M398.50 705.14h3.8M607.50 705.14h-3.8M568.31 859.90v-2.0M568.31 653.55v2.0M398.50 692.24h2.0M607.50 692.24h-2.0M581.38 859.90v-3.8M581.38 653.55v3.8M398.50 679.34h3.8M607.50 679.34h-3.8M594.44 859.90v-2.0M594.44 653.55v2.0M398.50 666.45h2.0M607.50 666.45h-2.0" stroke="#000" stroke-width="1" fill="none"/><rect x="398.50" y="653.55" width="209.00" height="206.35" fill="none" stroke="#111" stroke-width="1.05"/>
<g class="tk" text-anchor="middle">
<text x="398.5" y="871.7">−2.0</text>
<text x="424.6" y="871.7">−1.5</text>
<text x="450.8" y="871.7">−1.0</text>
<text x="476.9" y="871.7">−0.5</text>
<text x="503.0" y="871.7">0.0</text>
<text x="529.1" y="871.7">0.5</text>
<text x="555.2" y="871.7">1.0</text>
<text x="581.4" y="871.7">1.5</text>
<text x="607.5" y="871.7">2.0</text>
</g><g class="tk" text-anchor="end">
<text x="394.6" y="863.0">−2.0</text>
<text x="394.6" y="837.2">−1.5</text>
<text x="394.6" y="811.4">−1.0</text>
<text x="394.6" y="785.6">−0.5</text>
<text x="394.6" y="759.8">0.0</text>
<text x="394.6" y="734.0">0.5</text>
<text x="394.6" y="708.2">1.0</text>
<text x="394.6" y="682.4">1.5</text>
<text x="394.6" y="656.6">2.0</text>
</g>
<text class="ax" text-anchor="middle" transform="translate(503.0 889.2) scale(1.12 1)">X</text>
<text class="ax" text-anchor="middle" transform="translate(372.6 757.1) rotate(-90) scale(1.15 1)">Y</text>
<text class="tag" x="407.2" y="678.0">(f)</text>
<rect x="641.00" y="653.55" width="17.40" height="206.35" fill="url(#cb)" stroke="#777" stroke-width="0.4"/>
<path d="M641.00 653.55v206.35M658.40 653.55v206.35" stroke="#2b2622" stroke-width="0.8" fill="none"/>
<path d="M658.40 653.85h3.2M658.40 679.64h3.2M658.40 705.44h3.2M658.40 731.23h3.2M658.40 757.02h3.2M658.40 782.82h3.2M658.40 808.61h3.2M658.40 834.41h3.2M658.40 860.20h3.2" stroke="#333" stroke-width="0.9" fill="none"/>
<g class="cl">
<text x="665.0" y="656.0">0.8260</text>
<text x="665.0" y="681.8">0.7365</text>
<text x="665.0" y="707.6">0.6470</text>
<text x="665.0" y="733.4">0.5575</text>
<text x="665.0" y="759.2">0.4680</text>
<text x="665.0" y="785.0">0.3785</text>
<text x="665.0" y="810.8">0.2890</text>
<text x="665.0" y="836.6">0.1995</text>
<text x="665.0" y="862.4">0.1100</text>
</g>
<text class="ax" text-anchor="middle" x="649.7" y="646.6">Electric Field</text>
</g>
</svg></body></html>
